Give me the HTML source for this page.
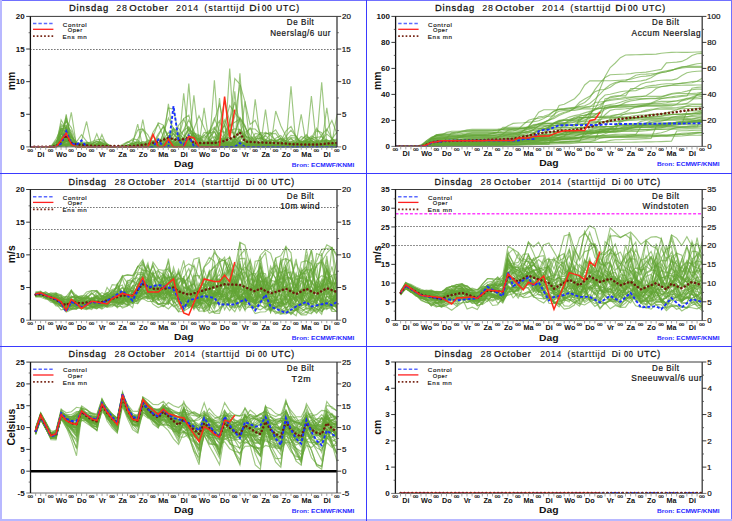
<!DOCTYPE html>
<html><head><meta charset="utf-8"><style>html,body{margin:0;padding:0;background:#fff;width:732px;height:521px;overflow:hidden}</style></head><body>
<svg width="732" height="521" viewBox="0 0 732 521" font-family='"Liberation Sans", sans-serif' style="display:block">
<rect x="0" y="0" width="732" height="521" fill="#fff"/>
<defs>
<clipPath id="c0"><rect x="30.4" y="15.399999999999999" width="306.6" height="132.0"/></clipPath>
<clipPath id="c1"><rect x="395.6" y="15.399999999999999" width="306.6" height="131.5"/></clipPath>
<clipPath id="c2"><rect x="30.4" y="188.5" width="306.6" height="132.2"/></clipPath>
<clipPath id="c3"><rect x="395.5" y="188.5" width="306.70000000000005" height="132.5"/></clipPath>
<clipPath id="c4"><rect x="30.5" y="361.1" width="306.5" height="132.39999999999998"/></clipPath>
<clipPath id="c5"><rect x="395.4" y="361.0" width="306.80000000000007" height="132.89999999999998"/></clipPath>
</defs>
<g clip-path="url(#c0)">
<line x1="30.4" y1="49.50" x2="337.0" y2="49.50" stroke="#222" stroke-width="1" stroke-dasharray="1,2"/>
<g fill="none" stroke="#62a535" stroke-opacity="0.62" stroke-width="1.15">
<polyline points="30.4,146.9 35.5,146.9 40.6,146.9 45.7,146.9 50.8,146.9 56.0,146.9 61.1,139.7 66.2,141.6 71.3,140.2 76.4,146.9 81.5,146.9 86.6,146.6 91.7,146.3 96.8,146.6 101.9,146.9 107.1,146.9 112.2,146.9 117.3,146.9 122.4,146.9 127.5,146.9 132.6,146.9 137.7,146.5 142.8,144.0 147.9,141.5 153.0,143.0 158.2,145.0 163.3,145.2 168.4,146.1 173.5,146.7 178.6,146.5 183.7,146.6 188.8,146.6 193.9,146.8 199.0,145.5 204.1,144.1 209.3,140.2 214.4,136.3 219.5,141.6 224.6,146.6 229.7,143.5 234.8,139.6 239.9,141.3 245.0,145.5 250.1,146.9 255.2,146.8 260.4,146.7 265.5,146.8 270.6,146.9 275.7,146.9 280.8,146.9 285.9,145.1 291.0,143.2 296.1,142.6 301.2,141.2 306.3,141.7 311.4,144.2 316.6,145.8 321.7,146.3 326.8,146.1 331.9,146.2 337.0,146.3"/>
<polyline points="30.4,146.9 35.5,146.9 40.6,146.9 45.7,146.9 50.8,146.9 56.0,145.6 61.1,141.2 66.2,143.3 71.3,144.5 76.4,146.9 81.5,146.6 86.6,146.2 91.7,145.8 96.8,146.3 101.9,146.9 107.1,146.9 112.2,146.9 117.3,146.9 122.4,146.9 127.5,146.9 132.6,146.9 137.7,146.9 142.8,146.0 147.9,144.1 153.0,144.0 158.2,145.9 163.3,145.8 168.4,144.7 173.5,145.2 178.6,145.7 183.7,146.3 188.8,145.3 193.9,143.6 199.0,145.2 204.1,146.8 209.3,145.9 214.4,142.8 219.5,141.7 224.6,144.8 229.7,146.9 234.8,146.8 239.9,146.8 245.0,146.8 250.1,146.9 255.2,146.8 260.4,144.2 265.5,141.8 270.6,144.4 275.7,146.7 280.8,146.5 285.9,146.3 291.0,144.0 296.1,142.2 301.2,139.5 306.3,135.9 311.4,140.6 316.6,146.4 321.7,146.9 326.8,146.9 331.9,145.5 337.0,144.1"/>
<polyline points="30.4,146.9 35.5,146.9 40.6,146.9 45.7,146.9 50.8,146.9 56.0,145.4 61.1,146.9 66.2,139.6 71.3,139.5 76.4,146.9 81.5,146.5 86.6,146.7 91.7,146.9 96.8,145.4 101.9,143.7 107.1,145.1 112.2,146.8 117.3,146.9 122.4,146.8 127.5,146.7 132.6,146.7 137.7,146.8 142.8,146.8 147.9,146.8 153.0,146.7 158.2,146.6 163.3,146.7 168.4,140.1 173.5,131.3 178.6,136.0 183.7,141.3 188.8,139.8 193.9,143.3 199.0,146.7 204.1,146.8 209.3,146.9 214.4,139.7 219.5,132.4 224.6,139.7 229.7,146.9 234.8,139.4 239.9,131.7 245.0,139.1 250.1,141.9 255.2,133.4 260.4,134.4 265.5,143.1 270.6,146.7 275.7,144.6 280.8,142.7 285.9,140.7 291.0,138.9 296.1,143.0 301.2,146.9 306.3,146.9 311.4,145.4 316.6,143.8 321.7,145.4 326.8,146.9 331.9,146.9 337.0,146.9"/>
<polyline points="30.4,146.9 35.5,146.9 40.6,146.9 45.7,146.9 50.8,146.9 56.0,146.9 61.1,134.4 66.2,116.7 71.3,136.7 76.4,142.0 81.5,134.7 86.6,141.4 91.7,146.3 96.8,145.8 101.9,146.3 107.1,146.9 112.2,146.9 117.3,146.9 122.4,146.9 127.5,145.0 132.6,143.0 137.7,145.0 142.8,146.9 147.9,146.9 153.0,145.0 158.2,142.6 163.3,144.1 168.4,146.5 173.5,146.0 178.6,143.9 183.7,143.6 188.8,145.7 193.9,142.5 199.0,138.1 204.1,142.5 209.3,143.7 214.4,140.4 219.5,143.7 224.6,139.5 229.7,130.7 234.8,128.8 239.9,129.5 245.0,138.9 250.1,146.9 255.2,146.9 260.4,146.9 265.5,146.8 270.6,146.3 275.7,145.7 280.8,146.3 285.9,146.8 291.0,146.8 296.1,146.9 301.2,146.1 306.3,145.1 311.4,145.8 316.6,144.2 321.7,141.2 326.8,130.2 331.9,120.5 337.0,134.0"/>
<polyline points="30.4,146.9 35.5,146.9 40.6,146.9 45.7,146.9 50.8,146.9 56.0,146.9 61.1,139.8 66.2,132.7 71.3,143.3 76.4,146.9 81.5,143.7 86.6,145.3 91.7,146.3 96.8,145.2 101.9,145.5 107.1,146.5 112.2,146.9 117.3,146.9 122.4,146.8 127.5,145.7 132.6,144.6 137.7,145.8 142.8,146.9 147.9,144.7 153.0,132.2 158.2,124.1 163.3,136.5 168.4,146.8 173.5,146.7 178.6,146.8 183.7,137.6 188.8,127.5 193.9,135.8 199.0,140.1 204.1,135.2 209.3,139.6 214.4,141.7 219.5,138.4 224.6,139.3 229.7,140.0 234.8,138.6 239.9,142.8 245.0,146.9 250.1,146.8 255.2,146.4 260.4,145.3 265.5,145.0 270.6,146.2 275.7,146.1 280.8,145.4 285.9,146.1 291.0,146.9 296.1,146.9 301.2,146.9 306.3,146.9 311.4,137.9 316.6,128.1 321.7,136.2 326.8,144.9 331.9,143.3 337.0,143.2"/>
<polyline points="30.4,146.9 35.5,146.9 40.6,146.9 45.7,146.9 50.8,146.9 56.0,145.9 61.1,142.0 66.2,114.3 71.3,143.5 76.4,146.9 81.5,146.7 86.6,146.8 91.7,145.9 96.8,144.9 101.9,145.9 107.1,146.9 112.2,146.9 117.3,146.9 122.4,146.9 127.5,146.9 132.6,146.5 137.7,146.1 142.8,145.8 147.9,145.2 153.0,145.0 158.2,145.2 163.3,145.5 168.4,145.1 173.5,145.2 178.6,146.3 183.7,146.9 188.8,146.9 193.9,146.9 199.0,146.8 204.1,146.7 209.3,146.6 214.4,145.8 219.5,144.7 224.6,142.7 229.7,141.7 234.8,144.5 239.9,146.9 245.0,146.9 250.1,144.5 255.2,142.1 260.4,144.1 265.5,142.5 270.6,139.3 275.7,141.6 280.8,142.6 285.9,142.8 291.0,145.0 296.1,146.3 301.2,144.9 306.3,143.3 311.4,145.1 316.6,146.7 321.7,145.7 326.8,144.7 331.9,145.2 337.0,145.7"/>
<polyline points="30.4,146.9 35.5,146.9 40.6,146.9 45.7,146.9 50.8,146.9 56.0,139.0 61.1,129.2 66.2,146.9 71.3,136.3 76.4,146.9 81.5,140.9 86.6,121.5 91.7,146.2 96.8,144.5 101.9,142.1 107.1,144.5 112.2,146.9 117.3,146.9 122.4,146.9 127.5,146.9 132.6,146.9 137.7,139.2 142.8,129.3 147.9,134.8 153.0,144.7 158.2,145.5 163.3,144.1 168.4,145.5 173.5,141.8 178.6,135.9 183.7,130.5 188.8,126.7 193.9,135.9 199.0,144.1 204.1,143.6 209.3,143.3 214.4,143.4 219.5,143.5 224.6,134.6 229.7,125.6 234.8,122.3 239.9,119.0 245.0,127.3 250.1,135.6 255.2,141.2 260.4,143.3 265.5,134.3 270.6,132.5 275.7,141.5 280.8,146.2 285.9,145.6 291.0,145.4 296.1,143.3 301.2,141.8 306.3,140.0 311.4,138.5 316.6,140.6 321.7,141.0 326.8,140.1 331.9,141.2 337.0,143.7"/>
<polyline points="30.4,146.9 35.5,146.9 40.6,146.9 45.7,146.9 50.8,146.9 56.0,146.9 61.1,134.3 66.2,120.1 71.3,134.6 76.4,146.9 81.5,145.4 86.6,146.2 91.7,146.7 96.8,143.5 101.9,140.7 107.1,143.9 112.2,146.9 117.3,146.9 122.4,146.9 127.5,145.0 132.6,143.2 137.7,124.1 142.8,146.9 147.9,146.9 153.0,146.9 158.2,146.9 163.3,146.9 168.4,140.3 173.5,133.7 178.6,140.3 183.7,138.1 188.8,129.2 193.9,133.5 199.0,137.0 204.1,140.8 209.3,131.8 214.4,118.3 219.5,130.6 224.6,132.6 229.7,124.3 234.8,136.6 239.9,146.0 245.0,136.0 250.1,127.7 255.2,137.7 260.4,146.9 265.5,146.9 270.6,146.0 275.7,143.8 280.8,142.3 285.9,136.3 291.0,130.1 296.1,136.7 301.2,143.8 306.3,140.4 311.4,136.0 316.6,138.8 321.7,144.7 326.8,146.9 331.9,146.9 337.0,146.9"/>
<polyline points="30.4,146.9 35.5,146.9 40.6,146.9 45.7,146.9 50.8,146.9 56.0,146.9 61.1,145.5 66.2,145.2 71.3,146.4 76.4,146.9 81.5,146.5 86.6,146.1 91.7,146.5 96.8,146.8 101.9,146.9 107.1,146.9 112.2,146.9 117.3,146.9 122.4,146.8 127.5,146.7 132.6,146.8 137.7,146.9 142.8,146.8 147.9,146.7 153.0,146.4 158.2,146.2 163.3,146.5 168.4,146.2 173.5,145.5 178.6,146.2 183.7,146.9 188.8,83.6 193.9,146.9 199.0,146.9 204.1,146.4 209.3,145.8 214.4,146.4 219.5,146.9 224.6,146.9 229.7,145.1 234.8,142.4 239.9,142.5 245.0,144.4 250.1,145.6 255.2,145.9 260.4,146.3 265.5,146.6 270.6,146.5 275.7,146.5 280.8,146.3 285.9,146.4 291.0,146.7 296.1,146.3 301.2,145.9 306.3,146.5 311.4,146.9 316.6,146.4 321.7,146.0 326.8,146.3 331.9,145.5 337.0,144.6"/>
<polyline points="30.4,146.9 35.5,146.9 40.6,146.9 45.7,146.9 50.8,146.9 56.0,146.9 61.1,132.8 66.2,141.3 71.3,139.5 76.4,146.9 81.5,145.6 86.6,144.2 91.7,145.2 96.8,146.6 101.9,146.8 107.1,146.9 112.2,146.9 117.3,146.9 122.4,146.9 127.5,146.9 132.6,145.2 137.7,143.2 142.8,144.7 147.9,146.6 153.0,146.9 158.2,146.9 163.3,146.4 168.4,145.9 173.5,146.4 178.6,146.9 183.7,141.8 188.8,133.1 193.9,134.5 199.0,143.3 204.1,146.9 209.3,146.7 214.4,80.3 219.5,146.7 224.6,146.9 229.7,146.9 234.8,146.1 239.9,145.3 245.0,146.1 250.1,146.9 255.2,146.5 260.4,146.2 265.5,144.7 270.6,143.2 275.7,145.0 280.8,145.7 285.9,144.6 291.0,145.7 296.1,144.5 301.2,142.2 306.3,140.4 311.4,138.5 316.6,137.4 321.7,136.6 326.8,141.6 331.9,146.4 337.0,146.7"/>
<polyline points="30.4,146.9 35.5,146.9 40.6,146.9 45.7,146.9 50.8,146.9 56.0,145.0 61.1,137.1 66.2,135.9 71.3,141.8 76.4,146.9 81.5,146.9 86.6,146.4 91.7,146.0 96.8,146.2 101.9,146.4 107.1,146.6 112.2,146.9 117.3,146.9 122.4,146.9 127.5,146.7 132.6,146.6 137.7,144.6 142.8,142.2 147.9,144.0 153.0,146.5 158.2,146.9 163.3,146.9 168.4,146.9 173.5,146.9 178.6,146.9 183.7,144.0 188.8,140.2 193.9,142.2 199.0,144.0 204.1,142.8 209.3,137.3 214.4,131.8 219.5,139.3 224.6,146.8 229.7,132.1 234.8,116.5 239.9,84.9 245.0,146.1 250.1,145.5 255.2,144.1 260.4,145.5 265.5,146.9 270.6,146.9 275.7,146.9 280.8,146.9 285.9,146.9 291.0,146.9 296.1,146.3 301.2,145.3 306.3,145.6 311.4,146.5 316.6,146.9 321.7,146.9 326.8,146.9 331.9,146.9 337.0,146.9"/>
<polyline points="30.4,146.9 35.5,146.9 40.6,146.9 45.7,146.9 50.8,146.9 56.0,145.9 61.1,144.4 66.2,140.4 71.3,141.8 76.4,145.3 81.5,146.5 86.6,146.5 91.7,146.1 96.8,146.3 101.9,146.5 107.1,146.7 112.2,146.9 117.3,146.9 122.4,146.9 127.5,146.9 132.6,146.6 137.7,146.4 142.8,146.2 147.9,145.3 153.0,145.1 158.2,135.9 163.3,126.1 168.4,136.5 173.5,145.3 178.6,143.7 183.7,145.3 188.8,146.9 193.9,146.9 199.0,146.9 204.1,146.9 209.3,146.9 214.4,146.6 219.5,145.3 224.6,143.1 229.7,142.9 234.8,145.3 239.9,146.9 245.0,146.7 250.1,146.5 255.2,99.3 260.4,140.8 265.5,143.6 270.6,146.3 275.7,146.6 280.8,144.8 285.9,142.6 291.0,144.3 296.1,146.1 301.2,144.7 306.3,143.2 311.4,144.6 316.6,146.1 321.7,146.5 326.8,146.3 331.9,143.6 337.0,142.1"/>
<polyline points="30.4,146.9 35.5,146.9 40.6,146.9 45.7,146.9 50.8,146.9 56.0,146.6 61.1,145.6 66.2,144.6 71.3,145.8 76.4,146.6 81.5,146.7 86.6,146.8 91.7,146.9 96.8,146.9 101.9,146.8 107.1,146.7 112.2,146.8 117.3,146.9 122.4,146.9 127.5,146.9 132.6,146.9 137.7,146.9 142.8,146.9 147.9,146.4 153.0,145.7 158.2,145.3 163.3,145.5 168.4,146.3 173.5,146.9 178.6,146.9 183.7,146.9 188.8,146.2 193.9,145.4 199.0,146.2 204.1,146.9 209.3,145.5 214.4,144.1 219.5,145.5 224.6,146.7 229.7,146.4 234.8,146.7 239.9,146.8 245.0,146.7 250.1,146.8 255.2,146.9 260.4,146.9 265.5,146.9 270.6,146.5 275.7,146.2 280.8,146.5 285.9,146.8 291.0,146.3 296.1,145.7 301.2,146.1 306.3,145.7 311.4,96.0 316.6,145.9 321.7,146.2 326.8,145.4 331.9,146.2 337.0,146.9"/>
<polyline points="30.4,146.9 35.5,146.9 40.6,146.9 45.7,146.9 50.8,146.9 56.0,146.9 61.1,146.0 66.2,141.0 71.3,144.0 76.4,146.9 81.5,146.2 86.6,145.6 91.7,146.3 96.8,146.9 101.9,146.9 107.1,146.8 112.2,146.9 117.3,146.9 122.4,146.9 127.5,146.8 132.6,146.8 137.7,146.7 142.8,146.7 147.9,145.9 153.0,145.2 158.2,146.1 163.3,145.0 168.4,143.2 173.5,143.9 178.6,141.5 183.7,138.8 188.8,141.4 193.9,144.2 199.0,145.8 204.1,107.8 209.3,143.9 214.4,142.5 219.5,145.0 224.6,146.9 229.7,146.1 234.8,145.3 239.9,146.1 245.0,146.9 250.1,145.6 255.2,144.2 260.4,145.1 265.5,146.0 270.6,146.5 275.7,146.9 280.8,146.8 285.9,145.9 291.0,144.8 296.1,145.1 301.2,146.3 306.3,146.9 311.4,146.8 316.6,146.9 321.7,144.7 326.8,142.6 331.9,144.5 337.0,146.4"/>
<polyline points="30.4,146.9 35.5,146.9 40.6,146.9 45.7,146.9 50.8,146.9 56.0,141.9 61.1,134.5 66.2,137.2 71.3,144.8 76.4,146.9 81.5,142.0 86.6,142.3 91.7,142.8 96.8,141.9 101.9,143.0 107.1,145.7 112.2,146.9 117.3,146.9 122.4,146.9 127.5,145.4 132.6,144.0 137.7,144.7 142.8,145.4 147.9,143.4 153.0,141.5 158.2,144.2 163.3,143.5 168.4,137.1 173.5,130.5 178.6,128.3 183.7,135.9 188.8,138.0 193.9,132.9 199.0,135.1 204.1,138.2 209.3,132.6 214.4,127.2 219.5,135.3 224.6,124.3 229.7,105.5 234.8,112.7 239.9,119.9 245.0,133.3 250.1,145.9 255.2,145.2 260.4,145.8 265.5,144.9 270.6,143.2 275.7,145.1 280.8,145.0 285.9,142.2 291.0,142.1 296.1,143.1 301.2,114.3 306.3,144.8 311.4,144.5 316.6,143.6 321.7,134.9 326.8,129.1 331.9,138.2 337.0,145.2"/>
<polyline points="30.4,146.9 35.5,146.9 40.6,146.9 45.7,146.9 50.8,146.9 56.0,146.9 61.1,133.4 66.2,137.8 71.3,141.0 76.4,146.9 81.5,146.9 86.6,146.7 91.7,144.2 96.8,141.2 101.9,142.8 107.1,146.0 112.2,146.9 117.3,146.9 122.4,146.8 127.5,146.1 132.6,145.5 137.7,146.2 142.8,146.9 147.9,146.8 153.0,146.9 158.2,145.5 163.3,144.2 168.4,145.5 173.5,146.9 178.6,138.5 183.7,118.5 188.8,115.2 193.9,135.2 199.0,146.9 204.1,146.6 209.3,146.3 214.4,141.9 219.5,137.5 224.6,142.2 229.7,146.9 234.8,146.9 239.9,146.7 245.0,144.3 250.1,142.2 255.2,144.6 260.4,146.1 265.5,143.9 270.6,143.2 275.7,141.2 280.8,138.4 285.9,142.6 291.0,146.7 296.1,146.5 301.2,146.7 306.3,146.9 311.4,146.2 316.6,145.5 321.7,146.2 326.8,146.6 331.9,146.4 337.0,146.6"/>
<polyline points="30.4,146.9 35.5,146.9 40.6,146.9 45.7,146.9 50.8,146.9 56.0,146.9 61.1,128.5 66.2,128.8 71.3,141.2 76.4,146.9 81.5,142.5 86.6,144.7 91.7,146.9 96.8,146.8 101.9,146.3 107.1,146.1 112.2,146.6 117.3,146.9 122.4,146.9 127.5,146.9 132.6,146.9 137.7,144.8 142.8,141.5 147.9,142.2 153.0,143.5 158.2,134.0 163.3,127.1 168.4,136.5 173.5,144.1 178.6,142.0 183.7,129.7 188.8,120.1 193.9,130.8 199.0,143.8 204.1,146.8 209.3,146.9 214.4,142.0 219.5,136.6 224.6,141.0 229.7,146.4 234.8,138.6 239.9,130.3 245.0,137.4 250.1,144.5 255.2,143.7 260.4,142.9 265.5,144.9 270.6,146.8 275.7,146.0 280.8,141.8 285.9,131.0 291.0,126.4 296.1,136.6 301.2,144.4 306.3,142.2 311.4,140.1 316.6,143.7 321.7,146.4 326.8,145.9 331.9,138.9 337.0,131.9"/>
<polyline points="30.4,146.9 35.5,146.9 40.6,146.9 45.7,146.9 50.8,146.9 56.0,142.1 61.1,139.1 66.2,137.2 71.3,141.1 76.4,146.9 81.5,146.0 86.6,145.2 91.7,145.5 96.8,144.4 101.9,143.0 107.1,145.1 112.2,146.9 117.3,146.9 122.4,146.9 127.5,146.9 132.6,141.6 137.7,129.9 142.8,128.9 147.9,140.2 153.0,146.0 158.2,146.4 163.3,146.2 168.4,139.2 173.5,133.4 178.6,140.5 183.7,146.8 188.8,146.6 193.9,146.6 199.0,146.5 204.1,142.4 209.3,132.9 214.4,131.7 219.5,141.0 224.6,146.1 229.7,146.5 234.8,138.0 239.9,129.2 245.0,135.1 250.1,141.1 255.2,143.8 260.4,145.9 265.5,145.0 270.6,144.6 275.7,144.4 280.8,145.3 285.9,146.5 291.0,146.9 296.1,146.9 301.2,143.9 306.3,140.9 311.4,143.9 316.6,146.7 321.7,140.3 326.8,134.0 331.9,138.4 337.0,143.6"/>
<polyline points="30.4,146.9 35.5,146.9 40.6,146.9 45.7,146.9 50.8,146.9 56.0,146.0 61.1,145.8 66.2,144.6 71.3,143.9 76.4,146.9 81.5,146.8 86.6,146.8 91.7,146.8 96.8,146.8 101.9,146.7 107.1,146.8 112.2,146.9 117.3,146.9 122.4,146.9 127.5,146.9 132.6,146.9 137.7,146.7 142.8,146.1 147.9,146.1 153.0,145.5 158.2,144.4 163.3,144.0 168.4,143.9 173.5,145.5 178.6,144.7 183.7,142.1 188.8,143.5 193.9,144.3 199.0,144.1 204.1,145.0 209.3,145.5 214.4,146.2 219.5,146.8 224.6,146.6 229.7,146.7 234.8,146.1 239.9,145.4 245.0,145.4 250.1,144.9 255.2,145.2 260.4,146.4 265.5,146.8 270.6,146.9 275.7,146.9 280.8,146.9 285.9,146.7 291.0,146.6 296.1,146.6 301.2,146.5 306.3,146.7 311.4,146.9 316.6,145.7 321.7,144.5 326.8,145.6 331.9,146.7 337.0,146.6"/>
<polyline points="30.4,146.9 35.5,146.9 40.6,146.9 45.7,146.9 50.8,146.9 56.0,146.9 61.1,145.0 66.2,145.0 71.3,143.4 76.4,146.5 81.5,145.8 86.6,146.4 91.7,146.9 96.8,146.9 101.9,146.9 107.1,146.9 112.2,146.9 117.3,146.9 122.4,146.9 127.5,146.9 132.6,146.6 137.7,146.2 142.8,146.5 147.9,146.5 153.0,146.4 158.2,146.7 163.3,146.6 168.4,146.2 173.5,146.6 178.6,145.5 183.7,144.1 188.8,145.5 193.9,146.8 199.0,145.8 204.1,145.2 209.3,146.1 214.4,146.9 219.5,146.9 224.6,146.5 229.7,140.6 234.8,135.4 239.9,141.0 245.0,146.7 250.1,146.9 255.2,146.9 260.4,146.6 265.5,144.3 270.6,142.6 275.7,144.9 280.8,146.9 285.9,146.9 291.0,146.5 296.1,146.0 301.2,145.9 306.3,145.8 311.4,146.2 316.6,146.6 321.7,144.3 326.8,141.9 331.9,144.4 337.0,146.9"/>
<polyline points="30.4,146.9 35.5,146.9 40.6,146.9 45.7,146.9 50.8,146.9 56.0,146.9 61.1,133.5 66.2,120.9 71.3,127.6 76.4,142.7 81.5,144.2 86.6,143.5 91.7,143.6 96.8,143.6 101.9,145.2 107.1,146.9 112.2,146.9 117.3,146.9 122.4,146.9 127.5,146.3 132.6,143.6 137.7,142.0 142.8,144.7 147.9,146.9 153.0,146.9 158.2,146.9 163.3,133.9 168.4,118.1 173.5,128.4 178.6,144.1 183.7,138.3 188.8,129.7 193.9,138.3 199.0,146.9 204.1,144.0 209.3,141.2 214.4,144.1 219.5,146.9 224.6,146.8 229.7,124.5 234.8,78.6 239.9,84.0 245.0,101.7 250.1,124.4 255.2,120.3 260.4,133.5 265.5,146.6 270.6,146.1 275.7,145.7 280.8,146.3 285.9,146.9 291.0,145.2 296.1,143.1 301.2,143.8 306.3,145.3 311.4,146.3 316.6,146.9 321.7,146.9 326.8,146.4 331.9,146.0 337.0,146.4"/>
<polyline points="30.4,146.9 35.5,146.9 40.6,146.9 45.7,146.9 50.8,146.9 56.0,146.9 61.1,138.0 66.2,141.5 71.3,144.1 76.4,146.9 81.5,146.4 86.6,146.7 91.7,145.4 96.8,143.9 101.9,145.4 107.1,146.9 112.2,146.9 117.3,146.9 122.4,146.9 127.5,146.9 132.6,146.9 137.7,146.9 142.8,146.8 147.9,146.6 153.0,146.4 158.2,144.7 163.3,143.3 168.4,144.6 173.5,141.7 178.6,137.9 183.7,140.3 188.8,142.4 193.9,142.3 199.0,142.2 204.1,144.6 209.3,146.7 214.4,146.6 219.5,146.7 224.6,146.9 229.7,146.9 234.8,146.9 239.9,146.9 245.0,146.9 250.1,145.8 255.2,144.5 260.4,139.8 265.5,135.4 270.6,141.2 275.7,146.9 280.8,146.3 285.9,144.4 291.0,143.7 296.1,145.6 301.2,146.5 306.3,145.4 311.4,144.4 316.6,142.3 321.7,139.9 326.8,142.2 331.9,142.2 337.0,139.6"/>
<polyline points="30.4,146.9 35.5,146.9 40.6,146.9 45.7,146.9 50.8,146.9 56.0,144.6 61.1,138.3 66.2,137.5 71.3,112.3 76.4,145.2 81.5,146.4 86.6,146.9 91.7,146.9 96.8,146.9 101.9,146.9 107.1,146.9 112.2,146.9 117.3,146.9 122.4,146.8 127.5,146.3 132.6,146.1 137.7,146.5 142.8,146.6 147.9,146.5 153.0,146.7 158.2,146.8 163.3,139.4 168.4,132.2 173.5,139.6 178.6,146.9 183.7,145.8 188.8,144.7 193.9,145.8 199.0,146.9 204.1,146.9 209.3,146.8 214.4,146.9 219.5,124.9 224.6,101.2 229.7,121.6 234.8,140.1 239.9,136.6 245.0,140.8 250.1,143.1 255.2,139.5 260.4,137.8 265.5,140.9 270.6,145.3 275.7,146.8 280.8,146.9 285.9,146.4 291.0,145.7 296.1,146.0 301.2,144.0 306.3,141.5 311.4,142.9 316.6,144.3 321.7,145.0 326.8,145.5 331.9,145.9 337.0,146.5"/>
<polyline points="30.4,146.9 35.5,146.9 40.6,146.9 45.7,146.9 50.8,146.9 56.0,144.0 61.1,144.2 66.2,130.6 71.3,135.3 76.4,143.9 81.5,144.1 86.6,145.5 91.7,146.6 96.8,133.8 101.9,146.9 107.1,146.9 112.2,146.9 117.3,146.9 122.4,146.9 127.5,145.9 132.6,143.2 137.7,142.4 142.8,145.1 147.9,146.9 153.0,146.9 158.2,143.2 163.3,139.5 168.4,143.2 173.5,145.4 178.6,143.8 183.7,145.4 188.8,146.9 193.9,146.9 199.0,146.8 204.1,146.4 209.3,143.8 214.4,141.6 219.5,144.3 224.6,146.9 229.7,146.3 234.8,145.8 239.9,146.3 245.0,146.9 250.1,144.6 255.2,141.6 260.4,142.7 265.5,145.1 270.6,146.3 275.7,146.7 280.8,146.1 285.9,145.3 291.0,146.0 296.1,146.8 301.2,146.7 306.3,146.5 311.4,146.7 316.6,146.9 321.7,146.9 326.8,146.6 331.9,146.3 337.0,146.6"/>
<polyline points="30.4,146.9 35.5,146.9 40.6,146.9 45.7,146.9 50.8,146.9 56.0,145.9 61.1,146.3 66.2,146.9 71.3,145.4 76.4,146.9 81.5,146.0 86.6,145.2 91.7,145.8 96.8,146.4 101.9,146.7 107.1,146.9 112.2,146.9 117.3,146.9 122.4,146.9 127.5,146.9 132.6,146.9 137.7,146.9 142.8,119.5 147.9,146.8 153.0,146.8 158.2,146.9 163.3,143.8 168.4,140.2 173.5,142.6 178.6,146.3 183.7,146.7 188.8,143.9 193.9,141.5 199.0,144.3 204.1,143.8 209.3,140.7 214.4,143.6 219.5,146.5 224.6,145.4 229.7,143.0 234.8,141.5 239.9,142.9 245.0,145.5 250.1,146.8 255.2,145.1 260.4,143.4 265.5,145.2 270.6,146.9 275.7,146.9 280.8,146.9 285.9,146.1 291.0,142.3 296.1,139.5 301.2,142.6 306.3,145.8 311.4,145.7 316.6,145.8 321.7,146.1 326.8,146.3 331.9,145.9 337.0,145.4"/>
<polyline points="30.4,146.9 35.5,146.9 40.6,146.9 45.7,146.9 50.8,146.9 56.0,146.9 61.1,143.1 66.2,130.1 71.3,142.7 76.4,146.9 81.5,146.0 86.6,145.0 91.7,145.5 96.8,145.9 101.9,146.4 107.1,146.9 112.2,146.9 117.3,146.9 122.4,146.9 127.5,146.7 132.6,146.6 137.7,146.8 142.8,146.3 147.9,145.7 153.0,145.3 158.2,145.0 163.3,144.4 168.4,143.9 173.5,145.3 178.6,146.7 183.7,93.4 188.8,139.3 193.9,143.1 199.0,146.7 204.1,146.5 209.3,146.7 214.4,146.9 219.5,144.3 224.6,141.7 229.7,144.3 234.8,146.1 239.9,144.1 245.0,143.9 250.1,145.8 255.2,146.4 260.4,145.5 265.5,145.8 270.6,146.4 275.7,144.8 280.8,143.2 285.9,145.1 291.0,146.9 296.1,146.9 301.2,146.9 306.3,146.5 311.4,146.0 316.6,146.5 321.7,146.9 326.8,146.3 331.9,145.4 337.0,145.7"/>
<polyline points="30.4,146.9 35.5,146.9 40.6,146.9 45.7,146.9 50.8,146.9 56.0,146.9 61.1,143.8 66.2,125.9 71.3,141.4 76.4,145.6 81.5,146.1 86.6,145.9 91.7,146.4 96.8,146.9 101.9,146.9 107.1,146.9 112.2,146.9 117.3,146.9 122.4,145.8 127.5,141.9 132.6,140.3 137.7,144.2 142.8,146.9 147.9,145.9 153.0,144.9 158.2,145.9 163.3,146.8 168.4,146.6 173.5,146.5 178.6,145.9 183.7,143.8 188.8,142.4 193.9,128.7 199.0,115.7 204.1,127.7 209.3,138.9 214.4,142.9 219.5,146.9 224.6,146.9 229.7,68.6 234.8,144.9 239.9,142.9 245.0,143.0 250.1,143.2 255.2,145.1 260.4,144.6 265.5,140.9 270.6,141.8 275.7,145.5 280.8,146.9 285.9,146.9 291.0,146.9 296.1,146.9 301.2,143.4 306.3,139.8 311.4,143.4 316.6,146.9 321.7,146.9 326.8,146.9 331.9,145.0 337.0,143.1"/>
<polyline points="30.4,146.9 35.5,146.9 40.6,146.9 45.7,146.9 50.8,146.9 56.0,146.2 61.1,146.1 66.2,143.3 71.3,145.9 76.4,146.9 81.5,146.2 86.6,145.7 91.7,146.3 96.8,146.7 101.9,146.6 107.1,146.8 112.2,146.9 117.3,146.9 122.4,146.8 127.5,146.2 132.6,145.7 137.7,146.3 142.8,146.9 147.9,146.9 153.0,146.5 158.2,146.2 163.3,146.5 168.4,146.9 173.5,146.2 178.6,145.5 183.7,142.7 188.8,139.3 193.9,141.9 199.0,146.1 204.1,146.9 209.3,146.9 214.4,146.9 219.5,146.9 224.6,146.9 229.7,146.9 234.8,91.4 239.9,146.9 245.0,146.6 250.1,146.4 255.2,146.5 260.4,145.9 265.5,145.5 270.6,145.4 275.7,145.0 280.8,145.7 285.9,146.4 291.0,146.0 296.1,145.6 301.2,146.2 306.3,146.9 311.4,146.9 316.6,146.9 321.7,145.2 326.8,143.6 331.9,144.8 337.0,146.0"/>
<polyline points="30.4,146.9 35.5,146.9 40.6,146.9 45.7,146.9 50.8,146.9 56.0,146.9 61.1,127.6 66.2,141.9 71.3,140.7 76.4,146.9 81.5,146.9 86.6,146.9 91.7,146.9 96.8,146.9 101.9,146.9 107.1,146.9 112.2,146.9 117.3,146.9 122.4,146.7 127.5,146.5 132.6,146.7 137.7,146.9 142.8,146.7 147.9,146.5 153.0,146.3 158.2,146.1 163.3,144.5 168.4,142.1 173.5,138.5 178.6,125.3 183.7,119.0 188.8,130.5 193.9,137.6 199.0,140.7 204.1,145.6 209.3,146.9 214.4,146.9 219.5,134.1 224.6,120.1 229.7,131.8 234.8,133.3 239.9,118.0 245.0,126.4 250.1,142.8 255.2,146.8 260.4,146.8 265.5,109.7 270.6,146.9 275.7,146.7 280.8,145.0 285.9,143.8 291.0,145.4 296.1,144.8 301.2,142.8 306.3,144.8 311.4,146.4 316.6,145.9 321.7,146.4 326.8,146.8 331.9,146.6 337.0,146.8"/>
<polyline points="30.4,146.9 35.5,146.9 40.6,146.9 45.7,146.9 50.8,146.9 56.0,146.9 61.1,138.8 66.2,146.9 71.3,142.1 76.4,145.7 81.5,144.5 86.6,142.7 91.7,144.8 96.8,146.2 101.9,145.5 107.1,146.2 112.2,146.9 117.3,146.9 122.4,146.9 127.5,146.9 132.6,146.9 137.7,146.8 142.8,146.5 147.9,145.7 153.0,142.3 158.2,140.2 163.3,143.9 168.4,146.9 173.5,146.9 178.6,146.9 183.7,146.2 188.8,142.6 193.9,136.3 199.0,135.7 204.1,142.8 209.3,146.9 214.4,146.9 219.5,143.6 224.6,137.6 229.7,138.2 234.8,143.8 239.9,146.2 245.0,146.5 250.1,146.9 255.2,146.8 260.4,145.7 265.5,144.6 270.6,145.7 275.7,146.9 280.8,146.9 285.9,146.9 291.0,146.8 296.1,146.6 301.2,146.1 306.3,145.3 311.4,145.0 316.6,142.8 321.7,82.3 326.8,144.3 331.9,146.9 337.0,146.9"/>
<polyline points="30.4,146.9 35.5,146.9 40.6,146.9 45.7,146.9 50.8,146.9 56.0,146.4 61.1,144.3 66.2,144.9 71.3,145.5 76.4,146.1 81.5,146.6 86.6,146.8 91.7,146.9 96.8,146.9 101.9,146.9 107.1,146.9 112.2,146.9 117.3,146.9 122.4,146.9 127.5,146.9 132.6,146.7 137.7,146.5 142.8,146.7 147.9,146.7 153.0,146.2 158.2,145.7 163.3,145.3 168.4,144.9 173.5,145.1 178.6,146.0 183.7,146.6 188.8,144.8 193.9,143.4 199.0,145.2 204.1,146.9 209.3,146.9 214.4,146.9 219.5,98.0 224.6,146.2 229.7,145.3 234.8,145.8 239.9,146.7 245.0,146.4 250.1,146.0 255.2,146.4 260.4,146.9 265.5,145.7 270.6,144.6 275.7,145.5 280.8,146.1 285.9,146.1 291.0,146.6 296.1,146.7 301.2,146.5 306.3,146.6 311.4,146.5 316.6,146.2 321.7,146.6 326.8,146.6 331.9,146.4 337.0,146.6"/>
<polyline points="30.4,146.9 35.5,146.9 40.6,146.9 45.7,146.9 50.8,146.9 56.0,144.5 61.1,139.8 66.2,127.0 71.3,139.5 76.4,146.9 81.5,145.2 86.6,144.2 91.7,144.5 96.8,145.8 101.9,146.4 107.1,146.6 112.2,146.9 117.3,146.9 122.4,146.9 127.5,146.9 132.6,144.1 137.7,141.3 142.8,144.1 147.9,146.9 153.0,146.9 158.2,146.9 163.3,146.9 168.4,137.6 173.5,128.3 178.6,133.4 183.7,138.6 188.8,138.8 193.9,137.1 199.0,139.2 204.1,142.2 209.3,141.4 214.4,144.1 219.5,146.9 224.6,146.9 229.7,146.9 234.8,146.9 239.9,146.9 245.0,144.1 250.1,138.7 255.2,138.9 260.4,138.1 265.5,132.3 270.6,135.5 275.7,140.6 280.8,141.4 285.9,140.5 291.0,135.4 296.1,136.0 301.2,142.8 306.3,145.4 311.4,144.4 316.6,143.7 321.7,144.9 326.8,107.8 331.9,142.8 337.0,145.1"/>
<polyline points="30.4,146.9 35.5,146.9 40.6,146.9 45.7,146.9 50.8,146.9 56.0,144.6 61.1,139.3 66.2,136.0 71.3,145.2 76.4,146.9 81.5,146.9 86.6,146.9 91.7,146.8 96.8,146.9 101.9,146.9 107.1,146.9 112.2,146.9 117.3,146.9 122.4,146.3 127.5,145.5 132.6,145.9 137.7,146.6 142.8,146.6 147.9,146.7 153.0,146.3 158.2,145.7 163.3,146.3 168.4,146.9 173.5,146.9 178.6,146.6 183.7,146.2 188.8,142.2 193.9,136.1 199.0,138.5 204.1,144.9 209.3,146.7 214.4,146.5 219.5,144.6 224.6,142.6 229.7,144.8 234.8,146.9 239.9,141.4 245.0,132.3 250.1,128.8 255.2,129.0 260.4,134.3 265.5,143.2 270.6,146.9 275.7,146.8 280.8,146.7 285.9,146.8 291.0,145.9 296.1,144.9 301.2,145.3 306.3,145.7 311.4,146.3 316.6,146.9 321.7,143.5 326.8,140.0 331.9,142.6 337.0,145.1"/>
<polyline points="30.4,146.9 35.5,146.9 40.6,146.9 45.7,146.9 50.8,146.9 56.0,142.9 61.1,124.0 66.2,128.0 71.3,141.0 76.4,146.9 81.5,146.3 86.6,146.5 91.7,146.7 96.8,145.4 101.9,144.2 107.1,145.5 112.2,146.9 117.3,146.9 122.4,146.3 127.5,143.0 132.6,138.9 137.7,139.9 142.8,144.7 147.9,146.9 153.0,146.5 158.2,146.1 163.3,133.2 168.4,108.0 173.5,109.2 178.6,134.7 183.7,146.9 188.8,146.9 193.9,145.8 199.0,144.8 204.1,145.8 209.3,146.9 214.4,146.9 219.5,146.9 224.6,146.9 229.7,146.3 234.8,145.7 239.9,146.3 245.0,144.6 250.1,142.1 255.2,137.5 260.4,133.0 265.5,139.7 270.6,143.6 275.7,141.2 280.8,143.6 285.9,145.7 291.0,146.3 296.1,142.4 301.2,136.5 306.3,138.8 311.4,143.2 316.6,144.0 321.7,141.5 326.8,139.9 331.9,143.8 337.0,146.9"/>
<polyline points="30.4,146.9 35.5,146.9 40.6,146.9 45.7,146.9 50.8,146.9 56.0,145.5 61.1,143.9 66.2,141.8 71.3,144.7 76.4,146.9 81.5,146.9 86.6,146.8 91.7,146.9 96.8,146.9 101.9,146.8 107.1,146.7 112.2,146.8 117.3,146.9 122.4,146.9 127.5,146.9 132.6,146.9 137.7,146.9 142.8,144.4 147.9,140.2 153.0,140.7 158.2,144.5 163.3,146.4 168.4,146.8 173.5,145.2 178.6,143.5 183.7,144.8 188.8,146.1 193.9,146.5 199.0,146.1 204.1,145.3 209.3,146.1 214.4,144.3 219.5,141.8 224.6,139.4 229.7,137.0 234.8,141.9 239.9,146.9 245.0,146.5 250.1,146.2 255.2,142.2 260.4,138.1 265.5,139.6 270.6,141.0 275.7,140.1 280.8,139.1 285.9,141.2 291.0,143.1 296.1,144.8 301.2,140.5 306.3,134.3 311.4,140.6 316.6,144.2 321.7,141.4 326.8,142.2 331.9,140.0 337.0,139.0"/>
<polyline points="30.4,146.9 35.5,146.9 40.6,146.9 45.7,146.9 50.8,146.9 56.0,146.9 61.1,143.2 66.2,138.7 71.3,142.0 76.4,146.9 81.5,146.9 86.6,146.9 91.7,146.5 96.8,146.1 101.9,146.5 107.1,146.9 112.2,146.9 117.3,146.9 122.4,146.6 127.5,146.3 132.6,146.6 137.7,146.9 142.8,146.9 147.9,146.9 153.0,146.9 158.2,143.5 163.3,137.5 168.4,138.5 173.5,144.4 178.6,146.9 183.7,146.9 188.8,146.9 193.9,146.9 199.0,146.8 204.1,146.9 209.3,146.2 214.4,144.5 219.5,143.1 224.6,144.0 229.7,146.0 234.8,146.9 239.9,146.9 245.0,146.9 250.1,146.9 255.2,146.9 260.4,146.9 265.5,146.9 270.6,146.9 275.7,146.8 280.8,146.7 285.9,146.7 291.0,146.8 296.1,146.8 301.2,146.7 306.3,145.9 311.4,145.2 316.6,146.0 321.7,146.5 326.8,144.0 331.9,142.0 337.0,144.6"/>
<polyline points="30.4,146.9 35.5,146.9 40.6,146.9 45.7,146.9 50.8,146.9 56.0,146.9 61.1,126.7 66.2,125.4 71.3,131.0 76.4,146.9 81.5,145.5 86.6,143.1 91.7,141.8 96.8,139.7 101.9,139.2 107.1,143.8 112.2,146.9 117.3,146.9 122.4,146.9 127.5,146.9 132.6,145.9 137.7,144.8 142.8,145.9 147.9,146.9 153.0,146.9 158.2,146.9 163.3,141.8 168.4,136.7 173.5,141.1 178.6,145.1 183.7,145.4 188.8,146.4 193.9,146.7 199.0,144.4 204.1,135.1 209.3,130.5 214.4,139.9 219.5,143.6 224.6,140.2 229.7,121.1 234.8,101.9 239.9,122.7 245.0,143.0 250.1,141.0 255.2,140.0 260.4,143.6 265.5,146.7 270.6,144.8 275.7,138.2 280.8,135.4 285.9,142.1 291.0,144.5 296.1,142.1 301.2,144.5 306.3,146.9 311.4,146.9 316.6,145.6 321.7,142.4 326.8,141.9 331.9,145.1 337.0,146.9"/>
<polyline points="30.4,146.9 35.5,146.9 40.6,146.9 45.7,146.9 50.8,146.9 56.0,145.0 61.1,144.6 66.2,143.2 71.3,143.8 76.4,146.9 81.5,145.8 86.6,146.0 91.7,146.2 96.8,146.3 101.9,146.3 107.1,146.5 112.2,146.8 117.3,146.9 122.4,146.9 127.5,146.9 132.6,146.5 137.7,146.2 142.8,145.8 147.9,145.3 153.0,145.3 158.2,145.3 163.3,145.7 168.4,146.2 173.5,143.7 178.6,140.4 183.7,140.6 188.8,137.5 193.9,135.0 199.0,141.8 204.1,146.9 209.3,146.9 214.4,146.9 219.5,146.9 224.6,146.3 229.7,143.8 234.8,141.7 239.9,141.9 245.0,143.0 250.1,144.8 255.2,144.8 260.4,143.4 265.5,140.4 270.6,133.9 275.7,133.4 280.8,140.9 285.9,145.6 291.0,146.3 296.1,146.8 301.2,146.9 306.3,146.9 311.4,146.9 316.6,146.8 321.7,146.9 326.8,144.1 331.9,139.9 337.0,141.1"/>
<polyline points="30.4,146.9 35.5,146.9 40.6,146.9 45.7,146.9 50.8,146.9 56.0,140.7 61.1,141.9 66.2,126.1 71.3,137.4 76.4,143.1 81.5,146.0 86.6,146.7 91.7,146.4 96.8,145.4 101.9,144.0 107.1,144.9 112.2,146.5 117.3,146.9 122.4,146.9 127.5,146.9 132.6,146.9 137.7,146.7 142.8,146.6 147.9,145.9 153.0,141.3 158.2,138.3 163.3,142.3 168.4,136.7 173.5,128.1 178.6,137.1 183.7,146.4 188.8,146.9 193.9,146.9 199.0,146.9 204.1,144.1 209.3,141.3 214.4,144.1 219.5,146.9 224.6,146.9 229.7,146.9 234.8,146.9 239.9,146.9 245.0,146.9 250.1,146.9 255.2,146.0 260.4,142.3 265.5,139.9 270.6,143.1 275.7,142.6 280.8,138.0 285.9,140.5 291.0,145.6 296.1,146.9 301.2,146.9 306.3,146.9 311.4,146.6 316.6,146.3 321.7,146.6 326.8,146.9 331.9,145.2 337.0,143.5"/>
<polyline points="30.4,146.9 35.5,146.9 40.6,146.9 45.7,146.9 50.8,146.9 56.0,145.7 61.1,141.9 66.2,118.2 71.3,144.0 76.4,146.9 81.5,146.8 86.6,146.8 91.7,146.8 96.8,146.8 101.9,146.8 107.1,146.9 112.2,146.9 117.3,146.9 122.4,146.6 127.5,146.3 132.6,146.6 137.7,146.9 142.8,146.9 147.9,146.9 153.0,146.9 158.2,146.9 163.3,143.3 168.4,139.3 173.5,142.2 178.6,145.8 183.7,146.3 188.8,146.7 193.9,146.9 199.0,146.5 204.1,143.9 209.3,142.2 214.4,144.8 219.5,146.9 224.6,146.9 229.7,146.5 234.8,143.0 239.9,137.0 245.0,135.5 250.1,138.6 255.2,142.3 260.4,145.4 265.5,146.9 270.6,146.9 275.7,146.9 280.8,146.9 285.9,146.9 291.0,146.9 296.1,146.9 301.2,146.0 306.3,142.5 311.4,140.7 316.6,144.2 321.7,145.9 326.8,144.8 331.9,145.9 337.0,146.9"/>
<polyline points="30.4,146.9 35.5,146.9 40.6,146.9 45.7,146.9 50.8,146.9 56.0,145.2 61.1,128.6 66.2,127.8 71.3,141.1 76.4,143.9 81.5,145.6 86.6,145.9 91.7,146.4 96.8,146.9 101.9,134.5 107.1,146.9 112.2,146.9 117.3,146.9 122.4,146.1 127.5,145.3 132.6,146.1 137.7,146.9 142.8,146.1 147.9,145.2 153.0,146.1 158.2,146.9 163.3,146.9 168.4,146.9 173.5,141.3 178.6,134.4 183.7,138.6 188.8,145.5 193.9,146.9 199.0,144.9 204.1,142.9 209.3,142.1 214.4,141.4 219.5,144.1 224.6,146.9 229.7,146.8 234.8,133.9 239.9,117.3 245.0,125.4 250.1,141.2 255.2,146.0 260.4,145.4 265.5,144.0 270.6,143.1 275.7,142.3 280.8,141.6 285.9,138.0 291.0,138.0 296.1,143.9 301.2,146.9 306.3,146.9 311.4,144.0 316.6,140.9 321.7,143.6 326.8,146.6 331.9,146.1 337.0,145.4"/>
<polyline points="30.4,146.9 35.5,146.9 40.6,146.9 45.7,146.9 50.8,146.9 56.0,146.4 61.1,145.3 66.2,138.5 71.3,143.4 76.4,145.6 81.5,143.8 86.6,145.5 91.7,146.9 96.8,146.9 101.9,146.9 107.1,146.9 112.2,146.9 117.3,146.9 122.4,146.9 127.5,146.3 132.6,145.6 137.7,146.3 142.8,146.9 147.9,146.9 153.0,146.9 158.2,145.5 163.3,143.2 168.4,103.8 173.5,140.1 178.6,138.0 183.7,142.3 188.8,145.5 193.9,145.9 199.0,146.7 204.1,146.9 209.3,138.0 214.4,128.3 219.5,136.3 224.6,146.0 229.7,146.9 234.8,144.3 239.9,141.7 245.0,144.1 250.1,146.4 255.2,146.7 260.4,146.9 265.5,146.5 270.6,146.1 275.7,146.5 280.8,146.9 285.9,145.9 291.0,145.0 296.1,143.3 301.2,141.6 306.3,144.2 311.4,146.9 316.6,145.4 321.7,143.8 326.8,145.3 331.9,146.8 337.0,146.9"/>
<polyline points="30.4,146.9 35.5,146.9 40.6,146.9 45.7,146.9 50.8,146.9 56.0,146.9 61.1,119.8 66.2,129.0 71.3,133.5 76.4,146.9 81.5,145.7 86.6,146.0 91.7,145.7 96.8,144.0 101.9,143.4 107.1,145.4 112.2,146.8 117.3,146.9 122.4,146.9 127.5,146.9 132.6,146.9 137.7,145.4 142.8,144.0 147.9,144.9 153.0,137.2 158.2,122.8 163.3,125.1 168.4,139.5 173.5,144.8 178.6,142.1 183.7,141.5 188.8,144.3 193.9,95.4 199.0,141.3 204.1,132.3 209.3,133.3 214.4,120.5 219.5,104.3 224.6,126.1 229.7,146.8 234.8,146.7 239.9,146.8 245.0,146.5 250.1,146.1 255.2,145.6 260.4,145.0 265.5,143.5 270.6,139.9 275.7,140.4 280.8,144.9 285.9,143.7 291.0,137.6 296.1,138.0 301.2,141.8 306.3,142.4 311.4,142.3 316.6,142.1 321.7,144.5 326.8,146.9 331.9,146.9 337.0,146.9"/>
<polyline points="30.4,146.9 35.5,146.9 40.6,146.9 45.7,146.9 50.8,146.9 56.0,146.9 61.1,130.1 66.2,131.3 71.3,138.0 76.4,146.9 81.5,143.2 86.6,144.7 91.7,143.9 96.8,141.4 101.9,144.2 107.1,146.9 112.2,146.9 117.3,146.9 122.4,144.6 127.5,141.9 132.6,143.7 137.7,146.4 142.8,146.9 147.9,145.2 153.0,143.5 158.2,143.3 163.3,140.6 168.4,137.3 173.5,138.9 178.6,144.2 183.7,146.8 188.8,146.6 193.9,146.5 199.0,146.3 204.1,146.6 209.3,143.6 214.4,129.0 219.5,120.9 224.6,135.6 229.7,146.9 234.8,146.9 239.9,73.2 245.0,141.6 250.1,142.7 255.2,140.9 260.4,132.7 265.5,133.2 270.6,134.0 275.7,129.9 280.8,138.4 285.9,144.0 291.0,141.0 296.1,143.8 301.2,146.8 306.3,146.9 311.4,140.6 316.6,130.3 321.7,132.7 326.8,142.0 331.9,144.6 337.0,145.1"/>
<polyline points="30.4,146.9 35.5,146.9 40.6,146.9 45.7,146.9 50.8,146.9 56.0,145.4 61.1,136.8 66.2,138.9 71.3,145.2 76.4,146.9 81.5,146.6 86.6,146.1 91.7,146.2 96.8,146.7 101.9,146.3 107.1,145.8 112.2,146.3 117.3,146.9 122.4,146.9 127.5,146.9 132.6,146.9 137.7,145.6 142.8,144.2 147.9,145.6 153.0,146.9 158.2,146.6 163.3,145.7 168.4,145.3 173.5,146.2 178.6,146.9 183.7,146.9 188.8,146.9 193.9,146.9 199.0,145.6 204.1,144.3 209.3,144.6 214.4,143.9 219.5,133.5 224.6,125.0 229.7,136.4 234.8,145.1 239.9,141.9 245.0,101.2 250.1,145.3 255.2,146.5 260.4,146.7 265.5,146.9 270.6,146.9 275.7,146.4 280.8,145.8 285.9,146.4 291.0,146.9 296.1,146.9 301.2,146.9 306.3,146.2 311.4,145.4 316.6,146.1 321.7,146.9 326.8,146.1 331.9,145.3 337.0,146.1"/>
<polyline points="30.4,146.9 35.5,146.9 40.6,146.9 45.7,146.9 50.8,146.9 56.0,146.9 61.1,142.6 66.2,146.2 71.3,143.0 76.4,145.7 81.5,146.6 86.6,146.9 91.7,146.9 96.8,146.9 101.9,146.9 107.1,146.9 112.2,146.9 117.3,146.9 122.4,146.9 127.5,146.9 132.6,146.3 137.7,145.7 142.8,146.3 147.9,146.1 153.0,145.5 158.2,146.1 163.3,146.4 168.4,146.2 173.5,146.5 178.6,146.7 183.7,146.4 188.8,146.5 193.9,146.4 199.0,146.6 204.1,146.5 209.3,146.2 214.4,146.6 219.5,146.8 224.6,146.8 229.7,146.8 234.8,146.5 239.9,143.6 245.0,141.4 250.1,144.3 255.2,146.0 260.4,145.0 265.5,146.0 270.6,146.9 275.7,146.1 280.8,145.3 285.9,146.1 291.0,86.2 296.1,146.9 301.2,143.3 306.3,137.7 311.4,137.9 316.6,142.0 321.7,145.2 326.8,146.4 331.9,146.7 337.0,146.9"/>
<polyline points="30.4,146.9 35.5,146.9 40.6,146.9 45.7,146.9 50.8,146.9 56.0,146.9 61.1,145.4 66.2,136.3 71.3,144.7 76.4,146.9 81.5,145.4 86.6,144.4 91.7,145.8 96.8,146.9 101.9,146.9 107.1,146.9 112.2,146.9 117.3,146.9 122.4,146.9 127.5,146.9 132.6,146.9 137.7,146.9 142.8,146.9 147.9,146.5 153.0,146.1 158.2,146.3 163.3,146.6 168.4,146.8 173.5,146.9 178.6,146.9 183.7,146.9 188.8,139.8 193.9,132.4 199.0,139.3 204.1,146.7 209.3,144.0 214.4,141.0 219.5,144.0 224.6,144.5 229.7,142.0 234.8,144.5 239.9,146.9 245.0,146.3 250.1,145.7 255.2,146.3 260.4,146.8 265.5,146.7 270.6,146.7 275.7,145.9 280.8,144.7 285.9,143.6 291.0,143.5 296.1,145.3 301.2,146.2 306.3,144.8 311.4,143.2 316.6,143.8 321.7,145.6 326.8,146.3 331.9,143.1 337.0,114.3"/>
<polyline points="30.4,146.9 35.5,146.9 40.6,146.9 45.7,146.9 50.8,146.9 56.0,146.9 61.1,143.1 66.2,135.6 71.3,143.9 76.4,141.8 81.5,145.6 86.6,146.8 91.7,146.7 96.8,146.8 101.9,146.7 107.1,146.4 112.2,146.7 117.3,146.9 122.4,146.7 127.5,146.6 132.6,146.7 137.7,146.8 142.8,146.4 147.9,143.8 153.0,141.9 158.2,144.2 163.3,146.1 168.4,146.5 173.5,146.9 178.6,146.9 183.7,145.0 188.8,143.2 193.9,145.0 199.0,146.9 204.1,146.9 209.3,146.8 214.4,146.6 219.5,146.6 224.6,145.9 229.7,145.2 234.8,144.6 239.9,143.7 245.0,144.0 250.1,144.9 255.2,146.1 260.4,146.9 265.5,146.9 270.6,146.9 275.7,111.0 280.8,125.7 285.9,136.1 291.0,146.7 296.1,145.9 301.2,145.2 306.3,146.1 311.4,146.9 316.6,145.9 321.7,144.9 326.8,145.9 331.9,146.9 337.0,146.9"/>
<polyline points="30.4,146.9 35.5,146.9 40.6,146.9 45.7,146.9 50.8,146.9 56.0,144.8 61.1,144.6 66.2,141.1 71.3,141.5 76.4,146.6 81.5,144.2 86.6,145.6 91.7,146.8 96.8,146.6 101.9,146.2 107.1,146.2 112.2,146.7 117.3,146.9 122.4,146.9 127.5,146.8 132.6,146.2 137.7,145.5 142.8,145.2 147.9,144.0 153.0,144.3 158.2,146.1 163.3,146.9 168.4,146.7 173.5,146.5 178.6,146.6 183.7,146.8 188.8,146.8 193.9,145.8 199.0,144.6 204.1,144.9 209.3,145.2 214.4,145.2 219.5,145.3 224.6,146.1 229.7,146.9 234.8,146.9 239.9,146.9 245.0,146.9 250.1,146.9 255.2,146.9 260.4,146.9 265.5,146.9 270.6,146.9 275.7,146.9 280.8,146.3 285.9,144.9 291.0,143.8 296.1,144.1 301.2,145.8 306.3,144.2 311.4,141.1 316.6,143.2 321.7,146.3 326.8,146.9 331.9,146.0 337.0,145.0"/>
<polyline points="30.4,146.9 35.5,146.9 40.6,146.9 45.7,146.9 50.8,146.9 56.0,145.9 61.1,143.9 66.2,140.4 71.3,142.6 76.4,146.9 81.5,146.9 86.6,146.9 91.7,146.9 96.8,146.3 101.9,145.8 107.1,146.3 112.2,146.9 117.3,146.9 122.4,146.9 127.5,146.9 132.6,146.9 137.7,146.7 142.8,146.5 147.9,146.7 153.0,146.0 158.2,145.0 163.3,145.8 168.4,146.8 173.5,146.9 178.6,146.9 183.7,146.8 188.8,146.7 193.9,146.2 199.0,145.5 204.1,145.8 209.3,145.1 214.4,143.9 219.5,141.2 224.6,138.7 229.7,142.9 234.8,141.7 239.9,136.5 245.0,137.0 250.1,137.4 255.2,137.3 260.4,136.8 265.5,141.4 270.6,146.6 275.7,146.9 280.8,146.9 285.9,146.8 291.0,146.8 296.1,146.8 301.2,146.3 306.3,142.8 311.4,140.3 316.6,143.1 321.7,144.8 326.8,144.4 331.9,145.6 337.0,146.7"/>
</g>
<polyline points="30.4,146.9 35.5,146.8 40.6,146.8 45.7,146.7 50.8,146.6 56.0,146.6 61.1,141.7 66.2,135.2 71.3,143.0 76.4,144.3 81.5,144.9 86.6,145.4 91.7,145.9 96.8,146.0 101.9,146.0 107.1,146.0 112.2,146.1 117.3,146.1 122.4,146.2 127.5,146.2 132.6,146.2 137.7,145.6 142.8,144.9 147.9,143.9 153.0,142.8 158.2,141.7 163.3,139.7 168.4,137.8 173.5,139.1 178.6,140.4 183.7,139.1 188.8,137.8 193.9,143.0 199.0,143.0 204.1,143.0 209.3,143.0 214.4,143.0 219.5,142.0 224.6,141.0 229.7,138.7 234.8,136.5 239.9,132.5 245.0,141.7 250.1,142.0 255.2,142.3 260.4,142.5 265.5,142.7 270.6,142.8 275.7,143.0 280.8,143.3 285.9,143.6 291.0,144.0 296.1,144.3 301.2,144.4 306.3,144.5 311.4,144.5 316.6,144.6 321.7,144.1 326.8,143.6 331.9,143.3 337.0,143.0" fill="none" stroke="#6e1e0e" stroke-width="2.5" stroke-linecap="round" stroke-dasharray="0.1,3.8"/>
<polyline points="30.4,146.9 35.5,146.9 40.6,146.9 45.7,146.9 50.8,146.9 56.0,146.9 61.1,143.6 66.2,131.2 71.3,143.0 76.4,144.9 81.5,140.4 86.6,146.9 91.7,146.9 96.8,146.9 101.9,146.9 107.1,146.9 112.2,146.9 117.3,146.9 122.4,146.9 127.5,146.9 132.6,146.9 137.7,146.9 142.8,146.9 147.9,146.9 153.0,146.9 158.2,139.7 163.3,146.9 168.4,146.9 173.5,106.1 178.6,141.0 183.7,144.9 188.8,135.8 193.9,146.2 199.0,146.9 204.1,146.9 209.3,146.9 214.4,146.9 219.5,146.9 224.6,146.9 229.7,146.9 234.8,146.9 239.9,143.0 245.0,146.9 250.1,146.9 255.2,146.9 260.4,146.9 265.5,146.9 270.6,146.9 275.7,146.9 280.8,146.9 285.9,146.9 291.0,146.9 296.1,146.9 301.2,146.9 306.3,146.9 311.4,146.9 316.6,146.9 321.7,146.9 326.8,146.9 331.9,146.9 337.0,146.9" fill="none" stroke="#1a30ff" stroke-width="1.9" stroke-dasharray="3,1.9"/>
<polyline points="30.4,146.9 35.5,146.9 40.6,146.9 45.7,146.9 50.8,146.9 56.0,146.9 61.1,140.4 66.2,133.2 71.3,144.3 76.4,146.9 81.5,146.9 86.6,146.9 91.7,146.9 96.8,146.9 101.9,146.9 107.1,146.9 112.2,146.9 117.3,146.9 122.4,146.9 127.5,146.9 132.6,146.9 137.7,146.9 142.8,146.9 147.9,146.9 153.0,134.5 158.2,146.9 163.3,146.9 168.4,139.1 173.5,146.9 178.6,146.9 183.7,146.9 188.8,136.5 193.9,137.8 199.0,146.9 204.1,146.9 209.3,146.9 214.4,146.9 219.5,146.9 224.6,96.7 229.7,137.1 234.8,109.7" fill="none" stroke="#ff2a1a" stroke-width="1.5"/>
</g>
<g clip-path="url(#c1)">
<g fill="none" stroke="#62a535" stroke-opacity="0.62" stroke-width="1.15">
<polyline points="395.6,146.4 400.7,146.4 405.8,146.4 410.9,146.4 416.0,146.4 421.2,146.4 426.3,145.0 431.4,143.9 436.5,142.6 441.6,142.6 446.7,142.6 451.8,142.5 456.9,142.4 462.0,142.3 467.1,142.3 472.2,142.3 477.4,142.3 482.5,142.3 487.6,142.3 492.7,142.3 497.8,142.3 502.9,142.2 508.0,141.6 513.1,140.6 518.2,139.8 523.4,139.4 528.5,139.1 533.6,138.9 538.7,138.9 543.8,138.8 548.9,138.7 554.0,138.7 559.1,138.6 564.2,138.4 569.3,137.8 574.5,136.5 579.6,134.4 584.7,133.3 589.8,133.2 594.9,132.6 600.0,131.1 605.1,130.0 610.2,129.7 615.3,129.7 620.4,129.7 625.6,129.7 630.7,129.6 635.8,129.6 640.9,129.6 646.0,129.6 651.1,129.3 656.2,128.5 661.3,127.7 666.4,126.5 671.5,125.5 676.7,125.0 681.8,124.7 686.9,124.6 692.0,124.5 697.1,124.3 702.2,124.2"/>
<polyline points="395.6,146.4 400.7,146.4 405.8,146.4 410.9,146.4 416.0,146.4 421.2,146.1 426.3,145.0 431.4,144.3 436.5,143.8 441.6,143.8 446.7,143.7 451.8,143.6 456.9,143.4 462.0,143.3 467.1,143.3 472.2,143.3 477.4,143.3 482.5,143.3 487.6,143.3 492.7,143.3 497.8,143.3 502.9,143.3 508.0,143.1 513.1,142.5 518.2,141.9 523.4,141.7 528.5,141.5 533.6,141.1 538.7,140.8 543.8,140.5 548.9,140.4 554.0,140.1 559.1,139.4 564.2,139.1 569.3,139.1 574.5,138.9 579.6,138.0 584.7,137.0 589.8,136.6 594.9,136.6 600.0,136.6 605.1,136.5 610.2,136.5 615.3,136.5 620.4,136.5 625.6,136.0 630.7,135.0 635.8,134.5 640.9,134.4 646.0,134.3 651.1,134.2 656.2,133.6 661.3,132.7 666.4,131.2 671.5,129.0 676.7,127.8 681.8,127.7 686.9,127.7 692.0,127.7 697.1,127.4 702.2,126.8"/>
<polyline points="395.6,146.4 400.7,146.4 405.8,146.4 410.9,146.4 416.0,146.4 421.2,146.1 426.3,146.1 431.4,144.6 436.5,143.2 441.6,143.2 446.7,143.1 451.8,143.1 456.9,143.1 462.0,142.7 467.1,142.1 472.2,141.8 477.4,141.7 482.5,141.7 487.6,141.7 492.7,141.7 497.8,141.6 502.9,141.6 508.0,141.6 513.1,141.6 518.2,141.5 523.4,141.5 528.5,141.4 533.6,140.1 538.7,137.0 543.8,134.8 548.9,133.7 554.0,132.3 559.1,131.6 564.2,131.5 569.3,131.5 574.5,131.5 579.6,130.1 584.7,127.2 589.8,125.7 594.9,125.7 600.0,124.2 605.1,121.2 610.2,119.7 615.3,118.7 620.4,116.0 625.6,113.5 630.7,112.7 635.8,112.7 640.9,112.2 646.0,111.4 651.1,110.2 656.2,108.6 661.3,107.8 666.4,107.8 671.5,107.8 676.7,107.5 681.8,106.9 686.9,106.5 692.0,106.5 697.1,106.5 702.2,106.5"/>
<polyline points="395.6,146.4 400.7,146.4 405.8,146.4 410.9,146.4 416.0,146.4 421.2,146.4 426.3,143.9 431.4,137.9 436.5,135.9 441.6,134.9 446.7,132.4 451.8,131.3 456.9,131.2 462.0,131.0 467.1,130.9 472.2,130.9 477.4,130.9 482.5,130.9 487.6,130.9 492.7,130.5 497.8,129.7 502.9,129.4 508.0,129.4 513.1,129.4 518.2,129.0 523.4,128.1 528.5,127.6 533.6,127.5 538.7,127.3 543.8,126.7 548.9,126.0 554.0,125.8 559.1,124.9 564.2,123.2 569.3,122.3 574.5,121.6 579.6,120.3 584.7,119.7 589.8,118.2 594.9,115.0 600.0,111.4 605.1,107.9 610.2,106.3 615.3,106.3 620.4,106.3 625.6,106.3 630.7,106.3 635.8,106.2 640.9,105.9 646.0,105.8 651.1,105.8 656.2,105.8 661.3,105.8 666.4,105.6 671.5,105.3 676.7,105.0 681.8,104.5 686.9,103.4 692.0,100.0 697.1,94.8 702.2,92.2"/>
<polyline points="395.6,146.4 400.7,146.4 405.8,146.4 410.9,146.4 416.0,146.4 421.2,146.4 426.3,145.0 431.4,142.2 436.5,141.4 441.6,141.4 446.7,140.8 451.8,140.5 456.9,140.4 462.0,140.0 467.1,139.7 472.2,139.7 477.4,139.7 482.5,139.7 487.6,139.7 492.7,139.4 497.8,138.9 502.9,138.7 508.0,138.7 513.1,138.3 518.2,135.4 523.4,130.8 528.5,128.7 533.6,128.7 538.7,128.7 543.8,128.7 548.9,126.8 554.0,123.0 559.1,120.8 564.2,119.4 569.3,117.1 574.5,115.6 579.6,114.6 584.7,112.9 589.8,111.4 594.9,110.0 600.0,108.4 605.1,107.5 610.2,107.5 615.3,107.5 620.4,107.4 625.6,107.1 630.7,106.7 635.8,106.6 640.9,106.4 646.0,106.1 651.1,106.0 656.2,106.0 661.3,106.0 666.4,106.0 671.5,106.0 676.7,104.2 681.8,100.4 686.9,98.3 692.0,97.9 697.1,97.2 702.2,96.4"/>
<polyline points="395.6,146.4 400.7,146.4 405.8,146.4 410.9,146.4 416.0,146.4 421.2,146.2 426.3,145.2 431.4,138.7 436.5,138.0 441.6,138.0 446.7,138.0 451.8,138.0 456.9,137.8 462.0,137.4 467.1,137.2 472.2,137.2 477.4,137.2 482.5,137.2 487.6,137.2 492.7,137.2 497.8,137.1 502.9,136.9 508.0,136.7 513.1,136.4 518.2,136.0 523.4,135.6 528.5,135.4 533.6,135.0 538.7,134.7 543.8,134.6 548.9,134.6 554.0,134.6 559.1,134.6 564.2,134.6 569.3,134.5 574.5,134.5 579.6,134.2 584.7,133.8 589.8,133.0 594.9,131.9 600.0,131.4 605.1,131.4 610.2,131.4 615.3,131.0 620.4,130.0 625.6,129.5 630.7,128.6 635.8,127.1 640.9,126.0 646.0,125.1 651.1,124.3 656.2,124.0 661.3,123.8 666.4,123.4 671.5,122.7 676.7,122.4 681.8,122.3 686.9,122.1 692.0,121.6 697.1,121.3 702.2,121.1"/>
<polyline points="395.6,146.4 400.7,146.4 405.8,146.4 410.9,146.4 416.0,146.4 421.2,144.8 426.3,141.3 431.4,141.3 436.5,139.2 441.6,139.2 446.7,138.0 451.8,132.9 456.9,132.8 462.0,132.3 467.1,131.3 472.2,130.9 477.4,130.9 482.5,130.9 487.6,130.9 492.7,130.9 497.8,130.9 502.9,129.3 508.0,125.8 513.1,123.4 518.2,123.0 523.4,122.7 528.5,122.1 533.6,121.8 538.7,120.8 543.8,118.6 548.9,115.4 554.0,111.3 559.1,109.1 564.2,108.6 569.3,107.9 574.5,107.2 579.6,106.5 584.7,105.8 589.8,103.4 594.9,99.1 600.0,94.2 605.1,88.7 610.2,84.8 615.3,82.5 620.4,81.4 625.6,80.7 630.7,78.2 635.8,75.3 640.9,74.2 646.0,74.1 651.1,73.8 656.2,73.5 661.3,72.8 666.4,71.8 671.5,70.4 676.7,68.7 681.8,67.4 686.9,66.3 692.0,64.9 697.1,63.8 702.2,63.2"/>
<polyline points="395.6,146.4 400.7,146.4 405.8,146.4 410.9,146.4 416.0,146.4 421.2,146.4 426.3,143.9 431.4,138.6 436.5,136.1 441.6,136.1 446.7,135.8 451.8,135.7 456.9,135.6 462.0,134.9 467.1,133.7 472.2,133.1 477.4,133.1 482.5,133.1 487.6,133.1 492.7,132.7 497.8,132.0 502.9,127.4 508.0,127.4 513.1,127.4 518.2,127.4 523.4,127.4 528.5,127.4 533.6,126.1 538.7,123.5 543.8,122.2 548.9,120.4 554.0,116.9 559.1,114.2 564.2,112.2 569.3,111.0 574.5,108.0 579.6,102.3 584.7,99.1 589.8,96.2 594.9,91.7 600.0,89.7 605.1,89.5 610.2,87.3 615.3,83.5 620.4,81.6 625.6,81.6 630.7,81.6 635.8,81.5 640.9,80.9 646.0,79.9 651.1,77.8 656.2,74.5 661.3,72.5 666.4,71.8 671.5,70.5 676.7,68.4 681.8,66.8 686.9,66.3 692.0,66.3 697.1,66.3 702.2,66.3"/>
<polyline points="395.6,146.4 400.7,146.4 405.8,146.4 410.9,146.4 416.0,146.4 421.2,146.4 426.3,146.1 431.4,145.8 436.5,145.7 441.6,145.7 446.7,145.6 451.8,145.4 456.9,145.3 462.0,145.3 467.1,145.3 472.2,145.3 477.4,145.3 482.5,145.3 487.6,145.3 492.7,145.3 497.8,145.3 502.9,145.3 508.0,145.2 513.1,145.2 518.2,145.1 523.4,145.0 528.5,144.9 533.6,144.8 538.7,144.5 543.8,144.3 548.9,144.3 554.0,131.7 559.1,131.7 564.2,131.7 569.3,131.6 574.5,131.4 579.6,131.3 584.7,131.3 589.8,131.3 594.9,130.9 600.0,130.0 605.1,129.1 610.2,128.6 615.3,128.4 620.4,128.2 625.6,128.0 630.7,128.0 635.8,127.9 640.9,127.8 646.0,127.7 651.1,127.6 656.2,127.5 661.3,127.4 666.4,127.2 671.5,127.1 676.7,127.1 681.8,127.1 686.9,126.9 692.0,126.7 697.1,126.5 702.2,126.0"/>
<polyline points="395.6,146.4 400.7,146.4 405.8,146.4 410.9,146.4 416.0,146.4 421.2,146.4 426.3,143.6 431.4,142.5 436.5,141.0 441.6,141.0 446.7,140.8 451.8,140.2 456.9,139.9 462.0,139.8 467.1,139.8 472.2,139.8 477.4,139.8 482.5,139.8 487.6,139.8 492.7,139.8 497.8,139.5 502.9,138.7 508.0,138.3 513.1,138.2 518.2,138.2 523.4,138.2 528.5,138.1 533.6,137.9 538.7,137.8 543.8,137.8 548.9,136.8 554.0,134.1 559.1,131.6 564.2,130.9 569.3,130.9 574.5,130.8 579.6,117.6 584.7,117.5 589.8,117.5 594.9,117.5 600.0,117.4 605.1,117.1 610.2,116.9 615.3,116.9 620.4,116.8 625.6,116.7 630.7,116.2 635.8,115.5 640.9,115.1 646.0,114.9 651.1,114.4 656.2,114.2 661.3,113.7 666.4,112.8 671.5,111.5 676.7,109.8 681.8,107.9 686.9,105.9 692.0,104.8 697.1,104.7 702.2,104.7"/>
<polyline points="395.6,146.4 400.7,146.4 405.8,146.4 410.9,146.4 416.0,146.4 421.2,146.0 426.3,144.1 431.4,141.9 436.5,140.9 441.6,140.9 446.7,140.9 451.8,140.8 456.9,140.6 462.0,140.4 467.1,140.3 472.2,140.3 477.4,140.3 482.5,140.3 487.6,140.3 492.7,140.2 497.8,140.2 502.9,139.7 508.0,138.8 513.1,138.2 518.2,138.1 523.4,138.1 528.5,138.1 533.6,138.1 538.7,138.1 543.8,138.1 548.9,137.6 554.0,136.2 559.1,135.3 564.2,134.7 569.3,133.9 574.5,132.0 579.6,129.0 584.7,127.5 589.8,127.5 594.9,124.5 600.0,118.4 605.1,106.1 610.2,105.9 615.3,105.7 620.4,105.1 625.6,104.8 630.7,104.8 635.8,104.8 640.9,104.8 646.0,104.8 651.1,104.8 656.2,104.8 661.3,104.7 666.4,104.4 671.5,104.1 676.7,104.0 681.8,104.0 686.9,104.0 692.0,104.0 697.1,104.0 702.2,104.0"/>
<polyline points="395.6,146.4 400.7,146.4 405.8,146.4 410.9,146.4 416.0,146.4 421.2,146.2 426.3,145.7 431.4,144.4 436.5,143.4 441.6,143.1 446.7,143.0 451.8,142.9 456.9,142.7 462.0,142.6 467.1,142.5 472.2,142.5 477.4,142.5 482.5,142.5 487.6,142.5 492.7,142.5 497.8,142.4 502.9,142.3 508.0,142.2 513.1,141.9 518.2,141.5 523.4,139.3 528.5,135.2 533.6,133.1 538.7,132.8 543.8,132.2 548.9,131.8 554.0,131.8 559.1,131.8 564.2,131.8 569.3,131.8 574.5,131.8 579.6,131.8 584.7,131.4 589.8,130.7 594.9,129.9 600.0,129.6 605.1,129.6 610.2,129.5 615.3,129.4 620.4,119.9 625.6,118.7 630.7,118.1 635.8,118.0 640.9,117.9 646.0,117.5 651.1,116.6 656.2,116.1 661.3,116.0 666.4,115.5 671.5,114.8 676.7,114.3 681.8,114.2 686.9,114.1 692.0,114.0 697.1,113.3 702.2,112.3"/>
<polyline points="395.6,146.4 400.7,146.4 405.8,146.4 410.9,146.4 416.0,146.4 421.2,146.3 426.3,146.1 431.4,145.6 436.5,145.4 441.6,145.3 446.7,145.3 451.8,145.3 456.9,145.3 462.0,145.3 467.1,145.3 472.2,145.2 477.4,145.2 482.5,145.2 487.6,145.2 492.7,145.2 497.8,145.2 502.9,145.2 508.0,145.2 513.1,145.1 518.2,144.9 523.4,144.6 528.5,144.3 533.6,144.2 538.7,144.2 543.8,144.2 548.9,144.2 554.0,144.0 559.1,143.7 564.2,143.6 569.3,143.6 574.5,143.3 579.6,142.8 584.7,142.5 589.8,142.4 594.9,142.3 600.0,142.3 605.1,142.3 610.2,142.2 615.3,142.2 620.4,142.2 625.6,142.2 630.7,142.2 635.8,142.1 640.9,142.0 646.0,141.9 651.1,141.9 656.2,141.8 661.3,141.6 666.4,141.4 671.5,141.2 676.7,131.0 681.8,130.8 686.9,130.7 692.0,130.4 697.1,130.2 702.2,130.2"/>
<polyline points="395.6,146.4 400.7,146.4 405.8,146.4 410.9,146.4 416.0,146.4 421.2,146.4 426.3,146.2 431.4,145.0 436.5,144.5 441.6,144.5 446.7,144.3 451.8,144.1 456.9,143.9 462.0,143.9 467.1,143.9 472.2,143.9 477.4,143.9 482.5,143.9 487.6,143.9 492.7,143.9 497.8,143.9 502.9,143.8 508.0,143.8 513.1,143.6 518.2,143.3 523.4,143.1 528.5,142.7 533.6,142.0 538.7,141.4 543.8,140.3 548.9,138.7 554.0,137.6 559.1,137.1 564.2,136.8 569.3,129.0 574.5,128.4 579.6,127.6 584.7,127.2 589.8,127.2 594.9,127.0 600.0,126.7 605.1,126.6 610.2,126.6 615.3,126.3 620.4,125.8 625.6,125.4 630.7,125.2 635.8,125.2 640.9,125.2 646.0,125.1 651.1,124.9 656.2,124.5 661.3,124.1 666.4,124.0 671.5,124.0 676.7,124.0 681.8,124.0 686.9,123.6 692.0,122.7 697.1,122.2 702.2,122.1"/>
<polyline points="395.6,146.4 400.7,146.4 405.8,146.4 410.9,146.4 416.0,146.4 421.2,145.4 426.3,142.9 431.4,141.0 436.5,140.6 441.6,140.6 446.7,139.6 451.8,138.7 456.9,137.9 462.0,136.9 467.1,136.1 472.2,135.9 477.4,135.9 482.5,135.9 487.6,135.9 492.7,135.6 497.8,135.0 502.9,134.5 508.0,134.2 513.1,133.6 518.2,132.5 523.4,131.9 528.5,131.2 533.6,129.3 538.7,126.0 543.8,122.3 548.9,120.1 554.0,118.4 559.1,115.6 564.2,113.2 569.3,111.5 574.5,108.6 579.6,104.7 584.7,102.4 589.8,97.9 594.9,89.6 600.0,82.8 605.1,77.4 610.2,74.7 615.3,74.5 620.4,74.2 625.6,74.0 630.7,73.6 635.8,72.8 640.9,72.5 646.0,72.1 651.1,71.2 656.2,70.2 661.3,69.4 666.4,62.9 671.5,62.5 676.7,62.1 681.8,61.4 686.9,59.0 692.0,55.5 697.1,53.7 702.2,53.4"/>
<polyline points="395.6,146.4 400.7,146.4 405.8,146.4 410.9,146.4 416.0,146.4 421.2,146.4 426.3,143.7 431.4,141.9 436.5,140.7 441.6,140.7 446.7,140.7 451.8,140.7 456.9,140.1 462.0,139.0 467.1,138.2 472.2,138.0 477.4,138.0 482.5,138.0 487.6,138.0 492.7,137.8 497.8,137.6 502.9,137.4 508.0,137.4 513.1,137.4 518.2,137.4 523.4,137.1 528.5,136.6 533.6,136.3 538.7,136.3 543.8,134.7 548.9,129.0 554.0,122.7 559.1,120.4 564.2,120.3 569.3,120.3 574.5,120.2 579.6,119.2 584.7,117.3 589.8,116.4 594.9,116.4 600.0,116.4 605.1,116.4 610.2,115.8 615.3,114.9 620.4,114.5 625.6,114.3 630.7,113.7 635.8,113.0 640.9,111.8 646.0,110.1 651.1,109.3 656.2,109.2 661.3,109.2 666.4,109.1 671.5,109.1 676.7,109.0 681.8,108.7 686.9,108.5 692.0,108.5 697.1,108.4 702.2,108.3"/>
<polyline points="395.6,146.4 400.7,146.4 405.8,146.4 410.9,146.4 416.0,146.4 421.2,146.4 426.3,142.7 431.4,139.1 436.5,138.0 441.6,138.0 446.7,137.1 451.8,136.7 456.9,136.7 462.0,136.6 467.1,136.5 472.2,136.4 477.4,136.3 482.5,136.3 487.6,136.3 492.7,136.3 497.8,136.3 502.9,135.9 508.0,134.8 513.1,133.9 518.2,133.2 523.4,130.6 528.5,126.7 533.6,124.6 538.7,124.0 543.8,123.1 548.9,119.6 554.0,114.3 559.1,111.1 564.2,110.5 569.3,110.5 574.5,110.5 579.6,109.5 584.7,107.4 589.8,106.3 594.9,106.2 600.0,104.5 605.1,101.2 610.2,99.3 615.3,98.8 620.4,98.2 625.6,97.4 630.7,97.0 635.8,97.0 640.9,96.8 646.0,95.8 651.1,92.6 656.2,88.5 661.3,86.5 666.4,86.0 671.5,85.0 676.7,83.7 681.8,83.1 686.9,83.0 692.0,82.8 697.1,81.2 702.2,78.2"/>
<polyline points="395.6,146.4 400.7,146.4 405.8,146.4 410.9,146.4 416.0,146.4 421.2,145.5 426.3,143.9 431.4,142.0 436.5,140.8 441.6,140.8 446.7,140.6 451.8,140.3 456.9,140.0 462.0,139.5 467.1,138.7 472.2,138.4 477.4,138.4 482.5,138.4 487.6,138.4 492.7,138.4 497.8,137.3 502.9,133.9 508.0,130.3 513.1,129.0 518.2,128.8 523.4,128.7 528.5,128.6 533.6,127.1 538.7,124.4 543.8,123.1 548.9,123.1 554.0,123.0 559.1,122.9 564.2,122.9 569.3,122.0 574.5,119.2 579.6,116.2 584.7,115.0 589.8,114.8 594.9,114.7 600.0,113.0 605.1,109.4 610.2,107.1 615.3,105.9 620.4,105.3 625.6,105.1 630.7,104.8 635.8,104.3 640.9,103.8 646.0,103.5 651.1,103.4 656.2,103.4 661.3,103.4 666.4,102.8 671.5,101.6 676.7,101.0 681.8,101.0 686.9,99.7 692.0,97.1 697.1,95.4 702.2,94.7"/>
<polyline points="395.6,146.4 400.7,146.4 405.8,146.4 410.9,146.4 416.0,146.4 421.2,146.2 426.3,146.0 431.4,145.5 436.5,144.9 441.6,144.9 446.7,144.9 451.8,144.9 456.9,144.9 462.0,144.9 467.1,144.8 472.2,144.8 477.4,144.8 482.5,144.8 487.6,144.8 492.7,144.8 497.8,144.8 502.9,144.8 508.0,144.6 513.1,144.5 518.2,144.2 523.4,143.7 528.5,143.1 533.6,142.5 538.7,142.2 543.8,141.8 548.9,140.8 554.0,140.1 559.1,139.6 564.2,139.1 569.3,138.7 574.5,138.4 579.6,138.3 584.7,138.2 589.8,138.2 594.9,138.1 600.0,138.0 605.1,137.7 610.2,137.4 615.3,137.0 620.4,136.6 625.6,136.5 630.7,136.5 635.8,136.5 640.9,136.5 646.0,136.5 651.1,136.5 656.2,136.4 661.3,136.3 666.4,136.3 671.5,136.2 676.7,136.2 681.8,136.0 686.9,135.5 692.0,135.2 697.1,135.2 702.2,135.1"/>
<polyline points="395.6,146.4 400.7,146.4 405.8,146.4 410.9,146.4 416.0,146.4 421.2,146.4 426.3,146.0 431.4,145.7 436.5,145.0 441.6,144.9 446.7,144.7 451.8,144.6 456.9,144.6 462.0,144.6 467.1,144.5 472.2,144.5 477.4,144.5 482.5,144.5 487.6,144.5 492.7,144.5 497.8,144.5 502.9,144.3 508.0,144.3 513.1,144.2 518.2,144.1 523.4,144.0 528.5,143.9 533.6,143.8 538.7,143.7 543.8,143.5 548.9,142.9 554.0,142.6 559.1,142.6 564.2,142.4 569.3,142.0 574.5,141.9 579.6,141.9 584.7,141.9 589.8,141.8 594.9,140.5 600.0,138.2 605.1,137.1 610.2,137.0 615.3,137.0 620.4,137.0 625.6,137.0 630.7,136.4 635.8,135.6 640.9,135.2 646.0,135.2 651.1,135.2 656.2,135.1 661.3,134.9 666.4,134.7 671.5,134.5 676.7,134.3 681.8,134.3 686.9,133.8 692.0,132.8 697.1,132.3 702.2,132.3"/>
<polyline points="395.6,146.4 400.7,146.4 405.8,146.4 410.9,146.4 416.0,146.4 421.2,146.4 426.3,143.7 431.4,138.5 436.5,134.7 441.6,133.9 446.7,133.3 451.8,132.7 456.9,132.0 462.0,131.3 467.1,131.0 472.2,131.0 477.4,131.0 482.5,131.0 487.6,131.0 492.7,130.9 497.8,130.2 502.9,129.2 508.0,128.8 513.1,128.8 518.2,128.8 523.4,128.8 528.5,126.2 533.6,120.5 538.7,116.8 543.8,116.2 548.9,114.5 554.0,111.1 559.1,109.4 564.2,109.4 569.3,108.8 574.5,107.6 579.6,107.1 584.7,107.1 589.8,107.1 594.9,102.6 600.0,89.0 605.1,76.5 610.2,67.5 615.3,63.0 620.4,57.7 625.6,55.0 630.7,54.9 635.8,54.8 640.9,54.6 646.0,54.4 651.1,54.4 656.2,54.1 661.3,53.3 666.4,52.7 671.5,52.4 676.7,52.3 681.8,52.3 686.9,52.3 692.0,52.2 697.1,52.0 702.2,51.9"/>
<polyline points="395.6,146.4 400.7,146.4 405.8,146.4 410.9,146.4 416.0,146.4 421.2,146.4 426.3,144.6 431.4,143.5 436.5,143.0 441.6,143.0 446.7,142.9 451.8,142.9 456.9,142.6 462.0,142.0 467.1,141.7 472.2,141.7 477.4,141.7 482.5,141.7 487.6,141.7 492.7,141.7 497.8,141.7 502.9,141.7 508.0,141.6 513.1,141.6 518.2,141.5 523.4,141.0 528.5,140.3 533.6,139.9 538.7,138.8 543.8,137.0 548.9,135.7 554.0,134.8 559.1,133.9 564.2,133.0 569.3,132.5 574.5,132.5 579.6,132.4 584.7,132.4 589.8,132.4 594.9,132.4 600.0,132.4 605.1,132.4 610.2,132.4 615.3,132.2 620.4,131.7 625.6,130.3 630.7,128.0 635.8,126.8 640.9,126.8 646.0,126.7 651.1,126.2 656.2,125.6 661.3,125.3 666.4,125.3 671.5,125.0 676.7,124.5 681.8,123.5 686.9,122.2 692.0,121.2 697.1,120.3 702.2,118.8"/>
<polyline points="395.6,146.4 400.7,146.4 405.8,146.4 410.9,146.4 416.0,146.4 421.2,145.9 426.3,144.2 431.4,142.3 436.5,135.5 441.6,135.1 446.7,135.0 451.8,135.0 456.9,135.0 462.0,135.0 467.1,135.0 472.2,135.0 477.4,135.0 482.5,135.0 487.6,135.0 492.7,134.9 497.8,134.7 502.9,134.6 508.0,134.6 513.1,134.5 518.2,134.5 523.4,134.4 528.5,132.9 533.6,130.0 538.7,128.6 543.8,128.6 548.9,128.4 554.0,127.9 559.1,127.7 564.2,127.7 569.3,127.7 574.5,127.7 579.6,127.7 584.7,123.3 589.8,114.2 594.9,109.1 600.0,107.8 605.1,105.7 610.2,104.5 615.3,103.8 620.4,102.3 625.6,100.5 630.7,99.3 635.8,98.9 640.9,98.9 646.0,98.9 651.1,98.8 656.2,98.6 661.3,98.4 666.4,97.8 671.5,96.8 676.7,96.0 681.8,95.5 686.9,95.1 692.0,94.8 697.1,94.6 702.2,94.5"/>
<polyline points="395.6,146.4 400.7,146.4 405.8,146.4 410.9,146.4 416.0,146.4 421.2,145.8 426.3,145.3 431.4,142.0 436.5,139.7 441.6,139.1 446.7,138.6 451.8,138.3 456.9,138.3 462.0,135.7 467.1,135.7 472.2,135.7 477.4,135.7 482.5,135.7 487.6,135.7 492.7,135.5 497.8,134.7 502.9,133.8 508.0,133.5 513.1,133.5 518.2,133.5 523.4,132.7 528.5,131.2 533.6,130.5 538.7,130.2 543.8,129.6 548.9,129.3 554.0,129.3 559.1,129.3 564.2,129.3 569.3,129.2 574.5,128.5 579.6,127.5 584.7,127.0 589.8,127.0 594.9,126.9 600.0,126.6 605.1,126.5 610.2,126.5 615.3,126.0 620.4,125.0 625.6,124.1 630.7,123.8 635.8,123.7 640.9,123.6 646.0,123.4 651.1,123.1 656.2,123.0 661.3,122.9 666.4,122.9 671.5,122.8 676.7,122.8 681.8,122.8 686.9,122.8 692.0,122.7 697.1,122.6 702.2,122.5"/>
<polyline points="395.6,146.4 400.7,146.4 405.8,146.4 410.9,146.4 416.0,146.4 421.2,146.2 426.3,146.1 431.4,146.1 436.5,145.8 441.6,145.8 446.7,145.6 451.8,145.3 456.9,145.0 462.0,145.0 467.1,144.9 472.2,144.9 477.4,144.9 482.5,144.9 487.6,144.9 492.7,144.9 497.8,144.9 502.9,144.9 508.0,139.4 513.1,139.4 518.2,139.4 523.4,139.4 528.5,138.8 533.6,137.5 538.7,136.6 543.8,136.5 548.9,136.4 554.0,135.8 559.1,134.8 564.2,134.3 569.3,133.7 574.5,132.4 579.6,131.8 584.7,131.7 589.8,131.4 594.9,130.6 600.0,129.5 605.1,128.7 610.2,128.5 615.3,128.4 620.4,128.1 625.6,127.4 630.7,127.0 635.8,127.0 640.9,127.0 646.0,127.0 651.1,126.9 656.2,126.0 661.3,124.5 666.4,123.6 671.5,123.4 676.7,123.2 681.8,123.0 686.9,122.8 692.0,122.7 697.1,122.5 702.2,122.2"/>
<polyline points="395.6,146.4 400.7,146.4 405.8,146.4 410.9,146.4 416.0,146.4 421.2,146.4 426.3,145.6 431.4,142.3 436.5,141.5 441.6,141.5 446.7,141.3 451.8,140.9 456.9,140.6 462.0,140.4 467.1,140.3 472.2,140.3 477.4,140.3 482.5,140.3 487.6,140.3 492.7,140.3 497.8,140.2 502.9,140.2 508.0,140.1 513.1,139.8 518.2,139.5 523.4,139.1 528.5,138.6 533.6,138.0 538.7,137.7 543.8,137.7 548.9,127.0 554.0,125.5 559.1,124.7 564.2,124.7 569.3,124.6 574.5,124.6 579.6,124.6 584.7,124.1 589.8,123.0 594.9,122.5 600.0,122.3 605.1,121.8 610.2,121.2 615.3,121.0 620.4,120.8 625.6,120.6 630.7,120.4 635.8,120.3 640.9,119.8 646.0,119.1 651.1,118.7 656.2,118.7 661.3,118.7 666.4,118.7 671.5,118.7 676.7,118.5 681.8,118.4 686.9,118.4 692.0,118.3 697.1,118.0 702.2,117.7"/>
<polyline points="395.6,146.4 400.7,146.4 405.8,146.4 410.9,146.4 416.0,146.4 421.2,146.4 426.3,145.8 431.4,141.6 436.5,140.5 441.6,140.3 446.7,140.1 451.8,139.9 456.9,139.8 462.0,139.8 467.1,139.8 472.2,139.8 477.4,139.8 482.5,139.8 487.6,139.6 492.7,138.6 497.8,137.3 502.9,136.7 508.0,136.7 513.1,136.5 518.2,136.1 523.4,135.9 528.5,135.9 533.6,135.8 538.7,135.8 543.8,135.6 548.9,134.9 554.0,134.0 559.1,130.4 564.2,124.2 569.3,120.4 574.5,118.8 579.6,118.0 584.7,118.0 589.8,118.0 594.9,102.4 600.0,102.0 605.1,101.2 610.2,100.4 615.3,99.7 620.4,99.3 625.6,98.8 630.7,97.6 635.8,96.6 640.9,96.4 646.0,96.3 651.1,96.3 656.2,96.3 661.3,96.3 666.4,95.6 671.5,94.2 676.7,93.5 681.8,93.5 686.9,93.5 692.0,93.5 697.1,93.1 702.2,92.4"/>
<polyline points="395.6,146.4 400.7,146.4 405.8,146.4 410.9,146.4 416.0,146.4 421.2,146.3 426.3,146.1 431.4,145.4 436.5,145.2 441.6,145.2 446.7,145.1 451.8,144.8 456.9,144.7 462.0,144.7 467.1,144.6 472.2,144.6 477.4,144.6 482.5,144.6 487.6,144.6 492.7,144.5 497.8,144.2 502.9,144.1 508.0,144.1 513.1,144.1 518.2,144.0 523.4,143.9 528.5,143.8 533.6,143.8 538.7,143.7 543.8,143.4 548.9,142.6 554.0,141.1 559.1,140.1 564.2,139.9 569.3,139.9 574.5,139.9 579.6,139.9 584.7,139.9 589.8,139.9 594.9,139.9 600.0,128.9 605.1,128.9 610.2,128.8 615.3,128.7 620.4,128.6 625.6,128.4 630.7,128.2 635.8,127.8 640.9,127.5 646.0,127.2 651.1,127.1 656.2,127.0 661.3,126.7 666.4,126.5 671.5,126.5 676.7,126.5 681.8,126.5 686.9,126.2 692.0,125.6 697.1,125.1 702.2,125.0"/>
<polyline points="395.6,146.4 400.7,146.4 405.8,146.4 410.9,146.4 416.0,146.4 421.2,146.4 426.3,142.5 431.4,141.6 436.5,140.3 441.6,140.3 446.7,140.3 451.8,140.3 456.9,140.3 462.0,140.3 467.1,140.3 472.2,140.3 477.4,140.3 482.5,140.3 487.6,140.3 492.7,140.2 497.8,140.1 502.9,140.1 508.0,140.1 513.1,140.0 518.2,139.9 523.4,139.7 528.5,139.2 533.6,138.3 538.7,136.6 543.8,132.3 548.9,126.8 554.0,123.5 559.1,121.6 564.2,120.4 569.3,120.1 574.5,120.1 579.6,120.1 584.7,117.6 589.8,112.2 594.9,109.2 600.0,106.5 605.1,100.8 610.2,96.7 615.3,95.9 620.4,95.9 625.6,95.9 630.7,88.5 635.8,88.5 640.9,88.4 646.0,88.0 651.1,87.4 656.2,87.1 661.3,86.7 666.4,85.9 671.5,85.5 676.7,85.4 681.8,85.2 686.9,85.1 692.0,85.1 697.1,85.0 702.2,85.0"/>
<polyline points="395.6,146.4 400.7,146.4 405.8,146.4 410.9,146.4 416.0,146.4 421.2,146.4 426.3,144.8 431.4,144.8 436.5,143.8 441.6,143.6 446.7,143.1 451.8,142.3 456.9,141.8 462.0,141.7 467.1,141.4 472.2,141.3 477.4,141.3 482.5,141.3 487.6,141.3 492.7,141.3 497.8,141.3 502.9,141.3 508.0,141.2 513.1,141.0 518.2,140.0 523.4,138.7 528.5,138.1 533.6,138.1 538.7,138.1 543.8,138.1 548.9,138.0 554.0,137.1 559.1,135.0 564.2,132.8 569.3,131.9 574.5,131.9 579.6,131.9 584.7,131.3 589.8,129.4 594.9,127.7 600.0,127.1 605.1,126.9 610.2,126.9 615.3,126.9 620.4,126.8 625.6,126.6 630.7,126.1 635.8,125.9 640.9,125.9 646.0,125.9 651.1,125.9 656.2,125.9 661.3,125.8 666.4,125.7 671.5,125.3 676.7,125.0 681.8,124.1 686.9,111.3 692.0,110.8 697.1,110.8 702.2,110.8"/>
<polyline points="395.6,146.4 400.7,146.4 405.8,146.4 410.9,146.4 416.0,146.4 421.2,146.3 426.3,145.8 431.4,145.4 436.5,145.1 441.6,145.0 446.7,144.9 451.8,144.9 456.9,144.9 462.0,144.9 467.1,144.9 472.2,144.9 477.4,144.9 482.5,144.9 487.6,144.9 492.7,144.9 497.8,144.9 502.9,144.8 508.0,144.7 513.1,144.7 518.2,144.6 523.4,144.3 528.5,144.0 533.6,143.6 538.7,143.2 543.8,143.0 548.9,143.0 554.0,142.6 559.1,141.9 564.2,141.5 569.3,141.5 574.5,141.5 579.6,141.5 584.7,131.8 589.8,131.6 594.9,131.3 600.0,131.1 605.1,131.1 610.2,131.0 615.3,130.8 620.4,130.7 625.6,130.7 630.7,130.5 635.8,130.0 640.9,129.7 646.0,129.6 651.1,129.4 656.2,129.3 661.3,129.3 666.4,129.2 671.5,129.2 676.7,129.1 681.8,129.0 686.9,128.9 692.0,128.8 697.1,128.7 702.2,128.7"/>
<polyline points="395.6,146.4 400.7,146.4 405.8,146.4 410.9,146.4 416.0,146.4 421.2,145.9 426.3,144.5 431.4,140.5 436.5,139.1 441.6,139.1 446.7,138.7 451.8,138.2 456.9,137.7 462.0,137.5 467.1,137.4 472.2,137.4 477.4,137.4 482.5,137.4 487.6,137.4 492.7,137.4 497.8,136.8 502.9,135.7 508.0,135.1 513.1,135.1 518.2,135.1 523.4,135.1 528.5,135.1 533.6,133.3 538.7,129.5 543.8,126.9 548.9,125.2 554.0,123.6 559.1,121.6 564.2,120.1 569.3,119.2 574.5,118.1 579.6,117.5 584.7,117.5 589.8,117.5 594.9,117.5 600.0,117.5 605.1,117.5 610.2,116.9 615.3,115.3 620.4,113.7 625.6,111.9 630.7,109.0 635.8,106.8 640.9,105.5 646.0,104.4 651.1,103.1 656.2,100.8 661.3,98.7 666.4,97.9 671.5,97.6 676.7,97.1 681.8,96.4 686.9,96.0 692.0,88.2 697.1,87.4 702.2,87.0"/>
<polyline points="395.6,146.4 400.7,146.4 405.8,146.4 410.9,146.4 416.0,146.4 421.2,146.0 426.3,144.4 431.4,142.3 436.5,141.9 441.6,141.9 446.7,141.9 451.8,141.9 456.9,141.9 462.0,141.9 467.1,141.9 472.2,141.9 477.4,141.9 482.5,141.9 487.6,141.8 492.7,141.5 497.8,141.3 502.9,141.2 508.0,141.2 513.1,141.1 518.2,141.0 523.4,140.8 528.5,140.7 533.6,140.6 538.7,140.6 543.8,140.6 548.9,140.4 554.0,139.5 559.1,137.3 564.2,135.7 569.3,135.3 574.5,135.2 579.6,135.2 584.7,134.7 589.8,133.8 594.9,133.4 600.0,133.4 605.1,132.3 610.2,129.4 615.3,125.8 620.4,122.2 625.6,119.7 630.7,119.0 635.8,119.0 640.9,119.0 646.0,118.9 651.1,118.9 656.2,118.7 661.3,118.3 666.4,118.0 671.5,117.7 676.7,117.6 681.8,117.6 686.9,116.9 692.0,115.5 697.1,114.7 702.2,114.3"/>
<polyline points="395.6,146.4 400.7,146.4 405.8,146.4 410.9,146.4 416.0,146.4 421.2,145.6 426.3,141.0 431.4,137.3 436.5,136.1 441.6,136.1 446.7,136.0 451.8,135.9 456.9,135.8 462.0,135.6 467.1,135.0 472.2,134.7 477.4,134.7 482.5,134.7 487.6,134.6 492.7,133.9 497.8,132.3 502.9,130.9 508.0,130.4 513.1,130.4 518.2,130.3 523.4,130.2 528.5,127.4 533.6,119.7 538.7,112.2 543.8,109.7 548.9,109.7 554.0,109.7 559.1,109.5 564.2,109.1 569.3,108.9 574.5,108.9 579.6,108.9 584.7,108.9 589.8,108.9 594.9,108.8 600.0,108.5 605.1,108.4 610.2,107.9 615.3,107.0 620.4,105.1 625.6,102.4 630.7,100.9 635.8,100.3 640.9,99.1 646.0,98.5 651.1,98.2 656.2,98.1 661.3,97.2 666.4,95.1 671.5,93.5 676.7,92.8 681.8,92.2 686.9,91.1 692.0,89.7 697.1,89.1 702.2,89.1"/>
<polyline points="395.6,146.4 400.7,146.4 405.8,146.4 410.9,146.4 416.0,146.4 421.2,146.1 426.3,145.5 431.4,144.5 436.5,144.1 441.6,144.1 446.7,144.1 451.8,144.0 456.9,144.0 462.0,144.0 467.1,144.0 472.2,144.0 477.4,143.9 482.5,143.9 487.6,143.9 492.7,143.9 497.8,143.9 502.9,143.9 508.0,143.4 513.1,142.1 518.2,140.9 523.4,140.4 528.5,140.3 533.6,140.3 538.7,139.9 543.8,139.3 548.9,138.8 554.0,138.7 559.1,138.6 564.2,138.4 569.3,138.1 574.5,138.0 579.6,137.5 584.7,136.4 589.8,134.9 594.9,133.0 600.0,132.0 605.1,132.0 610.2,131.9 615.3,131.8 620.4,130.8 625.6,129.1 630.7,127.6 635.8,126.4 640.9,125.1 646.0,123.5 651.1,122.4 656.2,121.6 661.3,121.2 666.4,119.9 671.5,117.4 676.7,116.2 681.8,115.6 686.9,114.5 692.0,113.6 697.1,112.2 702.2,110.6"/>
<polyline points="395.6,146.4 400.7,146.4 405.8,146.4 410.9,146.4 416.0,146.4 421.2,146.4 426.3,145.7 431.4,144.0 436.5,143.1 441.6,143.1 446.7,143.1 451.8,143.1 456.9,143.0 462.0,142.8 467.1,142.7 472.2,142.7 477.4,142.7 482.5,142.7 487.6,142.7 492.7,142.5 497.8,142.5 502.9,142.5 508.0,142.5 513.1,142.5 518.2,142.5 523.4,141.8 528.5,139.9 533.6,138.3 538.7,137.8 543.8,137.8 548.9,137.8 554.0,137.8 559.1,137.8 564.2,137.7 569.3,137.7 574.5,137.6 579.6,137.1 584.7,136.4 589.8,135.8 594.9,135.6 600.0,135.6 605.1,135.6 610.2,135.6 615.3,135.6 620.4,135.6 625.6,135.6 630.7,135.6 635.8,135.6 640.9,135.6 646.0,135.6 651.1,135.5 656.2,135.5 661.3,135.5 666.4,135.5 671.5,135.3 676.7,134.9 681.8,134.7 686.9,134.7 692.0,134.1 697.1,133.1 702.2,132.7"/>
<polyline points="395.6,146.4 400.7,146.4 405.8,146.4 410.9,146.4 416.0,146.4 421.2,146.4 426.3,142.4 431.4,138.1 436.5,134.9 441.6,134.9 446.7,134.7 451.8,133.9 456.9,132.9 462.0,131.4 467.1,129.9 472.2,129.3 477.4,129.3 482.5,129.3 487.6,129.3 492.7,129.3 497.8,129.1 502.9,128.7 508.0,128.5 513.1,128.5 518.2,128.5 523.4,128.5 528.5,127.4 533.6,125.4 538.7,124.3 543.8,123.9 548.9,123.6 554.0,123.5 559.1,123.4 564.2,122.9 569.3,120.6 574.5,117.3 579.6,115.9 584.7,115.3 589.8,113.9 594.9,108.8 600.0,99.8 605.1,95.0 610.2,94.2 615.3,93.0 620.4,91.7 625.6,91.0 630.7,91.0 635.8,90.6 640.9,88.8 646.0,86.5 651.1,85.6 656.2,85.1 661.3,84.2 666.4,83.7 671.5,83.7 676.7,83.7 681.8,83.4 686.9,82.5 692.0,81.5 697.1,81.2 702.2,81.2"/>
<polyline points="395.6,146.4 400.7,146.4 405.8,146.4 410.9,146.4 416.0,146.4 421.2,146.0 426.3,145.6 431.4,144.8 436.5,144.2 441.6,144.2 446.7,144.0 451.8,143.8 456.9,143.7 462.0,143.6 467.1,143.4 472.2,143.4 477.4,143.3 482.5,143.3 487.6,143.3 492.7,143.3 497.8,143.3 502.9,143.1 508.0,142.9 513.1,142.6 518.2,142.3 523.4,141.9 528.5,141.7 533.6,141.6 538.7,140.9 543.8,139.6 548.9,138.4 554.0,136.5 559.1,134.1 564.2,133.1 569.3,133.1 574.5,133.1 579.6,133.1 584.7,133.1 589.8,133.0 594.9,132.4 600.0,131.4 605.1,130.4 610.2,129.6 615.3,129.1 620.4,128.7 625.6,128.0 630.7,126.7 635.8,124.1 640.9,121.4 646.0,120.3 651.1,120.0 656.2,119.9 661.3,119.9 666.4,119.9 671.5,119.9 676.7,119.9 681.8,119.8 686.9,119.8 692.0,119.3 697.1,117.9 702.2,116.7"/>
<polyline points="395.6,146.4 400.7,146.4 405.8,146.4 410.9,146.4 416.0,146.4 421.2,145.2 426.3,144.2 431.4,140.0 436.5,138.1 441.6,137.4 446.7,137.2 451.8,137.2 456.9,137.1 462.0,136.8 467.1,136.2 472.2,135.8 477.4,135.7 482.5,135.7 487.6,135.7 492.7,135.7 497.8,135.7 502.9,135.7 508.0,135.6 513.1,135.4 518.2,134.3 523.4,132.6 528.5,131.7 533.6,129.6 538.7,125.9 543.8,123.9 548.9,123.8 554.0,123.8 559.1,123.8 564.2,123.8 569.3,123.3 574.5,122.1 579.6,121.6 584.7,121.6 589.8,121.6 594.9,121.6 600.0,121.6 605.1,121.6 610.2,121.6 615.3,121.6 620.4,121.4 625.6,120.5 630.7,119.1 635.8,118.4 640.9,117.5 646.0,115.7 651.1,114.5 656.2,114.2 661.3,114.2 666.4,114.2 671.5,114.2 676.7,114.1 681.8,114.0 686.9,114.0 692.0,114.0 697.1,113.6 702.2,112.9"/>
<polyline points="395.6,146.4 400.7,146.4 405.8,146.4 410.9,146.4 416.0,146.4 421.2,146.2 426.3,145.2 431.4,139.4 436.5,138.9 441.6,138.9 446.7,138.9 451.8,138.8 456.9,138.8 462.0,138.8 467.1,138.8 472.2,138.8 477.4,138.8 482.5,138.8 487.6,138.7 492.7,138.6 497.8,138.6 502.9,138.6 508.0,138.6 513.1,138.6 518.2,138.6 523.4,138.5 528.5,137.8 533.6,136.3 538.7,135.4 543.8,135.2 548.9,135.0 554.0,135.0 559.1,135.0 564.2,134.9 569.3,134.3 574.5,133.4 579.6,133.0 584.7,133.0 589.8,133.0 594.9,132.9 600.0,132.1 605.1,130.1 610.2,127.8 615.3,126.2 620.4,125.3 625.6,125.0 630.7,125.0 635.8,125.0 640.9,125.0 646.0,125.0 651.1,125.0 656.2,125.0 661.3,125.0 666.4,124.8 671.5,123.9 676.7,122.7 681.8,122.2 686.9,122.0 692.0,121.5 697.1,121.3 702.2,121.3"/>
<polyline points="395.6,146.4 400.7,146.4 405.8,146.4 410.9,146.4 416.0,146.4 421.2,146.1 426.3,142.4 431.4,138.6 436.5,137.5 441.6,136.9 446.7,136.6 451.8,136.4 456.9,136.3 462.0,136.3 467.1,133.9 472.2,133.9 477.4,133.9 482.5,133.9 487.6,133.7 492.7,133.4 497.8,133.2 502.9,133.2 508.0,133.0 513.1,132.7 518.2,132.6 523.4,132.6 528.5,132.6 533.6,132.6 538.7,131.4 543.8,128.9 548.9,127.3 554.0,127.0 559.1,127.0 564.2,126.6 569.3,125.8 574.5,124.8 579.6,123.7 584.7,123.2 589.8,123.2 594.9,123.2 600.0,120.6 605.1,114.7 610.2,110.4 615.3,109.3 620.4,109.1 625.6,108.8 630.7,108.2 635.8,107.5 640.9,106.6 646.0,105.5 651.1,103.7 656.2,102.0 661.3,101.4 666.4,101.4 671.5,101.4 676.7,100.8 681.8,99.6 686.9,98.9 692.0,98.9 697.1,98.7 702.2,98.4"/>
<polyline points="395.6,146.4 400.7,146.4 405.8,146.4 410.9,146.4 416.0,146.4 421.2,146.3 426.3,146.0 431.4,144.3 436.5,143.6 441.6,143.3 446.7,142.7 451.8,142.4 456.9,142.4 462.0,142.4 467.1,142.4 472.2,142.4 477.4,142.4 482.5,142.4 487.6,142.4 492.7,142.3 497.8,142.1 502.9,141.9 508.0,141.9 513.1,141.9 518.2,141.9 523.4,141.6 528.5,140.9 533.6,132.3 538.7,131.0 543.8,129.2 548.9,128.3 554.0,128.0 559.1,127.8 564.2,127.7 569.3,127.7 574.5,126.0 579.6,122.3 584.7,120.2 589.8,120.0 594.9,120.0 600.0,119.5 605.1,118.4 610.2,117.9 615.3,117.8 620.4,117.7 625.6,117.7 630.7,117.6 635.8,117.5 640.9,117.4 646.0,117.4 651.1,117.2 656.2,116.8 661.3,116.1 666.4,115.0 671.5,114.5 676.7,114.5 681.8,114.2 686.9,113.6 692.0,113.2 697.1,113.2 702.2,113.2"/>
<polyline points="395.6,146.4 400.7,146.4 405.8,146.4 410.9,146.4 416.0,146.4 421.2,146.4 426.3,141.0 431.4,137.4 436.5,134.8 441.6,134.8 446.7,134.5 451.8,134.3 456.9,134.1 462.0,133.5 467.1,132.8 472.2,132.5 477.4,132.5 482.5,132.5 487.6,132.5 492.7,132.5 497.8,132.5 502.9,132.2 508.0,131.6 513.1,131.2 518.2,129.3 523.4,124.5 528.5,120.2 533.6,118.7 538.7,118.3 543.8,117.3 548.9,116.2 554.0,115.7 559.1,105.5 564.2,104.3 569.3,101.4 574.5,98.7 579.6,93.5 584.7,85.0 589.8,80.8 594.9,80.8 600.0,80.8 605.1,80.7 610.2,80.7 615.3,80.5 620.4,80.2 625.6,79.8 630.7,79.2 635.8,77.8 640.9,76.5 646.0,76.1 651.1,75.4 656.2,73.6 661.3,71.8 666.4,70.8 671.5,69.9 676.7,69.0 681.8,68.0 686.9,67.5 692.0,67.5 697.1,67.5 702.2,67.5"/>
<polyline points="395.6,146.4 400.7,146.4 405.8,146.4 410.9,146.4 416.0,146.4 421.2,146.4 426.3,143.1 431.4,139.9 436.5,138.2 441.6,138.2 446.7,137.4 451.8,137.0 456.9,136.4 462.0,135.3 467.1,134.8 472.2,134.8 477.4,134.8 482.5,134.8 487.6,134.3 492.7,133.3 497.8,132.7 502.9,132.6 508.0,132.6 513.1,132.3 518.2,131.6 523.4,130.8 528.5,129.6 533.6,127.7 538.7,126.1 543.8,125.5 548.9,125.5 554.0,125.5 559.1,125.4 564.2,125.2 569.3,125.2 574.5,124.5 579.6,121.0 584.7,115.8 589.8,113.5 594.9,113.5 600.0,113.5 605.1,98.8 610.2,97.8 615.3,96.9 620.4,95.7 625.6,92.9 630.7,90.2 635.8,87.6 640.9,84.2 646.0,82.5 651.1,81.9 656.2,80.8 661.3,80.2 666.4,80.1 671.5,80.1 676.7,78.9 681.8,75.6 686.9,72.7 692.0,71.8 697.1,71.3 702.2,71.0"/>
<polyline points="395.6,146.4 400.7,146.4 405.8,146.4 410.9,146.4 416.0,146.4 421.2,146.1 426.3,144.1 431.4,142.5 436.5,142.2 441.6,142.2 446.7,142.1 451.8,141.9 456.9,141.8 462.0,141.8 467.1,141.6 472.2,141.4 477.4,141.3 482.5,141.3 487.6,141.3 492.7,141.3 497.8,141.3 502.9,141.0 508.0,140.5 513.1,140.2 518.2,140.2 523.4,140.2 528.5,139.9 533.6,139.6 538.7,139.5 543.8,139.5 548.9,139.5 554.0,139.5 559.1,139.5 564.2,139.2 569.3,138.7 574.5,138.2 579.6,137.6 584.7,135.0 589.8,130.6 594.9,128.5 600.0,128.2 605.1,127.2 610.2,118.1 615.3,117.7 620.4,117.6 625.6,117.6 630.7,117.6 635.8,117.6 640.9,117.5 646.0,117.3 651.1,117.2 656.2,117.2 661.3,117.2 666.4,117.2 671.5,117.0 676.7,116.7 681.8,116.6 686.9,116.6 692.0,116.4 697.1,116.1 702.2,115.9"/>
<polyline points="395.6,146.4 400.7,146.4 405.8,146.4 410.9,146.4 416.0,146.4 421.2,146.4 426.3,145.5 431.4,145.4 436.5,144.6 441.6,144.4 446.7,144.3 451.8,144.3 456.9,144.3 462.0,144.3 467.1,144.3 472.2,144.3 477.4,144.3 482.5,144.3 487.6,144.3 492.7,144.3 497.8,144.2 502.9,143.9 508.0,143.8 513.1,143.7 518.2,143.4 523.4,143.2 528.5,143.1 533.6,143.0 538.7,142.9 543.8,142.9 548.9,142.8 554.0,142.7 559.1,142.6 564.2,142.5 569.3,142.4 574.5,142.3 579.6,142.2 584.7,142.2 589.8,142.2 594.9,142.2 600.0,142.1 605.1,141.5 610.2,140.4 615.3,139.8 620.4,139.7 625.6,139.3 630.7,139.1 635.8,139.1 640.9,138.9 646.0,138.6 651.1,138.5 656.2,126.4 661.3,126.4 666.4,125.6 671.5,123.8 676.7,122.0 681.8,121.1 686.9,120.7 692.0,120.6 697.1,120.6 702.2,120.6"/>
<polyline points="395.6,146.4 400.7,146.4 405.8,146.4 410.9,146.4 416.0,146.4 421.2,146.4 426.3,146.1 431.4,144.0 436.5,143.6 441.6,143.6 446.7,143.3 451.8,142.8 456.9,142.6 462.0,142.6 467.1,142.6 472.2,142.6 477.4,142.6 482.5,142.6 487.6,142.6 492.7,142.6 497.8,142.6 502.9,142.6 508.0,142.6 513.1,142.5 518.2,142.3 523.4,142.2 528.5,142.2 533.6,142.1 538.7,142.1 543.8,142.1 548.9,142.1 554.0,140.7 559.1,137.8 564.2,136.3 569.3,136.3 574.5,135.7 579.6,134.5 584.7,133.9 589.8,133.4 594.9,132.5 600.0,132.0 605.1,132.0 610.2,131.8 615.3,131.6 620.4,131.5 625.6,131.5 630.7,131.4 635.8,131.4 640.9,131.2 646.0,130.8 651.1,130.1 656.2,129.4 661.3,129.1 666.4,129.0 671.5,128.6 676.7,127.8 681.8,127.2 686.9,126.9 692.0,126.8 697.1,126.1 702.2,119.6"/>
<polyline points="395.6,146.4 400.7,146.4 405.8,146.4 410.9,146.4 416.0,146.4 421.2,146.4 426.3,145.7 431.4,143.4 436.5,142.8 441.6,141.8 446.7,141.5 451.8,141.5 456.9,141.5 462.0,141.4 467.1,141.4 472.2,141.3 477.4,141.3 482.5,141.3 487.6,141.2 492.7,141.2 497.8,141.1 502.9,141.1 508.0,141.0 513.1,140.4 518.2,139.4 523.4,138.9 528.5,138.7 533.6,138.6 538.7,138.6 543.8,138.6 548.9,138.2 554.0,137.5 559.1,137.1 564.2,137.1 569.3,137.1 574.5,137.1 579.6,137.1 584.7,137.0 589.8,136.8 594.9,136.5 600.0,136.0 605.1,135.4 610.2,134.8 615.3,134.4 620.4,134.3 625.6,134.3 630.7,134.3 635.8,134.3 640.9,127.1 646.0,122.9 651.1,120.7 656.2,120.7 661.3,120.5 666.4,120.1 671.5,120.0 676.7,120.0 681.8,119.8 686.9,119.4 692.0,119.2 697.1,119.2 702.2,119.2"/>
<polyline points="395.6,146.4 400.7,146.4 405.8,146.4 410.9,146.4 416.0,146.4 421.2,146.0 426.3,145.5 431.4,144.4 436.5,143.3 441.6,143.2 446.7,142.7 451.8,142.4 456.9,142.4 462.0,142.4 467.1,142.2 472.2,142.1 477.4,142.0 482.5,142.0 487.6,142.0 492.7,142.0 497.8,141.9 502.9,141.6 508.0,141.2 513.1,140.7 518.2,140.2 523.4,140.0 528.5,140.0 533.6,140.0 538.7,139.9 543.8,139.8 548.9,139.8 554.0,139.8 559.1,139.6 564.2,139.1 569.3,138.7 574.5,138.4 579.6,138.0 584.7,137.7 589.8,137.5 594.9,137.5 600.0,137.5 605.1,137.5 610.2,137.5 615.3,137.5 620.4,137.5 625.6,137.5 630.7,137.5 635.8,137.5 640.9,137.5 646.0,137.4 651.1,137.0 656.2,136.4 661.3,135.9 666.4,135.7 671.5,135.1 676.7,134.0 681.8,133.2 686.9,133.1 692.0,133.1 697.1,132.9 702.2,132.5"/>
<polyline points="395.6,146.4 400.7,146.4 405.8,146.4 410.9,146.4 416.0,146.4 421.2,146.2 426.3,145.6 431.4,144.3 436.5,143.5 441.6,143.5 446.7,143.5 451.8,143.5 456.9,143.5 462.0,143.3 467.1,143.1 472.2,143.0 477.4,143.0 482.5,143.0 487.6,143.0 492.7,143.0 497.8,143.0 502.9,143.0 508.0,142.9 513.1,142.8 518.2,142.7 523.4,142.3 528.5,142.1 533.6,142.1 538.7,142.1 543.8,142.1 548.9,142.1 554.0,142.0 559.1,141.9 564.2,141.6 569.3,141.4 574.5,141.0 579.6,140.4 584.7,139.3 589.8,137.6 594.9,136.8 600.0,135.8 605.1,133.7 610.2,131.8 615.3,129.9 620.4,128.0 625.6,125.9 630.7,124.8 635.8,124.8 640.9,124.8 646.0,124.8 651.1,124.7 656.2,124.7 661.3,124.7 666.4,124.6 671.5,123.7 676.7,122.4 681.8,121.7 686.9,121.3 692.0,120.8 697.1,120.5 702.2,120.5"/>
</g>
<polyline points="395.6,146.4 400.7,146.4 405.8,146.4 410.9,146.4 416.0,146.4 421.2,146.4 426.3,144.8 431.4,142.5 436.5,141.5 441.6,141.2 446.7,140.9 451.8,140.9 456.9,140.8 462.0,140.7 467.1,140.6 472.2,140.4 477.4,140.3 482.5,140.1 487.6,139.9 492.7,139.7 497.8,139.5 502.9,139.3 508.0,139.1 513.1,138.8 518.2,137.7 523.4,136.6 528.5,135.6 533.6,134.5 538.7,133.6 543.8,132.9 548.9,132.1 554.0,131.4 559.1,130.7 564.2,130.5 569.3,130.2 574.5,129.9 579.6,129.3 584.7,128.1 589.8,127.0 594.9,125.8 600.0,123.1 605.1,121.8 610.2,120.8 615.3,119.8 620.4,119.0 625.6,118.4 630.7,117.8 635.8,117.2 640.9,116.6 646.0,115.9 651.1,115.3 656.2,114.6 661.3,113.9 666.4,113.2 671.5,112.6 676.7,111.9 681.8,111.2 686.9,110.5 692.0,109.8 697.1,109.1 702.2,108.4" fill="none" stroke="#6e1e0e" stroke-width="2.5" stroke-linecap="round" stroke-dasharray="0.1,3.8"/>
<polyline points="395.6,146.4 400.7,146.4 405.8,146.4 410.9,146.4 416.0,146.4 421.2,146.4 426.3,145.8 431.4,142.6 436.5,141.8 441.6,141.5 446.7,140.6 451.8,140.6 456.9,140.6 462.0,140.6 467.1,140.6 472.2,140.6 477.4,140.6 482.5,140.6 487.6,140.6 492.7,140.6 497.8,140.6 502.9,140.6 508.0,140.6 513.1,140.6 518.2,140.6 523.4,139.1 528.5,139.1 533.6,139.1 538.7,131.1 543.8,129.9 548.9,129.5 554.0,127.3 559.1,125.2 564.2,125.2 569.3,125.1 574.5,125.1 579.6,125.1 584.7,125.0 589.8,125.0 594.9,125.0 600.0,125.0 605.1,124.2 610.2,124.1 615.3,124.1 620.4,124.0 625.6,124.0 630.7,123.9 635.8,123.9 640.9,123.8 646.0,123.8 651.1,123.7 656.2,123.7 661.3,123.6 666.4,123.6 671.5,123.5 676.7,123.5 681.8,123.5 686.9,123.4 692.0,123.4 697.1,123.3 702.2,123.3" fill="none" stroke="#1a30ff" stroke-width="1.9" stroke-dasharray="3,1.9"/>
<polyline points="395.6,146.4 400.7,146.4 405.8,146.4 410.9,146.4 416.0,146.4 421.2,146.4 426.3,145.1 431.4,142.4 436.5,141.8 441.6,140.8 446.7,140.8 451.8,140.8 456.9,140.8 462.0,140.7 467.1,140.7 472.2,140.7 477.4,140.7 482.5,140.7 487.6,140.6 492.7,140.6 497.8,140.6 502.9,140.6 508.0,140.6 513.1,140.6 518.2,138.1 523.4,138.0 528.5,138.0 533.6,136.4 538.7,136.3 543.8,136.1 548.9,136.0 554.0,133.9 559.1,132.1 564.2,130.8 569.3,130.7 574.5,130.7 579.6,130.6 584.7,130.5 589.8,120.7 594.9,119.5 600.0,112.1" fill="none" stroke="#ff2a1a" stroke-width="1.5"/>
</g>
<g clip-path="url(#c2)">
<g fill="none" stroke="#62a535" stroke-opacity="0.62" stroke-width="1.15">
<polyline points="35.5,294.3 40.6,293.5 45.7,295.5 50.8,300.3 56.0,300.3 61.1,306.4 66.2,301.5 71.3,296.5 76.4,297.4 81.5,299.5 86.6,303.7 91.7,306.4 96.8,306.1 101.9,302.2 107.1,306.7 112.2,305.2 117.3,306.5 122.4,306.3 127.5,305.6 132.6,303.3 137.7,299.8 142.8,298.5 147.9,301.5 153.0,301.3 158.2,304.6 163.3,302.4 168.4,290.8 173.5,298.6 178.6,297.5 183.7,276.2 188.8,300.3 193.9,306.5 199.0,305.1 204.1,286.0 209.3,272.4 214.4,303.4 219.5,298.0 224.6,302.1 229.7,306.4 234.8,311.7 239.9,301.3 245.0,309.9 250.1,305.2 255.2,306.4 260.4,290.2 265.5,294.1 270.6,310.3 275.7,307.9 280.8,299.9 285.9,309.3 291.0,310.4 296.1,310.4 301.2,314.2 306.3,312.1 311.4,313.7 316.6,305.3 321.7,304.3 326.8,289.1 331.9,296.5 337.0,294.9"/>
<polyline points="35.5,292.2 40.6,291.0 45.7,294.6 50.8,296.7 56.0,296.1 61.1,301.4 66.2,300.0 71.3,301.8 76.4,298.3 81.5,298.3 86.6,298.9 91.7,298.5 96.8,298.6 101.9,298.2 107.1,296.4 112.2,291.2 117.3,287.2 122.4,285.0 127.5,298.8 132.6,299.3 137.7,293.0 142.8,288.7 147.9,298.3 153.0,291.5 158.2,275.2 163.3,293.9 168.4,289.9 173.5,276.0 178.6,295.6 183.7,302.4 188.8,301.3 193.9,291.9 199.0,297.6 204.1,289.5 209.3,306.5 214.4,295.2 219.5,294.3 224.6,301.2 229.7,298.2 234.8,295.7 239.9,276.8 245.0,292.3 250.1,293.5 255.2,303.9 260.4,300.9 265.5,296.7 270.6,305.2 275.7,303.0 280.8,302.1 285.9,298.4 291.0,291.3 296.1,277.9 301.2,300.1 306.3,286.9 311.4,274.0 316.6,266.3 321.7,259.3 326.8,296.1 331.9,299.9 337.0,293.3"/>
<polyline points="35.5,295.6 40.6,295.8 45.7,296.6 50.8,298.5 56.0,299.0 61.1,297.6 66.2,296.4 71.3,297.6 76.4,296.0 81.5,297.6 86.6,291.9 91.7,290.7 96.8,291.4 101.9,298.5 107.1,301.3 112.2,297.6 117.3,298.5 122.4,298.6 127.5,294.7 132.6,302.8 137.7,303.6 142.8,297.2 147.9,298.7 153.0,297.1 158.2,300.5 163.3,297.4 168.4,304.2 173.5,286.5 178.6,292.1 183.7,300.4 188.8,297.1 193.9,275.8 199.0,275.7 204.1,288.3 209.3,274.0 214.4,265.8 219.5,293.9 224.6,298.7 229.7,300.2 234.8,281.6 239.9,265.1 245.0,283.1 250.1,274.2 255.2,273.4 260.4,284.0 265.5,297.1 270.6,299.9 275.7,295.7 280.8,276.4 285.9,283.0 291.0,306.4 296.1,309.5 301.2,296.6 306.3,292.4 311.4,304.7 316.6,297.8 321.7,285.9 326.8,284.2 331.9,291.9 337.0,276.4"/>
<polyline points="35.5,295.3 40.6,295.7 45.7,296.7 50.8,299.9 56.0,305.9 61.1,306.1 66.2,307.9 71.3,302.5 76.4,301.3 81.5,307.0 86.6,306.2 91.7,303.7 96.8,302.3 101.9,301.9 107.1,304.1 112.2,300.9 117.3,291.6 122.4,278.2 127.5,293.3 132.6,279.2 137.7,277.8 142.8,282.6 147.9,264.9 153.0,288.3 158.2,294.9 163.3,281.2 168.4,270.6 173.5,274.8 178.6,289.9 183.7,297.6 188.8,291.6 193.9,304.3 199.0,300.4 204.1,267.1 209.3,262.1 214.4,252.8 219.5,258.2 224.6,284.0 229.7,269.4 234.8,297.6 239.9,274.2 245.0,262.0 250.1,296.2 255.2,277.7 260.4,272.8 265.5,273.8 270.6,298.6 275.7,287.9 280.8,261.1 285.9,286.6 291.0,283.1 296.1,289.7 301.2,301.2 306.3,280.7 311.4,280.9 316.6,291.5 321.7,279.4 326.8,294.9 331.9,247.6 337.0,293.0"/>
<polyline points="35.5,294.8 40.6,294.1 45.7,296.2 50.8,299.2 56.0,303.7 61.1,309.8 66.2,308.8 71.3,306.8 76.4,308.1 81.5,305.5 86.6,302.1 91.7,301.1 96.8,301.0 101.9,298.4 107.1,299.8 112.2,295.5 117.3,291.3 122.4,299.0 127.5,287.5 132.6,291.3 137.7,280.3 142.8,276.1 147.9,287.9 153.0,281.2 158.2,276.1 163.3,283.3 168.4,301.7 173.5,281.1 178.6,287.2 183.7,295.4 188.8,297.8 193.9,304.2 199.0,300.2 204.1,292.2 209.3,300.2 214.4,292.4 219.5,292.5 224.6,291.6 229.7,296.6 234.8,289.9 239.9,276.1 245.0,290.9 250.1,290.2 255.2,279.5 260.4,300.2 265.5,287.3 270.6,296.3 275.7,295.8 280.8,273.9 285.9,281.4 291.0,295.3 296.1,284.0 301.2,272.7 306.3,274.0 311.4,249.9 316.6,296.9 321.7,303.9 326.8,296.0 331.9,300.5 337.0,294.4"/>
<polyline points="35.5,294.0 40.6,294.4 45.7,294.7 50.8,296.9 56.0,302.1 61.1,301.7 66.2,306.8 71.3,302.4 76.4,297.3 81.5,296.6 86.6,298.0 91.7,301.9 96.8,305.1 101.9,305.5 107.1,304.8 112.2,299.0 117.3,304.6 122.4,302.3 127.5,299.2 132.6,295.3 137.7,286.8 142.8,273.2 147.9,286.4 153.0,273.6 158.2,282.5 163.3,292.8 168.4,299.4 173.5,297.7 178.6,299.9 183.7,297.6 188.8,305.4 193.9,306.3 199.0,307.7 204.1,300.7 209.3,305.4 214.4,294.3 219.5,296.9 224.6,290.0 229.7,278.4 234.8,269.4 239.9,242.3 245.0,281.2 250.1,301.9 255.2,303.4 260.4,281.2 265.5,294.5 270.6,271.7 275.7,278.1 280.8,271.0 285.9,299.6 291.0,282.4 296.1,272.9 301.2,296.0 306.3,266.9 311.4,249.9 316.6,275.4 321.7,294.8 326.8,289.6 331.9,285.3 337.0,259.7"/>
<polyline points="35.5,293.9 40.6,294.8 45.7,295.6 50.8,295.5 56.0,299.5 61.1,306.2 66.2,305.4 71.3,302.1 76.4,307.4 81.5,308.2 86.6,309.7 91.7,307.7 96.8,306.9 101.9,302.3 107.1,305.7 112.2,299.8 117.3,302.6 122.4,301.8 127.5,304.9 132.6,300.9 137.7,298.3 142.8,291.8 147.9,293.8 153.0,292.8 158.2,292.1 163.3,296.4 168.4,301.7 173.5,298.1 178.6,302.1 183.7,306.8 188.8,301.4 193.9,304.5 199.0,302.5 204.1,311.8 209.3,309.6 214.4,291.2 219.5,294.0 224.6,293.9 229.7,305.5 234.8,306.7 239.9,302.5 245.0,304.1 250.1,305.5 255.2,313.5 260.4,312.0 265.5,311.8 270.6,307.4 275.7,306.2 280.8,309.1 285.9,312.0 291.0,312.9 296.1,308.8 301.2,312.7 306.3,307.7 311.4,308.6 316.6,309.7 321.7,298.3 326.8,302.7 331.9,300.3 337.0,290.3"/>
<polyline points="35.5,296.4 40.6,294.1 45.7,296.7 50.8,298.9 56.0,304.8 61.1,305.6 66.2,308.2 71.3,305.3 76.4,306.2 81.5,308.5 86.6,308.9 91.7,306.4 96.8,307.8 101.9,306.8 107.1,297.1 112.2,301.4 117.3,300.9 122.4,295.4 127.5,302.7 132.6,294.0 137.7,292.1 142.8,295.3 147.9,291.7 153.0,298.3 158.2,291.7 163.3,295.5 168.4,290.9 173.5,303.2 178.6,300.7 183.7,297.7 188.8,299.6 193.9,301.3 199.0,295.3 204.1,288.6 209.3,292.4 214.4,294.6 219.5,282.0 224.6,284.2 229.7,305.3 234.8,307.7 239.9,306.0 245.0,298.5 250.1,301.6 255.2,299.2 260.4,295.3 265.5,301.8 270.6,309.9 275.7,306.5 280.8,313.4 285.9,313.9 291.0,312.0 296.1,315.7 301.2,299.8 306.3,276.9 311.4,299.1 316.6,304.5 321.7,311.6 326.8,303.3 331.9,307.9 337.0,311.5"/>
<polyline points="35.5,294.8 40.6,293.2 45.7,296.7 50.8,299.7 56.0,301.8 61.1,306.3 66.2,306.8 71.3,309.0 76.4,308.4 81.5,305.6 86.6,303.7 91.7,301.0 96.8,295.3 101.9,300.0 107.1,301.8 112.2,298.3 117.3,302.9 122.4,300.8 127.5,295.8 132.6,300.5 137.7,297.0 142.8,294.7 147.9,291.3 153.0,294.0 158.2,293.2 163.3,292.6 168.4,281.6 173.5,290.8 178.6,299.1 183.7,300.8 188.8,293.4 193.9,298.1 199.0,302.7 204.1,307.8 209.3,302.7 214.4,292.8 219.5,308.0 224.6,302.8 229.7,300.9 234.8,301.1 239.9,295.4 245.0,297.3 250.1,301.8 255.2,300.3 260.4,287.6 265.5,295.2 270.6,294.3 275.7,297.7 280.8,294.3 285.9,298.5 291.0,307.0 296.1,301.4 301.2,296.1 306.3,305.6 311.4,307.3 316.6,308.7 321.7,314.4 326.8,295.6 331.9,285.2 337.0,282.4"/>
<polyline points="35.5,296.1 40.6,295.5 45.7,296.8 50.8,298.0 56.0,300.5 61.1,303.6 66.2,307.9 71.3,300.3 76.4,302.6 81.5,302.5 86.6,305.8 91.7,303.8 96.8,305.1 101.9,305.1 107.1,307.1 112.2,303.6 117.3,305.6 122.4,300.4 127.5,291.3 132.6,290.4 137.7,289.2 142.8,286.1 147.9,287.6 153.0,298.4 158.2,303.7 163.3,306.6 168.4,300.6 173.5,306.7 178.6,303.8 183.7,298.4 188.8,299.0 193.9,294.7 199.0,291.3 204.1,301.9 209.3,300.3 214.4,282.4 219.5,278.0 224.6,303.0 229.7,298.8 234.8,300.8 239.9,296.4 245.0,297.6 250.1,303.3 255.2,309.8 260.4,304.9 265.5,309.3 270.6,310.1 275.7,312.0 280.8,314.4 285.9,311.9 291.0,307.1 296.1,306.7 301.2,304.1 306.3,293.9 311.4,292.2 316.6,284.6 321.7,289.1 326.8,290.9 331.9,299.1 337.0,310.1"/>
<polyline points="35.5,295.1 40.6,294.7 45.7,298.1 50.8,298.3 56.0,302.6 61.1,299.5 66.2,307.2 71.3,304.5 76.4,304.5 81.5,305.6 86.6,304.4 91.7,305.8 96.8,305.2 101.9,304.1 107.1,300.3 112.2,294.2 117.3,296.7 122.4,292.0 127.5,297.3 132.6,301.8 137.7,295.9 142.8,291.3 147.9,288.6 153.0,287.2 158.2,284.9 163.3,277.6 168.4,278.4 173.5,284.6 178.6,277.6 183.7,283.3 188.8,277.1 193.9,265.0 199.0,278.2 204.1,267.3 209.3,257.3 214.4,261.3 219.5,290.1 224.6,283.3 229.7,290.6 234.8,264.0 239.9,271.3 245.0,279.2 250.1,259.5 255.2,278.3 260.4,286.3 265.5,307.0 270.6,300.3 275.7,304.0 280.8,302.4 285.9,304.4 291.0,295.2 296.1,291.3 301.2,298.4 306.3,302.3 311.4,295.6 316.6,295.7 321.7,284.2 326.8,291.4 331.9,300.2 337.0,306.5"/>
<polyline points="35.5,295.6 40.6,295.3 45.7,297.6 50.8,298.8 56.0,301.7 61.1,305.0 66.2,305.8 71.3,306.6 76.4,303.5 81.5,298.7 86.6,300.8 91.7,303.2 96.8,305.3 101.9,304.3 107.1,305.3 112.2,301.0 117.3,298.5 122.4,292.8 127.5,291.4 132.6,291.1 137.7,279.7 142.8,276.9 147.9,266.3 153.0,276.4 158.2,288.0 163.3,284.0 168.4,280.6 173.5,279.0 178.6,273.1 183.7,282.9 188.8,276.5 193.9,293.3 199.0,303.5 204.1,303.3 209.3,310.4 214.4,312.7 219.5,308.7 224.6,304.1 229.7,303.6 234.8,280.6 239.9,297.4 245.0,301.0 250.1,265.6 255.2,296.8 260.4,275.9 265.5,285.5 270.6,305.5 275.7,278.5 280.8,289.8 285.9,286.6 291.0,290.6 296.1,290.2 301.2,282.7 306.3,249.1 311.4,273.0 316.6,290.2 321.7,281.4 326.8,276.5 331.9,305.8 337.0,295.3"/>
<polyline points="35.5,293.6 40.6,292.3 45.7,293.7 50.8,296.6 56.0,297.5 61.1,305.8 66.2,306.5 71.3,303.3 76.4,302.0 81.5,299.7 86.6,301.4 91.7,298.8 96.8,301.2 101.9,302.0 107.1,301.6 112.2,296.2 117.3,283.7 122.4,296.2 127.5,300.8 132.6,297.7 137.7,288.5 142.8,280.1 147.9,291.4 153.0,287.0 158.2,291.5 163.3,290.5 168.4,287.4 173.5,285.2 178.6,284.6 183.7,293.2 188.8,280.4 193.9,288.5 199.0,301.8 204.1,288.4 209.3,280.4 214.4,278.8 219.5,280.8 224.6,279.0 229.7,261.8 234.8,284.3 239.9,272.1 245.0,294.2 250.1,289.5 255.2,304.4 260.4,299.4 265.5,298.3 270.6,302.5 275.7,295.8 280.8,306.3 285.9,299.0 291.0,299.4 296.1,296.0 301.2,298.3 306.3,287.7 311.4,269.0 316.6,291.3 321.7,286.7 326.8,269.7 331.9,283.4 337.0,283.0"/>
<polyline points="35.5,294.3 40.6,293.4 45.7,294.3 50.8,295.9 56.0,294.9 61.1,301.9 66.2,303.3 71.3,301.9 76.4,299.4 81.5,301.7 86.6,303.3 91.7,300.3 96.8,299.3 101.9,299.2 107.1,296.2 112.2,284.7 117.3,285.2 122.4,276.5 127.5,274.9 132.6,275.6 137.7,271.6 142.8,261.2 147.9,275.2 153.0,288.8 158.2,292.4 163.3,277.2 168.4,267.1 173.5,280.4 178.6,290.9 183.7,304.9 188.8,292.4 193.9,291.2 199.0,301.7 204.1,288.0 209.3,281.1 214.4,281.4 219.5,294.4 224.6,294.1 229.7,300.0 234.8,281.3 239.9,289.5 245.0,272.1 250.1,284.5 255.2,297.0 260.4,284.5 265.5,303.8 270.6,301.3 275.7,298.7 280.8,301.5 285.9,295.7 291.0,289.4 296.1,301.0 301.2,300.9 306.3,300.0 311.4,303.3 316.6,306.5 321.7,302.0 326.8,306.9 331.9,304.8 337.0,305.7"/>
<polyline points="35.5,294.2 40.6,292.0 45.7,295.4 50.8,297.6 56.0,293.3 61.1,294.7 66.2,298.8 71.3,301.4 76.4,300.7 81.5,306.1 86.6,305.6 91.7,300.7 96.8,296.4 101.9,299.8 107.1,296.2 112.2,291.9 117.3,299.0 122.4,296.7 127.5,296.7 132.6,285.6 137.7,293.0 142.8,281.5 147.9,282.6 153.0,271.2 158.2,299.3 163.3,275.6 168.4,281.1 173.5,277.6 178.6,295.9 183.7,298.4 188.8,295.0 193.9,280.0 199.0,303.2 204.1,291.2 209.3,283.4 214.4,275.8 219.5,258.5 224.6,260.9 229.7,273.6 234.8,291.2 239.9,301.5 245.0,289.1 250.1,273.9 255.2,292.1 260.4,271.2 265.5,298.2 270.6,280.1 275.7,281.8 280.8,278.0 285.9,258.7 291.0,261.3 296.1,279.3 301.2,278.4 306.3,278.0 311.4,292.4 316.6,287.9 321.7,284.3 326.8,255.9 331.9,292.2 337.0,287.4"/>
<polyline points="35.5,295.8 40.6,293.4 45.7,295.5 50.8,297.9 56.0,295.4 61.1,295.3 66.2,301.9 71.3,301.7 76.4,300.0 81.5,301.3 86.6,297.9 91.7,292.7 96.8,298.7 101.9,299.0 107.1,298.7 112.2,296.9 117.3,297.2 122.4,300.6 127.5,297.1 132.6,294.8 137.7,299.0 142.8,288.1 147.9,281.7 153.0,279.7 158.2,278.7 163.3,274.5 168.4,280.2 173.5,271.1 178.6,289.1 183.7,300.6 188.8,286.9 193.9,292.4 199.0,305.0 204.1,292.3 209.3,284.7 214.4,298.4 219.5,286.5 224.6,281.4 229.7,280.4 234.8,293.5 239.9,261.0 245.0,295.6 250.1,301.4 255.2,302.0 260.4,296.1 265.5,299.7 270.6,286.2 275.7,303.1 280.8,279.5 285.9,303.1 291.0,299.8 296.1,290.5 301.2,271.8 306.3,296.9 311.4,310.3 316.6,310.0 321.7,307.4 326.8,299.3 331.9,308.2 337.0,297.0"/>
<polyline points="35.5,295.4 40.6,295.5 45.7,297.1 50.8,297.5 56.0,297.1 61.1,305.8 66.2,306.6 71.3,305.5 76.4,303.6 81.5,304.7 86.6,304.2 91.7,304.7 96.8,303.5 101.9,302.0 107.1,294.1 112.2,299.7 117.3,300.0 122.4,295.4 127.5,281.6 132.6,277.6 137.7,266.4 142.8,264.8 147.9,271.3 153.0,290.4 158.2,285.6 163.3,284.4 168.4,288.9 173.5,292.5 178.6,296.5 183.7,286.9 188.8,290.5 193.9,274.4 199.0,294.9 204.1,293.1 209.3,281.2 214.4,286.2 219.5,296.4 224.6,296.7 229.7,300.7 234.8,300.8 239.9,310.7 245.0,300.8 250.1,296.9 255.2,303.1 260.4,301.1 265.5,303.7 270.6,308.3 275.7,299.7 280.8,309.5 285.9,295.7 291.0,311.1 296.1,309.1 301.2,310.3 306.3,308.8 311.4,307.7 316.6,313.3 321.7,305.8 326.8,302.3 331.9,300.3 337.0,300.1"/>
<polyline points="35.5,294.8 40.6,296.2 45.7,295.5 50.8,295.0 56.0,301.5 61.1,301.5 66.2,305.4 71.3,303.0 76.4,297.8 81.5,297.0 86.6,299.3 91.7,293.1 96.8,297.4 101.9,305.7 107.1,298.0 112.2,297.2 117.3,292.7 122.4,298.9 127.5,301.8 132.6,302.2 137.7,295.1 142.8,286.3 147.9,295.1 153.0,272.2 158.2,293.3 163.3,298.1 168.4,284.6 173.5,275.6 178.6,285.8 183.7,297.7 188.8,301.5 193.9,282.4 199.0,303.1 204.1,302.4 209.3,297.5 214.4,293.0 219.5,279.9 224.6,286.7 229.7,283.0 234.8,281.0 239.9,286.7 245.0,285.1 250.1,297.2 255.2,304.8 260.4,290.6 265.5,296.6 270.6,291.4 275.7,294.2 280.8,284.1 285.9,278.8 291.0,305.1 296.1,307.4 301.2,295.8 306.3,254.5 311.4,286.1 316.6,263.8 321.7,262.5 326.8,279.9 331.9,275.3 337.0,274.2"/>
<polyline points="35.5,296.3 40.6,294.7 45.7,295.6 50.8,297.7 56.0,298.7 61.1,298.8 66.2,303.7 71.3,301.2 76.4,300.2 81.5,305.2 86.6,296.7 91.7,300.8 96.8,297.9 101.9,299.0 107.1,294.9 112.2,297.3 117.3,289.3 122.4,295.6 127.5,280.4 132.6,280.8 137.7,266.4 142.8,270.1 147.9,271.0 153.0,274.6 158.2,270.2 163.3,283.0 168.4,273.9 173.5,293.4 178.6,272.1 183.7,290.2 188.8,277.3 193.9,259.2 199.0,257.8 204.1,287.0 209.3,271.7 214.4,267.2 219.5,261.6 224.6,259.9 229.7,267.7 234.8,278.6 239.9,273.3 245.0,267.0 250.1,271.7 255.2,277.0 260.4,281.4 265.5,281.3 270.6,284.2 275.7,257.9 280.8,255.8 285.9,246.7 291.0,276.0 296.1,285.8 301.2,276.8 306.3,277.0 311.4,277.2 316.6,265.2 321.7,299.4 326.8,279.4 331.9,300.1 337.0,298.9"/>
<polyline points="35.5,295.1 40.6,296.0 45.7,297.7 50.8,302.1 56.0,303.1 61.1,306.3 66.2,312.0 71.3,309.8 76.4,307.7 81.5,302.1 86.6,303.0 91.7,306.8 96.8,306.4 101.9,309.0 107.1,305.5 112.2,304.5 117.3,301.6 122.4,295.6 127.5,301.1 132.6,290.8 137.7,293.1 142.8,289.7 147.9,295.3 153.0,300.2 158.2,303.7 163.3,303.6 168.4,293.0 173.5,299.6 178.6,309.2 183.7,305.5 188.8,304.6 193.9,306.7 199.0,301.7 204.1,299.2 209.3,308.0 214.4,293.2 219.5,302.8 224.6,300.7 229.7,283.8 234.8,298.9 239.9,307.3 245.0,300.1 250.1,288.6 255.2,286.7 260.4,289.3 265.5,300.7 270.6,282.0 275.7,264.0 280.8,272.9 285.9,269.8 291.0,302.5 296.1,286.9 301.2,262.2 306.3,260.7 311.4,263.7 316.6,277.3 321.7,284.7 326.8,305.8 331.9,301.9 337.0,292.8"/>
<polyline points="35.5,293.7 40.6,292.0 45.7,294.1 50.8,295.5 56.0,299.7 61.1,303.4 66.2,305.3 71.3,300.0 76.4,297.5 81.5,298.5 86.6,297.4 91.7,294.1 96.8,290.6 101.9,297.1 107.1,296.3 112.2,298.3 117.3,293.5 122.4,287.7 127.5,293.3 132.6,298.2 137.7,284.0 142.8,279.8 147.9,286.6 153.0,289.3 158.2,292.2 163.3,271.1 168.4,291.5 173.5,301.4 178.6,306.9 183.7,296.6 188.8,306.2 193.9,294.1 199.0,299.3 204.1,290.2 209.3,289.6 214.4,270.6 219.5,290.1 224.6,292.1 229.7,300.0 234.8,305.9 239.9,285.9 245.0,302.6 250.1,294.9 255.2,284.8 260.4,285.3 265.5,296.1 270.6,278.8 275.7,293.8 280.8,273.2 285.9,265.7 291.0,296.0 296.1,285.8 301.2,297.5 306.3,278.2 311.4,303.5 316.6,280.0 321.7,275.6 326.8,277.8 331.9,285.4 337.0,271.0"/>
<polyline points="35.5,292.1 40.6,292.3 45.7,294.0 50.8,297.8 56.0,300.6 61.1,303.8 66.2,304.7 71.3,291.8 76.4,296.9 81.5,299.8 86.6,294.5 91.7,290.7 96.8,290.6 101.9,295.6 107.1,299.2 112.2,301.3 117.3,298.7 122.4,296.8 127.5,288.6 132.6,280.5 137.7,288.5 142.8,285.3 147.9,286.4 153.0,298.7 158.2,292.9 163.3,283.4 168.4,258.6 173.5,289.5 178.6,278.9 183.7,260.3 188.8,286.9 193.9,284.4 199.0,259.0 204.1,289.9 209.3,290.7 214.4,284.2 219.5,269.1 224.6,285.8 229.7,293.9 234.8,280.4 239.9,296.6 245.0,301.9 250.1,298.8 255.2,302.4 260.4,297.1 265.5,298.5 270.6,305.1 275.7,311.3 280.8,313.0 285.9,310.0 291.0,301.2 296.1,308.9 301.2,307.1 306.3,300.7 311.4,312.8 316.6,310.0 321.7,309.8 326.8,308.8 331.9,307.5 337.0,312.2"/>
<polyline points="35.5,295.8 40.6,294.3 45.7,294.2 50.8,298.2 56.0,300.5 61.1,304.7 66.2,308.0 71.3,305.6 76.4,306.2 81.5,303.6 86.6,301.7 91.7,299.0 96.8,304.4 101.9,305.9 107.1,302.3 112.2,299.8 117.3,300.9 122.4,300.6 127.5,288.6 132.6,296.0 137.7,290.9 142.8,281.4 147.9,287.7 153.0,274.7 158.2,282.1 163.3,282.0 168.4,292.7 173.5,284.3 178.6,294.6 183.7,291.8 188.8,299.9 193.9,302.2 199.0,299.3 204.1,290.2 209.3,301.5 214.4,295.6 219.5,293.7 224.6,276.8 229.7,307.0 234.8,308.2 239.9,295.0 245.0,293.5 250.1,295.8 255.2,300.3 260.4,295.3 265.5,291.0 270.6,287.8 275.7,300.3 280.8,299.3 285.9,273.2 291.0,272.0 296.1,299.7 301.2,268.4 306.3,277.0 311.4,268.6 316.6,288.1 321.7,286.1 326.8,277.5 331.9,276.5 337.0,291.1"/>
<polyline points="35.5,293.9 40.6,293.3 45.7,297.8 50.8,298.2 56.0,299.2 61.1,303.8 66.2,309.4 71.3,304.6 76.4,303.2 81.5,301.1 86.6,303.8 91.7,300.1 96.8,305.1 101.9,303.0 107.1,301.3 112.2,290.5 117.3,292.0 122.4,287.4 127.5,295.8 132.6,303.3 137.7,294.2 142.8,288.6 147.9,296.5 153.0,296.1 158.2,304.6 163.3,303.5 168.4,304.1 173.5,295.7 178.6,301.3 183.7,301.3 188.8,302.4 193.9,309.0 199.0,304.9 204.1,290.9 209.3,293.0 214.4,305.3 219.5,298.9 224.6,299.8 229.7,290.3 234.8,291.7 239.9,298.3 245.0,302.3 250.1,302.1 255.2,307.3 260.4,300.8 265.5,296.9 270.6,302.2 275.7,299.9 280.8,298.4 285.9,307.9 291.0,305.4 296.1,297.7 301.2,290.4 306.3,309.1 311.4,308.9 316.6,295.3 321.7,253.0 326.8,285.3 331.9,292.2 337.0,290.0"/>
<polyline points="35.5,294.2 40.6,292.9 45.7,295.4 50.8,298.0 56.0,300.1 61.1,296.4 66.2,306.6 71.3,295.8 76.4,298.9 81.5,301.6 86.6,305.3 91.7,300.1 96.8,292.1 101.9,296.2 107.1,293.2 112.2,289.5 117.3,288.2 122.4,293.4 127.5,283.2 132.6,280.7 137.7,283.9 142.8,268.2 147.9,286.6 153.0,285.2 158.2,294.8 163.3,300.3 168.4,291.0 173.5,267.2 178.6,283.5 183.7,277.8 188.8,268.6 193.9,281.2 199.0,299.6 204.1,287.6 209.3,289.4 214.4,275.2 219.5,287.6 224.6,261.1 229.7,257.1 234.8,273.7 239.9,275.9 245.0,271.4 250.1,283.3 255.2,287.9 260.4,268.3 265.5,282.6 270.6,287.5 275.7,280.3 280.8,300.4 285.9,266.6 291.0,278.0 296.1,258.9 301.2,290.6 306.3,300.2 311.4,295.2 316.6,288.5 321.7,261.4 326.8,253.2 331.9,247.6 337.0,274.8"/>
<polyline points="35.5,293.0 40.6,293.9 45.7,291.9 50.8,295.8 56.0,297.8 61.1,300.5 66.2,296.5 71.3,290.1 76.4,295.8 81.5,297.7 86.6,303.1 91.7,297.1 96.8,304.7 101.9,297.0 107.1,292.5 112.2,294.6 117.3,284.5 122.4,275.9 127.5,274.9 132.6,275.6 137.7,267.0 142.8,259.6 147.9,276.5 153.0,266.0 158.2,277.3 163.3,282.2 168.4,289.1 173.5,283.5 178.6,269.4 183.7,287.9 188.8,287.9 193.9,298.5 199.0,286.1 204.1,276.2 209.3,286.5 214.4,285.0 219.5,292.5 224.6,275.2 229.7,263.8 234.8,283.9 239.9,286.6 245.0,286.4 250.1,300.6 255.2,296.8 260.4,304.3 265.5,286.8 270.6,266.4 275.7,279.2 280.8,290.5 285.9,291.9 291.0,293.2 296.1,302.0 301.2,293.0 306.3,294.0 311.4,291.9 316.6,281.5 321.7,288.3 326.8,273.1 331.9,281.9 337.0,298.8"/>
<polyline points="35.5,295.1 40.6,295.4 45.7,297.3 50.8,298.7 56.0,300.0 61.1,305.8 66.2,309.7 71.3,299.7 76.4,305.3 81.5,304.4 86.6,305.9 91.7,300.3 96.8,301.0 101.9,297.3 107.1,296.8 112.2,302.4 117.3,302.1 122.4,308.0 127.5,306.0 132.6,300.7 137.7,298.5 142.8,295.7 147.9,297.3 153.0,299.8 158.2,294.0 163.3,297.2 168.4,297.7 173.5,288.7 178.6,299.6 183.7,288.8 188.8,301.8 193.9,289.2 199.0,294.0 204.1,296.0 209.3,295.3 214.4,284.4 219.5,287.9 224.6,279.4 229.7,286.8 234.8,288.1 239.9,296.2 245.0,300.0 250.1,297.0 255.2,307.4 260.4,300.7 265.5,300.4 270.6,302.2 275.7,300.8 280.8,290.5 285.9,269.1 291.0,290.7 296.1,293.0 301.2,283.9 306.3,277.5 311.4,297.1 316.6,282.3 321.7,303.0 326.8,265.1 331.9,297.7 337.0,298.3"/>
<polyline points="35.5,296.6 40.6,296.3 45.7,296.7 50.8,298.4 56.0,297.3 61.1,300.9 66.2,304.9 71.3,305.3 76.4,304.3 81.5,305.2 86.6,307.8 91.7,308.1 96.8,305.6 101.9,303.9 107.1,302.5 112.2,297.3 117.3,303.2 122.4,304.6 127.5,299.1 132.6,296.6 137.7,296.6 142.8,286.5 147.9,290.1 153.0,298.3 158.2,294.5 163.3,299.1 168.4,291.4 173.5,293.3 178.6,300.5 183.7,293.2 188.8,287.7 193.9,304.3 199.0,311.2 204.1,310.9 209.3,304.8 214.4,313.3 219.5,313.4 224.6,298.7 229.7,298.2 234.8,295.1 239.9,298.9 245.0,302.5 250.1,296.4 255.2,300.8 260.4,288.7 265.5,299.0 270.6,300.6 275.7,300.4 280.8,307.2 285.9,303.4 291.0,298.3 296.1,306.7 301.2,303.4 306.3,303.4 311.4,299.0 316.6,286.8 321.7,300.3 326.8,304.0 331.9,304.4 337.0,276.7"/>
<polyline points="35.5,294.3 40.6,295.0 45.7,296.6 50.8,297.8 56.0,302.4 61.1,301.2 66.2,305.2 71.3,305.9 76.4,302.7 81.5,303.3 86.6,306.6 91.7,298.3 96.8,296.9 101.9,305.1 107.1,297.0 112.2,297.7 117.3,293.4 122.4,295.4 127.5,302.4 132.6,299.1 137.7,285.3 142.8,294.2 147.9,292.9 153.0,295.4 158.2,290.0 163.3,296.1 168.4,289.5 173.5,297.9 178.6,294.9 183.7,298.0 188.8,304.6 193.9,297.5 199.0,287.5 204.1,287.6 209.3,270.8 214.4,288.0 219.5,286.3 224.6,279.1 229.7,267.5 234.8,288.4 239.9,289.1 245.0,290.2 250.1,295.9 255.2,302.7 260.4,282.2 265.5,278.6 270.6,275.7 275.7,258.0 280.8,287.3 285.9,286.6 291.0,292.7 296.1,296.6 301.2,269.9 306.3,296.8 311.4,284.5 316.6,301.5 321.7,289.6 326.8,270.2 331.9,276.2 337.0,308.0"/>
<polyline points="35.5,295.0 40.6,293.7 45.7,292.1 50.8,294.7 56.0,297.1 61.1,299.3 66.2,299.4 71.3,300.1 76.4,300.8 81.5,299.7 86.6,302.9 91.7,298.3 96.8,298.0 101.9,296.4 107.1,292.9 112.2,299.8 117.3,298.8 122.4,296.8 127.5,299.7 132.6,299.5 137.7,293.3 142.8,286.6 147.9,278.8 153.0,298.8 158.2,286.9 163.3,294.1 168.4,276.1 173.5,281.1 178.6,278.9 183.7,278.5 188.8,289.8 193.9,291.0 199.0,288.2 204.1,269.9 209.3,285.1 214.4,287.1 219.5,293.9 224.6,287.9 229.7,288.8 234.8,275.6 239.9,294.0 245.0,298.5 250.1,281.9 255.2,269.1 260.4,255.2 265.5,249.9 270.6,253.4 275.7,269.8 280.8,279.3 285.9,277.6 291.0,277.4 296.1,263.0 301.2,275.0 306.3,269.6 311.4,270.0 316.6,261.2 321.7,249.2 326.8,248.5 331.9,247.6 337.0,254.7"/>
<polyline points="35.5,294.0 40.6,294.4 45.7,296.5 50.8,300.1 56.0,301.0 61.1,302.8 66.2,305.6 71.3,308.0 76.4,305.9 81.5,309.2 86.6,304.8 91.7,307.5 96.8,308.9 101.9,305.3 107.1,306.0 112.2,303.6 117.3,307.0 122.4,293.0 127.5,302.3 132.6,303.0 137.7,300.5 142.8,290.6 147.9,295.7 153.0,293.2 158.2,290.7 163.3,275.2 168.4,261.9 173.5,288.2 178.6,291.5 183.7,297.1 188.8,307.7 193.9,304.9 199.0,298.2 204.1,298.9 209.3,293.7 214.4,276.0 219.5,262.7 224.6,257.2 229.7,281.0 234.8,279.6 239.9,258.6 245.0,258.4 250.1,294.2 255.2,288.8 260.4,283.4 265.5,292.5 270.6,284.0 275.7,290.2 280.8,296.5 285.9,284.8 291.0,301.4 296.1,295.8 301.2,299.6 306.3,279.1 311.4,298.8 316.6,295.4 321.7,300.5 326.8,279.5 331.9,284.7 337.0,299.1"/>
<polyline points="35.5,295.3 40.6,294.0 45.7,296.0 50.8,298.6 56.0,301.7 61.1,305.6 66.2,302.8 71.3,297.5 76.4,297.1 81.5,295.5 86.6,296.1 91.7,298.8 96.8,302.1 101.9,300.6 107.1,287.5 112.2,295.0 117.3,294.3 122.4,292.6 127.5,285.7 132.6,288.1 137.7,272.9 142.8,272.5 147.9,281.7 153.0,262.2 158.2,269.5 163.3,270.4 168.4,269.1 173.5,277.9 178.6,289.3 183.7,279.7 188.8,290.9 193.9,295.0 199.0,296.7 204.1,288.4 209.3,308.6 214.4,293.3 219.5,291.5 224.6,261.1 229.7,275.1 234.8,301.8 239.9,263.6 245.0,285.7 250.1,299.4 255.2,288.8 260.4,298.3 265.5,277.0 270.6,305.5 275.7,299.9 280.8,291.1 285.9,279.1 291.0,278.3 296.1,298.5 301.2,304.7 306.3,305.2 311.4,298.3 316.6,285.2 321.7,304.8 326.8,286.5 331.9,266.5 337.0,287.0"/>
<polyline points="35.5,294.1 40.6,294.0 45.7,295.5 50.8,297.1 56.0,296.4 61.1,304.2 66.2,302.9 71.3,301.3 76.4,301.7 81.5,305.1 86.6,297.6 91.7,299.2 96.8,296.4 101.9,292.6 107.1,295.4 112.2,296.7 117.3,293.3 122.4,296.6 127.5,300.4 132.6,292.1 137.7,289.5 142.8,289.3 147.9,279.1 153.0,285.5 158.2,290.0 163.3,282.3 168.4,277.2 173.5,277.5 178.6,285.2 183.7,267.6 188.8,263.9 193.9,266.9 199.0,292.2 204.1,278.4 209.3,296.1 214.4,297.4 219.5,288.3 224.6,271.7 229.7,257.0 234.8,272.9 239.9,255.5 245.0,249.6 250.1,283.7 255.2,287.1 260.4,273.9 265.5,294.2 270.6,287.2 275.7,296.7 280.8,298.8 285.9,287.3 291.0,277.2 296.1,299.3 301.2,298.6 306.3,289.5 311.4,281.5 316.6,290.2 321.7,302.4 326.8,284.0 331.9,282.6 337.0,284.1"/>
<polyline points="35.5,293.8 40.6,293.2 45.7,295.4 50.8,299.0 56.0,300.7 61.1,300.7 66.2,302.6 71.3,298.4 76.4,302.4 81.5,302.9 86.6,304.7 91.7,302.1 96.8,303.7 101.9,304.9 107.1,300.5 112.2,296.4 117.3,293.5 122.4,301.2 127.5,294.7 132.6,285.9 137.7,284.1 142.8,280.6 147.9,283.5 153.0,293.1 158.2,293.2 163.3,303.6 168.4,302.6 173.5,305.7 178.6,311.7 183.7,303.8 188.8,305.6 193.9,304.2 199.0,301.4 204.1,304.0 209.3,299.0 214.4,304.2 219.5,292.4 224.6,296.6 229.7,300.7 234.8,291.9 239.9,268.4 245.0,270.3 250.1,260.7 255.2,289.3 260.4,260.9 265.5,297.2 270.6,287.0 275.7,283.9 280.8,260.5 285.9,258.6 291.0,279.6 296.1,287.3 301.2,271.9 306.3,266.9 311.4,287.3 316.6,253.5 321.7,255.7 326.8,244.9 331.9,247.6 337.0,256.7"/>
<polyline points="35.5,293.5 40.6,293.8 45.7,294.2 50.8,294.8 56.0,295.5 61.1,301.9 66.2,305.0 71.3,308.8 76.4,309.3 81.5,304.7 86.6,300.4 91.7,300.1 96.8,296.3 101.9,295.9 107.1,298.0 112.2,293.0 117.3,286.4 122.4,293.4 127.5,287.5 132.6,292.9 137.7,287.8 142.8,283.3 147.9,288.6 153.0,301.1 158.2,282.1 163.3,294.7 168.4,291.4 173.5,295.1 178.6,297.1 183.7,303.0 188.8,303.7 193.9,300.3 199.0,293.9 204.1,287.0 209.3,282.3 214.4,293.9 219.5,281.1 224.6,277.6 229.7,270.0 234.8,292.9 239.9,285.5 245.0,306.0 250.1,293.2 255.2,296.0 260.4,276.2 265.5,286.6 270.6,279.6 275.7,269.8 280.8,299.7 285.9,305.8 291.0,296.4 296.1,298.1 301.2,305.5 306.3,304.1 311.4,306.3 316.6,297.8 321.7,303.5 326.8,306.0 331.9,305.1 337.0,306.9"/>
<polyline points="35.5,294.5 40.6,293.0 45.7,294.6 50.8,297.2 56.0,300.5 61.1,303.1 66.2,303.6 71.3,302.3 76.4,305.2 81.5,301.7 86.6,301.7 91.7,305.1 96.8,304.5 101.9,305.9 107.1,299.1 112.2,302.5 117.3,301.6 122.4,302.2 127.5,305.5 132.6,296.4 137.7,303.5 142.8,293.2 147.9,299.2 153.0,295.1 158.2,296.3 163.3,289.1 168.4,284.2 173.5,281.1 178.6,288.9 183.7,297.0 188.8,297.4 193.9,309.2 199.0,283.3 204.1,293.3 209.3,296.5 214.4,293.1 219.5,293.2 224.6,296.5 229.7,303.2 234.8,302.1 239.9,283.8 245.0,296.3 250.1,304.4 255.2,307.9 260.4,309.8 265.5,306.3 270.6,305.2 275.7,304.8 280.8,311.3 285.9,309.6 291.0,313.9 296.1,309.5 301.2,302.4 306.3,300.9 311.4,290.8 316.6,303.3 321.7,282.6 326.8,303.3 331.9,302.9 337.0,307.5"/>
<polyline points="35.5,296.8 40.6,294.5 45.7,297.4 50.8,297.9 56.0,299.5 61.1,298.1 66.2,303.8 71.3,306.6 76.4,305.4 81.5,306.6 86.6,307.7 91.7,309.6 96.8,303.5 101.9,305.2 107.1,300.3 112.2,296.9 117.3,296.3 122.4,293.7 127.5,285.5 132.6,281.8 137.7,274.1 142.8,274.5 147.9,278.5 153.0,286.8 158.2,299.6 163.3,285.9 168.4,295.8 173.5,294.4 178.6,302.0 183.7,296.4 188.8,286.0 193.9,283.8 199.0,293.7 204.1,288.8 209.3,304.9 214.4,302.4 219.5,304.2 224.6,303.6 229.7,297.5 234.8,305.4 239.9,289.3 245.0,288.4 250.1,291.2 255.2,299.7 260.4,293.8 265.5,297.5 270.6,307.7 275.7,313.7 280.8,310.7 285.9,306.9 291.0,314.7 296.1,309.7 301.2,308.5 306.3,306.1 311.4,296.2 316.6,303.7 321.7,308.4 326.8,303.8 331.9,306.6 337.0,298.1"/>
<polyline points="35.5,294.3 40.6,294.0 45.7,294.7 50.8,293.0 56.0,293.0 61.1,296.1 66.2,304.8 71.3,303.0 76.4,307.6 81.5,307.3 86.6,304.7 91.7,301.5 96.8,300.9 101.9,299.8 107.1,294.4 112.2,295.5 117.3,301.0 122.4,298.3 127.5,298.7 132.6,295.1 137.7,294.8 142.8,296.8 147.9,296.6 153.0,284.1 158.2,271.0 163.3,274.6 168.4,292.2 173.5,290.3 178.6,293.1 183.7,302.9 188.8,296.7 193.9,303.8 199.0,310.1 204.1,297.1 209.3,292.3 214.4,249.6 219.5,262.9 224.6,277.5 229.7,283.2 234.8,291.4 239.9,242.3 245.0,245.2 250.1,266.1 255.2,292.1 260.4,256.1 265.5,285.4 270.6,301.2 275.7,282.3 280.8,279.1 285.9,275.3 291.0,279.2 296.1,286.9 301.2,280.2 306.3,290.3 311.4,260.0 316.6,291.8 321.7,260.9 326.8,269.1 331.9,296.4 337.0,274.0"/>
<polyline points="35.5,296.9 40.6,297.3 45.7,299.2 50.8,298.7 56.0,303.6 61.1,305.2 66.2,311.1 71.3,308.4 76.4,308.9 81.5,306.8 86.6,308.6 91.7,306.6 96.8,308.6 101.9,303.9 107.1,301.2 112.2,298.2 117.3,301.5 122.4,303.8 127.5,304.4 132.6,296.7 137.7,291.2 142.8,282.8 147.9,278.5 153.0,264.2 158.2,281.1 163.3,288.7 168.4,295.6 173.5,283.5 178.6,300.3 183.7,279.6 188.8,294.9 193.9,295.4 199.0,288.8 204.1,283.4 209.3,291.3 214.4,290.7 219.5,300.7 224.6,287.9 229.7,302.7 234.8,300.1 239.9,298.1 245.0,290.9 250.1,289.9 255.2,294.5 260.4,273.1 265.5,298.2 270.6,312.4 275.7,296.7 280.8,257.5 285.9,303.2 291.0,301.1 296.1,298.0 301.2,295.5 306.3,288.1 311.4,286.7 316.6,293.9 321.7,292.5 326.8,268.3 331.9,286.6 337.0,293.5"/>
<polyline points="35.5,296.0 40.6,293.7 45.7,294.7 50.8,293.0 56.0,294.8 61.1,298.9 66.2,303.9 71.3,303.2 76.4,302.9 81.5,305.5 86.6,301.7 91.7,297.9 96.8,301.0 101.9,297.4 107.1,299.5 112.2,297.8 117.3,299.9 122.4,301.3 127.5,297.4 132.6,299.4 137.7,290.1 142.8,281.5 147.9,293.4 153.0,293.6 158.2,289.6 163.3,284.6 168.4,292.1 173.5,296.0 178.6,303.6 183.7,309.0 188.8,305.0 193.9,301.4 199.0,301.2 204.1,298.7 209.3,289.3 214.4,295.9 219.5,292.2 224.6,272.3 229.7,294.3 234.8,284.6 239.9,274.8 245.0,292.7 250.1,300.2 255.2,304.6 260.4,280.9 265.5,287.5 270.6,294.3 275.7,293.8 280.8,286.0 285.9,265.0 291.0,258.8 296.1,286.0 301.2,294.9 306.3,286.1 311.4,294.0 316.6,301.3 321.7,308.1 326.8,308.2 331.9,300.0 337.0,301.3"/>
<polyline points="35.5,293.4 40.6,293.6 45.7,294.5 50.8,294.7 56.0,292.9 61.1,300.2 66.2,301.6 71.3,290.1 76.4,300.5 81.5,298.0 86.6,299.2 91.7,306.5 96.8,307.2 101.9,304.5 107.1,302.0 112.2,300.6 117.3,302.4 122.4,302.5 127.5,303.0 132.6,307.6 137.7,287.6 142.8,276.2 147.9,281.3 153.0,301.2 158.2,298.1 163.3,306.5 168.4,302.7 173.5,283.4 178.6,302.3 183.7,307.6 188.8,300.7 193.9,295.2 199.0,303.3 204.1,300.1 209.3,300.8 214.4,309.0 219.5,298.1 224.6,294.3 229.7,284.2 234.8,275.4 239.9,292.7 245.0,288.3 250.1,288.0 255.2,275.2 260.4,266.8 265.5,278.6 270.6,289.8 275.7,284.8 280.8,281.7 285.9,293.5 291.0,298.3 296.1,308.9 301.2,305.0 306.3,278.7 311.4,290.5 316.6,297.9 321.7,294.9 326.8,309.4 331.9,304.1 337.0,289.2"/>
<polyline points="35.5,293.8 40.6,294.2 45.7,294.3 50.8,297.8 56.0,300.6 61.1,298.2 66.2,304.7 71.3,301.9 76.4,306.9 81.5,308.8 86.6,306.0 91.7,303.5 96.8,304.6 101.9,306.9 107.1,305.1 112.2,301.6 117.3,304.2 122.4,301.9 127.5,300.4 132.6,302.3 137.7,300.8 142.8,290.6 147.9,289.9 153.0,287.5 158.2,294.6 163.3,292.0 168.4,282.3 173.5,277.2 178.6,300.8 183.7,304.7 188.8,305.3 193.9,298.3 199.0,303.3 204.1,296.1 209.3,289.3 214.4,302.7 219.5,304.0 224.6,287.5 229.7,287.7 234.8,289.8 239.9,297.7 245.0,293.6 250.1,288.8 255.2,288.2 260.4,265.4 265.5,287.7 270.6,270.0 275.7,265.7 280.8,292.3 285.9,268.2 291.0,290.2 296.1,275.2 301.2,278.1 306.3,268.8 311.4,282.2 316.6,287.1 321.7,306.5 326.8,296.3 331.9,296.4 337.0,299.9"/>
<polyline points="35.5,295.1 40.6,294.7 45.7,298.2 50.8,300.6 56.0,303.2 61.1,302.9 66.2,296.9 71.3,300.4 76.4,301.5 81.5,306.1 86.6,305.3 91.7,306.3 96.8,306.2 101.9,302.5 107.1,304.2 112.2,295.8 117.3,298.2 122.4,297.1 127.5,291.6 132.6,298.7 137.7,289.4 142.8,293.2 147.9,293.8 153.0,295.1 158.2,299.1 163.3,292.2 168.4,294.7 173.5,285.0 178.6,292.1 183.7,305.4 188.8,303.5 193.9,305.3 199.0,304.7 204.1,289.9 209.3,301.9 214.4,280.2 219.5,274.5 224.6,286.0 229.7,290.6 234.8,293.6 239.9,299.6 245.0,286.9 250.1,295.4 255.2,261.3 260.4,260.3 265.5,252.7 270.6,286.3 275.7,283.4 280.8,268.3 285.9,246.7 291.0,252.8 296.1,292.0 301.2,289.6 306.3,289.8 311.4,301.4 316.6,303.1 321.7,288.1 326.8,282.1 331.9,310.5 337.0,289.6"/>
<polyline points="35.5,294.5 40.6,291.6 45.7,296.6 50.8,297.5 56.0,293.8 61.1,301.0 66.2,306.1 71.3,303.5 76.4,301.5 81.5,300.2 86.6,295.6 91.7,300.6 96.8,303.0 101.9,301.9 107.1,300.6 112.2,302.3 117.3,298.2 122.4,300.0 127.5,301.5 132.6,300.3 137.7,290.8 142.8,285.1 147.9,285.7 153.0,289.3 158.2,291.4 163.3,299.8 168.4,296.4 173.5,294.7 178.6,293.0 183.7,311.1 188.8,308.0 193.9,304.0 199.0,307.5 204.1,308.6 209.3,295.6 214.4,291.4 219.5,297.8 224.6,287.2 229.7,288.6 234.8,297.6 239.9,299.5 245.0,310.5 250.1,278.7 255.2,281.8 260.4,282.3 265.5,299.0 270.6,295.8 275.7,304.1 280.8,306.7 285.9,301.7 291.0,287.2 296.1,305.7 301.2,303.0 306.3,305.2 311.4,293.1 316.6,304.2 321.7,304.6 326.8,302.2 331.9,311.5 337.0,311.4"/>
<polyline points="35.5,292.3 40.6,293.3 45.7,295.2 50.8,294.1 56.0,294.3 61.1,297.3 66.2,300.0 71.3,290.8 76.4,300.0 81.5,304.8 86.6,301.2 91.7,299.0 96.8,294.9 101.9,302.6 107.1,299.5 112.2,296.1 117.3,293.1 122.4,275.9 127.5,283.1 132.6,292.8 137.7,290.1 142.8,261.8 147.9,279.0 153.0,294.5 158.2,296.5 163.3,288.0 168.4,294.0 173.5,287.1 178.6,295.5 183.7,294.1 188.8,301.7 193.9,301.5 199.0,289.1 204.1,301.2 209.3,305.7 214.4,296.1 219.5,291.4 224.6,309.7 229.7,300.1 234.8,287.1 239.9,298.5 245.0,306.8 250.1,307.4 255.2,306.6 260.4,305.8 265.5,307.7 270.6,309.1 275.7,307.3 280.8,304.9 285.9,295.4 291.0,306.1 296.1,310.0 301.2,314.8 306.3,314.8 311.4,307.8 316.6,312.2 321.7,307.6 326.8,301.8 331.9,291.8 337.0,309.1"/>
<polyline points="35.5,293.9 40.6,295.7 45.7,297.5 50.8,300.7 56.0,302.2 61.1,304.8 66.2,306.7 71.3,305.7 76.4,302.5 81.5,305.8 86.6,302.6 91.7,300.7 96.8,303.1 101.9,302.6 107.1,300.2 112.2,295.2 117.3,298.2 122.4,302.7 127.5,289.8 132.6,288.4 137.7,298.9 142.8,292.9 147.9,289.8 153.0,288.8 158.2,291.8 163.3,285.8 168.4,282.4 173.5,279.5 178.6,272.8 183.7,280.7 188.8,288.9 193.9,293.8 199.0,301.3 204.1,300.3 209.3,295.6 214.4,281.6 219.5,279.5 224.6,295.2 229.7,299.3 234.8,292.4 239.9,290.5 245.0,305.3 250.1,287.8 255.2,290.0 260.4,297.8 265.5,307.8 270.6,302.2 275.7,302.5 280.8,303.0 285.9,290.9 291.0,296.0 296.1,300.9 301.2,289.5 306.3,300.6 311.4,303.6 316.6,304.3 321.7,306.0 326.8,303.9 331.9,297.9 337.0,308.0"/>
<polyline points="35.5,294.1 40.6,293.7 45.7,296.7 50.8,296.1 56.0,298.5 61.1,299.9 66.2,299.4 71.3,297.2 76.4,295.0 81.5,301.6 86.6,302.5 91.7,302.0 96.8,302.9 101.9,303.7 107.1,307.2 112.2,306.6 117.3,302.5 122.4,304.1 127.5,298.7 132.6,291.6 137.7,296.6 142.8,298.9 147.9,297.3 153.0,289.0 158.2,294.4 163.3,293.2 168.4,283.4 173.5,292.8 178.6,289.1 183.7,303.7 188.8,307.3 193.9,304.6 199.0,298.7 204.1,310.9 209.3,302.7 214.4,298.1 219.5,289.8 224.6,301.4 229.7,291.4 234.8,302.0 239.9,302.0 245.0,298.3 250.1,296.0 255.2,278.8 260.4,291.3 265.5,279.9 270.6,303.9 275.7,306.3 280.8,305.7 285.9,293.8 291.0,298.1 296.1,285.2 301.2,294.7 306.3,295.9 311.4,301.9 316.6,299.3 321.7,293.5 326.8,259.8 331.9,291.7 337.0,284.9"/>
<polyline points="35.5,294.9 40.6,292.9 45.7,293.7 50.8,297.4 56.0,299.5 61.1,304.6 66.2,308.7 71.3,309.4 76.4,303.3 81.5,304.9 86.6,308.5 91.7,304.9 96.8,305.6 101.9,304.0 107.1,305.5 112.2,300.5 117.3,307.8 122.4,302.9 127.5,291.8 132.6,299.8 137.7,301.2 142.8,297.7 147.9,296.1 153.0,304.2 158.2,307.6 163.3,305.5 168.4,308.9 173.5,303.7 178.6,311.7 183.7,311.5 188.8,300.0 193.9,307.5 199.0,302.9 204.1,305.1 209.3,313.3 214.4,311.1 219.5,310.9 224.6,303.8 229.7,310.7 234.8,302.1 239.9,307.9 245.0,295.1 250.1,299.4 255.2,296.0 260.4,263.0 265.5,294.2 270.6,300.6 275.7,308.0 280.8,303.3 285.9,304.7 291.0,302.8 296.1,310.7 301.2,305.6 306.3,289.1 311.4,306.4 316.6,308.5 321.7,311.8 326.8,305.8 331.9,305.4 337.0,307.5"/>
<polyline points="35.5,294.4 40.6,294.0 45.7,297.8 50.8,298.4 56.0,303.8 61.1,302.0 66.2,306.6 71.3,301.3 76.4,304.0 81.5,307.5 86.6,303.4 91.7,303.4 96.8,304.9 101.9,308.2 107.1,298.6 112.2,300.2 117.3,295.5 122.4,291.3 127.5,298.7 132.6,292.5 137.7,290.8 142.8,283.0 147.9,293.9 153.0,290.8 158.2,298.7 163.3,286.7 168.4,292.9 173.5,303.0 178.6,287.1 183.7,300.1 188.8,301.9 193.9,300.7 199.0,298.3 204.1,295.9 209.3,293.7 214.4,280.8 219.5,299.0 224.6,295.4 229.7,291.1 234.8,290.7 239.9,300.6 245.0,290.0 250.1,300.6 255.2,296.9 260.4,294.6 265.5,297.6 270.6,309.6 275.7,308.4 280.8,303.0 285.9,308.6 291.0,302.4 296.1,304.7 301.2,308.6 306.3,312.0 311.4,308.5 316.6,306.3 321.7,307.8 326.8,299.4 331.9,302.6 337.0,294.6"/>
<polyline points="35.5,294.1 40.6,293.3 45.7,297.3 50.8,298.0 56.0,301.8 61.1,304.1 66.2,306.7 71.3,301.7 76.4,302.1 81.5,305.5 86.6,303.1 91.7,298.6 96.8,302.4 101.9,301.7 107.1,297.0 112.2,299.6 117.3,284.2 122.4,293.0 127.5,297.7 132.6,302.9 137.7,284.9 142.8,274.7 147.9,263.0 153.0,288.8 158.2,289.6 163.3,290.2 168.4,275.1 173.5,293.4 178.6,289.6 183.7,300.0 188.8,304.3 193.9,307.7 199.0,297.6 204.1,301.1 209.3,297.7 214.4,306.9 219.5,282.0 224.6,286.1 229.7,280.4 234.8,283.4 239.9,287.8 245.0,291.5 250.1,285.9 255.2,293.4 260.4,302.6 265.5,293.5 270.6,312.3 275.7,297.9 280.8,304.0 285.9,287.0 291.0,289.1 296.1,303.3 301.2,305.0 306.3,278.7 311.4,296.2 316.6,301.2 321.7,293.9 326.8,294.3 331.9,290.1 337.0,293.7"/>
</g>
<line x1="30.4" y1="249.50" x2="337.0" y2="249.50" stroke="#222" stroke-width="1" stroke-dasharray="1,2"/>
<line x1="30.4" y1="229.50" x2="337.0" y2="229.50" stroke="#222" stroke-width="1" stroke-dasharray="1,2"/>
<line x1="30.4" y1="207.50" x2="337.0" y2="207.50" stroke="#222" stroke-width="1" stroke-dasharray="1,2"/>
<polyline points="35.5,294.7 40.6,294.1 45.7,295.7 50.8,297.3 56.0,299.9 61.1,302.6 66.2,305.2 71.3,301.9 76.4,302.6 81.5,303.2 86.6,302.6 91.7,301.9 96.8,301.9 101.9,301.9 107.1,300.3 112.2,298.6 117.3,297.0 122.4,295.4 127.5,295.4 132.6,295.4 137.7,289.8 142.8,284.3 147.9,286.5 153.0,288.8 158.2,288.8 163.3,288.8 168.4,288.2 173.5,287.5 178.6,291.4 183.7,293.1 188.8,294.7 193.9,293.2 199.0,291.7 204.1,290.1 209.3,288.7 214.4,287.2 219.5,285.7 224.6,284.3 229.7,284.5 234.8,284.7 239.9,284.9 245.0,287.1 250.1,289.3 255.2,291.4 260.4,288.2 265.5,290.8 270.6,293.4 275.7,291.9 280.8,290.4 285.9,288.8 291.0,291.4 296.1,294.1 301.2,291.4 306.3,288.8 311.4,291.4 316.6,294.1 321.7,291.1 326.8,288.2 331.9,290.1 337.0,292.1" fill="none" stroke="#6e1e0e" stroke-width="2.5" stroke-linecap="round" stroke-dasharray="0.1,3.8"/>
<polyline points="35.5,294.1 40.6,293.4 45.7,295.4 50.8,297.3 56.0,299.3 61.1,303.2 66.2,311.7 71.3,301.9 76.4,304.5 81.5,307.1 86.6,304.5 91.7,301.9 96.8,302.6 101.9,303.2 107.1,300.6 112.2,298.0 117.3,294.4 122.4,290.8 127.5,295.7 132.6,300.6 137.7,290.8 142.8,281.0 147.9,287.5 153.0,286.2 158.2,284.9 163.3,286.2 168.4,287.5 173.5,289.5 178.6,299.0 183.7,308.4 188.8,300.3 193.9,298.9 199.0,297.4 204.1,296.0 209.3,297.0 214.4,298.0 219.5,304.5 224.6,304.5 229.7,304.5 234.8,304.5 239.9,301.9 245.0,299.3 250.1,304.8 255.2,310.4 260.4,302.6 265.5,294.7 270.6,306.5 275.7,308.7 280.8,310.8 285.9,313.0 291.0,309.7 296.1,306.5 301.2,304.2 306.3,301.9 311.4,306.5 316.6,305.4 321.7,304.3 326.8,303.2 331.9,305.2 337.0,301.9" fill="none" stroke="#1a30ff" stroke-width="1.9" stroke-dasharray="3,1.9"/>
<polyline points="35.5,294.1 40.6,292.8 45.7,295.4 50.8,297.3 56.0,298.6 61.1,301.9 66.2,310.4 71.3,299.3 76.4,303.2 81.5,308.4 86.6,304.8 91.7,301.2 96.8,301.9 101.9,302.9 107.1,303.9 112.2,298.6 117.3,296.0 122.4,293.4 127.5,294.7 132.6,296.0 137.7,286.9 142.8,277.7 147.9,292.1 153.0,292.1 158.2,292.1 163.3,287.7 168.4,283.4 173.5,279.0 178.6,300.6 183.7,313.0 188.8,315.0 193.9,302.6 199.0,290.8 204.1,279.0 209.3,280.3 214.4,281.6 219.5,281.6 224.6,275.1 229.7,281.6 234.8,262.0" fill="none" stroke="#ff2a1a" stroke-width="1.5"/>
</g>
<g clip-path="url(#c3)">
<g fill="none" stroke="#62a535" stroke-opacity="0.62" stroke-width="1.15">
<polyline points="400.6,292.2 405.7,287.7 410.8,289.7 415.9,293.0 421.1,294.0 426.2,294.2 431.3,292.7 436.4,297.4 441.5,301.4 446.6,299.0 451.7,299.3 456.8,300.6 462.0,297.3 467.1,297.1 472.2,298.4 477.3,300.9 482.4,298.7 487.5,301.6 492.6,294.5 497.7,296.3 502.8,291.7 508.0,282.1 513.1,282.3 518.2,279.8 523.3,278.3 528.4,273.1 533.5,287.8 538.6,285.6 543.7,298.6 548.9,299.0 554.0,295.2 559.1,293.5 564.2,291.4 569.3,294.9 574.4,295.7 579.5,284.8 584.6,281.3 589.7,284.2 594.9,295.1 600.0,290.1 605.1,292.0 610.2,288.2 615.3,296.6 620.4,292.7 625.5,292.4 630.6,291.4 635.7,286.5 640.9,298.2 646.0,292.4 651.1,284.8 656.2,283.5 661.3,283.2 666.4,290.0 671.5,278.6 676.6,274.3 681.8,279.8 686.9,282.3 692.0,275.0 697.1,281.3 702.2,289.6"/>
<polyline points="400.6,292.7 405.7,284.7 410.8,285.0 415.9,289.3 421.1,292.8 426.2,292.8 431.3,293.9 436.4,295.5 441.5,297.5 446.6,294.3 451.7,294.9 456.8,286.7 462.0,285.7 467.1,289.3 472.2,291.1 477.3,296.0 482.4,292.7 487.5,294.0 492.6,295.6 497.7,299.8 502.8,297.3 508.0,276.4 513.1,287.4 518.2,288.0 523.3,287.3 528.4,282.5 533.5,282.7 538.6,289.7 543.7,291.2 548.9,297.6 554.0,301.4 559.1,304.1 564.2,299.2 569.3,296.6 574.4,301.4 579.5,300.8 584.6,277.6 589.7,268.5 594.9,285.2 600.0,266.1 605.1,281.5 610.2,297.3 615.3,300.6 620.4,301.4 625.5,286.2 630.6,282.8 635.7,300.9 640.9,291.4 646.0,299.0 651.1,294.2 656.2,281.2 661.3,277.8 666.4,287.6 671.5,279.4 676.6,288.5 681.8,286.6 686.9,275.1 692.0,264.2 697.1,253.0 702.2,259.0"/>
<polyline points="400.6,293.4 405.7,286.1 410.8,288.6 415.9,292.3 421.1,294.3 426.2,296.1 431.3,297.9 436.4,298.7 441.5,300.9 446.6,298.4 451.7,298.3 456.8,296.2 462.0,290.5 467.1,299.3 472.2,298.8 477.3,306.1 482.4,303.2 487.5,294.9 492.6,297.6 497.7,295.0 502.8,296.8 508.0,295.1 513.1,293.7 518.2,287.5 523.3,277.2 528.4,284.1 533.5,291.8 538.6,281.3 543.7,292.5 548.9,297.0 554.0,299.8 559.1,297.7 564.2,305.9 569.3,306.2 574.4,302.1 579.5,303.6 584.6,305.0 589.7,301.8 594.9,299.8 600.0,300.8 605.1,303.3 610.2,300.9 615.3,301.9 620.4,306.3 625.5,298.5 630.6,297.5 635.7,293.6 640.9,302.7 646.0,298.9 651.1,294.4 656.2,288.8 661.3,291.6 666.4,291.8 671.5,282.1 676.6,276.2 681.8,266.7 686.9,261.8 692.0,271.6 697.1,275.2 702.2,291.9"/>
<polyline points="400.6,295.2 405.7,287.6 410.8,291.9 415.9,295.3 421.1,298.6 426.2,297.7 431.3,298.9 436.4,300.0 441.5,302.2 446.6,300.9 451.7,296.6 456.8,293.2 462.0,287.9 467.1,294.4 472.2,296.6 477.3,302.8 482.4,299.6 487.5,293.8 492.6,287.6 497.7,290.7 502.8,290.5 508.0,275.1 513.1,266.2 518.2,253.5 523.3,270.7 528.4,272.9 533.5,277.6 538.6,272.3 543.7,269.6 548.9,265.7 554.0,290.6 559.1,288.6 564.2,281.9 569.3,279.3 574.4,282.8 579.5,292.1 584.6,262.4 589.7,261.7 594.9,280.7 600.0,287.9 605.1,275.5 610.2,284.4 615.3,285.1 620.4,285.4 625.5,283.6 630.6,281.3 635.7,293.8 640.9,302.3 646.0,308.2 651.1,295.8 656.2,286.2 661.3,284.9 666.4,284.5 671.5,287.2 676.6,266.1 681.8,278.1 686.9,282.0 692.0,278.4 697.1,270.4 702.2,279.9"/>
<polyline points="400.6,293.0 405.7,285.1 410.8,288.1 415.9,291.6 421.1,293.2 426.2,294.1 431.3,291.3 436.4,293.0 441.5,296.0 446.6,295.1 451.7,299.0 456.8,299.7 462.0,297.8 467.1,299.9 472.2,303.0 477.3,299.2 482.4,293.3 487.5,287.8 492.6,291.3 497.7,285.7 502.8,282.9 508.0,259.6 513.1,270.4 518.2,276.6 523.3,258.8 528.4,242.1 533.5,253.1 538.6,265.6 543.7,282.2 548.9,259.2 554.0,279.2 559.1,266.4 564.2,261.6 569.3,248.8 574.4,281.7 579.5,296.4 584.6,284.7 589.7,273.8 594.9,270.0 600.0,290.6 605.1,292.7 610.2,289.4 615.3,290.8 620.4,283.2 625.5,262.8 630.6,256.3 635.7,279.5 640.9,283.6 646.0,272.5 651.1,269.8 656.2,256.5 661.3,282.6 666.4,283.4 671.5,268.8 676.6,260.5 681.8,272.1 686.9,269.4 692.0,241.3 697.1,255.9 702.2,275.9"/>
<polyline points="400.6,293.4 405.7,286.8 410.8,289.8 415.9,292.0 421.1,294.0 426.2,297.4 431.3,296.9 436.4,300.6 441.5,303.2 446.6,300.3 451.7,300.2 456.8,301.8 462.0,298.6 467.1,302.3 472.2,300.3 477.3,299.5 482.4,297.9 487.5,293.0 492.6,288.1 497.7,287.4 502.8,285.3 508.0,264.7 513.1,275.1 518.2,279.2 523.3,282.4 528.4,279.0 533.5,285.3 538.6,292.5 543.7,284.6 548.9,292.7 554.0,293.4 559.1,285.1 564.2,285.3 569.3,289.2 574.4,285.2 579.5,264.4 584.6,269.2 589.7,273.1 594.9,266.4 600.0,277.7 605.1,290.4 610.2,286.1 615.3,285.0 620.4,281.1 625.5,286.1 630.6,295.5 635.7,294.7 640.9,302.0 646.0,298.1 651.1,293.8 656.2,291.9 661.3,299.8 666.4,303.3 671.5,300.2 676.6,300.2 681.8,301.3 686.9,296.9 692.0,303.6 697.1,305.1 702.2,305.6"/>
<polyline points="400.6,292.5 405.7,284.2 410.8,287.9 415.9,289.0 421.1,291.4 426.2,291.7 431.3,291.7 436.4,291.3 441.5,291.9 446.6,289.0 451.7,286.2 456.8,287.0 462.0,286.2 467.1,286.2 472.2,290.0 477.3,294.3 482.4,289.6 487.5,285.5 492.6,284.9 497.7,288.9 502.8,284.1 508.0,268.0 513.1,277.7 518.2,280.8 523.3,268.2 528.4,273.2 533.5,270.3 538.6,282.9 543.7,281.6 548.9,259.7 554.0,259.8 559.1,263.3 564.2,267.7 569.3,288.5 574.4,288.5 579.5,286.3 584.6,286.1 589.7,278.1 594.9,271.3 600.0,279.2 605.1,272.6 610.2,276.2 615.3,290.9 620.4,296.3 625.5,299.5 630.6,302.9 635.7,295.1 640.9,290.6 646.0,287.5 651.1,302.1 656.2,288.6 661.3,289.6 666.4,297.9 671.5,291.5 676.6,296.8 681.8,303.6 686.9,303.2 692.0,292.3 697.1,303.2 702.2,294.2"/>
<polyline points="400.6,293.3 405.7,285.3 410.8,288.1 415.9,291.3 421.1,293.2 426.2,296.2 431.3,297.0 436.4,296.8 441.5,301.0 446.6,297.5 451.7,294.4 456.8,290.7 462.0,291.8 467.1,292.8 472.2,297.3 477.3,298.5 482.4,296.5 487.5,290.0 492.6,294.4 497.7,295.9 502.8,294.7 508.0,278.0 513.1,285.9 518.2,281.8 523.3,276.3 528.4,261.3 533.5,273.6 538.6,286.8 543.7,290.3 548.9,296.1 554.0,302.6 559.1,303.5 564.2,309.1 569.3,308.1 574.4,305.0 579.5,294.1 584.6,286.2 589.7,277.3 594.9,280.2 600.0,282.8 605.1,241.7 610.2,246.6 615.3,256.0 620.4,284.1 625.5,290.6 630.6,282.6 635.7,286.0 640.9,259.1 646.0,275.8 651.1,294.6 656.2,290.3 661.3,299.4 666.4,298.2 671.5,285.8 676.6,287.0 681.8,297.5 686.9,298.7 692.0,290.1 697.1,298.2 702.2,298.4"/>
<polyline points="400.6,291.8 405.7,284.7 410.8,287.9 415.9,289.7 421.1,293.2 426.2,294.2 431.3,299.3 436.4,296.2 441.5,297.2 446.6,300.9 451.7,296.6 456.8,293.8 462.0,291.4 467.1,294.9 472.2,295.7 477.3,301.0 482.4,300.5 487.5,298.3 492.6,297.2 497.7,298.8 502.8,292.3 508.0,281.1 513.1,286.1 518.2,282.9 523.3,274.7 528.4,272.0 533.5,270.9 538.6,277.6 543.7,289.0 548.9,284.9 554.0,285.0 559.1,292.5 564.2,297.4 569.3,299.5 574.4,302.4 579.5,306.1 584.6,298.0 589.7,299.9 594.9,291.6 600.0,303.2 605.1,303.9 610.2,298.9 615.3,290.1 620.4,293.6 625.5,297.5 630.6,298.3 635.7,297.0 640.9,295.2 646.0,300.2 651.1,305.0 656.2,301.6 661.3,302.6 666.4,293.8 671.5,290.6 676.6,291.5 681.8,299.8 686.9,290.4 692.0,287.4 697.1,298.8 702.2,306.0"/>
<polyline points="400.6,292.0 405.7,284.2 410.8,285.9 415.9,288.2 421.1,292.0 426.2,294.8 431.3,298.3 436.4,297.3 441.5,299.5 446.6,295.7 451.7,292.8 456.8,292.4 462.0,291.4 467.1,296.1 472.2,296.9 477.3,299.5 482.4,300.9 487.5,294.8 492.6,291.6 497.7,294.2 502.8,297.2 508.0,287.0 513.1,291.4 518.2,290.5 523.3,283.9 528.4,284.6 533.5,275.0 538.6,271.5 543.7,277.8 548.9,280.3 554.0,281.7 559.1,287.1 564.2,280.4 569.3,268.7 574.4,275.1 579.5,276.7 584.6,288.6 589.7,288.3 594.9,281.2 600.0,275.4 605.1,281.6 610.2,260.2 615.3,252.2 620.4,271.5 625.5,281.6 630.6,270.4 635.7,279.0 640.9,283.2 646.0,294.6 651.1,296.9 656.2,291.1 661.3,284.9 666.4,288.8 671.5,283.2 676.6,291.4 681.8,301.0 686.9,298.3 692.0,293.7 697.1,301.5 702.2,299.1"/>
<polyline points="400.6,292.5 405.7,284.7 410.8,286.8 415.9,290.1 421.1,293.0 426.2,293.1 431.3,291.8 436.4,292.9 441.5,294.9 446.6,290.5 451.7,288.3 456.8,286.6 462.0,287.2 467.1,293.8 472.2,294.1 477.3,300.3 482.4,296.4 487.5,285.2 492.6,282.3 497.7,286.3 502.8,283.7 508.0,259.6 513.1,269.8 518.2,272.9 523.3,269.7 528.4,266.7 533.5,258.5 538.6,257.0 543.7,244.9 548.9,243.0 554.0,251.9 559.1,260.8 564.2,257.9 569.3,232.2 574.4,249.1 579.5,258.6 584.6,231.2 589.7,241.4 594.9,246.6 600.0,264.0 605.1,266.1 610.2,261.2 615.3,283.5 620.4,274.7 625.5,275.5 630.6,258.8 635.7,259.1 640.9,271.5 646.0,266.0 651.1,270.1 656.2,270.8 661.3,284.5 666.4,274.7 671.5,281.1 676.6,284.0 681.8,295.0 686.9,288.6 692.0,294.8 697.1,294.8 702.2,301.4"/>
<polyline points="400.6,293.7 405.7,288.2 410.8,292.1 415.9,293.0 421.1,294.8 426.2,296.0 431.3,297.4 436.4,295.5 441.5,297.6 446.6,296.5 451.7,289.8 456.8,291.9 462.0,291.8 467.1,292.2 472.2,293.1 477.3,292.8 482.4,288.3 487.5,289.2 492.6,286.6 497.7,288.3 502.8,293.2 508.0,285.1 513.1,291.1 518.2,298.1 523.3,287.3 528.4,284.7 533.5,280.9 538.6,287.7 543.7,285.5 548.9,281.2 554.0,285.9 559.1,284.8 564.2,279.5 569.3,276.5 574.4,265.9 579.5,278.5 584.6,248.4 589.7,232.3 594.9,248.0 600.0,280.8 605.1,279.8 610.2,271.6 615.3,287.8 620.4,291.1 625.5,290.1 630.6,263.7 635.7,283.8 640.9,303.6 646.0,299.4 651.1,295.4 656.2,282.6 661.3,294.2 666.4,297.4 671.5,294.9 676.6,292.9 681.8,301.9 686.9,296.6 692.0,298.7 697.1,294.7 702.2,299.4"/>
<polyline points="400.6,292.2 405.7,285.3 410.8,288.4 415.9,291.3 421.1,293.2 426.2,292.5 431.3,295.8 436.4,294.6 441.5,298.4 446.6,295.1 451.7,293.6 456.8,292.9 462.0,291.6 467.1,299.6 472.2,300.5 477.3,298.8 482.4,300.4 487.5,298.4 492.6,305.5 497.7,304.8 502.8,297.0 508.0,286.0 513.1,292.1 518.2,296.0 523.3,296.5 528.4,292.7 533.5,291.8 538.6,288.9 543.7,288.6 548.9,295.9 554.0,302.3 559.1,304.8 564.2,301.8 569.3,293.3 574.4,284.0 579.5,293.5 584.6,283.7 589.7,289.5 594.9,285.4 600.0,280.0 605.1,270.3 610.2,273.9 615.3,284.9 620.4,270.2 625.5,270.1 630.6,275.5 635.7,289.7 640.9,281.1 646.0,273.4 651.1,270.8 656.2,243.6 661.3,267.6 666.4,280.7 671.5,266.5 676.6,253.4 681.8,271.5 686.9,266.4 692.0,251.2 697.1,251.8 702.2,256.7"/>
<polyline points="400.6,294.2 405.7,287.7 410.8,290.5 415.9,294.7 421.1,297.3 426.2,299.8 431.3,300.4 436.4,303.8 441.5,300.6 446.6,293.8 451.7,292.4 456.8,291.8 462.0,296.6 467.1,299.0 472.2,296.5 477.3,297.9 482.4,294.9 487.5,288.8 492.6,290.0 497.7,294.2 502.8,300.0 508.0,288.0 513.1,297.9 518.2,292.9 523.3,297.6 528.4,297.1 533.5,295.1 538.6,289.0 543.7,284.8 548.9,279.3 554.0,293.8 559.1,299.9 564.2,292.8 569.3,296.6 574.4,292.3 579.5,293.5 584.6,288.3 589.7,299.4 594.9,300.8 600.0,308.9 605.1,302.6 610.2,300.8 615.3,294.1 620.4,289.0 625.5,298.6 630.6,284.0 635.7,280.1 640.9,269.9 646.0,284.5 651.1,286.3 656.2,289.6 661.3,301.7 666.4,297.2 671.5,293.3 676.6,286.6 681.8,288.1 686.9,276.9 692.0,290.6 697.1,286.6 702.2,281.7"/>
<polyline points="400.6,292.9 405.7,286.3 410.8,290.4 415.9,292.7 421.1,295.1 426.2,298.9 431.3,298.6 436.4,300.5 441.5,297.7 446.6,291.1 451.7,288.5 456.8,284.5 462.0,287.2 467.1,295.9 472.2,296.9 477.3,303.5 482.4,297.1 487.5,287.0 492.6,285.8 497.7,283.7 502.8,285.2 508.0,263.0 513.1,264.1 518.2,265.6 523.3,258.6 528.4,261.7 533.5,270.7 538.6,269.1 543.7,267.9 548.9,266.8 554.0,274.6 559.1,275.3 564.2,289.3 569.3,285.9 574.4,296.7 579.5,291.7 584.6,292.4 589.7,271.0 594.9,283.9 600.0,279.7 605.1,283.7 610.2,271.3 615.3,285.0 620.4,298.8 625.5,292.8 630.6,296.6 635.7,279.7 640.9,285.7 646.0,285.6 651.1,281.9 656.2,281.5 661.3,270.2 666.4,273.3 671.5,268.2 676.6,273.2 681.8,259.8 686.9,246.2 692.0,265.9 697.1,267.7 702.2,270.3"/>
<polyline points="400.6,292.4 405.7,285.5 410.8,287.7 415.9,292.2 421.1,297.6 426.2,300.6 431.3,299.5 436.4,302.8 441.5,302.5 446.6,295.3 451.7,293.4 456.8,291.4 462.0,291.0 467.1,298.0 472.2,297.5 477.3,296.9 482.4,292.0 487.5,288.7 492.6,287.3 497.7,291.2 502.8,294.3 508.0,272.9 513.1,269.3 518.2,279.2 523.3,268.2 528.4,266.8 533.5,271.9 538.6,285.5 543.7,273.2 548.9,266.2 554.0,257.7 559.1,276.3 564.2,254.2 569.3,272.3 574.4,287.9 579.5,281.3 584.6,280.3 589.7,267.6 594.9,263.2 600.0,282.5 605.1,268.9 610.2,279.0 615.3,298.1 620.4,292.4 625.5,269.6 630.6,259.3 635.7,279.4 640.9,260.4 646.0,258.1 651.1,251.4 656.2,265.5 661.3,268.0 666.4,283.4 671.5,282.7 676.6,276.8 681.8,284.8 686.9,279.2 692.0,259.9 697.1,279.9 702.2,284.9"/>
<polyline points="400.6,292.4 405.7,285.0 410.8,289.1 415.9,291.7 421.1,295.8 426.2,298.4 431.3,295.2 436.4,295.6 441.5,298.0 446.6,294.7 451.7,292.3 456.8,290.3 462.0,287.7 467.1,293.2 472.2,298.4 477.3,300.4 482.4,304.6 487.5,300.9 492.6,296.1 497.7,298.4 502.8,297.9 508.0,291.9 513.1,291.4 518.2,290.6 523.3,289.1 528.4,282.4 533.5,282.1 538.6,288.2 543.7,282.3 548.9,287.2 554.0,287.0 559.1,284.4 564.2,261.9 569.3,278.6 574.4,268.1 579.5,271.7 584.6,275.5 589.7,289.9 594.9,293.8 600.0,286.9 605.1,296.3 610.2,300.6 615.3,294.8 620.4,287.9 625.5,276.1 630.6,289.1 635.7,297.2 640.9,303.4 646.0,289.7 651.1,282.9 656.2,265.8 661.3,260.5 666.4,260.9 671.5,252.1 676.6,265.3 681.8,268.2 686.9,246.9 692.0,259.4 697.1,255.1 702.2,264.8"/>
<polyline points="400.6,293.2 405.7,285.4 410.8,286.6 415.9,288.2 421.1,290.8 426.2,292.9 431.3,294.8 436.4,299.9 441.5,301.4 446.6,297.9 451.7,296.9 456.8,295.2 462.0,289.4 467.1,296.7 472.2,295.5 477.3,297.6 482.4,295.3 487.5,287.6 492.6,285.0 497.7,289.5 502.8,287.9 508.0,266.6 513.1,272.2 518.2,278.8 523.3,280.3 528.4,274.6 533.5,262.5 538.6,275.0 543.7,285.0 548.9,288.8 554.0,288.1 559.1,292.2 564.2,299.4 569.3,278.4 574.4,281.3 579.5,288.7 584.6,291.9 589.7,276.0 594.9,281.2 600.0,253.7 605.1,254.7 610.2,248.7 615.3,255.4 620.4,252.0 625.5,263.3 630.6,257.8 635.7,276.8 640.9,289.4 646.0,268.7 651.1,257.2 656.2,273.0 661.3,282.6 666.4,287.5 671.5,284.4 676.6,278.1 681.8,284.9 686.9,286.6 692.0,266.2 697.1,260.8 702.2,262.5"/>
<polyline points="400.6,292.1 405.7,286.2 410.8,289.7 415.9,291.2 421.1,294.8 426.2,292.1 431.3,294.7 436.4,298.6 441.5,300.1 446.6,293.4 451.7,294.0 456.8,291.2 462.0,292.6 467.1,296.3 472.2,293.4 477.3,296.0 482.4,294.7 487.5,286.8 492.6,287.6 497.7,281.5 502.8,282.0 508.0,251.6 513.1,263.6 518.2,262.4 523.3,254.4 528.4,253.8 533.5,278.5 538.6,274.3 543.7,291.3 548.9,295.9 554.0,302.5 559.1,301.6 564.2,281.8 569.3,267.0 574.4,286.6 579.5,277.6 584.6,259.4 589.7,271.9 594.9,274.8 600.0,276.7 605.1,278.9 610.2,279.7 615.3,289.2 620.4,286.3 625.5,281.1 630.6,277.8 635.7,285.0 640.9,288.9 646.0,289.5 651.1,287.2 656.2,296.6 661.3,300.3 666.4,304.9 671.5,299.7 676.6,296.9 681.8,301.1 686.9,296.8 692.0,299.9 697.1,299.0 702.2,304.7"/>
<polyline points="400.6,294.3 405.7,287.3 410.8,289.4 415.9,290.6 421.1,293.4 426.2,294.8 431.3,294.1 436.4,297.2 441.5,298.3 446.6,291.6 451.7,290.3 456.8,292.4 462.0,291.2 467.1,296.1 472.2,297.0 477.3,295.5 482.4,295.3 487.5,296.7 492.6,293.8 497.7,297.1 502.8,298.0 508.0,288.0 513.1,289.5 518.2,289.6 523.3,284.9 528.4,288.8 533.5,296.2 538.6,300.2 543.7,303.0 548.9,297.5 554.0,296.5 559.1,298.7 564.2,297.5 569.3,299.4 574.4,303.1 579.5,299.3 584.6,286.6 589.7,288.0 594.9,293.7 600.0,299.2 605.1,284.0 610.2,277.7 615.3,286.2 620.4,285.0 625.5,294.6 630.6,290.8 635.7,290.4 640.9,300.4 646.0,301.4 651.1,301.1 656.2,299.0 661.3,285.7 666.4,291.1 671.5,284.0 676.6,283.5 681.8,290.8 686.9,289.4 692.0,285.1 697.1,286.0 702.2,288.5"/>
<polyline points="400.6,294.1 405.7,288.1 410.8,291.9 415.9,296.1 421.1,296.8 426.2,297.4 431.3,296.1 436.4,298.8 441.5,303.8 446.6,301.5 451.7,294.8 456.8,296.7 462.0,296.5 467.1,296.7 472.2,294.9 477.3,297.3 482.4,292.1 487.5,284.5 492.6,289.7 497.7,293.6 502.8,293.8 508.0,271.3 513.1,272.6 518.2,268.6 523.3,264.8 528.4,258.5 533.5,260.8 538.6,256.5 543.7,255.6 548.9,273.2 554.0,260.0 559.1,256.3 564.2,253.4 569.3,270.8 574.4,292.3 579.5,279.0 584.6,275.8 589.7,279.1 594.9,284.8 600.0,288.6 605.1,257.3 610.2,252.8 615.3,255.0 620.4,264.3 625.5,257.0 630.6,249.7 635.7,242.2 640.9,271.9 646.0,241.0 651.1,264.5 656.2,258.6 661.3,238.6 666.4,253.8 671.5,234.9 676.6,238.1 681.8,245.5 686.9,236.7 692.0,246.3 697.1,243.5 702.2,255.1"/>
<polyline points="400.6,294.2 405.7,287.8 410.8,291.7 415.9,295.5 421.1,299.7 426.2,302.5 431.3,303.3 436.4,305.8 441.5,306.9 446.6,302.6 451.7,302.4 456.8,306.2 462.0,297.5 467.1,297.6 472.2,300.5 477.3,305.3 482.4,304.0 487.5,295.9 492.6,294.9 497.7,295.6 502.8,293.3 508.0,281.6 513.1,283.3 518.2,276.3 523.3,273.6 528.4,265.7 533.5,265.1 538.6,259.6 543.7,264.0 548.9,282.0 554.0,290.0 559.1,270.6 564.2,275.3 569.3,249.5 574.4,268.6 579.5,286.2 584.6,277.9 589.7,278.0 594.9,284.6 600.0,286.4 605.1,288.6 610.2,273.5 615.3,272.5 620.4,285.3 625.5,290.9 630.6,272.1 635.7,268.0 640.9,267.7 646.0,262.7 651.1,256.6 656.2,265.2 661.3,282.5 666.4,283.8 671.5,256.8 676.6,287.6 681.8,295.8 686.9,286.3 692.0,292.8 697.1,284.1 702.2,295.9"/>
<polyline points="400.6,294.9 405.7,288.5 410.8,292.1 415.9,292.8 421.1,295.9 426.2,300.4 431.3,305.8 436.4,303.1 441.5,306.0 446.6,307.0 451.7,310.3 456.8,306.4 462.0,302.9 467.1,296.7 472.2,299.2 477.3,299.4 482.4,297.8 487.5,294.9 492.6,289.6 497.7,292.2 502.8,297.5 508.0,283.4 513.1,281.1 518.2,286.3 523.3,270.9 528.4,267.5 533.5,282.5 538.6,292.0 543.7,292.8 548.9,293.5 554.0,298.2 559.1,293.7 564.2,290.3 569.3,285.2 574.4,288.9 579.5,299.9 584.6,285.0 589.7,281.2 594.9,279.6 600.0,275.5 605.1,262.6 610.2,263.2 615.3,271.8 620.4,281.8 625.5,283.6 630.6,282.0 635.7,291.9 640.9,292.9 646.0,292.3 651.1,285.2 656.2,285.5 661.3,297.5 666.4,289.8 671.5,282.5 676.6,290.1 681.8,296.9 686.9,290.7 692.0,288.4 697.1,276.9 702.2,282.7"/>
<polyline points="400.6,290.9 405.7,282.3 410.8,285.4 415.9,288.3 421.1,290.6 426.2,290.9 431.3,294.5 436.4,300.8 441.5,295.6 446.6,289.5 451.7,290.9 456.8,288.3 462.0,288.5 467.1,290.3 472.2,295.5 477.3,299.2 482.4,288.8 487.5,286.7 492.6,284.7 497.7,285.4 502.8,282.5 508.0,265.9 513.1,266.1 518.2,267.5 523.3,276.3 528.4,277.6 533.5,270.2 538.6,271.3 543.7,258.7 548.9,278.1 554.0,279.7 559.1,277.4 564.2,286.4 569.3,274.0 574.4,283.8 579.5,282.2 584.6,260.1 589.7,265.3 594.9,269.7 600.0,271.7 605.1,279.6 610.2,282.1 615.3,281.6 620.4,276.3 625.5,284.3 630.6,282.7 635.7,271.5 640.9,291.3 646.0,292.9 651.1,287.1 656.2,276.1 661.3,290.0 666.4,287.5 671.5,257.8 676.6,253.2 681.8,255.2 686.9,271.8 692.0,288.0 697.1,282.0 702.2,280.7"/>
<polyline points="400.6,293.1 405.7,285.5 410.8,289.8 415.9,295.2 421.1,298.0 426.2,299.3 431.3,300.2 436.4,299.7 441.5,297.4 446.6,294.0 451.7,291.3 456.8,296.3 462.0,293.6 467.1,291.2 472.2,293.3 477.3,298.2 482.4,299.3 487.5,292.2 492.6,297.4 497.7,295.3 502.8,301.2 508.0,292.2 513.1,285.6 518.2,291.4 523.3,293.9 528.4,292.4 533.5,288.5 538.6,291.4 543.7,290.5 548.9,303.2 554.0,303.6 559.1,300.3 564.2,299.6 569.3,302.0 574.4,291.2 579.5,279.6 584.6,270.1 589.7,258.0 594.9,276.0 600.0,289.6 605.1,299.7 610.2,299.9 615.3,299.6 620.4,280.8 625.5,294.1 630.6,290.2 635.7,289.2 640.9,296.6 646.0,295.0 651.1,290.6 656.2,299.6 661.3,300.6 666.4,297.2 671.5,283.8 676.6,278.5 681.8,286.8 686.9,285.9 692.0,302.7 697.1,300.8 702.2,302.0"/>
<polyline points="400.6,294.2 405.7,289.3 410.8,291.0 415.9,294.1 421.1,298.0 426.2,296.7 431.3,296.8 436.4,299.6 441.5,300.4 446.6,301.2 451.7,291.4 456.8,297.6 462.0,297.7 467.1,294.3 472.2,294.2 477.3,299.1 482.4,295.9 487.5,292.5 492.6,286.9 497.7,278.7 502.8,278.5 508.0,254.2 513.1,249.2 518.2,258.6 523.3,261.1 528.4,261.7 533.5,262.7 538.6,267.6 543.7,269.9 548.9,277.2 554.0,288.7 559.1,276.0 564.2,276.6 569.3,272.1 574.4,255.4 579.5,237.7 584.6,233.2 589.7,239.3 594.9,257.3 600.0,263.7 605.1,265.0 610.2,252.0 615.3,270.2 620.4,265.1 625.5,254.3 630.6,251.5 635.7,275.5 640.9,295.1 646.0,279.7 651.1,288.6 656.2,286.8 661.3,263.8 666.4,272.1 671.5,273.9 676.6,270.4 681.8,278.5 686.9,281.6 692.0,288.5 697.1,296.8 702.2,292.4"/>
<polyline points="400.6,292.5 405.7,284.5 410.8,288.6 415.9,291.8 421.1,293.5 426.2,293.9 431.3,293.3 436.4,295.3 441.5,299.0 446.6,291.5 451.7,290.0 456.8,292.2 462.0,295.4 467.1,291.5 472.2,293.1 477.3,293.0 482.4,290.5 487.5,285.1 492.6,285.2 497.7,290.8 502.8,289.7 508.0,275.6 513.1,278.9 518.2,285.3 523.3,271.7 528.4,268.4 533.5,277.1 538.6,281.1 543.7,289.0 548.9,287.6 554.0,293.4 559.1,291.1 564.2,264.0 569.3,283.1 574.4,287.2 579.5,297.4 584.6,292.2 589.7,286.9 594.9,288.9 600.0,294.3 605.1,288.2 610.2,289.1 615.3,276.9 620.4,284.1 625.5,269.8 630.6,233.1 635.7,268.3 640.9,269.8 646.0,268.9 651.1,288.8 656.2,277.2 661.3,271.3 666.4,245.3 671.5,267.5 676.6,291.1 681.8,280.6 686.9,266.5 692.0,275.1 697.1,258.1 702.2,241.5"/>
<polyline points="400.6,293.1 405.7,285.1 410.8,289.2 415.9,292.6 421.1,294.3 426.2,293.9 431.3,299.9 436.4,300.0 441.5,299.2 446.6,294.0 451.7,293.2 456.8,291.9 462.0,290.1 467.1,290.9 472.2,289.9 477.3,293.3 482.4,289.4 487.5,292.3 492.6,295.4 497.7,298.0 502.8,291.4 508.0,273.8 513.1,281.0 518.2,274.7 523.3,278.5 528.4,272.5 533.5,270.7 538.6,278.5 543.7,278.2 548.9,276.6 554.0,275.3 559.1,261.7 564.2,263.6 569.3,255.8 574.4,269.3 579.5,254.2 584.6,233.3 589.7,225.8 594.9,228.7 600.0,246.5 605.1,272.8 610.2,252.6 615.3,244.0 620.4,261.7 625.5,268.1 630.6,271.2 635.7,279.9 640.9,282.1 646.0,291.9 651.1,288.8 656.2,275.1 661.3,258.0 666.4,249.4 671.5,246.4 676.6,273.9 681.8,281.1 686.9,265.5 692.0,242.7 697.1,273.5 702.2,267.7"/>
<polyline points="400.6,293.3 405.7,284.9 410.8,286.4 415.9,289.9 421.1,296.0 426.2,295.9 431.3,294.0 436.4,298.1 441.5,300.9 446.6,296.8 451.7,294.6 456.8,286.7 462.0,283.7 467.1,290.1 472.2,294.4 477.3,295.1 482.4,290.9 487.5,292.7 492.6,290.0 497.7,288.6 502.8,283.8 508.0,264.0 513.1,266.6 518.2,278.9 523.3,282.6 528.4,274.8 533.5,283.6 538.6,275.8 543.7,261.8 548.9,258.2 554.0,269.0 559.1,254.8 564.2,270.6 569.3,272.8 574.4,247.7 579.5,260.4 584.6,251.6 589.7,250.1 594.9,245.8 600.0,263.9 605.1,252.9 610.2,249.4 615.3,262.8 620.4,271.8 625.5,256.2 630.6,272.1 635.7,282.5 640.9,283.9 646.0,276.5 651.1,274.3 656.2,291.8 661.3,294.2 666.4,291.7 671.5,274.7 676.6,281.4 681.8,266.3 686.9,276.5 692.0,280.4 697.1,277.3 702.2,276.9"/>
<polyline points="400.6,292.5 405.7,285.1 410.8,287.2 415.9,288.4 421.1,290.6 426.2,291.6 431.3,291.4 436.4,292.1 441.5,293.0 446.6,294.0 451.7,291.8 456.8,292.4 462.0,290.7 467.1,293.0 472.2,292.9 477.3,292.9 482.4,287.2 487.5,286.2 492.6,291.2 497.7,288.7 502.8,289.3 508.0,278.7 513.1,272.9 518.2,286.4 523.3,276.6 528.4,270.5 533.5,258.6 538.6,267.3 543.7,280.0 548.9,283.9 554.0,294.3 559.1,294.6 564.2,285.6 569.3,284.2 574.4,296.1 579.5,295.9 584.6,280.5 589.7,281.5 594.9,283.6 600.0,265.3 605.1,283.9 610.2,276.7 615.3,276.9 620.4,291.3 625.5,289.3 630.6,282.7 635.7,288.8 640.9,295.4 646.0,289.8 651.1,288.1 656.2,292.9 661.3,300.9 666.4,302.7 671.5,296.5 676.6,297.6 681.8,291.5 686.9,295.3 692.0,277.0 697.1,269.9 702.2,261.6"/>
<polyline points="400.6,292.9 405.7,282.9 410.8,285.8 415.9,288.2 421.1,291.0 426.2,291.1 431.3,289.9 436.4,292.5 441.5,293.6 446.6,287.8 451.7,286.2 456.8,284.7 462.0,283.5 467.1,286.4 472.2,291.4 477.3,295.2 482.4,295.9 487.5,285.4 492.6,284.6 497.7,280.9 502.8,275.0 508.0,246.2 513.1,249.2 518.2,252.5 523.3,259.7 528.4,242.1 533.5,247.0 538.6,242.2 543.7,251.6 548.9,270.0 554.0,277.4 559.1,255.4 564.2,236.0 569.3,234.5 574.4,261.5 579.5,266.6 584.6,272.6 589.7,273.2 594.9,268.3 600.0,258.3 605.1,265.9 610.2,272.5 615.3,259.3 620.4,264.1 625.5,277.5 630.6,283.1 635.7,288.2 640.9,277.8 646.0,290.1 651.1,291.3 656.2,300.9 661.3,298.5 666.4,303.6 671.5,303.2 676.6,294.7 681.8,301.4 686.9,293.3 692.0,294.3 697.1,297.1 702.2,302.9"/>
<polyline points="400.6,291.4 405.7,284.8 410.8,287.7 415.9,289.9 421.1,292.5 426.2,294.4 431.3,295.2 436.4,295.5 441.5,297.3 446.6,295.9 451.7,290.0 456.8,290.2 462.0,289.2 467.1,296.7 472.2,299.7 477.3,298.2 482.4,290.3 487.5,289.7 492.6,282.7 497.7,276.8 502.8,282.1 508.0,261.7 513.1,273.2 518.2,274.2 523.3,267.2 528.4,255.8 533.5,263.3 538.6,272.7 543.7,279.8 548.9,277.4 554.0,291.0 559.1,278.8 564.2,278.7 569.3,279.0 574.4,270.9 579.5,285.7 584.6,287.7 589.7,297.8 594.9,300.7 600.0,289.1 605.1,293.4 610.2,295.1 615.3,278.2 620.4,283.2 625.5,286.3 630.6,289.4 635.7,292.2 640.9,299.1 646.0,304.6 651.1,288.7 656.2,279.4 661.3,288.8 666.4,294.8 671.5,297.6 676.6,284.4 681.8,300.7 686.9,292.6 692.0,290.4 697.1,291.5 702.2,293.7"/>
<polyline points="400.6,292.4 405.7,284.0 410.8,287.6 415.9,291.5 421.1,298.1 426.2,295.8 431.3,297.9 436.4,298.2 441.5,299.2 446.6,295.5 451.7,292.6 456.8,293.5 462.0,294.1 467.1,295.2 472.2,300.5 477.3,301.4 482.4,293.8 487.5,290.3 492.6,283.7 497.7,286.2 502.8,283.2 508.0,258.4 513.1,267.2 518.2,267.8 523.3,262.9 528.4,268.8 533.5,264.8 538.6,271.5 543.7,281.3 548.9,277.2 554.0,294.3 559.1,289.6 564.2,299.3 569.3,287.5 574.4,281.1 579.5,283.0 584.6,285.6 589.7,300.4 594.9,306.4 600.0,302.8 605.1,290.5 610.2,291.2 615.3,298.0 620.4,300.0 625.5,285.7 630.6,288.7 635.7,288.7 640.9,292.3 646.0,292.2 651.1,275.8 656.2,263.6 661.3,284.5 666.4,276.7 671.5,259.5 676.6,271.4 681.8,278.7 686.9,270.8 692.0,272.7 697.1,270.4 702.2,271.5"/>
<polyline points="400.6,292.5 405.7,285.6 410.8,289.1 415.9,292.1 421.1,293.2 426.2,292.9 431.3,298.1 436.4,298.3 441.5,299.4 446.6,295.4 451.7,291.7 456.8,291.1 462.0,287.3 467.1,289.2 472.2,290.2 477.3,290.0 482.4,286.8 487.5,286.1 492.6,290.2 497.7,292.8 502.8,295.8 508.0,286.8 513.1,289.7 518.2,283.7 523.3,275.7 528.4,273.3 533.5,271.3 538.6,277.3 543.7,280.2 548.9,276.8 554.0,281.3 559.1,277.0 564.2,281.9 569.3,283.1 574.4,290.7 579.5,285.7 584.6,279.2 589.7,271.5 594.9,261.3 600.0,255.0 605.1,250.3 610.2,227.8 615.3,232.7 620.4,237.5 625.5,234.8 630.6,232.0 635.7,237.7 640.9,244.4 646.0,240.2 651.1,237.1 656.2,236.6 661.3,238.6 666.4,272.1 671.5,282.2 676.6,300.0 681.8,300.0 686.9,294.1 692.0,289.6 697.1,282.1 702.2,279.9"/>
<polyline points="400.6,293.8 405.7,288.1 410.8,288.0 415.9,293.0 421.1,296.1 426.2,298.6 431.3,302.2 436.4,302.8 441.5,307.3 446.6,304.7 451.7,303.7 456.8,303.5 462.0,297.5 467.1,299.5 472.2,301.0 477.3,304.1 482.4,296.0 487.5,293.3 492.6,294.9 497.7,296.8 502.8,295.1 508.0,272.1 513.1,291.2 518.2,295.0 523.3,294.0 528.4,291.2 533.5,296.4 538.6,293.8 543.7,297.5 548.9,297.9 554.0,296.8 559.1,292.7 564.2,291.3 569.3,262.4 574.4,270.1 579.5,289.1 584.6,282.9 589.7,276.7 594.9,276.8 600.0,280.7 605.1,283.0 610.2,264.8 615.3,278.0 620.4,280.6 625.5,281.3 630.6,248.7 635.7,255.1 640.9,274.2 646.0,255.7 651.1,268.6 656.2,265.3 661.3,277.6 666.4,257.9 671.5,255.5 676.6,281.8 681.8,283.9 686.9,267.3 692.0,276.7 697.1,263.5 702.2,277.1"/>
<polyline points="400.6,291.5 405.7,284.8 410.8,287.3 415.9,290.4 421.1,292.4 426.2,294.7 431.3,294.5 436.4,303.8 441.5,302.6 446.6,299.5 451.7,298.2 456.8,297.2 462.0,294.6 467.1,291.9 472.2,295.6 477.3,296.9 482.4,293.1 487.5,291.6 492.6,294.9 497.7,303.3 502.8,299.9 508.0,282.1 513.1,281.1 518.2,284.0 523.3,282.8 528.4,277.3 533.5,276.5 538.6,283.9 543.7,287.7 548.9,284.5 554.0,288.6 559.1,290.5 564.2,294.2 569.3,280.7 574.4,290.0 579.5,291.9 584.6,288.3 589.7,300.0 594.9,303.6 600.0,301.1 605.1,303.5 610.2,300.4 615.3,304.3 620.4,306.9 625.5,303.0 630.6,297.9 635.7,305.7 640.9,307.3 646.0,307.5 651.1,309.2 656.2,304.4 661.3,304.7 666.4,310.6 671.5,306.1 676.6,306.2 681.8,306.7 686.9,307.6 692.0,299.7 697.1,306.3 702.2,310.6"/>
<polyline points="400.6,293.4 405.7,287.0 410.8,289.3 415.9,292.8 421.1,296.4 426.2,294.2 431.3,296.7 436.4,298.1 441.5,298.9 446.6,296.8 451.7,298.9 456.8,304.4 462.0,302.6 467.1,302.5 472.2,300.8 477.3,301.6 482.4,296.4 487.5,289.6 492.6,287.0 497.7,292.1 502.8,297.1 508.0,287.1 513.1,293.0 518.2,288.8 523.3,288.6 528.4,287.3 533.5,297.3 538.6,298.3 543.7,298.8 548.9,296.8 554.0,302.8 559.1,301.7 564.2,300.1 569.3,300.1 574.4,299.6 579.5,295.3 584.6,302.4 589.7,299.2 594.9,278.7 600.0,288.1 605.1,290.9 610.2,291.7 615.3,285.4 620.4,294.8 625.5,289.8 630.6,286.1 635.7,281.4 640.9,290.1 646.0,288.7 651.1,294.1 656.2,252.7 661.3,277.4 666.4,278.4 671.5,267.7 676.6,275.3 681.8,277.0 686.9,279.8 692.0,284.6 697.1,260.5 702.2,281.0"/>
<polyline points="400.6,293.5 405.7,285.8 410.8,290.2 415.9,292.7 421.1,298.4 426.2,300.2 431.3,305.8 436.4,300.1 441.5,302.0 446.6,294.8 451.7,296.2 456.8,293.5 462.0,294.9 467.1,291.3 472.2,296.2 477.3,298.3 482.4,290.4 487.5,288.0 492.6,288.7 497.7,291.4 502.8,289.1 508.0,275.6 513.1,272.6 518.2,271.0 523.3,282.9 528.4,273.4 533.5,272.7 538.6,277.9 543.7,274.7 548.9,281.3 554.0,283.6 559.1,280.6 564.2,284.1 569.3,266.0 574.4,281.5 579.5,281.4 584.6,269.7 589.7,246.6 594.9,244.0 600.0,273.1 605.1,275.3 610.2,283.1 615.3,290.3 620.4,281.0 625.5,281.0 630.6,280.8 635.7,295.9 640.9,294.8 646.0,287.5 651.1,293.4 656.2,285.8 661.3,294.5 666.4,293.4 671.5,291.5 676.6,287.2 681.8,283.9 686.9,277.1 692.0,284.9 697.1,289.9 702.2,285.4"/>
<polyline points="400.6,293.0 405.7,284.6 410.8,288.2 415.9,289.8 421.1,291.7 426.2,293.1 431.3,294.5 436.4,293.5 441.5,296.7 446.6,292.0 451.7,292.0 456.8,291.5 462.0,290.2 467.1,290.6 472.2,293.8 477.3,295.7 482.4,288.0 487.5,285.8 492.6,295.0 497.7,289.4 502.8,291.5 508.0,275.5 513.1,282.4 518.2,288.5 523.3,282.7 528.4,280.1 533.5,288.9 538.6,285.5 543.7,290.5 548.9,289.2 554.0,291.3 559.1,294.0 564.2,288.2 569.3,295.6 574.4,297.8 579.5,280.4 584.6,293.4 589.7,276.8 594.9,282.8 600.0,288.8 605.1,295.7 610.2,300.6 615.3,302.0 620.4,295.0 625.5,279.2 630.6,266.4 635.7,278.6 640.9,282.7 646.0,265.3 651.1,257.2 656.2,269.1 661.3,248.1 666.4,259.8 671.5,238.9 676.6,256.2 681.8,274.5 686.9,260.2 692.0,264.9 697.1,237.7 702.2,264.7"/>
<polyline points="400.6,291.2 405.7,283.9 410.8,286.4 415.9,288.9 421.1,291.6 426.2,290.1 431.3,290.8 436.4,291.7 441.5,291.9 446.6,289.7 451.7,286.2 456.8,286.6 462.0,284.5 467.1,286.8 472.2,289.6 477.3,289.8 482.4,286.2 487.5,282.3 492.6,281.3 497.7,277.5 502.8,285.6 508.0,256.6 513.1,268.8 518.2,270.4 523.3,266.1 528.4,254.5 533.5,264.7 538.6,269.7 543.7,273.2 548.9,280.9 554.0,277.2 559.1,266.2 564.2,273.6 569.3,269.2 574.4,279.2 579.5,278.3 584.6,268.5 589.7,243.8 594.9,244.1 600.0,256.0 605.1,268.2 610.2,236.1 615.3,235.7 620.4,237.5 625.5,234.8 630.6,238.9 635.7,262.0 640.9,280.1 646.0,293.9 651.1,297.8 656.2,301.9 661.3,301.3 666.4,304.7 671.5,305.0 676.6,309.3 681.8,307.2 686.9,307.2 692.0,307.8 697.1,308.8 702.2,306.3"/>
<polyline points="400.6,291.4 405.7,283.0 410.8,284.4 415.9,287.0 421.1,289.2 426.2,291.1 431.3,292.2 436.4,291.7 441.5,291.9 446.6,287.8 451.7,286.2 456.8,284.5 462.0,284.1 467.1,288.5 472.2,291.9 477.3,299.5 482.4,295.1 487.5,292.8 492.6,294.8 497.7,296.6 502.8,300.7 508.0,293.9 513.1,288.2 518.2,285.7 523.3,280.9 528.4,268.7 533.5,265.5 538.6,268.2 543.7,281.2 548.9,291.3 554.0,294.7 559.1,294.6 564.2,286.7 569.3,293.9 574.4,292.0 579.5,295.8 584.6,296.1 589.7,279.9 594.9,288.7 600.0,288.3 605.1,286.6 610.2,262.5 615.3,284.1 620.4,281.3 625.5,288.4 630.6,285.2 635.7,271.7 640.9,275.0 646.0,260.9 651.1,266.7 656.2,274.9 661.3,277.9 666.4,276.3 671.5,275.4 676.6,274.6 681.8,285.9 686.9,284.0 692.0,287.1 697.1,289.4 702.2,274.8"/>
<polyline points="400.6,291.4 405.7,283.0 410.8,287.0 415.9,290.5 421.1,292.2 426.2,294.7 431.3,294.3 436.4,293.4 441.5,293.8 446.6,292.4 451.7,291.7 456.8,289.1 462.0,287.5 467.1,293.5 472.2,292.5 477.3,292.8 482.4,290.8 487.5,287.4 492.6,290.1 497.7,281.1 502.8,285.4 508.0,267.9 513.1,267.6 518.2,270.8 523.3,273.7 528.4,284.2 533.5,283.6 538.6,290.8 543.7,294.2 548.9,293.5 554.0,302.8 559.1,302.6 564.2,296.6 569.3,291.5 574.4,293.1 579.5,296.1 584.6,298.9 589.7,294.6 594.9,299.1 600.0,307.8 605.1,302.9 610.2,308.8 615.3,305.5 620.4,307.3 625.5,307.1 630.6,300.2 635.7,297.0 640.9,301.3 646.0,300.9 651.1,300.6 656.2,290.3 661.3,301.8 666.4,308.8 671.5,304.6 676.6,305.5 681.8,305.7 686.9,308.5 692.0,302.3 697.1,302.2 702.2,307.3"/>
<polyline points="400.6,293.9 405.7,287.6 410.8,290.1 415.9,294.6 421.1,300.4 426.2,302.4 431.3,304.4 436.4,302.1 441.5,303.5 446.6,300.2 451.7,298.5 456.8,297.6 462.0,296.8 467.1,302.4 472.2,300.6 477.3,298.7 482.4,295.0 487.5,299.6 492.6,301.1 497.7,298.4 502.8,303.1 508.0,292.3 513.1,290.6 518.2,290.8 523.3,277.2 528.4,281.1 533.5,284.4 538.6,291.8 543.7,273.2 548.9,266.3 554.0,291.2 559.1,287.7 564.2,288.0 569.3,269.0 574.4,284.9 579.5,285.1 584.6,289.0 589.7,300.2 594.9,297.6 600.0,300.4 605.1,294.7 610.2,299.6 615.3,300.4 620.4,303.3 625.5,300.6 630.6,295.2 635.7,283.3 640.9,286.3 646.0,290.6 651.1,294.4 656.2,272.9 661.3,282.2 666.4,268.7 671.5,234.9 676.6,252.3 681.8,283.4 686.9,287.3 692.0,282.0 697.1,280.0 702.2,293.6"/>
<polyline points="400.6,292.4 405.7,285.2 410.8,286.6 415.9,290.9 421.1,290.5 426.2,291.8 431.3,291.9 436.4,293.9 441.5,291.9 446.6,288.6 451.7,290.3 456.8,286.5 462.0,285.5 467.1,285.5 472.2,290.1 477.3,292.0 482.4,284.2 487.5,278.5 492.6,279.1 497.7,287.6 502.8,277.6 508.0,259.7 513.1,267.8 518.2,270.3 523.3,268.0 528.4,273.6 533.5,270.0 538.6,268.8 543.7,275.5 548.9,268.9 554.0,280.8 559.1,277.4 564.2,283.5 569.3,276.7 574.4,250.7 579.5,277.5 584.6,276.7 589.7,282.2 594.9,274.9 600.0,278.8 605.1,274.1 610.2,285.1 615.3,298.5 620.4,295.1 625.5,294.5 630.6,297.1 635.7,295.3 640.9,296.9 646.0,284.8 651.1,286.9 656.2,260.7 661.3,279.3 666.4,289.0 671.5,276.5 676.6,276.4 681.8,259.5 686.9,274.7 692.0,260.3 697.1,289.7 702.2,299.8"/>
<polyline points="400.6,292.2 405.7,285.9 410.8,291.3 415.9,294.3 421.1,298.4 426.2,299.4 431.3,304.2 436.4,307.1 441.5,304.6 446.6,305.7 451.7,299.5 456.8,297.6 462.0,295.9 467.1,299.1 472.2,301.1 477.3,299.8 482.4,303.1 487.5,295.3 492.6,297.8 497.7,295.2 502.8,296.5 508.0,273.6 513.1,282.3 518.2,289.4 523.3,286.9 528.4,278.6 533.5,275.1 538.6,290.7 543.7,296.1 548.9,298.0 554.0,288.4 559.1,288.5 564.2,282.2 569.3,269.2 574.4,275.6 579.5,295.9 584.6,285.4 589.7,282.9 594.9,271.4 600.0,270.8 605.1,248.7 610.2,234.8 615.3,260.0 620.4,271.5 625.5,244.9 630.6,261.5 635.7,249.7 640.9,260.6 646.0,240.2 651.1,245.7 656.2,248.3 661.3,258.4 666.4,269.1 671.5,261.6 676.6,263.5 681.8,275.4 686.9,262.6 692.0,263.8 697.1,260.8 702.2,245.5"/>
<polyline points="400.6,291.7 405.7,286.2 410.8,289.2 415.9,290.4 421.1,291.2 426.2,291.6 431.3,290.8 436.4,293.2 441.5,296.4 446.6,293.4 451.7,289.7 456.8,287.6 462.0,288.8 467.1,288.5 472.2,293.8 477.3,297.7 482.4,293.0 487.5,287.0 492.6,287.3 497.7,284.6 502.8,284.9 508.0,264.4 513.1,267.8 518.2,266.4 523.3,276.9 528.4,273.4 533.5,283.1 538.6,292.2 543.7,289.2 548.9,296.8 554.0,298.2 559.1,296.9 564.2,295.5 569.3,297.0 574.4,297.4 579.5,298.8 584.6,295.6 589.7,286.2 594.9,290.9 600.0,289.9 605.1,292.6 610.2,292.1 615.3,293.0 620.4,297.1 625.5,298.7 630.6,292.9 635.7,294.1 640.9,298.2 646.0,301.6 651.1,304.7 656.2,292.8 661.3,299.1 666.4,303.8 671.5,289.5 676.6,294.6 681.8,296.2 686.9,297.8 692.0,298.0 697.1,295.7 702.2,288.6"/>
<polyline points="400.6,291.8 405.7,284.5 410.8,287.2 415.9,291.0 421.1,294.3 426.2,296.1 431.3,298.7 436.4,302.0 441.5,305.5 446.6,303.5 451.7,302.4 456.8,298.3 462.0,300.1 467.1,296.4 472.2,299.2 477.3,298.9 482.4,292.9 487.5,285.3 492.6,289.4 497.7,282.7 502.8,286.4 508.0,280.0 513.1,287.1 518.2,288.2 523.3,282.6 528.4,281.3 533.5,274.5 538.6,276.9 543.7,281.2 548.9,290.1 554.0,291.6 559.1,295.7 564.2,284.8 569.3,282.1 574.4,286.4 579.5,302.5 584.6,295.6 589.7,286.5 594.9,284.6 600.0,275.7 605.1,288.4 610.2,296.8 615.3,300.2 620.4,295.9 625.5,300.4 630.6,295.5 635.7,292.7 640.9,283.8 646.0,297.9 651.1,306.0 656.2,302.2 661.3,301.4 666.4,307.9 671.5,297.3 676.6,297.2 681.8,294.3 686.9,285.3 692.0,280.0 697.1,295.7 702.2,300.8"/>
<polyline points="400.6,291.7 405.7,283.4 410.8,286.1 415.9,288.9 421.1,292.5 426.2,294.0 431.3,292.7 436.4,295.5 441.5,296.9 446.6,295.0 451.7,295.0 456.8,296.2 462.0,289.3 467.1,289.9 472.2,288.1 477.3,289.8 482.4,284.2 487.5,278.5 492.6,278.7 497.7,279.4 502.8,280.5 508.0,254.2 513.1,261.9 518.2,276.2 523.3,278.5 528.4,281.5 533.5,288.8 538.6,294.8 543.7,294.8 548.9,294.6 554.0,302.3 559.1,306.9 564.2,297.7 569.3,297.0 574.4,286.9 579.5,282.3 584.6,270.9 589.7,260.5 594.9,287.7 600.0,278.7 605.1,289.9 610.2,288.9 615.3,295.6 620.4,305.3 625.5,298.2 630.6,297.0 635.7,299.7 640.9,301.9 646.0,305.1 651.1,298.1 656.2,305.0 661.3,307.9 666.4,307.1 671.5,306.5 676.6,305.6 681.8,311.0 686.9,307.8 692.0,305.3 697.1,302.6 702.2,309.1"/>
<polyline points="400.6,293.2 405.7,288.2 410.8,292.2 415.9,293.9 421.1,296.5 426.2,300.1 431.3,301.4 436.4,306.1 441.5,306.5 446.6,299.9 451.7,298.4 456.8,294.5 462.0,293.9 467.1,296.8 472.2,303.3 477.3,303.2 482.4,299.1 487.5,297.7 492.6,300.0 497.7,296.5 502.8,300.5 508.0,286.7 513.1,287.7 518.2,287.8 523.3,286.6 528.4,280.7 533.5,290.9 538.6,284.7 543.7,289.1 548.9,299.4 554.0,300.5 559.1,291.5 564.2,287.3 569.3,291.9 574.4,299.0 579.5,304.1 584.6,297.7 589.7,290.1 594.9,285.7 600.0,299.8 605.1,289.3 610.2,279.1 615.3,279.5 620.4,283.1 625.5,291.2 630.6,298.4 635.7,295.5 640.9,299.2 646.0,293.1 651.1,279.4 656.2,269.6 661.3,279.6 666.4,286.9 671.5,284.8 676.6,277.5 681.8,276.7 686.9,282.1 692.0,291.3 697.1,295.7 702.2,292.1"/>
<polyline points="400.6,293.1 405.7,285.5 410.8,288.3 415.9,291.2 421.1,293.4 426.2,294.6 431.3,299.6 436.4,298.0 441.5,299.9 446.6,296.6 451.7,299.2 456.8,299.0 462.0,298.0 467.1,309.0 472.2,307.2 477.3,309.6 482.4,301.0 487.5,295.0 492.6,294.1 497.7,294.5 502.8,302.1 508.0,290.6 513.1,286.7 518.2,288.3 523.3,283.5 528.4,284.0 533.5,284.5 538.6,285.7 543.7,283.4 548.9,285.6 554.0,293.7 559.1,291.4 564.2,298.3 569.3,296.5 574.4,293.4 579.5,294.9 584.6,301.0 589.7,296.9 594.9,300.0 600.0,288.3 605.1,282.4 610.2,273.4 615.3,281.2 620.4,292.3 625.5,290.9 630.6,278.4 635.7,293.6 640.9,294.2 646.0,299.5 651.1,298.2 656.2,295.4 661.3,295.3 666.4,292.1 671.5,294.6 676.6,295.0 681.8,302.5 686.9,302.4 692.0,291.5 697.1,282.5 702.2,285.9"/>
</g>
<line x1="395.5" y1="245.50" x2="702.2" y2="245.50" stroke="#222" stroke-width="1" stroke-dasharray="1,2"/>
<line x1="395.5" y1="226.50" x2="702.2" y2="226.50" stroke="#222" stroke-width="1" stroke-dasharray="1,2"/>
<line x1="395.5" y1="213.83" x2="702.2" y2="213.83" stroke="#ff40ff" stroke-width="1.5" stroke-dasharray="3,1.8"/>
<polyline points="400.6,292.8 405.7,285.7 410.8,288.7 415.9,291.7 421.1,294.7 426.2,295.8 431.3,296.9 436.4,298.0 441.5,299.2 446.6,296.2 451.7,295.0 456.8,293.9 462.0,292.8 467.1,294.5 472.2,296.3 477.3,298.0 482.4,294.3 487.5,290.6 492.6,290.9 497.7,291.3 502.8,291.7 508.0,275.6 513.1,278.6 518.2,281.6 523.3,278.6 528.4,275.6 533.5,277.5 538.6,279.3 543.7,281.2 548.9,283.1 554.0,288.7 559.1,285.7 564.2,282.7 569.3,279.7 574.4,282.5 579.5,285.3 584.6,280.8 589.7,276.3 594.9,279.1 600.0,281.9 605.1,280.3 610.2,278.6 615.3,281.9 620.4,285.3 625.5,283.4 630.6,281.6 635.7,285.5 640.9,289.4 646.0,287.3 651.1,285.2 656.2,283.1 661.3,286.3 666.4,289.4 671.5,283.8 676.6,286.1 681.8,288.3 686.9,285.1 692.0,281.9 697.1,283.6 702.2,285.3" fill="none" stroke="#6e1e0e" stroke-width="2.5" stroke-linecap="round" stroke-dasharray="0.1,3.8"/>
<polyline points="400.6,292.4 405.7,285.7 410.8,288.9 415.9,292.2 421.1,295.4 426.2,296.3 431.3,297.1 436.4,297.9 441.5,298.8 446.6,299.3 451.7,299.8 456.8,300.3 462.0,299.7 467.1,299.2 472.2,298.8 477.3,298.4 482.4,292.6 487.5,286.8 492.6,289.9 497.7,293.1 502.8,296.2 508.0,271.8 513.1,286.1 518.2,283.2 523.3,280.3 528.4,277.5 533.5,286.1 538.6,282.3 543.7,291.3 548.9,300.3 554.0,296.9 559.1,296.0 564.2,295.0 569.3,292.8 574.4,294.9 579.5,296.9 584.6,296.9 589.7,296.9 594.9,299.7 600.0,302.5 605.1,299.2 610.2,295.8 615.3,298.8 620.4,301.8 625.5,297.3 630.6,292.8 635.7,300.1 640.9,307.4 646.0,307.0 651.1,306.7 656.2,306.3 661.3,309.3 666.4,303.7 671.5,298.0 676.6,302.7 681.8,307.4 686.9,303.3 692.0,299.2 697.1,300.5 702.2,301.8" fill="none" stroke="#1a30ff" stroke-width="1.9" stroke-dasharray="3,1.9"/>
<polyline points="400.6,292.4 405.7,284.9 410.8,288.4 415.9,291.9 421.1,295.4 426.2,296.0 431.3,296.5 436.4,297.1 441.5,297.7 446.6,300.9 451.7,304.0 456.8,298.0 462.0,297.7 467.1,297.3 472.2,296.9 477.3,298.4 482.4,294.1 487.5,289.8 492.6,290.4 497.7,291.1 502.8,291.7 508.0,273.7 513.1,279.1 518.2,284.4 523.3,289.8 528.4,282.3 533.5,284.6 538.6,280.3 543.7,276.0 548.9,294.3 554.0,309.3 559.1,297.0 564.2,284.8 569.3,272.6 574.4,274.1 579.5,275.6 584.6,280.1 589.7,261.7 594.9,266.2 600.0,251.6" fill="none" stroke="#ff2a1a" stroke-width="1.5"/>
</g>
<g clip-path="url(#c4)">
<g fill="none" stroke="#62a535" stroke-opacity="0.62" stroke-width="1.15">
<polyline points="35.6,428.7 40.7,415.4 45.8,425.5 50.9,436.4 56.0,436.8 61.2,413.9 66.3,419.6 71.4,420.8 76.5,417.2 81.6,414.6 86.7,416.9 91.8,418.0 96.9,422.4 102.0,399.8 107.1,410.6 112.2,415.8 117.3,419.0 122.5,395.1 127.6,409.7 132.7,417.7 137.8,415.7 142.9,402.3 148.0,406.5 153.1,413.0 158.2,414.9 163.3,407.1 168.4,417.4 173.5,418.4 178.6,426.9 183.8,417.1 188.9,421.3 194.0,420.8 199.1,417.3 204.2,412.9 209.3,425.7 214.4,426.2 219.5,428.2 224.6,429.0 229.7,423.5 234.8,425.4 239.9,424.6 245.0,422.0 250.2,425.0 255.3,422.8 260.4,418.8 265.5,418.0 270.6,423.7 275.7,424.9 280.8,422.3 285.9,417.5 291.0,433.8 296.1,440.0 301.2,447.3 306.4,420.6 311.5,427.6 316.6,433.6 321.7,437.7 326.8,421.9 331.9,425.4 337.0,434.0"/>
<polyline points="35.6,434.3 40.7,419.3 45.8,428.3 50.9,438.0 56.0,435.7 61.2,418.3 66.3,423.6 71.4,429.3 76.5,433.4 81.6,414.0 86.7,421.2 91.8,426.7 96.9,430.0 102.0,409.1 107.1,417.8 112.2,423.8 117.3,426.9 122.5,398.5 127.6,414.1 132.7,421.2 137.8,423.9 142.9,404.8 148.0,413.7 153.1,418.1 158.2,421.8 163.3,416.4 168.4,418.3 173.5,419.8 178.6,422.5 183.8,424.2 188.9,434.5 194.0,435.3 199.1,448.6 204.2,432.5 209.3,433.7 214.4,435.1 219.5,434.5 224.6,427.4 229.7,441.5 234.8,453.6 239.9,463.5 245.0,433.0 250.2,439.7 255.3,440.0 260.4,439.7 265.5,441.0 270.6,443.3 275.7,447.7 280.8,448.3 285.9,439.0 291.0,444.5 296.1,448.2 301.2,451.5 306.4,439.3 311.5,450.6 316.6,465.0 321.7,466.0 326.8,439.5 331.9,430.9 337.0,435.7"/>
<polyline points="35.6,433.5 40.7,419.7 45.8,428.6 50.9,437.5 56.0,436.3 61.2,418.4 66.3,422.2 71.4,424.6 76.5,417.4 81.6,417.2 86.7,419.4 91.8,422.9 96.9,423.0 102.0,406.8 107.1,417.1 112.2,426.4 117.3,432.1 122.5,398.6 127.6,412.6 132.7,418.7 137.8,419.9 142.9,408.5 148.0,410.7 153.1,414.9 158.2,416.4 163.3,410.8 168.4,416.2 173.5,424.2 178.6,428.1 183.8,416.4 188.9,419.5 194.0,421.1 199.1,424.7 204.2,417.7 209.3,418.8 214.4,426.7 219.5,427.0 224.6,421.3 229.7,426.4 234.8,427.1 239.9,425.1 245.0,419.8 250.2,427.4 255.3,426.6 260.4,430.9 265.5,430.4 270.6,423.6 275.7,424.6 280.8,428.1 285.9,412.8 291.0,439.3 296.1,448.2 301.2,454.8 306.4,420.7 311.5,426.6 316.6,425.2 321.7,424.3 326.8,419.5 331.9,422.5 337.0,424.6"/>
<polyline points="35.6,430.5 40.7,416.6 45.8,426.9 50.9,437.2 56.0,436.2 61.2,416.7 66.3,425.3 71.4,436.6 76.5,448.1 81.6,415.2 86.7,417.4 91.8,420.1 96.9,423.3 102.0,407.1 107.1,414.6 112.2,420.6 117.3,425.2 122.5,396.4 127.6,410.0 132.7,417.4 137.8,418.9 142.9,405.7 148.0,412.8 153.1,415.8 158.2,419.1 163.3,413.2 168.4,419.1 173.5,420.0 178.6,419.5 183.8,421.1 188.9,425.2 194.0,424.9 199.1,429.1 204.2,423.4 209.3,434.1 214.4,435.8 219.5,437.0 224.6,425.1 229.7,427.3 234.8,428.3 239.9,432.9 245.0,433.0 250.2,428.4 255.3,425.7 260.4,424.0 265.5,417.2 270.6,422.0 275.7,426.6 280.8,428.8 285.9,424.0 291.0,429.0 296.1,432.0 301.2,427.5 306.4,431.6 311.5,442.0 316.6,450.5 321.7,460.5 326.8,431.7 331.9,429.8 337.0,433.6"/>
<polyline points="35.6,433.9 40.7,419.8 45.8,427.9 50.9,438.0 56.0,435.9 61.2,416.9 66.3,424.9 71.4,433.5 76.5,441.5 81.6,416.3 86.7,418.1 91.8,421.8 96.9,424.4 102.0,404.4 107.1,413.2 112.2,421.2 117.3,424.7 122.5,395.8 127.6,408.9 132.7,419.6 137.8,420.7 142.9,404.4 148.0,414.0 153.1,418.8 158.2,424.2 163.3,424.5 168.4,425.2 173.5,428.9 178.6,433.4 183.8,431.7 188.9,428.5 194.0,431.2 199.1,433.6 204.2,424.4 209.3,421.0 214.4,428.6 219.5,437.9 224.6,416.7 229.7,425.0 234.8,425.8 239.9,430.3 245.0,424.8 250.2,426.2 255.3,434.6 260.4,442.0 265.5,426.3 270.6,440.0 275.7,436.5 280.8,438.6 285.9,433.9 291.0,434.0 296.1,427.2 301.2,420.3 306.4,420.4 311.5,426.1 316.6,430.0 321.7,428.6 326.8,422.9 331.9,413.4 337.0,424.1"/>
<polyline points="35.6,432.7 40.7,416.1 45.8,426.7 50.9,436.5 56.0,437.0 61.2,418.1 66.3,421.6 71.4,420.5 76.5,414.7 81.6,411.6 86.7,416.9 91.8,420.4 96.9,419.9 102.0,405.5 107.1,414.3 112.2,418.2 117.3,421.2 122.5,398.3 127.6,408.2 132.7,418.4 137.8,421.9 142.9,400.3 148.0,407.2 153.1,417.6 158.2,421.7 163.3,409.3 168.4,420.0 173.5,425.4 178.6,430.1 183.8,425.2 188.9,428.0 194.0,431.2 199.1,432.6 204.2,428.5 209.3,424.9 214.4,442.4 219.5,453.6 224.6,414.3 229.7,418.1 234.8,426.6 239.9,428.4 245.0,415.6 250.2,426.2 255.3,430.9 260.4,428.5 265.5,416.1 270.6,421.3 275.7,425.1 280.8,419.2 285.9,402.8 291.0,410.7 296.1,416.8 301.2,416.9 306.4,406.6 311.5,420.6 316.6,428.4 321.7,432.0 326.8,411.1 331.9,414.9 337.0,419.1"/>
<polyline points="35.6,430.4 40.7,416.4 45.8,425.9 50.9,434.0 56.0,432.6 61.2,415.0 66.3,420.7 71.4,423.4 76.5,426.1 81.6,415.2 86.7,415.7 91.8,418.7 96.9,422.2 102.0,404.3 107.1,417.2 112.2,422.9 117.3,426.5 122.5,405.8 127.6,416.7 132.7,425.2 137.8,427.2 142.9,408.0 148.0,414.8 153.1,420.4 158.2,425.7 163.3,417.4 168.4,423.9 173.5,431.7 178.6,431.1 183.8,424.4 188.9,429.0 194.0,435.6 199.1,441.2 204.2,425.1 209.3,438.0 214.4,441.4 219.5,449.9 224.6,437.8 229.7,442.7 234.8,447.5 239.9,454.3 245.0,441.5 250.2,444.7 255.3,447.9 260.4,447.5 265.5,432.5 270.6,436.4 275.7,428.1 280.8,426.8 285.9,428.4 291.0,434.6 296.1,448.8 301.2,459.4 306.4,414.6 311.5,435.4 316.6,434.2 321.7,433.5 326.8,423.7 331.9,420.1 337.0,418.7"/>
<polyline points="35.6,432.0 40.7,418.0 45.8,426.7 50.9,436.6 56.0,436.4 61.2,415.2 66.3,420.6 71.4,426.8 76.5,427.7 81.6,414.4 86.7,414.7 91.8,416.0 96.9,418.3 102.0,403.6 107.1,413.6 112.2,419.5 117.3,422.9 122.5,396.8 127.6,408.4 132.7,415.0 137.8,416.2 142.9,400.1 148.0,410.3 153.1,421.5 158.2,423.4 163.3,410.2 168.4,416.4 173.5,419.7 178.6,422.2 183.8,422.8 188.9,422.3 194.0,426.4 199.1,434.3 204.2,420.1 209.3,419.1 214.4,428.1 219.5,430.6 224.6,417.8 229.7,425.7 234.8,423.2 239.9,422.0 245.0,415.9 250.2,420.0 255.3,429.8 260.4,433.2 265.5,405.8 270.6,416.7 275.7,422.2 280.8,430.7 285.9,410.0 291.0,422.0 296.1,421.3 301.2,419.5 306.4,412.5 311.5,415.9 316.6,414.6 321.7,410.4 326.8,411.1 331.9,417.7 337.0,418.4"/>
<polyline points="35.6,433.3 40.7,418.3 45.8,429.1 50.9,437.9 56.0,435.8 61.2,418.0 66.3,422.9 71.4,426.0 76.5,427.5 81.6,417.6 86.7,419.7 91.8,424.3 96.9,427.4 102.0,407.2 107.1,415.2 112.2,418.6 117.3,422.2 122.5,401.0 127.6,413.4 132.7,421.3 137.8,419.6 142.9,405.5 148.0,413.1 153.1,420.8 158.2,427.8 163.3,408.8 168.4,414.8 173.5,415.8 178.6,420.6 183.8,413.8 188.9,422.2 194.0,431.9 199.1,441.6 204.2,416.0 209.3,421.9 214.4,420.8 219.5,419.6 224.6,415.7 229.7,415.7 234.8,415.4 239.9,415.6 245.0,414.7 250.2,421.5 255.3,426.8 260.4,424.6 265.5,415.0 270.6,427.2 275.7,430.3 280.8,433.0 285.9,416.7 291.0,417.1 296.1,422.5 301.2,422.4 306.4,417.2 311.5,424.8 316.6,426.7 321.7,426.7 326.8,424.5 331.9,419.3 337.0,424.0"/>
<polyline points="35.6,433.1 40.7,416.9 45.8,427.3 50.9,435.9 56.0,432.5 61.2,414.7 66.3,424.1 71.4,434.9 76.5,448.3 81.6,408.7 86.7,417.3 91.8,420.7 96.9,424.1 102.0,407.8 107.1,415.7 112.2,418.1 117.3,420.9 122.5,397.7 127.6,409.7 132.7,418.8 137.8,418.7 142.9,406.0 148.0,407.4 153.1,411.7 158.2,416.9 163.3,409.6 168.4,419.6 173.5,428.2 178.6,435.0 183.8,420.5 188.9,422.7 194.0,432.3 199.1,434.4 204.2,423.9 209.3,434.9 214.4,441.0 219.5,448.6 224.6,430.2 229.7,430.9 234.8,431.6 239.9,438.5 245.0,431.9 250.2,433.5 255.3,435.1 260.4,438.1 265.5,429.9 270.6,436.0 275.7,436.2 280.8,436.8 285.9,431.4 291.0,436.1 296.1,442.7 301.2,439.7 306.4,424.1 311.5,434.1 316.6,428.7 321.7,427.7 326.8,428.9 331.9,441.9 337.0,453.7"/>
<polyline points="35.6,430.5 40.7,417.8 45.8,426.9 50.9,436.0 56.0,435.5 61.2,416.4 66.3,421.0 71.4,424.5 76.5,423.5 81.6,419.8 86.7,423.2 91.8,426.7 96.9,430.3 102.0,408.7 107.1,412.7 112.2,420.3 117.3,426.0 122.5,402.1 127.6,414.5 132.7,422.5 137.8,424.7 142.9,407.6 148.0,413.9 153.1,416.8 158.2,421.2 163.3,424.6 168.4,421.4 173.5,422.8 178.6,426.3 183.8,419.9 188.9,436.2 194.0,451.1 199.1,457.6 204.2,435.2 209.3,444.1 214.4,444.7 219.5,444.0 224.6,441.7 229.7,448.7 234.8,451.4 239.9,452.9 245.0,446.3 250.2,446.0 255.3,464.9 260.4,469.4 265.5,426.4 270.6,436.4 275.7,432.7 280.8,437.3 285.9,427.0 291.0,431.2 296.1,439.8 301.2,440.7 306.4,431.8 311.5,438.3 316.6,435.3 321.7,435.4 326.8,435.4 331.9,423.7 337.0,425.8"/>
<polyline points="35.6,429.8 40.7,415.7 45.8,426.6 50.9,437.8 56.0,436.6 61.2,416.0 66.3,420.7 71.4,423.7 76.5,422.3 81.6,414.5 86.7,416.5 91.8,420.1 96.9,422.0 102.0,409.5 107.1,414.4 112.2,420.0 117.3,424.4 122.5,400.4 127.6,407.0 132.7,416.7 137.8,419.7 142.9,401.1 148.0,410.9 153.1,417.3 158.2,420.1 163.3,413.8 168.4,414.6 173.5,417.6 178.6,423.8 183.8,416.1 188.9,426.8 194.0,432.6 199.1,438.2 204.2,435.2 209.3,446.1 214.4,454.9 219.5,464.7 224.6,434.9 229.7,437.4 234.8,438.1 239.9,436.0 245.0,438.1 250.2,445.5 255.3,446.8 260.4,449.5 265.5,445.5 270.6,446.9 275.7,448.0 280.8,448.3 285.9,442.5 291.0,452.0 296.1,456.6 301.2,457.2 306.4,445.4 311.5,447.5 316.6,442.9 321.7,448.3 326.8,442.6 331.9,447.5 337.0,442.0"/>
<polyline points="35.6,434.9 40.7,419.7 45.8,428.6 50.9,439.6 56.0,439.8 61.2,416.1 66.3,422.8 71.4,425.2 76.5,422.5 81.6,417.1 86.7,420.0 91.8,422.4 96.9,422.7 102.0,405.9 107.1,414.2 112.2,425.6 117.3,431.0 122.5,395.4 127.6,412.5 132.7,420.4 137.8,423.3 142.9,411.5 148.0,415.9 153.1,419.3 158.2,418.7 163.3,420.8 168.4,420.9 173.5,422.1 178.6,422.5 183.8,422.6 188.9,426.3 194.0,424.9 199.1,428.7 204.2,428.9 209.3,429.2 214.4,431.7 219.5,429.4 224.6,421.9 229.7,423.0 234.8,422.4 239.9,423.4 245.0,429.2 250.2,428.0 255.3,432.4 260.4,433.4 265.5,425.6 270.6,433.5 275.7,435.6 280.8,439.0 285.9,419.8 291.0,432.1 296.1,436.3 301.2,440.3 306.4,424.7 311.5,435.2 316.6,444.4 321.7,439.8 326.8,429.2 331.9,427.5 337.0,425.7"/>
<polyline points="35.6,432.1 40.7,418.4 45.8,427.6 50.9,436.6 56.0,435.6 61.2,414.9 66.3,419.3 71.4,427.7 76.5,435.9 81.6,411.9 86.7,414.6 91.8,417.2 96.9,418.2 102.0,403.4 107.1,414.1 112.2,423.0 117.3,429.1 122.5,397.7 127.6,410.7 132.7,418.5 137.8,419.1 142.9,406.5 148.0,409.5 153.1,411.8 158.2,416.4 163.3,415.5 168.4,419.6 173.5,432.2 178.6,441.9 183.8,418.0 188.9,424.0 194.0,427.8 199.1,434.4 204.2,418.9 209.3,433.2 214.4,439.2 219.5,455.2 224.6,425.0 229.7,426.0 234.8,426.4 239.9,422.8 245.0,425.5 250.2,433.9 255.3,447.7 260.4,456.0 265.5,416.4 270.6,428.1 275.7,426.2 280.8,430.5 285.9,424.2 291.0,434.2 296.1,439.8 301.2,436.4 306.4,422.7 311.5,424.9 316.6,430.7 321.7,435.2 326.8,421.2 331.9,429.6 337.0,435.4"/>
<polyline points="35.6,429.0 40.7,413.9 45.8,424.6 50.9,432.6 56.0,432.4 61.2,415.1 66.3,417.7 71.4,420.7 76.5,419.5 81.6,411.7 86.7,417.6 91.8,420.9 96.9,421.0 102.0,406.3 107.1,413.2 112.2,419.6 117.3,422.1 122.5,398.4 127.6,411.9 132.7,418.5 137.8,418.8 142.9,405.5 148.0,408.2 153.1,413.8 158.2,415.7 163.3,414.8 168.4,409.5 173.5,414.7 178.6,417.4 183.8,418.5 188.9,424.3 194.0,425.7 199.1,428.2 204.2,423.0 209.3,429.0 214.4,434.3 219.5,439.1 224.6,436.3 229.7,435.5 234.8,453.0 239.9,464.9 245.0,428.0 250.2,440.6 255.3,443.1 260.4,441.2 265.5,424.4 270.6,429.3 275.7,433.5 280.8,432.1 285.9,425.0 291.0,440.7 296.1,445.1 301.2,442.0 306.4,421.7 311.5,435.6 316.6,439.4 321.7,440.1 326.8,429.7 331.9,433.5 337.0,437.2"/>
<polyline points="35.6,429.6 40.7,417.1 45.8,427.5 50.9,437.1 56.0,434.1 61.2,416.1 66.3,423.2 71.4,430.5 76.5,436.8 81.6,415.4 86.7,417.2 91.8,419.5 96.9,420.7 102.0,403.0 107.1,415.9 112.2,421.2 117.3,425.1 122.5,399.2 127.6,409.3 132.7,416.0 137.8,418.2 142.9,402.4 148.0,406.7 153.1,412.8 158.2,412.8 163.3,408.5 168.4,408.1 173.5,414.5 178.6,416.5 183.8,401.4 188.9,414.6 194.0,415.6 199.1,416.0 204.2,416.0 209.3,408.4 214.4,414.7 219.5,418.4 224.6,402.6 229.7,410.8 234.8,414.9 239.9,416.4 245.0,408.5 250.2,419.1 255.3,418.4 260.4,418.8 265.5,414.6 270.6,416.4 275.7,419.5 280.8,418.9 285.9,412.0 291.0,420.3 296.1,422.1 301.2,425.3 306.4,422.5 311.5,430.1 316.6,426.9 321.7,418.1 326.8,421.9 331.9,428.5 337.0,434.9"/>
<polyline points="35.6,431.2 40.7,416.7 45.8,425.2 50.9,436.0 56.0,435.7 61.2,415.2 66.3,421.8 71.4,424.7 76.5,423.1 81.6,411.7 86.7,416.3 91.8,419.7 96.9,420.7 102.0,402.5 107.1,415.0 112.2,420.8 117.3,424.5 122.5,400.3 127.6,411.5 132.7,419.4 137.8,418.8 142.9,397.7 148.0,405.2 153.1,409.6 158.2,410.1 163.3,408.1 168.4,409.2 173.5,414.3 178.6,420.1 183.8,415.7 188.9,436.5 194.0,441.3 199.1,455.1 204.2,433.9 209.3,430.1 214.4,436.5 219.5,440.6 224.6,420.2 229.7,431.2 234.8,438.5 239.9,443.5 245.0,439.7 250.2,431.4 255.3,430.6 260.4,428.5 265.5,422.2 270.6,445.1 275.7,454.6 280.8,464.7 285.9,427.1 291.0,424.8 296.1,427.2 301.2,430.4 306.4,425.0 311.5,427.5 316.6,428.7 321.7,429.9 326.8,426.5 331.9,430.7 337.0,425.2"/>
<polyline points="35.6,431.6 40.7,418.0 45.8,427.9 50.9,438.2 56.0,438.8 61.2,415.1 66.3,420.0 71.4,426.5 76.5,427.9 81.6,414.9 86.7,417.0 91.8,419.5 96.9,422.1 102.0,407.8 107.1,414.8 112.2,421.9 117.3,426.5 122.5,396.4 127.6,408.4 132.7,418.0 137.8,419.0 142.9,400.3 148.0,410.4 153.1,410.8 158.2,411.7 163.3,409.0 168.4,411.6 173.5,417.8 178.6,419.8 183.8,415.2 188.9,436.9 194.0,447.5 199.1,460.9 204.2,433.0 209.3,438.1 214.4,448.3 219.5,458.1 224.6,429.4 229.7,429.7 234.8,429.1 239.9,435.9 245.0,434.4 250.2,435.0 255.3,437.0 260.4,440.5 265.5,419.7 270.6,428.1 275.7,434.2 280.8,434.7 285.9,419.7 291.0,431.2 296.1,441.6 301.2,444.5 306.4,423.5 311.5,420.0 316.6,427.9 321.7,431.9 326.8,415.2 331.9,421.0 337.0,421.6"/>
<polyline points="35.6,432.8 40.7,416.9 45.8,425.3 50.9,433.7 56.0,432.9 61.2,413.7 66.3,420.8 71.4,427.8 76.5,432.1 81.6,417.2 86.7,419.4 91.8,422.6 96.9,425.5 102.0,407.2 107.1,415.7 112.2,420.6 117.3,423.2 122.5,402.1 127.6,413.6 132.7,424.7 137.8,425.5 142.9,408.8 148.0,411.6 153.1,412.1 158.2,412.5 163.3,410.8 168.4,416.4 173.5,430.8 178.6,439.3 183.8,408.7 188.9,420.9 194.0,421.0 199.1,419.7 204.2,415.6 209.3,412.6 214.4,417.2 219.5,418.4 224.6,410.1 229.7,418.6 234.8,424.8 239.9,424.5 245.0,420.9 250.2,424.4 255.3,432.9 260.4,433.7 265.5,419.7 270.6,434.1 275.7,435.0 280.8,437.3 285.9,425.7 291.0,420.5 296.1,431.0 301.2,432.0 306.4,415.2 311.5,428.4 316.6,431.3 321.7,428.5 326.8,425.4 331.9,431.3 337.0,428.9"/>
<polyline points="35.6,428.1 40.7,413.0 45.8,422.3 50.9,430.8 56.0,431.0 61.2,413.5 66.3,417.1 71.4,416.8 76.5,416.5 81.6,409.4 86.7,414.6 91.8,417.7 96.9,418.7 102.0,401.9 107.1,411.9 112.2,420.8 117.3,425.3 122.5,397.8 127.6,412.1 132.7,420.6 137.8,424.1 142.9,407.2 148.0,409.4 153.1,417.4 158.2,421.5 163.3,407.8 168.4,419.3 173.5,424.8 178.6,433.9 183.8,422.7 188.9,423.8 194.0,426.6 199.1,430.2 204.2,418.6 209.3,429.7 214.4,429.7 219.5,429.4 224.6,418.4 229.7,419.9 234.8,423.0 239.9,422.7 245.0,417.3 250.2,410.1 255.3,414.3 260.4,424.2 265.5,415.9 270.6,427.3 275.7,430.0 280.8,428.9 285.9,418.2 291.0,428.5 296.1,437.5 301.2,429.6 306.4,428.0 311.5,428.7 316.6,429.4 321.7,433.0 326.8,432.3 331.9,430.9 337.0,435.5"/>
<polyline points="35.6,429.5 40.7,415.5 45.8,426.7 50.9,437.7 56.0,438.3 61.2,414.7 66.3,420.5 71.4,425.2 76.5,427.0 81.6,412.6 86.7,419.5 91.8,421.6 96.9,423.6 102.0,405.9 107.1,411.4 112.2,420.7 117.3,425.8 122.5,397.0 127.6,412.3 132.7,424.2 137.8,426.5 142.9,407.2 148.0,417.2 153.1,418.2 158.2,420.6 163.3,419.4 168.4,419.6 173.5,427.6 178.6,433.0 183.8,422.6 188.9,428.7 194.0,432.5 199.1,439.1 204.2,424.7 209.3,443.1 214.4,444.4 219.5,445.8 224.6,434.4 229.7,434.2 234.8,430.9 239.9,429.2 245.0,431.2 250.2,423.1 255.3,428.4 260.4,430.1 265.5,417.6 270.6,430.2 275.7,436.1 280.8,432.0 285.9,425.8 291.0,431.8 296.1,432.0 301.2,424.7 306.4,428.1 311.5,423.3 316.6,423.1 321.7,425.9 326.8,412.6 331.9,424.9 337.0,429.0"/>
<polyline points="35.6,432.1 40.7,417.2 45.8,426.5 50.9,436.1 56.0,435.1 61.2,416.0 66.3,423.9 71.4,427.4 76.5,431.3 81.6,416.3 86.7,418.0 91.8,420.3 96.9,420.5 102.0,406.6 107.1,413.2 112.2,418.0 117.3,422.5 122.5,396.8 127.6,410.5 132.7,416.3 137.8,418.4 142.9,406.6 148.0,410.1 153.1,412.2 158.2,412.1 163.3,411.5 168.4,410.5 173.5,412.1 178.6,414.3 183.8,416.9 188.9,428.2 194.0,433.8 199.1,440.1 204.2,427.8 209.3,417.0 214.4,424.7 219.5,426.3 224.6,417.1 229.7,426.6 234.8,431.3 239.9,424.8 245.0,428.9 250.2,424.4 255.3,429.1 260.4,428.3 265.5,416.5 270.6,433.8 275.7,445.3 280.8,448.9 285.9,413.7 291.0,427.6 296.1,434.5 301.2,437.5 306.4,421.8 311.5,425.1 316.6,426.0 321.7,418.0 326.8,424.1 331.9,420.8 337.0,416.8"/>
<polyline points="35.6,433.6 40.7,417.8 45.8,427.3 50.9,436.8 56.0,436.6 61.2,419.0 66.3,424.7 71.4,428.8 76.5,429.4 81.6,418.2 86.7,418.3 91.8,419.7 96.9,419.9 102.0,407.0 107.1,415.0 112.2,418.4 117.3,424.1 122.5,401.4 127.6,411.0 132.7,420.5 137.8,422.8 142.9,403.3 148.0,410.6 153.1,414.0 158.2,414.3 163.3,414.9 168.4,417.6 173.5,425.2 178.6,432.8 183.8,410.1 188.9,420.3 194.0,426.7 199.1,434.2 204.2,419.2 209.3,420.1 214.4,424.4 219.5,428.0 224.6,421.5 229.7,433.3 234.8,451.7 239.9,460.0 245.0,424.4 250.2,429.7 255.3,436.1 260.4,435.0 265.5,405.5 270.6,429.4 275.7,441.3 280.8,451.3 285.9,411.3 291.0,424.8 296.1,422.3 301.2,424.1 306.4,415.7 311.5,416.5 316.6,420.1 321.7,414.5 326.8,419.9 331.9,417.0 337.0,416.0"/>
<polyline points="35.6,430.5 40.7,416.9 45.8,426.4 50.9,435.9 56.0,434.3 61.2,415.7 66.3,417.3 71.4,420.0 76.5,418.2 81.6,410.1 86.7,418.3 91.8,419.1 96.9,420.3 102.0,408.4 107.1,414.0 112.2,417.5 117.3,420.3 122.5,397.5 127.6,405.7 132.7,415.6 137.8,418.5 142.9,399.5 148.0,406.3 153.1,413.2 158.2,416.7 163.3,412.2 168.4,416.3 173.5,418.8 178.6,419.6 183.8,425.3 188.9,423.0 194.0,427.3 199.1,428.8 204.2,416.4 209.3,436.2 214.4,444.4 219.5,455.1 224.6,428.4 229.7,426.0 234.8,431.2 239.9,433.2 245.0,422.4 250.2,425.7 255.3,437.7 260.4,444.5 265.5,409.0 270.6,423.9 275.7,419.5 280.8,418.4 285.9,419.1 291.0,416.7 296.1,417.6 301.2,424.9 306.4,418.1 311.5,417.3 316.6,430.9 321.7,436.8 326.8,416.6 331.9,429.7 337.0,437.0"/>
<polyline points="35.6,432.9 40.7,418.8 45.8,428.6 50.9,438.1 56.0,437.2 61.2,415.3 66.3,421.7 71.4,426.3 76.5,428.2 81.6,416.5 86.7,420.1 91.8,422.3 96.9,424.6 102.0,410.0 107.1,415.6 112.2,420.2 117.3,423.0 122.5,400.3 127.6,411.5 132.7,421.2 137.8,421.4 142.9,403.4 148.0,414.3 153.1,418.4 158.2,419.4 163.3,416.7 168.4,414.3 173.5,421.1 178.6,425.5 183.8,420.5 188.9,430.7 194.0,423.1 199.1,426.5 204.2,430.1 209.3,425.2 214.4,428.0 219.5,432.1 224.6,419.4 229.7,435.8 234.8,433.8 239.9,434.2 245.0,434.9 250.2,435.4 255.3,443.2 260.4,443.4 265.5,426.1 270.6,429.8 275.7,422.3 280.8,420.6 285.9,420.2 291.0,418.4 296.1,425.1 301.2,424.5 306.4,417.3 311.5,427.9 316.6,427.3 321.7,426.1 326.8,430.1 331.9,428.9 337.0,430.1"/>
<polyline points="35.6,427.9 40.7,413.6 45.8,422.8 50.9,433.2 56.0,429.9 61.2,409.5 66.3,412.8 71.4,411.8 76.5,407.3 81.6,408.2 86.7,410.0 91.8,412.9 96.9,414.0 102.0,399.6 107.1,408.0 112.2,414.0 117.3,418.4 122.5,391.8 127.6,406.9 132.7,416.8 137.8,420.3 142.9,396.9 148.0,400.1 153.1,404.4 158.2,404.7 163.3,401.3 168.4,407.3 173.5,411.1 178.6,414.6 183.8,408.9 188.9,411.2 194.0,413.4 199.1,416.1 204.2,411.2 209.3,417.3 214.4,424.6 219.5,429.9 224.6,410.8 229.7,420.9 234.8,432.3 239.9,436.2 245.0,425.4 250.2,419.4 255.3,415.8 260.4,417.6 265.5,420.7 270.6,417.0 275.7,421.4 280.8,420.3 285.9,425.9 291.0,419.4 296.1,422.2 301.2,438.3 306.4,423.0 311.5,425.0 316.6,427.2 321.7,426.7 326.8,418.9 331.9,422.4 337.0,424.6"/>
<polyline points="35.6,431.9 40.7,415.2 45.8,422.8 50.9,433.5 56.0,432.4 61.2,412.9 66.3,418.9 71.4,424.2 76.5,430.0 81.6,409.0 86.7,416.5 91.8,419.2 96.9,419.1 102.0,402.2 107.1,412.4 112.2,421.0 117.3,428.5 122.5,397.4 127.6,407.0 132.7,416.8 137.8,420.0 142.9,399.1 148.0,407.4 153.1,412.3 158.2,415.2 163.3,407.1 168.4,411.4 173.5,423.6 178.6,429.2 183.8,405.3 188.9,425.5 194.0,441.0 199.1,445.7 204.2,414.5 209.3,417.4 214.4,422.6 219.5,423.0 224.6,417.2 229.7,421.3 234.8,423.2 239.9,419.3 245.0,419.9 250.2,422.2 255.3,417.3 260.4,413.7 265.5,411.5 270.6,414.6 275.7,416.6 280.8,414.1 285.9,410.8 291.0,420.2 296.1,423.1 301.2,423.9 306.4,415.3 311.5,417.7 316.6,423.9 321.7,428.3 326.8,405.4 331.9,406.7 337.0,411.2"/>
<polyline points="35.6,429.7 40.7,415.3 45.8,424.8 50.9,434.8 56.0,432.6 61.2,415.6 66.3,421.6 71.4,424.0 76.5,427.7 81.6,414.0 86.7,418.0 91.8,419.7 96.9,423.2 102.0,407.0 107.1,413.3 112.2,418.1 117.3,424.4 122.5,400.6 127.6,410.7 132.7,419.9 137.8,422.9 142.9,403.9 148.0,415.3 153.1,417.8 158.2,417.5 163.3,419.7 168.4,420.9 173.5,428.8 178.6,430.6 183.8,427.0 188.9,436.5 194.0,452.0 199.1,464.8 204.2,419.5 209.3,429.3 214.4,433.7 219.5,437.3 224.6,431.3 229.7,433.4 234.8,436.1 239.9,435.2 245.0,434.9 250.2,445.4 255.3,448.0 260.4,448.4 265.5,439.2 270.6,443.3 275.7,445.3 280.8,444.9 285.9,436.0 291.0,439.8 296.1,440.2 301.2,436.3 306.4,442.9 311.5,457.8 316.6,463.9 321.7,466.8 326.8,434.4 331.9,430.7 337.0,432.9"/>
<polyline points="35.6,431.1 40.7,417.0 45.8,427.8 50.9,438.1 56.0,437.0 61.2,417.2 66.3,427.4 71.4,440.1 76.5,455.7 81.6,415.1 86.7,419.3 91.8,424.2 96.9,427.2 102.0,404.2 107.1,415.2 112.2,420.4 117.3,424.0 122.5,403.0 127.6,416.6 132.7,424.4 137.8,425.4 142.9,414.4 148.0,418.2 153.1,420.1 158.2,422.5 163.3,420.0 168.4,425.5 173.5,426.1 178.6,426.8 183.8,431.1 188.9,436.0 194.0,436.7 199.1,437.2 204.2,432.6 209.3,439.3 214.4,444.2 219.5,447.2 224.6,429.7 229.7,430.5 234.8,437.4 239.9,436.1 245.0,431.6 250.2,435.2 255.3,435.5 260.4,430.8 265.5,426.3 270.6,429.3 275.7,436.5 280.8,436.9 285.9,425.4 291.0,430.3 296.1,434.0 301.2,432.5 306.4,428.2 311.5,430.6 316.6,435.0 321.7,436.7 326.8,429.9 331.9,446.0 337.0,454.2"/>
<polyline points="35.6,431.1 40.7,417.1 45.8,426.1 50.9,437.0 56.0,437.5 61.2,415.3 66.3,419.3 71.4,418.1 76.5,415.3 81.6,411.7 86.7,412.7 91.8,413.5 96.9,415.6 102.0,403.7 107.1,407.4 112.2,414.0 117.3,417.9 122.5,394.1 127.6,407.2 132.7,413.2 137.8,416.4 142.9,399.3 148.0,404.0 153.1,408.2 158.2,409.5 163.3,406.5 168.4,408.4 173.5,410.5 178.6,412.8 183.8,412.1 188.9,413.3 194.0,412.7 199.1,414.5 204.2,416.0 209.3,414.6 214.4,421.4 219.5,429.1 224.6,412.4 229.7,415.3 234.8,421.9 239.9,428.5 245.0,415.2 250.2,425.4 255.3,432.7 260.4,428.0 265.5,413.1 270.6,429.0 275.7,440.0 280.8,449.5 285.9,417.6 291.0,423.9 296.1,429.4 301.2,429.1 306.4,417.9 311.5,429.6 316.6,424.9 321.7,426.6 326.8,416.4 331.9,422.3 337.0,427.3"/>
<polyline points="35.6,430.7 40.7,415.1 45.8,424.4 50.9,433.6 56.0,432.6 61.2,413.9 66.3,416.1 71.4,419.3 76.5,418.8 81.6,405.8 86.7,409.5 91.8,415.5 96.9,417.0 102.0,399.5 107.1,408.5 112.2,415.8 117.3,418.4 122.5,393.3 127.6,407.1 132.7,415.4 137.8,417.0 142.9,398.8 148.0,407.4 153.1,410.8 158.2,408.9 163.3,410.8 168.4,411.9 173.5,417.3 178.6,420.0 183.8,419.4 188.9,417.6 194.0,428.1 199.1,434.6 204.2,418.8 209.3,422.1 214.4,418.9 219.5,416.5 224.6,415.0 229.7,416.4 234.8,420.4 239.9,422.5 245.0,421.1 250.2,424.6 255.3,424.6 260.4,420.4 265.5,422.1 270.6,419.7 275.7,423.4 280.8,420.2 285.9,425.0 291.0,427.6 296.1,427.8 301.2,431.6 306.4,431.2 311.5,424.3 316.6,424.9 321.7,425.4 326.8,413.1 331.9,430.5 337.0,432.8"/>
<polyline points="35.6,427.9 40.7,412.8 45.8,422.3 50.9,432.5 56.0,432.3 61.2,409.3 66.3,417.1 71.4,423.6 76.5,430.5 81.6,408.0 86.7,409.8 91.8,413.4 96.9,415.1 102.0,398.6 107.1,408.9 112.2,414.4 117.3,418.4 122.5,393.6 127.6,404.7 132.7,411.2 137.8,411.4 142.9,399.3 148.0,403.5 153.1,408.5 158.2,411.2 163.3,404.6 168.4,410.7 173.5,415.9 178.6,417.5 183.8,415.7 188.9,423.4 194.0,428.1 199.1,434.3 204.2,421.8 209.3,419.7 214.4,422.5 219.5,425.7 224.6,421.8 229.7,425.2 234.8,429.3 239.9,432.5 245.0,432.6 250.2,431.4 255.3,432.5 260.4,434.5 265.5,431.4 270.6,429.8 275.7,435.4 280.8,442.9 285.9,423.4 291.0,434.0 296.1,437.1 301.2,436.8 306.4,422.2 311.5,428.6 316.6,433.3 321.7,431.2 326.8,422.1 331.9,426.3 337.0,428.2"/>
<polyline points="35.6,432.3 40.7,416.5 45.8,426.0 50.9,435.1 56.0,434.3 61.2,415.1 66.3,418.2 71.4,417.5 76.5,413.4 81.6,410.8 86.7,415.5 91.8,417.6 96.9,418.2 102.0,403.1 107.1,413.3 112.2,417.7 117.3,423.7 122.5,394.5 127.6,405.2 132.7,416.6 137.8,417.8 142.9,398.4 148.0,405.5 153.1,411.0 158.2,414.2 163.3,406.8 168.4,409.2 173.5,420.5 178.6,422.1 183.8,409.0 188.9,416.8 194.0,421.5 199.1,427.4 204.2,420.9 209.3,419.9 214.4,423.5 219.5,421.1 224.6,415.1 229.7,424.4 234.8,427.1 239.9,435.8 245.0,416.5 250.2,417.9 255.3,418.9 260.4,421.4 265.5,425.4 270.6,441.3 275.7,443.7 280.8,444.0 285.9,432.2 291.0,432.5 296.1,438.4 301.2,440.9 306.4,429.8 311.5,426.2 316.6,436.2 321.7,441.2 326.8,416.9 331.9,422.4 337.0,425.0"/>
<polyline points="35.6,433.1 40.7,417.5 45.8,424.4 50.9,435.1 56.0,434.1 61.2,413.8 66.3,417.8 71.4,418.6 76.5,415.7 81.6,410.1 86.7,414.0 91.8,417.4 96.9,419.6 102.0,404.4 107.1,413.6 112.2,418.9 117.3,424.4 122.5,398.1 127.6,407.0 132.7,415.5 137.8,414.6 142.9,401.6 148.0,407.0 153.1,408.5 158.2,410.0 163.3,412.6 168.4,415.7 173.5,419.9 178.6,421.1 183.8,422.4 188.9,432.1 194.0,440.0 199.1,449.7 204.2,422.9 209.3,425.0 214.4,429.9 219.5,431.6 224.6,431.8 229.7,430.2 234.8,430.5 239.9,430.4 245.0,413.5 250.2,435.1 255.3,448.4 260.4,454.5 265.5,425.8 270.6,429.3 275.7,431.3 280.8,432.4 285.9,432.2 291.0,434.7 296.1,434.1 301.2,430.6 306.4,428.9 311.5,437.7 316.6,434.4 321.7,429.6 326.8,430.5 331.9,439.5 337.0,442.3"/>
<polyline points="35.6,431.0 40.7,417.7 45.8,427.2 50.9,436.5 56.0,435.3 61.2,416.1 66.3,421.1 71.4,421.7 76.5,414.5 81.6,417.0 86.7,420.9 91.8,425.2 96.9,427.4 102.0,406.2 107.1,415.1 112.2,418.9 117.3,424.2 122.5,397.6 127.6,413.0 132.7,423.8 137.8,426.0 142.9,406.4 148.0,413.8 153.1,417.0 158.2,416.8 163.3,415.4 168.4,410.1 173.5,414.5 178.6,417.2 183.8,409.5 188.9,427.6 194.0,441.1 199.1,449.5 204.2,412.1 209.3,424.4 214.4,424.7 219.5,427.0 224.6,428.6 229.7,432.5 234.8,433.3 239.9,434.6 245.0,434.6 250.2,436.7 255.3,453.8 260.4,465.1 265.5,422.9 270.6,438.7 275.7,440.6 280.8,441.3 285.9,429.9 291.0,426.3 296.1,430.1 301.2,431.2 306.4,422.7 311.5,427.9 316.6,432.6 321.7,432.4 326.8,422.8 331.9,424.2 337.0,422.4"/>
<polyline points="35.6,428.4 40.7,414.4 45.8,424.5 50.9,434.2 56.0,433.2 61.2,410.8 66.3,419.5 71.4,427.9 76.5,433.3 81.6,413.2 86.7,417.4 91.8,421.8 96.9,425.6 102.0,405.9 107.1,412.3 112.2,416.9 117.3,418.4 122.5,396.3 127.6,410.7 132.7,417.9 137.8,419.2 142.9,407.9 148.0,416.0 153.1,418.2 158.2,426.5 163.3,421.6 168.4,422.3 173.5,426.5 178.6,426.5 183.8,427.3 188.9,423.8 194.0,427.7 199.1,429.0 204.2,431.9 209.3,430.8 214.4,434.6 219.5,435.8 224.6,431.9 229.7,435.6 234.8,436.7 239.9,432.1 245.0,431.0 250.2,426.4 255.3,428.1 260.4,434.7 265.5,426.0 270.6,435.0 275.7,438.6 280.8,426.1 285.9,420.7 291.0,428.9 296.1,428.4 301.2,434.1 306.4,440.2 311.5,436.5 316.6,432.8 321.7,439.2 326.8,438.1 331.9,441.6 337.0,438.5"/>
<polyline points="35.6,428.1 40.7,413.8 45.8,422.3 50.9,433.5 56.0,431.8 61.2,411.9 66.3,415.5 71.4,419.9 76.5,417.4 81.6,407.1 86.7,413.6 91.8,417.1 96.9,418.8 102.0,401.3 107.1,413.6 112.2,418.1 117.3,423.1 122.5,399.5 127.6,413.0 132.7,420.4 137.8,423.0 142.9,409.3 148.0,409.5 153.1,415.2 158.2,417.3 163.3,411.4 168.4,413.3 173.5,416.1 178.6,421.3 183.8,419.6 188.9,415.0 194.0,421.4 199.1,431.4 204.2,418.7 209.3,434.0 214.4,435.0 219.5,439.2 224.6,421.1 229.7,424.9 234.8,433.4 239.9,435.4 245.0,436.6 250.2,428.7 255.3,419.4 260.4,420.2 265.5,421.9 270.6,427.2 275.7,427.5 280.8,430.0 285.9,423.9 291.0,425.7 296.1,427.7 301.2,425.7 306.4,425.4 311.5,428.8 316.6,432.5 321.7,435.5 326.8,424.6 331.9,434.1 337.0,438.6"/>
<polyline points="35.6,430.8 40.7,414.7 45.8,425.3 50.9,434.5 56.0,433.2 61.2,416.0 66.3,418.5 71.4,419.8 76.5,420.0 81.6,410.6 86.7,420.0 91.8,425.0 96.9,430.8 102.0,406.1 107.1,417.3 112.2,423.4 117.3,426.5 122.5,403.0 127.6,415.9 132.7,423.7 137.8,430.0 142.9,412.3 148.0,416.3 153.1,420.1 158.2,424.8 163.3,416.5 168.4,427.3 173.5,430.2 178.6,436.7 183.8,437.2 188.9,434.2 194.0,435.8 199.1,441.4 204.2,423.8 209.3,428.7 214.4,430.1 219.5,431.5 224.6,433.6 229.7,427.2 234.8,430.1 239.9,427.9 245.0,430.5 250.2,434.5 255.3,436.7 260.4,433.6 265.5,434.6 270.6,449.5 275.7,462.1 280.8,467.3 285.9,426.7 291.0,432.3 296.1,436.1 301.2,439.9 306.4,417.0 311.5,429.5 316.6,427.9 321.7,430.4 326.8,423.8 331.9,433.7 337.0,445.1"/>
<polyline points="35.6,433.4 40.7,417.8 45.8,426.0 50.9,435.3 56.0,432.1 61.2,413.0 66.3,415.4 71.4,417.0 76.5,412.5 81.6,410.4 86.7,412.8 91.8,414.0 96.9,417.1 102.0,405.1 107.1,410.5 112.2,416.1 117.3,419.1 122.5,396.2 127.6,410.9 132.7,421.4 137.8,423.1 142.9,397.4 148.0,403.6 153.1,409.8 158.2,410.3 163.3,407.9 168.4,402.6 173.5,405.7 178.6,407.5 183.8,403.5 188.9,408.9 194.0,414.2 199.1,417.8 204.2,402.8 209.3,417.6 214.4,420.6 219.5,423.3 224.6,415.1 229.7,422.8 234.8,429.2 239.9,434.4 245.0,417.7 250.2,414.6 255.3,418.9 260.4,421.6 265.5,407.0 270.6,408.7 275.7,413.6 280.8,415.6 285.9,399.9 291.0,417.4 296.1,427.0 301.2,431.4 306.4,410.0 311.5,418.9 316.6,422.7 321.7,421.6 326.8,415.9 331.9,413.8 337.0,417.9"/>
<polyline points="35.6,432.7 40.7,415.4 45.8,426.6 50.9,437.3 56.0,435.6 61.2,415.1 66.3,419.1 71.4,419.3 76.5,416.1 81.6,411.8 86.7,414.1 91.8,415.9 96.9,417.1 102.0,401.3 107.1,408.6 112.2,415.4 117.3,422.6 122.5,394.4 127.6,410.3 132.7,418.5 137.8,420.6 142.9,406.9 148.0,406.8 153.1,415.8 158.2,419.7 163.3,410.0 168.4,419.3 173.5,418.6 178.6,421.1 183.8,423.8 188.9,423.6 194.0,431.2 199.1,439.2 204.2,426.6 209.3,431.8 214.4,431.1 219.5,434.5 224.6,423.8 229.7,433.1 234.8,431.9 239.9,430.0 245.0,436.7 250.2,437.4 255.3,445.4 260.4,451.7 265.5,426.2 270.6,445.5 275.7,446.6 280.8,446.7 285.9,432.4 291.0,448.6 296.1,461.1 301.2,465.2 306.4,435.0 311.5,439.2 316.6,443.0 321.7,452.3 326.8,430.8 331.9,441.9 337.0,453.4"/>
<polyline points="35.6,430.8 40.7,416.4 45.8,424.0 50.9,433.6 56.0,433.0 61.2,413.6 66.3,416.1 71.4,416.4 76.5,415.5 81.6,411.6 86.7,416.3 91.8,421.2 96.9,423.9 102.0,409.0 107.1,419.0 112.2,424.8 117.3,428.3 122.5,403.0 127.6,413.7 132.7,420.8 137.8,422.2 142.9,407.4 148.0,415.0 153.1,424.0 158.2,427.9 163.3,418.6 168.4,422.9 173.5,424.2 178.6,429.1 183.8,432.3 188.9,438.3 194.0,442.3 199.1,451.1 204.2,435.7 209.3,435.7 214.4,443.8 219.5,450.2 224.6,435.6 229.7,440.4 234.8,440.0 239.9,438.9 245.0,443.2 250.2,440.6 255.3,450.8 260.4,456.3 265.5,432.7 270.6,449.0 275.7,458.6 280.8,458.5 285.9,439.0 291.0,449.4 296.1,459.7 301.2,459.1 306.4,432.5 311.5,442.3 316.6,447.9 321.7,450.3 326.8,436.3 331.9,437.0 337.0,432.4"/>
<polyline points="35.6,429.6 40.7,414.5 45.8,424.5 50.9,435.6 56.0,433.8 61.2,412.1 66.3,418.6 71.4,423.4 76.5,423.4 81.6,409.2 86.7,415.6 91.8,416.3 96.9,417.2 102.0,404.7 107.1,410.6 112.2,414.1 117.3,418.7 122.5,396.4 127.6,408.7 132.7,418.1 137.8,419.9 142.9,406.2 148.0,412.1 153.1,412.9 158.2,413.3 163.3,409.0 168.4,410.9 173.5,413.1 178.6,412.6 183.8,414.8 188.9,414.2 194.0,411.6 199.1,415.0 204.2,419.7 209.3,428.8 214.4,436.1 219.5,443.8 224.6,417.6 229.7,412.9 234.8,419.9 239.9,422.0 245.0,407.9 250.2,416.2 255.3,417.1 260.4,413.8 265.5,417.3 270.6,420.3 275.7,420.3 280.8,422.3 285.9,410.2 291.0,421.7 296.1,434.9 301.2,439.8 306.4,420.4 311.5,422.7 316.6,419.1 321.7,417.9 326.8,418.2 331.9,424.6 337.0,424.4"/>
<polyline points="35.6,432.8 40.7,419.0 45.8,428.6 50.9,437.4 56.0,438.4 61.2,415.5 66.3,420.7 71.4,424.8 76.5,421.8 81.6,411.6 86.7,417.6 91.8,421.0 96.9,422.6 102.0,407.9 107.1,413.3 112.2,419.4 117.3,423.8 122.5,399.5 127.6,408.8 132.7,418.6 137.8,420.8 142.9,410.1 148.0,410.8 153.1,413.4 158.2,415.9 163.3,415.9 168.4,418.3 173.5,423.4 178.6,424.8 183.8,427.0 188.9,427.9 194.0,434.6 199.1,434.8 204.2,430.1 209.3,434.2 214.4,435.3 219.5,432.1 224.6,429.6 229.7,444.0 234.8,445.7 239.9,448.1 245.0,439.3 250.2,433.3 255.3,439.7 260.4,440.2 265.5,427.1 270.6,439.4 275.7,434.6 280.8,442.0 285.9,442.5 291.0,442.8 296.1,437.0 301.2,437.5 306.4,440.6 311.5,450.0 316.6,465.8 321.7,469.2 326.8,436.2 331.9,445.4 337.0,445.7"/>
<polyline points="35.6,430.6 40.7,414.0 45.8,423.4 50.9,432.4 56.0,431.0 61.2,412.3 66.3,414.4 71.4,414.7 76.5,411.5 81.6,411.4 86.7,416.3 91.8,420.8 96.9,421.9 102.0,403.8 107.1,412.1 112.2,416.8 117.3,419.5 122.5,398.8 127.6,413.0 132.7,421.9 137.8,421.8 142.9,407.2 148.0,409.6 153.1,411.7 158.2,412.7 163.3,415.5 168.4,418.2 173.5,421.0 178.6,423.4 183.8,421.0 188.9,428.3 194.0,428.1 199.1,430.2 204.2,426.4 209.3,428.3 214.4,437.6 219.5,442.9 224.6,432.7 229.7,431.1 234.8,433.3 239.9,436.0 245.0,427.0 250.2,429.9 255.3,440.3 260.4,444.6 265.5,420.3 270.6,436.6 275.7,440.2 280.8,438.4 285.9,431.0 291.0,439.2 296.1,454.4 301.2,461.7 306.4,430.1 311.5,431.4 316.6,432.9 321.7,433.2 326.8,416.8 331.9,427.4 337.0,423.2"/>
<polyline points="35.6,432.9 40.7,418.3 45.8,428.4 50.9,438.2 56.0,436.9 61.2,419.1 66.3,427.6 71.4,434.5 76.5,439.2 81.6,418.0 86.7,421.6 91.8,423.3 96.9,425.8 102.0,412.2 107.1,415.4 112.2,420.0 117.3,425.5 122.5,402.3 127.6,413.4 132.7,423.5 137.8,425.0 142.9,404.7 148.0,410.3 153.1,418.7 158.2,417.7 163.3,410.8 168.4,421.6 173.5,420.2 178.6,421.8 183.8,424.3 188.9,425.9 194.0,428.0 199.1,433.6 204.2,413.9 209.3,417.7 214.4,423.6 219.5,429.7 224.6,417.7 229.7,430.3 234.8,440.1 239.9,448.8 245.0,423.1 250.2,424.4 255.3,425.0 260.4,422.0 265.5,424.1 270.6,424.9 275.7,429.7 280.8,434.0 285.9,420.1 291.0,436.7 296.1,438.1 301.2,435.8 306.4,429.8 311.5,441.4 316.6,444.1 321.7,443.8 326.8,438.1 331.9,437.7 337.0,433.5"/>
<polyline points="35.6,431.6 40.7,417.4 45.8,426.8 50.9,437.6 56.0,437.3 61.2,414.8 66.3,415.4 71.4,417.4 76.5,414.8 81.6,410.0 86.7,418.7 91.8,422.9 96.9,424.7 102.0,406.2 107.1,415.8 112.2,422.7 117.3,430.9 122.5,402.4 127.6,409.6 132.7,420.0 137.8,422.6 142.9,403.2 148.0,410.4 153.1,415.0 158.2,416.6 163.3,417.1 168.4,420.4 173.5,422.8 178.6,423.4 183.8,428.5 188.9,430.8 194.0,439.3 199.1,445.0 204.2,428.4 209.3,437.3 214.4,437.8 219.5,439.1 224.6,439.6 229.7,436.9 234.8,439.7 239.9,435.6 245.0,436.6 250.2,444.9 255.3,448.8 260.4,455.3 265.5,436.4 270.6,437.3 275.7,435.4 280.8,430.2 285.9,428.5 291.0,440.2 296.1,450.7 301.2,463.3 306.4,429.1 311.5,439.0 316.6,444.2 321.7,440.0 326.8,431.5 331.9,431.3 337.0,431.4"/>
<polyline points="35.6,429.3 40.7,413.8 45.8,423.5 50.9,435.1 56.0,435.0 61.2,414.6 66.3,420.5 71.4,425.1 76.5,425.7 81.6,416.7 86.7,418.4 91.8,420.6 96.9,422.7 102.0,406.7 107.1,418.3 112.2,425.0 117.3,431.1 122.5,402.3 127.6,414.8 132.7,426.8 137.8,432.3 142.9,408.4 148.0,417.3 153.1,417.4 158.2,420.2 163.3,425.4 168.4,424.6 173.5,428.8 178.6,436.3 183.8,431.4 188.9,435.9 194.0,434.1 199.1,436.2 204.2,430.8 209.3,423.7 214.4,430.4 219.5,436.8 224.6,422.2 229.7,429.1 234.8,428.4 239.9,423.0 245.0,425.6 250.2,431.9 255.3,440.0 260.4,443.5 265.5,412.3 270.6,422.4 275.7,427.8 280.8,428.5 285.9,401.3 291.0,413.4 296.1,420.5 301.2,424.7 306.4,403.8 311.5,412.6 316.6,419.8 321.7,423.6 326.8,401.5 331.9,408.4 337.0,410.5"/>
<polyline points="35.6,430.2 40.7,417.1 45.8,426.2 50.9,435.9 56.0,436.0 61.2,414.8 66.3,419.0 71.4,422.7 76.5,419.7 81.6,416.0 86.7,417.4 91.8,420.5 96.9,422.2 102.0,407.5 107.1,409.9 112.2,415.8 117.3,421.7 122.5,393.9 127.6,410.7 132.7,419.1 137.8,420.3 142.9,408.3 148.0,411.1 153.1,415.3 158.2,416.4 163.3,417.0 168.4,414.6 173.5,416.2 178.6,417.6 183.8,412.2 188.9,419.2 194.0,425.3 199.1,425.3 204.2,423.7 209.3,431.0 214.4,440.4 219.5,451.2 224.6,429.6 229.7,435.7 234.8,430.6 239.9,429.3 245.0,427.6 250.2,425.5 255.3,425.0 260.4,429.4 265.5,420.8 270.6,436.4 275.7,447.9 280.8,454.8 285.9,419.1 291.0,426.8 296.1,432.2 301.2,434.5 306.4,413.8 311.5,428.4 316.6,422.4 321.7,418.2 326.8,425.1 331.9,426.2 337.0,438.7"/>
<polyline points="35.6,431.1 40.7,417.0 45.8,427.3 50.9,436.2 56.0,435.6 61.2,419.2 66.3,423.4 71.4,429.4 76.5,435.7 81.6,409.8 86.7,416.2 91.8,417.5 96.9,418.7 102.0,406.1 107.1,415.3 112.2,421.9 117.3,426.5 122.5,399.8 127.6,410.7 132.7,418.3 137.8,423.3 142.9,402.2 148.0,404.7 153.1,410.3 158.2,414.0 163.3,404.2 168.4,412.6 173.5,422.2 178.6,432.3 183.8,407.1 188.9,425.7 194.0,431.0 199.1,434.2 204.2,418.4 209.3,418.8 214.4,427.4 219.5,432.0 224.6,413.7 229.7,425.0 234.8,423.8 239.9,420.3 245.0,419.7 250.2,414.5 255.3,416.2 260.4,414.9 265.5,410.0 270.6,430.0 275.7,436.2 280.8,445.1 285.9,420.7 291.0,426.2 296.1,433.1 301.2,431.7 306.4,415.3 311.5,413.5 316.6,426.0 321.7,430.5 326.8,408.8 331.9,415.1 337.0,418.7"/>
<polyline points="35.6,431.0 40.7,416.5 45.8,426.7 50.9,436.0 56.0,434.8 61.2,417.4 66.3,424.3 71.4,427.9 76.5,426.2 81.6,420.6 86.7,420.3 91.8,426.3 96.9,426.7 102.0,405.8 107.1,421.1 112.2,428.2 117.3,433.2 122.5,406.2 127.6,419.0 132.7,429.6 137.8,433.1 142.9,412.1 148.0,416.8 153.1,420.7 158.2,424.7 163.3,425.8 168.4,430.6 173.5,438.9 178.6,444.5 183.8,432.4 188.9,433.3 194.0,431.3 199.1,434.3 204.2,429.6 209.3,423.9 214.4,427.3 219.5,427.8 224.6,417.0 229.7,423.1 234.8,434.7 239.9,435.4 245.0,425.0 250.2,434.8 255.3,434.0 260.4,430.1 265.5,433.3 270.6,431.8 275.7,436.3 280.8,437.0 285.9,430.4 291.0,446.1 296.1,451.9 301.2,460.2 306.4,441.1 311.5,442.8 316.6,442.3 321.7,443.4 326.8,427.4 331.9,443.9 337.0,461.3"/>
</g>
<line x1="30.5" y1="471.18" x2="337.0" y2="471.18" stroke="#000" stroke-width="2.6"/>
<polyline points="35.6,431.0 40.7,416.2 45.8,425.8 50.9,435.4 56.0,434.5 61.2,414.5 66.3,419.7 71.4,423.2 76.5,424.1 81.6,411.8 86.7,416.2 91.8,419.7 96.9,421.4 102.0,404.9 107.1,412.7 112.2,418.8 117.3,423.2 122.5,397.0 127.6,410.1 132.7,418.8 137.8,421.0 142.9,403.1 148.0,409.2 153.1,414.5 158.2,417.5 163.3,411.8 168.4,416.2 173.5,421.0 178.6,424.9 183.8,418.8 188.9,425.4 194.0,429.7 199.1,434.1 204.2,423.2 209.3,427.6 214.4,432.8 219.5,436.7 224.6,423.2 229.7,427.6 234.8,431.9 239.9,434.1 245.0,425.4 250.2,428.4 255.3,431.9 260.4,434.1 265.5,421.9 270.6,429.7 275.7,434.1 280.8,436.7 285.9,421.9 291.0,429.7 296.1,434.1 301.2,436.7 306.4,423.2 311.5,429.7 316.6,432.8 321.7,434.1 326.8,423.2 331.9,428.4 337.0,431.9" fill="none" stroke="#6e1e0e" stroke-width="2.5" stroke-linecap="round" stroke-dasharray="0.1,3.8"/>
<polyline points="35.6,431.9 40.7,416.6 45.8,426.2 50.9,436.3 56.0,435.0 61.2,413.2 66.3,418.8 71.4,421.0 76.5,421.0 81.6,411.8 86.7,415.3 91.8,418.0 96.9,419.7 102.0,403.1 107.1,411.0 112.2,416.6 117.3,423.2 122.5,393.5 127.6,407.9 132.7,416.6 137.8,418.8 142.9,403.1 148.0,409.2 153.1,413.6 158.2,416.6 163.3,410.1 168.4,414.5 173.5,418.0 178.6,419.3 183.8,421.0 188.9,423.2 194.0,426.7 199.1,430.6 204.2,418.0 209.3,425.4 214.4,431.9 219.5,437.1 224.6,416.6 229.7,425.4 234.8,431.9 239.9,438.0 245.0,421.9 250.2,424.1 255.3,426.7 260.4,425.4 265.5,417.1 270.6,427.6 275.7,438.5 280.8,445.0 285.9,418.0 291.0,429.7 296.1,438.5 301.2,443.7 306.4,420.1 311.5,431.9 316.6,440.6 321.7,445.4 326.8,430.6 331.9,434.1 337.0,437.1" fill="none" stroke="#1a30ff" stroke-width="1.9" stroke-dasharray="3,1.9"/>
<polyline points="35.6,430.2 40.7,415.3 45.8,425.4 50.9,435.8 56.0,433.7 61.2,414.5 66.3,420.6 71.4,423.2 76.5,424.5 81.6,411.0 86.7,415.3 91.8,418.8 96.9,420.6 102.0,404.0 107.1,412.3 112.2,418.8 117.3,424.5 122.5,394.8 127.6,410.1 132.7,419.3 137.8,420.6 142.9,399.6 148.0,405.7 153.1,410.1 158.2,414.5 163.3,409.2 168.4,413.6 173.5,415.3 178.6,417.1 183.8,418.0 188.9,426.7 194.0,434.1 199.1,441.5 204.2,426.7 209.3,429.7 214.4,434.1 219.5,437.1 224.6,420.1 229.7,421.9 234.8,415.3" fill="none" stroke="#ff2a1a" stroke-width="1.5"/>
</g>
<g clip-path="url(#c5)">
<polyline points="400.5,492.9 405.6,492.9 410.7,492.9 415.9,492.9 421.0,492.9 426.1,492.9 431.2,492.9 436.3,492.9 441.4,492.9 446.5,492.9 451.6,492.9 456.8,492.9 461.9,492.9 467.0,492.9 472.1,492.9 477.2,492.9 482.3,492.9 487.4,492.9 492.6,492.9 497.7,492.9 502.8,492.9 507.9,492.9 513.0,492.9 518.1,492.9 523.2,492.9 528.3,492.9 533.5,492.9 538.6,492.9 543.7,492.9 548.8,492.9 553.9,492.9 559.0,492.9 564.1,492.9 569.3,492.9 574.4,492.9 579.5,492.9 584.6,492.9 589.7,492.9 594.8,492.9 599.9,492.9 605.0,492.9 610.2,492.9 615.3,492.9 620.4,492.9 625.5,492.9 630.6,492.9 635.7,492.9 640.8,492.9 646.0,492.9 651.1,492.9 656.2,492.9 661.3,492.9 666.4,492.9 671.5,492.9 676.6,492.9 681.7,492.9 686.9,492.9 692.0,492.9 697.1,492.9 702.2,492.9" fill="none" stroke="#1a30ff" stroke-width="1.9" stroke-dasharray="3,1.9"/>
<polyline points="400.5,492.9 405.6,492.9 410.7,492.9 415.9,492.9 421.0,492.9 426.1,492.9 431.2,492.9 436.3,492.9 441.4,492.9 446.5,492.9 451.6,492.9 456.8,492.9 461.9,492.9 467.0,492.9 472.1,492.9 477.2,492.9 482.3,492.9 487.4,492.9 492.6,492.9 497.7,492.9 502.8,492.9 507.9,492.9 513.0,492.9 518.1,492.9 523.2,492.9 528.3,492.9 533.5,492.9 538.6,492.9 543.7,492.9 548.8,492.9 553.9,492.9 559.0,492.9 564.1,492.9 569.3,492.9 574.4,492.9 579.5,492.9 584.6,492.9 589.7,492.9 594.8,492.9 599.9,492.9" fill="none" stroke="#ff2a1a" stroke-width="1.5"/>
<polyline points="400.5,492.9 405.6,492.9 410.7,492.9 415.9,492.9 421.0,492.9 426.1,492.9 431.2,492.9 436.3,492.9 441.4,492.9 446.5,492.9 451.6,492.9 456.8,492.9 461.9,492.9 467.0,492.9 472.1,492.9 477.2,492.9 482.3,492.9 487.4,492.9 492.6,492.9 497.7,492.9 502.8,492.9 507.9,492.9 513.0,492.9 518.1,492.9 523.2,492.9 528.3,492.9 533.5,492.9 538.6,492.9 543.7,492.9 548.8,492.9 553.9,492.9 559.0,492.9 564.1,492.9 569.3,492.9 574.4,492.9 579.5,492.9 584.6,492.9 589.7,492.9 594.8,492.9 599.9,492.9 605.0,492.9 610.2,492.9 615.3,492.9 620.4,492.9 625.5,492.9 630.6,492.9 635.7,492.9 640.8,492.9 646.0,492.9 651.1,492.9 656.2,492.9 661.3,492.9 666.4,492.9 671.5,492.9 676.6,492.9 681.7,492.9 686.9,492.9 692.0,492.9 697.1,492.9 702.2,492.9" fill="none" stroke="#6e1e0e" stroke-width="2.5" stroke-linecap="round" stroke-dasharray="0.1,3.8"/>
</g>
<text transform="translate(69.05,10.90) scale(0.987,1)" font-size="9.5" font-weight="normal" fill="#111" letter-spacing="0.8" stroke="#111" stroke-width="0.25">Dinsdag</text>
<text transform="translate(116.36,10.90) scale(0.934,1)" font-size="9.5" font-weight="normal" fill="#111" letter-spacing="0.8" stroke="#111" stroke-width="0.1">28</text>
<text transform="translate(129.27,10.90) scale(1.003,1)" font-size="9.5" font-weight="normal" fill="#111" letter-spacing="0.8" stroke="#111" stroke-width="0.25">October</text>
<text transform="translate(175.95,10.90) scale(0.944,1)" font-size="9.5" font-weight="normal" fill="#111" letter-spacing="0.8" stroke="#111" stroke-width="0.1">2014</text>
<text transform="translate(204.34,10.90) scale(0.978,1)" font-size="9.5" font-weight="normal" fill="#111" letter-spacing="0.8" stroke="#111" stroke-width="0.1">(starttijd</text>
<text transform="translate(249.28,10.90) scale(1.078,1)" font-size="9.5" font-weight="normal" fill="#111" letter-spacing="0.8" stroke="#111" stroke-width="0.25">Di</text>
<text transform="translate(261.66,10.90) scale(0.888,1)" font-size="9.5" font-weight="normal" fill="#111" letter-spacing="0.8" stroke="#111" stroke-width="0.25">00</text>
<text transform="translate(276.05,10.90) scale(0.917,1)" font-size="9.5" font-weight="normal" fill="#111" letter-spacing="0.8" stroke="#111" stroke-width="0.25">UTC)</text>
<line x1="26.2" y1="16.4" x2="341.2" y2="16.4" stroke="#3a3a3a" stroke-width="1"/>
<line x1="26.2" y1="146.9" x2="341.2" y2="146.9" stroke="#707070" stroke-width="1"/>
<line x1="30.4" y1="16.4" x2="30.4" y2="146.9" stroke="#111" stroke-width="1.3"/>
<line x1="337.0" y1="16.4" x2="337.0" y2="146.9" stroke="#3a3a3a" stroke-width="1.3"/>
<text transform="translate(20.28,149.70) scale(1.000,1)" font-size="8.0" font-weight="bold" fill="#111" >0</text>
<text transform="translate(342.08,149.70) scale(1.000,1)" font-size="8.0" font-weight="normal" fill="#111" stroke="#111" stroke-width="0.2">0</text>
<line x1="28.599999999999998" y1="130.59" x2="30.4" y2="130.59" stroke="#444" stroke-width="0.8"/>
<line x1="337.0" y1="130.59" x2="338.8" y2="130.59" stroke="#444" stroke-width="0.8"/>
<line x1="26.2" y1="114.28" x2="30.4" y2="114.28" stroke="#222" stroke-width="0.9"/>
<line x1="337.0" y1="114.28" x2="341.2" y2="114.28" stroke="#222" stroke-width="0.9"/>
<text transform="translate(20.16,117.08) scale(1.000,1)" font-size="8.0" font-weight="bold" fill="#111" >5</text>
<text transform="translate(342.08,117.08) scale(1.000,1)" font-size="8.0" font-weight="normal" fill="#111" stroke="#111" stroke-width="0.2">5</text>
<line x1="28.599999999999998" y1="97.96" x2="30.4" y2="97.96" stroke="#444" stroke-width="0.8"/>
<line x1="337.0" y1="97.96" x2="338.8" y2="97.96" stroke="#444" stroke-width="0.8"/>
<line x1="26.2" y1="81.65" x2="30.4" y2="81.65" stroke="#222" stroke-width="0.9"/>
<line x1="337.0" y1="81.65" x2="341.2" y2="81.65" stroke="#222" stroke-width="0.9"/>
<text transform="translate(15.84,84.45) scale(1.000,1)" font-size="8.0" font-weight="bold" fill="#111" >10</text>
<text transform="translate(341.80,84.45) scale(1.000,1)" font-size="8.0" font-weight="normal" fill="#111" stroke="#111" stroke-width="0.2">10</text>
<line x1="28.599999999999998" y1="65.34" x2="30.4" y2="65.34" stroke="#444" stroke-width="0.8"/>
<line x1="337.0" y1="65.34" x2="338.8" y2="65.34" stroke="#444" stroke-width="0.8"/>
<line x1="26.2" y1="49.03" x2="30.4" y2="49.03" stroke="#222" stroke-width="0.9"/>
<line x1="337.0" y1="49.03" x2="341.2" y2="49.03" stroke="#222" stroke-width="0.9"/>
<text transform="translate(15.72,51.83) scale(1.000,1)" font-size="8.0" font-weight="bold" fill="#111" >15</text>
<text transform="translate(341.80,51.83) scale(1.000,1)" font-size="8.0" font-weight="normal" fill="#111" stroke="#111" stroke-width="0.2">15</text>
<line x1="28.599999999999998" y1="32.71" x2="30.4" y2="32.71" stroke="#444" stroke-width="0.8"/>
<line x1="337.0" y1="32.71" x2="338.8" y2="32.71" stroke="#444" stroke-width="0.8"/>
<text transform="translate(15.84,19.20) scale(1.000,1)" font-size="8.0" font-weight="bold" fill="#111" >20</text>
<text transform="translate(342.00,19.20) scale(1.000,1)" font-size="8.0" font-weight="normal" fill="#111" stroke="#111" stroke-width="0.2">20</text>
<line x1="35.51" y1="146.9" x2="35.51" y2="149.9" stroke="#999" stroke-width="0.9"/>
<line x1="40.62" y1="146.9" x2="40.62" y2="149.9" stroke="#999" stroke-width="0.9"/>
<line x1="45.73" y1="146.9" x2="45.73" y2="149.9" stroke="#999" stroke-width="0.9"/>
<line x1="55.95" y1="146.9" x2="55.95" y2="149.9" stroke="#999" stroke-width="0.9"/>
<line x1="61.06" y1="146.9" x2="61.06" y2="149.9" stroke="#999" stroke-width="0.9"/>
<line x1="66.17" y1="146.9" x2="66.17" y2="149.9" stroke="#999" stroke-width="0.9"/>
<line x1="76.39" y1="146.9" x2="76.39" y2="149.9" stroke="#999" stroke-width="0.9"/>
<line x1="81.50" y1="146.9" x2="81.50" y2="149.9" stroke="#999" stroke-width="0.9"/>
<line x1="86.61" y1="146.9" x2="86.61" y2="149.9" stroke="#999" stroke-width="0.9"/>
<line x1="96.83" y1="146.9" x2="96.83" y2="149.9" stroke="#999" stroke-width="0.9"/>
<line x1="101.94" y1="146.9" x2="101.94" y2="149.9" stroke="#999" stroke-width="0.9"/>
<line x1="107.05" y1="146.9" x2="107.05" y2="149.9" stroke="#999" stroke-width="0.9"/>
<line x1="117.27" y1="146.9" x2="117.27" y2="149.9" stroke="#999" stroke-width="0.9"/>
<line x1="122.38" y1="146.9" x2="122.38" y2="149.9" stroke="#999" stroke-width="0.9"/>
<line x1="127.49" y1="146.9" x2="127.49" y2="149.9" stroke="#999" stroke-width="0.9"/>
<line x1="137.71" y1="146.9" x2="137.71" y2="149.9" stroke="#999" stroke-width="0.9"/>
<line x1="142.82" y1="146.9" x2="142.82" y2="149.9" stroke="#999" stroke-width="0.9"/>
<line x1="147.93" y1="146.9" x2="147.93" y2="149.9" stroke="#999" stroke-width="0.9"/>
<line x1="158.15" y1="146.9" x2="158.15" y2="149.9" stroke="#999" stroke-width="0.9"/>
<line x1="163.26" y1="146.9" x2="163.26" y2="149.9" stroke="#999" stroke-width="0.9"/>
<line x1="168.37" y1="146.9" x2="168.37" y2="149.9" stroke="#999" stroke-width="0.9"/>
<line x1="178.59" y1="146.9" x2="178.59" y2="149.9" stroke="#999" stroke-width="0.9"/>
<line x1="183.70" y1="146.9" x2="183.70" y2="149.9" stroke="#999" stroke-width="0.9"/>
<line x1="188.81" y1="146.9" x2="188.81" y2="149.9" stroke="#999" stroke-width="0.9"/>
<line x1="199.03" y1="146.9" x2="199.03" y2="149.9" stroke="#999" stroke-width="0.9"/>
<line x1="204.14" y1="146.9" x2="204.14" y2="149.9" stroke="#999" stroke-width="0.9"/>
<line x1="209.25" y1="146.9" x2="209.25" y2="149.9" stroke="#999" stroke-width="0.9"/>
<line x1="219.47" y1="146.9" x2="219.47" y2="149.9" stroke="#999" stroke-width="0.9"/>
<line x1="224.58" y1="146.9" x2="224.58" y2="149.9" stroke="#999" stroke-width="0.9"/>
<line x1="229.69" y1="146.9" x2="229.69" y2="149.9" stroke="#999" stroke-width="0.9"/>
<line x1="239.91" y1="146.9" x2="239.91" y2="149.9" stroke="#999" stroke-width="0.9"/>
<line x1="245.02" y1="146.9" x2="245.02" y2="149.9" stroke="#999" stroke-width="0.9"/>
<line x1="250.13" y1="146.9" x2="250.13" y2="149.9" stroke="#999" stroke-width="0.9"/>
<line x1="260.35" y1="146.9" x2="260.35" y2="149.9" stroke="#999" stroke-width="0.9"/>
<line x1="265.46" y1="146.9" x2="265.46" y2="149.9" stroke="#999" stroke-width="0.9"/>
<line x1="270.57" y1="146.9" x2="270.57" y2="149.9" stroke="#999" stroke-width="0.9"/>
<line x1="280.79" y1="146.9" x2="280.79" y2="149.9" stroke="#999" stroke-width="0.9"/>
<line x1="285.90" y1="146.9" x2="285.90" y2="149.9" stroke="#999" stroke-width="0.9"/>
<line x1="291.01" y1="146.9" x2="291.01" y2="149.9" stroke="#999" stroke-width="0.9"/>
<line x1="301.23" y1="146.9" x2="301.23" y2="149.9" stroke="#999" stroke-width="0.9"/>
<line x1="306.34" y1="146.9" x2="306.34" y2="149.9" stroke="#999" stroke-width="0.9"/>
<line x1="311.45" y1="146.9" x2="311.45" y2="149.9" stroke="#999" stroke-width="0.9"/>
<line x1="321.67" y1="146.9" x2="321.67" y2="149.9" stroke="#999" stroke-width="0.9"/>
<line x1="326.78" y1="146.9" x2="326.78" y2="149.9" stroke="#999" stroke-width="0.9"/>
<line x1="331.89" y1="146.9" x2="331.89" y2="149.9" stroke="#999" stroke-width="0.9"/>
<g transform="translate(29.90,151.90) scale(1.25,0.75)"><text font-size="4.6" font-weight="bold" text-anchor="middle" fill="#111" letter-spacing="-0.5">00</text></g>
<g transform="translate(50.34,151.90) scale(1.25,0.75)"><text font-size="4.6" font-weight="bold" text-anchor="middle" fill="#111" letter-spacing="-0.5">00</text></g>
<g transform="translate(70.78,151.90) scale(1.25,0.75)"><text font-size="4.6" font-weight="bold" text-anchor="middle" fill="#111" letter-spacing="-0.5">00</text></g>
<g transform="translate(91.22,151.90) scale(1.25,0.75)"><text font-size="4.6" font-weight="bold" text-anchor="middle" fill="#111" letter-spacing="-0.5">00</text></g>
<g transform="translate(111.66,151.90) scale(1.25,0.75)"><text font-size="4.6" font-weight="bold" text-anchor="middle" fill="#111" letter-spacing="-0.5">00</text></g>
<g transform="translate(132.10,151.90) scale(1.25,0.75)"><text font-size="4.6" font-weight="bold" text-anchor="middle" fill="#111" letter-spacing="-0.5">00</text></g>
<g transform="translate(152.54,151.90) scale(1.25,0.75)"><text font-size="4.6" font-weight="bold" text-anchor="middle" fill="#111" letter-spacing="-0.5">00</text></g>
<g transform="translate(172.98,151.90) scale(1.25,0.75)"><text font-size="4.6" font-weight="bold" text-anchor="middle" fill="#111" letter-spacing="-0.5">00</text></g>
<g transform="translate(193.42,151.90) scale(1.25,0.75)"><text font-size="4.6" font-weight="bold" text-anchor="middle" fill="#111" letter-spacing="-0.5">00</text></g>
<g transform="translate(213.86,151.90) scale(1.25,0.75)"><text font-size="4.6" font-weight="bold" text-anchor="middle" fill="#111" letter-spacing="-0.5">00</text></g>
<g transform="translate(234.30,151.90) scale(1.25,0.75)"><text font-size="4.6" font-weight="bold" text-anchor="middle" fill="#111" letter-spacing="-0.5">00</text></g>
<g transform="translate(254.74,151.90) scale(1.25,0.75)"><text font-size="4.6" font-weight="bold" text-anchor="middle" fill="#111" letter-spacing="-0.5">00</text></g>
<g transform="translate(275.18,151.90) scale(1.25,0.75)"><text font-size="4.6" font-weight="bold" text-anchor="middle" fill="#111" letter-spacing="-0.5">00</text></g>
<g transform="translate(295.62,151.90) scale(1.25,0.75)"><text font-size="4.6" font-weight="bold" text-anchor="middle" fill="#111" letter-spacing="-0.5">00</text></g>
<g transform="translate(316.06,151.90) scale(1.25,0.75)"><text font-size="4.6" font-weight="bold" text-anchor="middle" fill="#111" letter-spacing="-0.5">00</text></g>
<g transform="translate(336.50,151.90) scale(1.25,0.75)"><text font-size="4.6" font-weight="bold" text-anchor="middle" fill="#111" letter-spacing="-0.5">00</text></g>
<text transform="translate(37.35,156.70) scale(0.950,1)" font-size="7.6" font-weight="bold" fill="#111" >Di</text>
<text transform="translate(55.96,156.70) scale(0.950,1)" font-size="7.6" font-weight="bold" fill="#111" >Wo</text>
<text transform="translate(76.91,156.70) scale(0.950,1)" font-size="7.6" font-weight="bold" fill="#111" >Do</text>
<text transform="translate(98.65,156.70) scale(0.950,1)" font-size="7.6" font-weight="bold" fill="#111" >Vr</text>
<text transform="translate(118.35,156.70) scale(0.950,1)" font-size="7.6" font-weight="bold" fill="#111" >Za</text>
<text transform="translate(138.75,156.70) scale(0.950,1)" font-size="7.6" font-weight="bold" fill="#111" >Zo</text>
<text transform="translate(158.29,156.70) scale(0.950,1)" font-size="7.6" font-weight="bold" fill="#111" >Ma</text>
<text transform="translate(180.43,156.70) scale(0.950,1)" font-size="7.6" font-weight="bold" fill="#111" >Di</text>
<text transform="translate(199.04,156.70) scale(0.950,1)" font-size="7.6" font-weight="bold" fill="#111" >Wo</text>
<text transform="translate(219.99,156.70) scale(0.950,1)" font-size="7.6" font-weight="bold" fill="#111" >Do</text>
<text transform="translate(241.73,156.70) scale(0.950,1)" font-size="7.6" font-weight="bold" fill="#111" >Vr</text>
<text transform="translate(261.43,156.70) scale(0.950,1)" font-size="7.6" font-weight="bold" fill="#111" >Za</text>
<text transform="translate(281.83,156.70) scale(0.950,1)" font-size="7.6" font-weight="bold" fill="#111" >Zo</text>
<text transform="translate(301.37,156.70) scale(0.950,1)" font-size="7.6" font-weight="bold" fill="#111" >Ma</text>
<text transform="translate(323.51,156.70) scale(0.950,1)" font-size="7.6" font-weight="bold" fill="#111" >Di</text>
<text transform="translate(173.93,166.90) scale(1.149,1)" font-size="9.0" font-weight="bold" fill="#111" >Dag</text>
<text transform="translate(291.87,166.70) scale(1.092,1)" font-size="6.0" font-weight="bold" fill="#1e1eff" >Bron: ECMWF/KNMI</text>
<text transform="translate(15.00,90.23) rotate(-90)" font-size="10.4" font-weight="bold" fill="#111">mm</text>
<text transform="translate(286.86,25.40) scale(0.972,1)" font-size="8.2" font-weight="normal" fill="#111" letter-spacing="0.6" stroke="#111" stroke-width="0.2">De Bilt</text>
<text transform="translate(270.16,35.80) scale(0.982,1)" font-size="8.2" font-weight="normal" fill="#111" letter-spacing="0.6" stroke="#111" stroke-width="0.2">Neerslag/6 uur</text>
<line x1="33.0" y1="23.599999999999998" x2="53.4" y2="23.599999999999998" stroke="#5a6aff" stroke-width="1.5" stroke-dasharray="3.4,2"/>
<line x1="33.0" y1="29.299999999999997" x2="53.4" y2="29.299999999999997" stroke="#ff2020" stroke-width="1.3"/>
<line x1="33.0" y1="36.2" x2="53.4" y2="36.2" stroke="#7a2a1a" stroke-width="1.7" stroke-dasharray="1.7,2"/>
<text transform="translate(62.79,26.50) scale(1.048,1)" font-size="6.0" font-weight="normal" fill="#111" letter-spacing="0.6" stroke="#111" stroke-width="0.15">Control</text>
<text transform="translate(67.74,32.00) scale(0.962,1)" font-size="6.0" font-weight="normal" fill="#111" letter-spacing="0.6" stroke="#111" stroke-width="0.15">Oper</text>
<text transform="translate(62.60,38.90) scale(1.037,1)" font-size="6.0" font-weight="normal" fill="#111" letter-spacing="0.6" stroke="#111" stroke-width="0.15">Ens mn</text>
<text transform="translate(435.05,10.90) scale(0.987,1)" font-size="9.5" font-weight="normal" fill="#111" letter-spacing="0.8" stroke="#111" stroke-width="0.25">Dinsdag</text>
<text transform="translate(482.36,10.90) scale(0.934,1)" font-size="9.5" font-weight="normal" fill="#111" letter-spacing="0.8" stroke="#111" stroke-width="0.1">28</text>
<text transform="translate(495.27,10.90) scale(1.003,1)" font-size="9.5" font-weight="normal" fill="#111" letter-spacing="0.8" stroke="#111" stroke-width="0.25">October</text>
<text transform="translate(541.95,10.90) scale(0.944,1)" font-size="9.5" font-weight="normal" fill="#111" letter-spacing="0.8" stroke="#111" stroke-width="0.1">2014</text>
<text transform="translate(570.34,10.90) scale(0.978,1)" font-size="9.5" font-weight="normal" fill="#111" letter-spacing="0.8" stroke="#111" stroke-width="0.1">(starttijd</text>
<text transform="translate(615.28,10.90) scale(1.078,1)" font-size="9.5" font-weight="normal" fill="#111" letter-spacing="0.8" stroke="#111" stroke-width="0.25">Di</text>
<text transform="translate(627.66,10.90) scale(0.888,1)" font-size="9.5" font-weight="normal" fill="#111" letter-spacing="0.8" stroke="#111" stroke-width="0.25">00</text>
<text transform="translate(642.05,10.90) scale(0.917,1)" font-size="9.5" font-weight="normal" fill="#111" letter-spacing="0.8" stroke="#111" stroke-width="0.25">UTC)</text>
<line x1="391.40000000000003" y1="16.4" x2="706.4000000000001" y2="16.4" stroke="#3a3a3a" stroke-width="1"/>
<line x1="391.40000000000003" y1="146.4" x2="706.4000000000001" y2="146.4" stroke="#707070" stroke-width="1"/>
<line x1="395.6" y1="16.4" x2="395.6" y2="146.4" stroke="#111" stroke-width="1.3"/>
<line x1="702.2" y1="16.4" x2="702.2" y2="146.4" stroke="#3a3a3a" stroke-width="1.3"/>
<text transform="translate(385.48,149.20) scale(1.000,1)" font-size="8.0" font-weight="bold" fill="#111" >0</text>
<text transform="translate(707.28,149.20) scale(1.000,1)" font-size="8.0" font-weight="normal" fill="#111" stroke="#111" stroke-width="0.2">0</text>
<line x1="393.8" y1="133.40" x2="395.6" y2="133.40" stroke="#444" stroke-width="0.8"/>
<line x1="702.2" y1="133.40" x2="704.0" y2="133.40" stroke="#444" stroke-width="0.8"/>
<line x1="391.40000000000003" y1="120.40" x2="395.6" y2="120.40" stroke="#222" stroke-width="0.9"/>
<line x1="702.2" y1="120.40" x2="706.4000000000001" y2="120.40" stroke="#222" stroke-width="0.9"/>
<text transform="translate(381.04,123.20) scale(1.000,1)" font-size="8.0" font-weight="bold" fill="#111" >20</text>
<text transform="translate(707.20,123.20) scale(1.000,1)" font-size="8.0" font-weight="normal" fill="#111" stroke="#111" stroke-width="0.2">20</text>
<line x1="393.8" y1="107.40" x2="395.6" y2="107.40" stroke="#444" stroke-width="0.8"/>
<line x1="702.2" y1="107.40" x2="704.0" y2="107.40" stroke="#444" stroke-width="0.8"/>
<line x1="391.40000000000003" y1="94.40" x2="395.6" y2="94.40" stroke="#222" stroke-width="0.9"/>
<line x1="702.2" y1="94.40" x2="706.4000000000001" y2="94.40" stroke="#222" stroke-width="0.9"/>
<text transform="translate(381.04,97.20) scale(1.000,1)" font-size="8.0" font-weight="bold" fill="#111" >40</text>
<text transform="translate(707.40,97.20) scale(1.000,1)" font-size="8.0" font-weight="normal" fill="#111" stroke="#111" stroke-width="0.2">40</text>
<line x1="393.8" y1="81.40" x2="395.6" y2="81.40" stroke="#444" stroke-width="0.8"/>
<line x1="702.2" y1="81.40" x2="704.0" y2="81.40" stroke="#444" stroke-width="0.8"/>
<line x1="391.40000000000003" y1="68.40" x2="395.6" y2="68.40" stroke="#222" stroke-width="0.9"/>
<line x1="702.2" y1="68.40" x2="706.4000000000001" y2="68.40" stroke="#222" stroke-width="0.9"/>
<text transform="translate(381.04,71.20) scale(1.000,1)" font-size="8.0" font-weight="bold" fill="#111" >60</text>
<text transform="translate(707.20,71.20) scale(1.000,1)" font-size="8.0" font-weight="normal" fill="#111" stroke="#111" stroke-width="0.2">60</text>
<line x1="393.8" y1="55.40" x2="395.6" y2="55.40" stroke="#444" stroke-width="0.8"/>
<line x1="702.2" y1="55.40" x2="704.0" y2="55.40" stroke="#444" stroke-width="0.8"/>
<line x1="391.40000000000003" y1="42.40" x2="395.6" y2="42.40" stroke="#222" stroke-width="0.9"/>
<line x1="702.2" y1="42.40" x2="706.4000000000001" y2="42.40" stroke="#222" stroke-width="0.9"/>
<text transform="translate(381.04,45.20) scale(1.000,1)" font-size="8.0" font-weight="bold" fill="#111" >80</text>
<text transform="translate(707.24,45.20) scale(1.000,1)" font-size="8.0" font-weight="normal" fill="#111" stroke="#111" stroke-width="0.2">80</text>
<line x1="393.8" y1="29.40" x2="395.6" y2="29.40" stroke="#444" stroke-width="0.8"/>
<line x1="702.2" y1="29.40" x2="704.0" y2="29.40" stroke="#444" stroke-width="0.8"/>
<text transform="translate(376.60,19.20) scale(1.000,1)" font-size="8.0" font-weight="bold" fill="#111" >100</text>
<text transform="translate(707.00,19.20) scale(1.000,1)" font-size="8.0" font-weight="normal" fill="#111" stroke="#111" stroke-width="0.2">100</text>
<line x1="400.71" y1="146.4" x2="400.71" y2="149.4" stroke="#999" stroke-width="0.9"/>
<line x1="405.82" y1="146.4" x2="405.82" y2="149.4" stroke="#999" stroke-width="0.9"/>
<line x1="410.93" y1="146.4" x2="410.93" y2="149.4" stroke="#999" stroke-width="0.9"/>
<line x1="421.15" y1="146.4" x2="421.15" y2="149.4" stroke="#999" stroke-width="0.9"/>
<line x1="426.26" y1="146.4" x2="426.26" y2="149.4" stroke="#999" stroke-width="0.9"/>
<line x1="431.37" y1="146.4" x2="431.37" y2="149.4" stroke="#999" stroke-width="0.9"/>
<line x1="441.59" y1="146.4" x2="441.59" y2="149.4" stroke="#999" stroke-width="0.9"/>
<line x1="446.70" y1="146.4" x2="446.70" y2="149.4" stroke="#999" stroke-width="0.9"/>
<line x1="451.81" y1="146.4" x2="451.81" y2="149.4" stroke="#999" stroke-width="0.9"/>
<line x1="462.03" y1="146.4" x2="462.03" y2="149.4" stroke="#999" stroke-width="0.9"/>
<line x1="467.14" y1="146.4" x2="467.14" y2="149.4" stroke="#999" stroke-width="0.9"/>
<line x1="472.25" y1="146.4" x2="472.25" y2="149.4" stroke="#999" stroke-width="0.9"/>
<line x1="482.47" y1="146.4" x2="482.47" y2="149.4" stroke="#999" stroke-width="0.9"/>
<line x1="487.58" y1="146.4" x2="487.58" y2="149.4" stroke="#999" stroke-width="0.9"/>
<line x1="492.69" y1="146.4" x2="492.69" y2="149.4" stroke="#999" stroke-width="0.9"/>
<line x1="502.91" y1="146.4" x2="502.91" y2="149.4" stroke="#999" stroke-width="0.9"/>
<line x1="508.02" y1="146.4" x2="508.02" y2="149.4" stroke="#999" stroke-width="0.9"/>
<line x1="513.13" y1="146.4" x2="513.13" y2="149.4" stroke="#999" stroke-width="0.9"/>
<line x1="523.35" y1="146.4" x2="523.35" y2="149.4" stroke="#999" stroke-width="0.9"/>
<line x1="528.46" y1="146.4" x2="528.46" y2="149.4" stroke="#999" stroke-width="0.9"/>
<line x1="533.57" y1="146.4" x2="533.57" y2="149.4" stroke="#999" stroke-width="0.9"/>
<line x1="543.79" y1="146.4" x2="543.79" y2="149.4" stroke="#999" stroke-width="0.9"/>
<line x1="548.90" y1="146.4" x2="548.90" y2="149.4" stroke="#999" stroke-width="0.9"/>
<line x1="554.01" y1="146.4" x2="554.01" y2="149.4" stroke="#999" stroke-width="0.9"/>
<line x1="564.23" y1="146.4" x2="564.23" y2="149.4" stroke="#999" stroke-width="0.9"/>
<line x1="569.34" y1="146.4" x2="569.34" y2="149.4" stroke="#999" stroke-width="0.9"/>
<line x1="574.45" y1="146.4" x2="574.45" y2="149.4" stroke="#999" stroke-width="0.9"/>
<line x1="584.67" y1="146.4" x2="584.67" y2="149.4" stroke="#999" stroke-width="0.9"/>
<line x1="589.78" y1="146.4" x2="589.78" y2="149.4" stroke="#999" stroke-width="0.9"/>
<line x1="594.89" y1="146.4" x2="594.89" y2="149.4" stroke="#999" stroke-width="0.9"/>
<line x1="605.11" y1="146.4" x2="605.11" y2="149.4" stroke="#999" stroke-width="0.9"/>
<line x1="610.22" y1="146.4" x2="610.22" y2="149.4" stroke="#999" stroke-width="0.9"/>
<line x1="615.33" y1="146.4" x2="615.33" y2="149.4" stroke="#999" stroke-width="0.9"/>
<line x1="625.55" y1="146.4" x2="625.55" y2="149.4" stroke="#999" stroke-width="0.9"/>
<line x1="630.66" y1="146.4" x2="630.66" y2="149.4" stroke="#999" stroke-width="0.9"/>
<line x1="635.77" y1="146.4" x2="635.77" y2="149.4" stroke="#999" stroke-width="0.9"/>
<line x1="645.99" y1="146.4" x2="645.99" y2="149.4" stroke="#999" stroke-width="0.9"/>
<line x1="651.10" y1="146.4" x2="651.10" y2="149.4" stroke="#999" stroke-width="0.9"/>
<line x1="656.21" y1="146.4" x2="656.21" y2="149.4" stroke="#999" stroke-width="0.9"/>
<line x1="666.43" y1="146.4" x2="666.43" y2="149.4" stroke="#999" stroke-width="0.9"/>
<line x1="671.54" y1="146.4" x2="671.54" y2="149.4" stroke="#999" stroke-width="0.9"/>
<line x1="676.65" y1="146.4" x2="676.65" y2="149.4" stroke="#999" stroke-width="0.9"/>
<line x1="686.87" y1="146.4" x2="686.87" y2="149.4" stroke="#999" stroke-width="0.9"/>
<line x1="691.98" y1="146.4" x2="691.98" y2="149.4" stroke="#999" stroke-width="0.9"/>
<line x1="697.09" y1="146.4" x2="697.09" y2="149.4" stroke="#999" stroke-width="0.9"/>
<g transform="translate(395.10,151.40) scale(1.25,0.75)"><text font-size="4.6" font-weight="bold" text-anchor="middle" fill="#111" letter-spacing="-0.5">00</text></g>
<g transform="translate(415.54,151.40) scale(1.25,0.75)"><text font-size="4.6" font-weight="bold" text-anchor="middle" fill="#111" letter-spacing="-0.5">00</text></g>
<g transform="translate(435.98,151.40) scale(1.25,0.75)"><text font-size="4.6" font-weight="bold" text-anchor="middle" fill="#111" letter-spacing="-0.5">00</text></g>
<g transform="translate(456.42,151.40) scale(1.25,0.75)"><text font-size="4.6" font-weight="bold" text-anchor="middle" fill="#111" letter-spacing="-0.5">00</text></g>
<g transform="translate(476.86,151.40) scale(1.25,0.75)"><text font-size="4.6" font-weight="bold" text-anchor="middle" fill="#111" letter-spacing="-0.5">00</text></g>
<g transform="translate(497.30,151.40) scale(1.25,0.75)"><text font-size="4.6" font-weight="bold" text-anchor="middle" fill="#111" letter-spacing="-0.5">00</text></g>
<g transform="translate(517.74,151.40) scale(1.25,0.75)"><text font-size="4.6" font-weight="bold" text-anchor="middle" fill="#111" letter-spacing="-0.5">00</text></g>
<g transform="translate(538.18,151.40) scale(1.25,0.75)"><text font-size="4.6" font-weight="bold" text-anchor="middle" fill="#111" letter-spacing="-0.5">00</text></g>
<g transform="translate(558.62,151.40) scale(1.25,0.75)"><text font-size="4.6" font-weight="bold" text-anchor="middle" fill="#111" letter-spacing="-0.5">00</text></g>
<g transform="translate(579.06,151.40) scale(1.25,0.75)"><text font-size="4.6" font-weight="bold" text-anchor="middle" fill="#111" letter-spacing="-0.5">00</text></g>
<g transform="translate(599.50,151.40) scale(1.25,0.75)"><text font-size="4.6" font-weight="bold" text-anchor="middle" fill="#111" letter-spacing="-0.5">00</text></g>
<g transform="translate(619.94,151.40) scale(1.25,0.75)"><text font-size="4.6" font-weight="bold" text-anchor="middle" fill="#111" letter-spacing="-0.5">00</text></g>
<g transform="translate(640.38,151.40) scale(1.25,0.75)"><text font-size="4.6" font-weight="bold" text-anchor="middle" fill="#111" letter-spacing="-0.5">00</text></g>
<g transform="translate(660.82,151.40) scale(1.25,0.75)"><text font-size="4.6" font-weight="bold" text-anchor="middle" fill="#111" letter-spacing="-0.5">00</text></g>
<g transform="translate(681.26,151.40) scale(1.25,0.75)"><text font-size="4.6" font-weight="bold" text-anchor="middle" fill="#111" letter-spacing="-0.5">00</text></g>
<g transform="translate(701.70,151.40) scale(1.25,0.75)"><text font-size="4.6" font-weight="bold" text-anchor="middle" fill="#111" letter-spacing="-0.5">00</text></g>
<text transform="translate(402.55,156.20) scale(0.950,1)" font-size="7.6" font-weight="bold" fill="#111" >Di</text>
<text transform="translate(421.16,156.20) scale(0.950,1)" font-size="7.6" font-weight="bold" fill="#111" >Wo</text>
<text transform="translate(442.11,156.20) scale(0.950,1)" font-size="7.6" font-weight="bold" fill="#111" >Do</text>
<text transform="translate(463.85,156.20) scale(0.950,1)" font-size="7.6" font-weight="bold" fill="#111" >Vr</text>
<text transform="translate(483.55,156.20) scale(0.950,1)" font-size="7.6" font-weight="bold" fill="#111" >Za</text>
<text transform="translate(503.95,156.20) scale(0.950,1)" font-size="7.6" font-weight="bold" fill="#111" >Zo</text>
<text transform="translate(523.49,156.20) scale(0.950,1)" font-size="7.6" font-weight="bold" fill="#111" >Ma</text>
<text transform="translate(545.63,156.20) scale(0.950,1)" font-size="7.6" font-weight="bold" fill="#111" >Di</text>
<text transform="translate(564.24,156.20) scale(0.950,1)" font-size="7.6" font-weight="bold" fill="#111" >Wo</text>
<text transform="translate(585.19,156.20) scale(0.950,1)" font-size="7.6" font-weight="bold" fill="#111" >Do</text>
<text transform="translate(606.93,156.20) scale(0.950,1)" font-size="7.6" font-weight="bold" fill="#111" >Vr</text>
<text transform="translate(626.63,156.20) scale(0.950,1)" font-size="7.6" font-weight="bold" fill="#111" >Za</text>
<text transform="translate(647.03,156.20) scale(0.950,1)" font-size="7.6" font-weight="bold" fill="#111" >Zo</text>
<text transform="translate(666.57,156.20) scale(0.950,1)" font-size="7.6" font-weight="bold" fill="#111" >Ma</text>
<text transform="translate(688.71,156.20) scale(0.950,1)" font-size="7.6" font-weight="bold" fill="#111" >Di</text>
<text transform="translate(539.13,166.40) scale(1.149,1)" font-size="9.0" font-weight="bold" fill="#111" >Dag</text>
<text transform="translate(657.07,166.20) scale(1.092,1)" font-size="6.0" font-weight="bold" fill="#1e1eff" >Bron: ECMWF/KNMI</text>
<text transform="translate(381.00,89.98) rotate(-90)" font-size="10.4" font-weight="bold" fill="#111">mm</text>
<text transform="translate(652.06,25.40) scale(0.972,1)" font-size="8.2" font-weight="normal" fill="#111" letter-spacing="0.6" stroke="#111" stroke-width="0.2">De Bilt</text>
<text transform="translate(631.56,35.80) scale(1.017,1)" font-size="8.2" font-weight="normal" fill="#111" letter-spacing="0.6" stroke="#111" stroke-width="0.2">Accum Neerslag</text>
<line x1="398.20000000000005" y1="23.599999999999998" x2="418.6" y2="23.599999999999998" stroke="#5a6aff" stroke-width="1.5" stroke-dasharray="3.4,2"/>
<line x1="398.20000000000005" y1="29.299999999999997" x2="418.6" y2="29.299999999999997" stroke="#ff2020" stroke-width="1.3"/>
<line x1="398.20000000000005" y1="36.2" x2="418.6" y2="36.2" stroke="#7a2a1a" stroke-width="1.7" stroke-dasharray="1.7,2"/>
<text transform="translate(427.99,26.50) scale(1.048,1)" font-size="6.0" font-weight="normal" fill="#111" letter-spacing="0.6" stroke="#111" stroke-width="0.15">Control</text>
<text transform="translate(432.94,32.00) scale(0.962,1)" font-size="6.0" font-weight="normal" fill="#111" letter-spacing="0.6" stroke="#111" stroke-width="0.15">Oper</text>
<text transform="translate(427.80,38.90) scale(1.037,1)" font-size="6.0" font-weight="normal" fill="#111" letter-spacing="0.6" stroke="#111" stroke-width="0.15">Ens mn</text>
<text transform="translate(68.38,184.70) scale(0.971,1)" font-size="9.3" font-weight="normal" fill="#111" letter-spacing="0.8" stroke="#111" stroke-width="0.25">Dinsdag</text>
<text transform="translate(114.45,184.70) scale(0.962,1)" font-size="9.3" font-weight="normal" fill="#111" letter-spacing="0.8" stroke="#111" stroke-width="0.1">28</text>
<text transform="translate(128.09,184.70) scale(0.970,1)" font-size="9.3" font-weight="normal" fill="#111" letter-spacing="0.8" stroke="#111" stroke-width="0.25">October</text>
<text transform="translate(174.18,184.70) scale(0.908,1)" font-size="9.3" font-weight="normal" fill="#111" letter-spacing="0.8" stroke="#111" stroke-width="0.1">2014</text>
<text transform="translate(201.47,184.70) scale(0.944,1)" font-size="9.3" font-weight="normal" fill="#111" letter-spacing="0.8" stroke="#111" stroke-width="0.1">(starttijd</text>
<text transform="translate(245.72,184.70) scale(0.915,1)" font-size="9.3" font-weight="normal" fill="#111" letter-spacing="0.8" stroke="#111" stroke-width="0.25">Di</text>
<text transform="translate(258.10,184.70) scale(0.800,1)" font-size="9.3" font-weight="normal" fill="#111" letter-spacing="0.8" stroke="#111" stroke-width="0.25">00</text>
<text transform="translate(271.25,184.70) scale(0.935,1)" font-size="9.3" font-weight="normal" fill="#111" letter-spacing="0.8" stroke="#111" stroke-width="0.25">UTC)</text>
<line x1="26.2" y1="189.5" x2="341.2" y2="189.5" stroke="#3a3a3a" stroke-width="1"/>
<line x1="26.2" y1="320.2" x2="341.2" y2="320.2" stroke="#707070" stroke-width="1"/>
<line x1="30.4" y1="189.5" x2="30.4" y2="320.2" stroke="#111" stroke-width="1.3"/>
<line x1="337.0" y1="189.5" x2="337.0" y2="320.2" stroke="#3a3a3a" stroke-width="1.3"/>
<text transform="translate(20.28,323.00) scale(1.000,1)" font-size="8.0" font-weight="bold" fill="#111" >0</text>
<text transform="translate(342.08,323.00) scale(1.000,1)" font-size="8.0" font-weight="normal" fill="#111" stroke="#111" stroke-width="0.2">0</text>
<line x1="28.599999999999998" y1="303.86" x2="30.4" y2="303.86" stroke="#444" stroke-width="0.8"/>
<line x1="337.0" y1="303.86" x2="338.8" y2="303.86" stroke="#444" stroke-width="0.8"/>
<line x1="26.2" y1="287.52" x2="30.4" y2="287.52" stroke="#222" stroke-width="0.9"/>
<line x1="337.0" y1="287.52" x2="341.2" y2="287.52" stroke="#222" stroke-width="0.9"/>
<text transform="translate(20.16,290.32) scale(1.000,1)" font-size="8.0" font-weight="bold" fill="#111" >5</text>
<text transform="translate(342.08,290.32) scale(1.000,1)" font-size="8.0" font-weight="normal" fill="#111" stroke="#111" stroke-width="0.2">5</text>
<line x1="28.599999999999998" y1="271.19" x2="30.4" y2="271.19" stroke="#444" stroke-width="0.8"/>
<line x1="337.0" y1="271.19" x2="338.8" y2="271.19" stroke="#444" stroke-width="0.8"/>
<line x1="26.2" y1="254.85" x2="30.4" y2="254.85" stroke="#222" stroke-width="0.9"/>
<line x1="337.0" y1="254.85" x2="341.2" y2="254.85" stroke="#222" stroke-width="0.9"/>
<text transform="translate(15.84,257.65) scale(1.000,1)" font-size="8.0" font-weight="bold" fill="#111" >10</text>
<text transform="translate(341.80,257.65) scale(1.000,1)" font-size="8.0" font-weight="normal" fill="#111" stroke="#111" stroke-width="0.2">10</text>
<line x1="28.599999999999998" y1="238.51" x2="30.4" y2="238.51" stroke="#444" stroke-width="0.8"/>
<line x1="337.0" y1="238.51" x2="338.8" y2="238.51" stroke="#444" stroke-width="0.8"/>
<line x1="26.2" y1="222.18" x2="30.4" y2="222.18" stroke="#222" stroke-width="0.9"/>
<line x1="337.0" y1="222.18" x2="341.2" y2="222.18" stroke="#222" stroke-width="0.9"/>
<text transform="translate(15.72,224.98) scale(1.000,1)" font-size="8.0" font-weight="bold" fill="#111" >15</text>
<text transform="translate(341.80,224.98) scale(1.000,1)" font-size="8.0" font-weight="normal" fill="#111" stroke="#111" stroke-width="0.2">15</text>
<line x1="28.599999999999998" y1="205.84" x2="30.4" y2="205.84" stroke="#444" stroke-width="0.8"/>
<line x1="337.0" y1="205.84" x2="338.8" y2="205.84" stroke="#444" stroke-width="0.8"/>
<text transform="translate(15.84,192.30) scale(1.000,1)" font-size="8.0" font-weight="bold" fill="#111" >20</text>
<text transform="translate(342.00,192.30) scale(1.000,1)" font-size="8.0" font-weight="normal" fill="#111" stroke="#111" stroke-width="0.2">20</text>
<line x1="35.51" y1="320.2" x2="35.51" y2="323.2" stroke="#999" stroke-width="0.9"/>
<line x1="40.62" y1="320.2" x2="40.62" y2="323.2" stroke="#999" stroke-width="0.9"/>
<line x1="45.73" y1="320.2" x2="45.73" y2="323.2" stroke="#999" stroke-width="0.9"/>
<line x1="55.95" y1="320.2" x2="55.95" y2="323.2" stroke="#999" stroke-width="0.9"/>
<line x1="61.06" y1="320.2" x2="61.06" y2="323.2" stroke="#999" stroke-width="0.9"/>
<line x1="66.17" y1="320.2" x2="66.17" y2="323.2" stroke="#999" stroke-width="0.9"/>
<line x1="76.39" y1="320.2" x2="76.39" y2="323.2" stroke="#999" stroke-width="0.9"/>
<line x1="81.50" y1="320.2" x2="81.50" y2="323.2" stroke="#999" stroke-width="0.9"/>
<line x1="86.61" y1="320.2" x2="86.61" y2="323.2" stroke="#999" stroke-width="0.9"/>
<line x1="96.83" y1="320.2" x2="96.83" y2="323.2" stroke="#999" stroke-width="0.9"/>
<line x1="101.94" y1="320.2" x2="101.94" y2="323.2" stroke="#999" stroke-width="0.9"/>
<line x1="107.05" y1="320.2" x2="107.05" y2="323.2" stroke="#999" stroke-width="0.9"/>
<line x1="117.27" y1="320.2" x2="117.27" y2="323.2" stroke="#999" stroke-width="0.9"/>
<line x1="122.38" y1="320.2" x2="122.38" y2="323.2" stroke="#999" stroke-width="0.9"/>
<line x1="127.49" y1="320.2" x2="127.49" y2="323.2" stroke="#999" stroke-width="0.9"/>
<line x1="137.71" y1="320.2" x2="137.71" y2="323.2" stroke="#999" stroke-width="0.9"/>
<line x1="142.82" y1="320.2" x2="142.82" y2="323.2" stroke="#999" stroke-width="0.9"/>
<line x1="147.93" y1="320.2" x2="147.93" y2="323.2" stroke="#999" stroke-width="0.9"/>
<line x1="158.15" y1="320.2" x2="158.15" y2="323.2" stroke="#999" stroke-width="0.9"/>
<line x1="163.26" y1="320.2" x2="163.26" y2="323.2" stroke="#999" stroke-width="0.9"/>
<line x1="168.37" y1="320.2" x2="168.37" y2="323.2" stroke="#999" stroke-width="0.9"/>
<line x1="178.59" y1="320.2" x2="178.59" y2="323.2" stroke="#999" stroke-width="0.9"/>
<line x1="183.70" y1="320.2" x2="183.70" y2="323.2" stroke="#999" stroke-width="0.9"/>
<line x1="188.81" y1="320.2" x2="188.81" y2="323.2" stroke="#999" stroke-width="0.9"/>
<line x1="199.03" y1="320.2" x2="199.03" y2="323.2" stroke="#999" stroke-width="0.9"/>
<line x1="204.14" y1="320.2" x2="204.14" y2="323.2" stroke="#999" stroke-width="0.9"/>
<line x1="209.25" y1="320.2" x2="209.25" y2="323.2" stroke="#999" stroke-width="0.9"/>
<line x1="219.47" y1="320.2" x2="219.47" y2="323.2" stroke="#999" stroke-width="0.9"/>
<line x1="224.58" y1="320.2" x2="224.58" y2="323.2" stroke="#999" stroke-width="0.9"/>
<line x1="229.69" y1="320.2" x2="229.69" y2="323.2" stroke="#999" stroke-width="0.9"/>
<line x1="239.91" y1="320.2" x2="239.91" y2="323.2" stroke="#999" stroke-width="0.9"/>
<line x1="245.02" y1="320.2" x2="245.02" y2="323.2" stroke="#999" stroke-width="0.9"/>
<line x1="250.13" y1="320.2" x2="250.13" y2="323.2" stroke="#999" stroke-width="0.9"/>
<line x1="260.35" y1="320.2" x2="260.35" y2="323.2" stroke="#999" stroke-width="0.9"/>
<line x1="265.46" y1="320.2" x2="265.46" y2="323.2" stroke="#999" stroke-width="0.9"/>
<line x1="270.57" y1="320.2" x2="270.57" y2="323.2" stroke="#999" stroke-width="0.9"/>
<line x1="280.79" y1="320.2" x2="280.79" y2="323.2" stroke="#999" stroke-width="0.9"/>
<line x1="285.90" y1="320.2" x2="285.90" y2="323.2" stroke="#999" stroke-width="0.9"/>
<line x1="291.01" y1="320.2" x2="291.01" y2="323.2" stroke="#999" stroke-width="0.9"/>
<line x1="301.23" y1="320.2" x2="301.23" y2="323.2" stroke="#999" stroke-width="0.9"/>
<line x1="306.34" y1="320.2" x2="306.34" y2="323.2" stroke="#999" stroke-width="0.9"/>
<line x1="311.45" y1="320.2" x2="311.45" y2="323.2" stroke="#999" stroke-width="0.9"/>
<line x1="321.67" y1="320.2" x2="321.67" y2="323.2" stroke="#999" stroke-width="0.9"/>
<line x1="326.78" y1="320.2" x2="326.78" y2="323.2" stroke="#999" stroke-width="0.9"/>
<line x1="331.89" y1="320.2" x2="331.89" y2="323.2" stroke="#999" stroke-width="0.9"/>
<g transform="translate(29.90,325.20) scale(1.25,0.75)"><text font-size="4.6" font-weight="bold" text-anchor="middle" fill="#111" letter-spacing="-0.5">00</text></g>
<g transform="translate(50.34,325.20) scale(1.25,0.75)"><text font-size="4.6" font-weight="bold" text-anchor="middle" fill="#111" letter-spacing="-0.5">00</text></g>
<g transform="translate(70.78,325.20) scale(1.25,0.75)"><text font-size="4.6" font-weight="bold" text-anchor="middle" fill="#111" letter-spacing="-0.5">00</text></g>
<g transform="translate(91.22,325.20) scale(1.25,0.75)"><text font-size="4.6" font-weight="bold" text-anchor="middle" fill="#111" letter-spacing="-0.5">00</text></g>
<g transform="translate(111.66,325.20) scale(1.25,0.75)"><text font-size="4.6" font-weight="bold" text-anchor="middle" fill="#111" letter-spacing="-0.5">00</text></g>
<g transform="translate(132.10,325.20) scale(1.25,0.75)"><text font-size="4.6" font-weight="bold" text-anchor="middle" fill="#111" letter-spacing="-0.5">00</text></g>
<g transform="translate(152.54,325.20) scale(1.25,0.75)"><text font-size="4.6" font-weight="bold" text-anchor="middle" fill="#111" letter-spacing="-0.5">00</text></g>
<g transform="translate(172.98,325.20) scale(1.25,0.75)"><text font-size="4.6" font-weight="bold" text-anchor="middle" fill="#111" letter-spacing="-0.5">00</text></g>
<g transform="translate(193.42,325.20) scale(1.25,0.75)"><text font-size="4.6" font-weight="bold" text-anchor="middle" fill="#111" letter-spacing="-0.5">00</text></g>
<g transform="translate(213.86,325.20) scale(1.25,0.75)"><text font-size="4.6" font-weight="bold" text-anchor="middle" fill="#111" letter-spacing="-0.5">00</text></g>
<g transform="translate(234.30,325.20) scale(1.25,0.75)"><text font-size="4.6" font-weight="bold" text-anchor="middle" fill="#111" letter-spacing="-0.5">00</text></g>
<g transform="translate(254.74,325.20) scale(1.25,0.75)"><text font-size="4.6" font-weight="bold" text-anchor="middle" fill="#111" letter-spacing="-0.5">00</text></g>
<g transform="translate(275.18,325.20) scale(1.25,0.75)"><text font-size="4.6" font-weight="bold" text-anchor="middle" fill="#111" letter-spacing="-0.5">00</text></g>
<g transform="translate(295.62,325.20) scale(1.25,0.75)"><text font-size="4.6" font-weight="bold" text-anchor="middle" fill="#111" letter-spacing="-0.5">00</text></g>
<g transform="translate(316.06,325.20) scale(1.25,0.75)"><text font-size="4.6" font-weight="bold" text-anchor="middle" fill="#111" letter-spacing="-0.5">00</text></g>
<g transform="translate(336.50,325.20) scale(1.25,0.75)"><text font-size="4.6" font-weight="bold" text-anchor="middle" fill="#111" letter-spacing="-0.5">00</text></g>
<text transform="translate(37.35,330.00) scale(0.950,1)" font-size="7.6" font-weight="bold" fill="#111" >Di</text>
<text transform="translate(55.96,330.00) scale(0.950,1)" font-size="7.6" font-weight="bold" fill="#111" >Wo</text>
<text transform="translate(76.91,330.00) scale(0.950,1)" font-size="7.6" font-weight="bold" fill="#111" >Do</text>
<text transform="translate(98.65,330.00) scale(0.950,1)" font-size="7.6" font-weight="bold" fill="#111" >Vr</text>
<text transform="translate(118.35,330.00) scale(0.950,1)" font-size="7.6" font-weight="bold" fill="#111" >Za</text>
<text transform="translate(138.75,330.00) scale(0.950,1)" font-size="7.6" font-weight="bold" fill="#111" >Zo</text>
<text transform="translate(158.29,330.00) scale(0.950,1)" font-size="7.6" font-weight="bold" fill="#111" >Ma</text>
<text transform="translate(180.43,330.00) scale(0.950,1)" font-size="7.6" font-weight="bold" fill="#111" >Di</text>
<text transform="translate(199.04,330.00) scale(0.950,1)" font-size="7.6" font-weight="bold" fill="#111" >Wo</text>
<text transform="translate(219.99,330.00) scale(0.950,1)" font-size="7.6" font-weight="bold" fill="#111" >Do</text>
<text transform="translate(241.73,330.00) scale(0.950,1)" font-size="7.6" font-weight="bold" fill="#111" >Vr</text>
<text transform="translate(261.43,330.00) scale(0.950,1)" font-size="7.6" font-weight="bold" fill="#111" >Za</text>
<text transform="translate(281.83,330.00) scale(0.950,1)" font-size="7.6" font-weight="bold" fill="#111" >Zo</text>
<text transform="translate(301.37,330.00) scale(0.950,1)" font-size="7.6" font-weight="bold" fill="#111" >Ma</text>
<text transform="translate(323.51,330.00) scale(0.950,1)" font-size="7.6" font-weight="bold" fill="#111" >Di</text>
<text transform="translate(173.93,340.20) scale(1.149,1)" font-size="9.0" font-weight="bold" fill="#111" >Dag</text>
<text transform="translate(291.87,340.00) scale(1.092,1)" font-size="6.0" font-weight="bold" fill="#1e1eff" >Bron: ECMWF/KNMI</text>
<text transform="translate(15.00,263.25) rotate(-90)" font-size="10.4" font-weight="bold" fill="#111">m/s</text>
<text transform="translate(286.86,198.50) scale(0.972,1)" font-size="8.2" font-weight="normal" fill="#111" letter-spacing="0.6" stroke="#111" stroke-width="0.2">De Bilt</text>
<text transform="translate(280.18,208.90) scale(1.004,1)" font-size="8.2" font-weight="normal" fill="#111" letter-spacing="0.6" stroke="#111" stroke-width="0.2">10m wind</text>
<line x1="33.0" y1="196.7" x2="53.4" y2="196.7" stroke="#5a6aff" stroke-width="1.5" stroke-dasharray="3.4,2"/>
<line x1="33.0" y1="202.4" x2="53.4" y2="202.4" stroke="#ff2020" stroke-width="1.3"/>
<line x1="33.0" y1="209.3" x2="53.4" y2="209.3" stroke="#7a2a1a" stroke-width="1.7" stroke-dasharray="1.7,2"/>
<text transform="translate(62.79,199.60) scale(1.048,1)" font-size="6.0" font-weight="normal" fill="#111" letter-spacing="0.6" stroke="#111" stroke-width="0.15">Control</text>
<text transform="translate(67.74,205.10) scale(0.962,1)" font-size="6.0" font-weight="normal" fill="#111" letter-spacing="0.6" stroke="#111" stroke-width="0.15">Oper</text>
<text transform="translate(62.60,212.00) scale(1.037,1)" font-size="6.0" font-weight="normal" fill="#111" letter-spacing="0.6" stroke="#111" stroke-width="0.15">Ens mn</text>
<text transform="translate(434.38,184.70) scale(0.971,1)" font-size="9.3" font-weight="normal" fill="#111" letter-spacing="0.8" stroke="#111" stroke-width="0.25">Dinsdag</text>
<text transform="translate(480.45,184.70) scale(0.962,1)" font-size="9.3" font-weight="normal" fill="#111" letter-spacing="0.8" stroke="#111" stroke-width="0.1">28</text>
<text transform="translate(494.09,184.70) scale(0.970,1)" font-size="9.3" font-weight="normal" fill="#111" letter-spacing="0.8" stroke="#111" stroke-width="0.25">October</text>
<text transform="translate(540.18,184.70) scale(0.908,1)" font-size="9.3" font-weight="normal" fill="#111" letter-spacing="0.8" stroke="#111" stroke-width="0.1">2014</text>
<text transform="translate(567.47,184.70) scale(0.944,1)" font-size="9.3" font-weight="normal" fill="#111" letter-spacing="0.8" stroke="#111" stroke-width="0.1">(starttijd</text>
<text transform="translate(611.72,184.70) scale(0.915,1)" font-size="9.3" font-weight="normal" fill="#111" letter-spacing="0.8" stroke="#111" stroke-width="0.25">Di</text>
<text transform="translate(624.10,184.70) scale(0.800,1)" font-size="9.3" font-weight="normal" fill="#111" letter-spacing="0.8" stroke="#111" stroke-width="0.25">00</text>
<text transform="translate(637.25,184.70) scale(0.935,1)" font-size="9.3" font-weight="normal" fill="#111" letter-spacing="0.8" stroke="#111" stroke-width="0.25">UTC)</text>
<line x1="391.3" y1="189.5" x2="706.4000000000001" y2="189.5" stroke="#3a3a3a" stroke-width="1"/>
<line x1="391.3" y1="320.5" x2="706.4000000000001" y2="320.5" stroke="#707070" stroke-width="1"/>
<line x1="395.5" y1="189.5" x2="395.5" y2="320.5" stroke="#111" stroke-width="1.3"/>
<line x1="702.2" y1="189.5" x2="702.2" y2="320.5" stroke="#3a3a3a" stroke-width="1.3"/>
<text transform="translate(385.38,323.30) scale(1.000,1)" font-size="8.0" font-weight="bold" fill="#111" >0</text>
<text transform="translate(707.28,323.30) scale(1.000,1)" font-size="8.0" font-weight="normal" fill="#111" stroke="#111" stroke-width="0.2">0</text>
<line x1="393.7" y1="311.14" x2="395.5" y2="311.14" stroke="#444" stroke-width="0.8"/>
<line x1="702.2" y1="311.14" x2="704.0" y2="311.14" stroke="#444" stroke-width="0.8"/>
<line x1="391.3" y1="301.79" x2="395.5" y2="301.79" stroke="#222" stroke-width="0.9"/>
<line x1="702.2" y1="301.79" x2="706.4000000000001" y2="301.79" stroke="#222" stroke-width="0.9"/>
<text transform="translate(385.26,304.59) scale(1.000,1)" font-size="8.0" font-weight="bold" fill="#111" >5</text>
<text transform="translate(707.28,304.59) scale(1.000,1)" font-size="8.0" font-weight="normal" fill="#111" stroke="#111" stroke-width="0.2">5</text>
<line x1="393.7" y1="292.43" x2="395.5" y2="292.43" stroke="#444" stroke-width="0.8"/>
<line x1="702.2" y1="292.43" x2="704.0" y2="292.43" stroke="#444" stroke-width="0.8"/>
<line x1="391.3" y1="283.07" x2="395.5" y2="283.07" stroke="#222" stroke-width="0.9"/>
<line x1="702.2" y1="283.07" x2="706.4000000000001" y2="283.07" stroke="#222" stroke-width="0.9"/>
<text transform="translate(380.94,285.87) scale(1.000,1)" font-size="8.0" font-weight="bold" fill="#111" >10</text>
<text transform="translate(707.00,285.87) scale(1.000,1)" font-size="8.0" font-weight="normal" fill="#111" stroke="#111" stroke-width="0.2">10</text>
<line x1="393.7" y1="273.71" x2="395.5" y2="273.71" stroke="#444" stroke-width="0.8"/>
<line x1="702.2" y1="273.71" x2="704.0" y2="273.71" stroke="#444" stroke-width="0.8"/>
<line x1="391.3" y1="264.36" x2="395.5" y2="264.36" stroke="#222" stroke-width="0.9"/>
<line x1="702.2" y1="264.36" x2="706.4000000000001" y2="264.36" stroke="#222" stroke-width="0.9"/>
<text transform="translate(380.82,267.16) scale(1.000,1)" font-size="8.0" font-weight="bold" fill="#111" >15</text>
<text transform="translate(707.00,267.16) scale(1.000,1)" font-size="8.0" font-weight="normal" fill="#111" stroke="#111" stroke-width="0.2">15</text>
<line x1="393.7" y1="255.00" x2="395.5" y2="255.00" stroke="#444" stroke-width="0.8"/>
<line x1="702.2" y1="255.00" x2="704.0" y2="255.00" stroke="#444" stroke-width="0.8"/>
<line x1="391.3" y1="245.64" x2="395.5" y2="245.64" stroke="#222" stroke-width="0.9"/>
<line x1="702.2" y1="245.64" x2="706.4000000000001" y2="245.64" stroke="#222" stroke-width="0.9"/>
<text transform="translate(380.94,248.44) scale(1.000,1)" font-size="8.0" font-weight="bold" fill="#111" >20</text>
<text transform="translate(707.20,248.44) scale(1.000,1)" font-size="8.0" font-weight="normal" fill="#111" stroke="#111" stroke-width="0.2">20</text>
<line x1="393.7" y1="236.29" x2="395.5" y2="236.29" stroke="#444" stroke-width="0.8"/>
<line x1="702.2" y1="236.29" x2="704.0" y2="236.29" stroke="#444" stroke-width="0.8"/>
<line x1="391.3" y1="226.93" x2="395.5" y2="226.93" stroke="#222" stroke-width="0.9"/>
<line x1="702.2" y1="226.93" x2="706.4000000000001" y2="226.93" stroke="#222" stroke-width="0.9"/>
<text transform="translate(380.82,229.73) scale(1.000,1)" font-size="8.0" font-weight="bold" fill="#111" >25</text>
<text transform="translate(707.20,229.73) scale(1.000,1)" font-size="8.0" font-weight="normal" fill="#111" stroke="#111" stroke-width="0.2">25</text>
<line x1="393.7" y1="217.57" x2="395.5" y2="217.57" stroke="#444" stroke-width="0.8"/>
<line x1="702.2" y1="217.57" x2="704.0" y2="217.57" stroke="#444" stroke-width="0.8"/>
<line x1="391.3" y1="208.21" x2="395.5" y2="208.21" stroke="#222" stroke-width="0.9"/>
<line x1="702.2" y1="208.21" x2="706.4000000000001" y2="208.21" stroke="#222" stroke-width="0.9"/>
<text transform="translate(380.94,211.01) scale(1.000,1)" font-size="8.0" font-weight="bold" fill="#111" >30</text>
<text transform="translate(707.28,211.01) scale(1.000,1)" font-size="8.0" font-weight="normal" fill="#111" stroke="#111" stroke-width="0.2">30</text>
<line x1="393.7" y1="198.86" x2="395.5" y2="198.86" stroke="#444" stroke-width="0.8"/>
<line x1="702.2" y1="198.86" x2="704.0" y2="198.86" stroke="#444" stroke-width="0.8"/>
<text transform="translate(380.82,192.30) scale(1.000,1)" font-size="8.0" font-weight="bold" fill="#111" >35</text>
<text transform="translate(707.28,192.30) scale(1.000,1)" font-size="8.0" font-weight="normal" fill="#111" stroke="#111" stroke-width="0.2">35</text>
<line x1="400.61" y1="320.5" x2="400.61" y2="323.5" stroke="#999" stroke-width="0.9"/>
<line x1="405.72" y1="320.5" x2="405.72" y2="323.5" stroke="#999" stroke-width="0.9"/>
<line x1="410.83" y1="320.5" x2="410.83" y2="323.5" stroke="#999" stroke-width="0.9"/>
<line x1="421.06" y1="320.5" x2="421.06" y2="323.5" stroke="#999" stroke-width="0.9"/>
<line x1="426.17" y1="320.5" x2="426.17" y2="323.5" stroke="#999" stroke-width="0.9"/>
<line x1="431.28" y1="320.5" x2="431.28" y2="323.5" stroke="#999" stroke-width="0.9"/>
<line x1="441.50" y1="320.5" x2="441.50" y2="323.5" stroke="#999" stroke-width="0.9"/>
<line x1="446.62" y1="320.5" x2="446.62" y2="323.5" stroke="#999" stroke-width="0.9"/>
<line x1="451.73" y1="320.5" x2="451.73" y2="323.5" stroke="#999" stroke-width="0.9"/>
<line x1="461.95" y1="320.5" x2="461.95" y2="323.5" stroke="#999" stroke-width="0.9"/>
<line x1="467.06" y1="320.5" x2="467.06" y2="323.5" stroke="#999" stroke-width="0.9"/>
<line x1="472.18" y1="320.5" x2="472.18" y2="323.5" stroke="#999" stroke-width="0.9"/>
<line x1="482.40" y1="320.5" x2="482.40" y2="323.5" stroke="#999" stroke-width="0.9"/>
<line x1="487.51" y1="320.5" x2="487.51" y2="323.5" stroke="#999" stroke-width="0.9"/>
<line x1="492.62" y1="320.5" x2="492.62" y2="323.5" stroke="#999" stroke-width="0.9"/>
<line x1="502.85" y1="320.5" x2="502.85" y2="323.5" stroke="#999" stroke-width="0.9"/>
<line x1="507.96" y1="320.5" x2="507.96" y2="323.5" stroke="#999" stroke-width="0.9"/>
<line x1="513.07" y1="320.5" x2="513.07" y2="323.5" stroke="#999" stroke-width="0.9"/>
<line x1="523.29" y1="320.5" x2="523.29" y2="323.5" stroke="#999" stroke-width="0.9"/>
<line x1="528.40" y1="320.5" x2="528.40" y2="323.5" stroke="#999" stroke-width="0.9"/>
<line x1="533.51" y1="320.5" x2="533.51" y2="323.5" stroke="#999" stroke-width="0.9"/>
<line x1="543.74" y1="320.5" x2="543.74" y2="323.5" stroke="#999" stroke-width="0.9"/>
<line x1="548.85" y1="320.5" x2="548.85" y2="323.5" stroke="#999" stroke-width="0.9"/>
<line x1="553.96" y1="320.5" x2="553.96" y2="323.5" stroke="#999" stroke-width="0.9"/>
<line x1="564.19" y1="320.5" x2="564.19" y2="323.5" stroke="#999" stroke-width="0.9"/>
<line x1="569.30" y1="320.5" x2="569.30" y2="323.5" stroke="#999" stroke-width="0.9"/>
<line x1="574.41" y1="320.5" x2="574.41" y2="323.5" stroke="#999" stroke-width="0.9"/>
<line x1="584.63" y1="320.5" x2="584.63" y2="323.5" stroke="#999" stroke-width="0.9"/>
<line x1="589.74" y1="320.5" x2="589.74" y2="323.5" stroke="#999" stroke-width="0.9"/>
<line x1="594.86" y1="320.5" x2="594.86" y2="323.5" stroke="#999" stroke-width="0.9"/>
<line x1="605.08" y1="320.5" x2="605.08" y2="323.5" stroke="#999" stroke-width="0.9"/>
<line x1="610.19" y1="320.5" x2="610.19" y2="323.5" stroke="#999" stroke-width="0.9"/>
<line x1="615.30" y1="320.5" x2="615.30" y2="323.5" stroke="#999" stroke-width="0.9"/>
<line x1="625.53" y1="320.5" x2="625.53" y2="323.5" stroke="#999" stroke-width="0.9"/>
<line x1="630.64" y1="320.5" x2="630.64" y2="323.5" stroke="#999" stroke-width="0.9"/>
<line x1="635.75" y1="320.5" x2="635.75" y2="323.5" stroke="#999" stroke-width="0.9"/>
<line x1="645.97" y1="320.5" x2="645.97" y2="323.5" stroke="#999" stroke-width="0.9"/>
<line x1="651.08" y1="320.5" x2="651.08" y2="323.5" stroke="#999" stroke-width="0.9"/>
<line x1="656.20" y1="320.5" x2="656.20" y2="323.5" stroke="#999" stroke-width="0.9"/>
<line x1="666.42" y1="320.5" x2="666.42" y2="323.5" stroke="#999" stroke-width="0.9"/>
<line x1="671.53" y1="320.5" x2="671.53" y2="323.5" stroke="#999" stroke-width="0.9"/>
<line x1="676.64" y1="320.5" x2="676.64" y2="323.5" stroke="#999" stroke-width="0.9"/>
<line x1="686.87" y1="320.5" x2="686.87" y2="323.5" stroke="#999" stroke-width="0.9"/>
<line x1="691.98" y1="320.5" x2="691.98" y2="323.5" stroke="#999" stroke-width="0.9"/>
<line x1="697.09" y1="320.5" x2="697.09" y2="323.5" stroke="#999" stroke-width="0.9"/>
<g transform="translate(395.00,325.50) scale(1.25,0.75)"><text font-size="4.6" font-weight="bold" text-anchor="middle" fill="#111" letter-spacing="-0.5">00</text></g>
<g transform="translate(415.45,325.50) scale(1.25,0.75)"><text font-size="4.6" font-weight="bold" text-anchor="middle" fill="#111" letter-spacing="-0.5">00</text></g>
<g transform="translate(435.89,325.50) scale(1.25,0.75)"><text font-size="4.6" font-weight="bold" text-anchor="middle" fill="#111" letter-spacing="-0.5">00</text></g>
<g transform="translate(456.34,325.50) scale(1.25,0.75)"><text font-size="4.6" font-weight="bold" text-anchor="middle" fill="#111" letter-spacing="-0.5">00</text></g>
<g transform="translate(476.79,325.50) scale(1.25,0.75)"><text font-size="4.6" font-weight="bold" text-anchor="middle" fill="#111" letter-spacing="-0.5">00</text></g>
<g transform="translate(497.23,325.50) scale(1.25,0.75)"><text font-size="4.6" font-weight="bold" text-anchor="middle" fill="#111" letter-spacing="-0.5">00</text></g>
<g transform="translate(517.68,325.50) scale(1.25,0.75)"><text font-size="4.6" font-weight="bold" text-anchor="middle" fill="#111" letter-spacing="-0.5">00</text></g>
<g transform="translate(538.13,325.50) scale(1.25,0.75)"><text font-size="4.6" font-weight="bold" text-anchor="middle" fill="#111" letter-spacing="-0.5">00</text></g>
<g transform="translate(558.57,325.50) scale(1.25,0.75)"><text font-size="4.6" font-weight="bold" text-anchor="middle" fill="#111" letter-spacing="-0.5">00</text></g>
<g transform="translate(579.02,325.50) scale(1.25,0.75)"><text font-size="4.6" font-weight="bold" text-anchor="middle" fill="#111" letter-spacing="-0.5">00</text></g>
<g transform="translate(599.47,325.50) scale(1.25,0.75)"><text font-size="4.6" font-weight="bold" text-anchor="middle" fill="#111" letter-spacing="-0.5">00</text></g>
<g transform="translate(619.91,325.50) scale(1.25,0.75)"><text font-size="4.6" font-weight="bold" text-anchor="middle" fill="#111" letter-spacing="-0.5">00</text></g>
<g transform="translate(640.36,325.50) scale(1.25,0.75)"><text font-size="4.6" font-weight="bold" text-anchor="middle" fill="#111" letter-spacing="-0.5">00</text></g>
<g transform="translate(660.81,325.50) scale(1.25,0.75)"><text font-size="4.6" font-weight="bold" text-anchor="middle" fill="#111" letter-spacing="-0.5">00</text></g>
<g transform="translate(681.25,325.50) scale(1.25,0.75)"><text font-size="4.6" font-weight="bold" text-anchor="middle" fill="#111" letter-spacing="-0.5">00</text></g>
<g transform="translate(701.70,325.50) scale(1.25,0.75)"><text font-size="4.6" font-weight="bold" text-anchor="middle" fill="#111" letter-spacing="-0.5">00</text></g>
<text transform="translate(402.45,330.30) scale(0.950,1)" font-size="7.6" font-weight="bold" fill="#111" >Di</text>
<text transform="translate(421.07,330.30) scale(0.950,1)" font-size="7.6" font-weight="bold" fill="#111" >Wo</text>
<text transform="translate(442.03,330.30) scale(0.950,1)" font-size="7.6" font-weight="bold" fill="#111" >Do</text>
<text transform="translate(463.77,330.30) scale(0.950,1)" font-size="7.6" font-weight="bold" fill="#111" >Vr</text>
<text transform="translate(483.48,330.30) scale(0.950,1)" font-size="7.6" font-weight="bold" fill="#111" >Za</text>
<text transform="translate(503.89,330.30) scale(0.950,1)" font-size="7.6" font-weight="bold" fill="#111" >Zo</text>
<text transform="translate(523.43,330.30) scale(0.950,1)" font-size="7.6" font-weight="bold" fill="#111" >Ma</text>
<text transform="translate(545.58,330.30) scale(0.950,1)" font-size="7.6" font-weight="bold" fill="#111" >Di</text>
<text transform="translate(564.20,330.30) scale(0.950,1)" font-size="7.6" font-weight="bold" fill="#111" >Wo</text>
<text transform="translate(585.15,330.30) scale(0.950,1)" font-size="7.6" font-weight="bold" fill="#111" >Do</text>
<text transform="translate(606.90,330.30) scale(0.950,1)" font-size="7.6" font-weight="bold" fill="#111" >Vr</text>
<text transform="translate(626.60,330.30) scale(0.950,1)" font-size="7.6" font-weight="bold" fill="#111" >Za</text>
<text transform="translate(647.02,330.30) scale(0.950,1)" font-size="7.6" font-weight="bold" fill="#111" >Zo</text>
<text transform="translate(666.56,330.30) scale(0.950,1)" font-size="7.6" font-weight="bold" fill="#111" >Ma</text>
<text transform="translate(688.70,330.30) scale(0.950,1)" font-size="7.6" font-weight="bold" fill="#111" >Di</text>
<text transform="translate(539.08,340.50) scale(1.149,1)" font-size="9.0" font-weight="bold" fill="#111" >Dag</text>
<text transform="translate(657.07,340.30) scale(1.092,1)" font-size="6.0" font-weight="bold" fill="#1e1eff" >Bron: ECMWF/KNMI</text>
<text transform="translate(381.00,263.40) rotate(-90)" font-size="10.4" font-weight="bold" fill="#111">m/s</text>
<text transform="translate(652.06,198.50) scale(0.972,1)" font-size="8.2" font-weight="normal" fill="#111" letter-spacing="0.6" stroke="#111" stroke-width="0.2">De Bilt</text>
<text transform="translate(642.46,208.90) scale(0.997,1)" font-size="8.2" font-weight="normal" fill="#111" letter-spacing="0.6" stroke="#111" stroke-width="0.2">Windstoten</text>
<line x1="398.1" y1="196.7" x2="418.5" y2="196.7" stroke="#5a6aff" stroke-width="1.5" stroke-dasharray="3.4,2"/>
<line x1="398.1" y1="202.4" x2="418.5" y2="202.4" stroke="#ff2020" stroke-width="1.3"/>
<line x1="398.1" y1="209.3" x2="418.5" y2="209.3" stroke="#7a2a1a" stroke-width="1.7" stroke-dasharray="1.7,2"/>
<text transform="translate(427.89,199.60) scale(1.048,1)" font-size="6.0" font-weight="normal" fill="#111" letter-spacing="0.6" stroke="#111" stroke-width="0.15">Control</text>
<text transform="translate(432.84,205.10) scale(0.962,1)" font-size="6.0" font-weight="normal" fill="#111" letter-spacing="0.6" stroke="#111" stroke-width="0.15">Oper</text>
<text transform="translate(427.70,212.00) scale(1.037,1)" font-size="6.0" font-weight="normal" fill="#111" letter-spacing="0.6" stroke="#111" stroke-width="0.15">Ens mn</text>
<text transform="translate(68.38,357.30) scale(0.971,1)" font-size="9.3" font-weight="normal" fill="#111" letter-spacing="0.8" stroke="#111" stroke-width="0.25">Dinsdag</text>
<text transform="translate(114.45,357.30) scale(0.962,1)" font-size="9.3" font-weight="normal" fill="#111" letter-spacing="0.8" stroke="#111" stroke-width="0.1">28</text>
<text transform="translate(128.09,357.30) scale(0.970,1)" font-size="9.3" font-weight="normal" fill="#111" letter-spacing="0.8" stroke="#111" stroke-width="0.25">October</text>
<text transform="translate(174.18,357.30) scale(0.908,1)" font-size="9.3" font-weight="normal" fill="#111" letter-spacing="0.8" stroke="#111" stroke-width="0.1">2014</text>
<text transform="translate(201.47,357.30) scale(0.944,1)" font-size="9.3" font-weight="normal" fill="#111" letter-spacing="0.8" stroke="#111" stroke-width="0.1">(starttijd</text>
<text transform="translate(245.72,357.30) scale(0.915,1)" font-size="9.3" font-weight="normal" fill="#111" letter-spacing="0.8" stroke="#111" stroke-width="0.25">Di</text>
<text transform="translate(258.10,357.30) scale(0.800,1)" font-size="9.3" font-weight="normal" fill="#111" letter-spacing="0.8" stroke="#111" stroke-width="0.25">00</text>
<text transform="translate(271.25,357.30) scale(0.935,1)" font-size="9.3" font-weight="normal" fill="#111" letter-spacing="0.8" stroke="#111" stroke-width="0.25">UTC)</text>
<line x1="26.3" y1="362.1" x2="341.2" y2="362.1" stroke="#3a3a3a" stroke-width="1"/>
<line x1="26.3" y1="493.0" x2="341.2" y2="493.0" stroke="#707070" stroke-width="1"/>
<line x1="30.5" y1="362.1" x2="30.5" y2="493.0" stroke="#111" stroke-width="1.3"/>
<line x1="337.0" y1="362.1" x2="337.0" y2="493.0" stroke="#3a3a3a" stroke-width="1.3"/>
<text transform="translate(17.58,495.80) scale(1.000,1)" font-size="8.0" font-weight="bold" fill="#111" >-5</text>
<text transform="translate(342.04,495.80) scale(1.000,1)" font-size="8.0" font-weight="normal" fill="#111" stroke="#111" stroke-width="0.2">-5</text>
<line x1="28.7" y1="482.09" x2="30.5" y2="482.09" stroke="#444" stroke-width="0.8"/>
<line x1="337.0" y1="482.09" x2="338.8" y2="482.09" stroke="#444" stroke-width="0.8"/>
<line x1="26.3" y1="471.18" x2="30.5" y2="471.18" stroke="#222" stroke-width="0.9"/>
<line x1="337.0" y1="471.18" x2="341.2" y2="471.18" stroke="#222" stroke-width="0.9"/>
<text transform="translate(20.38,473.98) scale(1.000,1)" font-size="8.0" font-weight="bold" fill="#111" >0</text>
<text transform="translate(342.08,473.98) scale(1.000,1)" font-size="8.0" font-weight="normal" fill="#111" stroke="#111" stroke-width="0.2">0</text>
<line x1="28.7" y1="460.27" x2="30.5" y2="460.27" stroke="#444" stroke-width="0.8"/>
<line x1="337.0" y1="460.27" x2="338.8" y2="460.27" stroke="#444" stroke-width="0.8"/>
<line x1="26.3" y1="449.37" x2="30.5" y2="449.37" stroke="#222" stroke-width="0.9"/>
<line x1="337.0" y1="449.37" x2="341.2" y2="449.37" stroke="#222" stroke-width="0.9"/>
<text transform="translate(20.26,452.17) scale(1.000,1)" font-size="8.0" font-weight="bold" fill="#111" >5</text>
<text transform="translate(342.08,452.17) scale(1.000,1)" font-size="8.0" font-weight="normal" fill="#111" stroke="#111" stroke-width="0.2">5</text>
<line x1="28.7" y1="438.46" x2="30.5" y2="438.46" stroke="#444" stroke-width="0.8"/>
<line x1="337.0" y1="438.46" x2="338.8" y2="438.46" stroke="#444" stroke-width="0.8"/>
<line x1="26.3" y1="427.55" x2="30.5" y2="427.55" stroke="#222" stroke-width="0.9"/>
<line x1="337.0" y1="427.55" x2="341.2" y2="427.55" stroke="#222" stroke-width="0.9"/>
<text transform="translate(15.94,430.35) scale(1.000,1)" font-size="8.0" font-weight="bold" fill="#111" >10</text>
<text transform="translate(341.80,430.35) scale(1.000,1)" font-size="8.0" font-weight="normal" fill="#111" stroke="#111" stroke-width="0.2">10</text>
<line x1="28.7" y1="416.64" x2="30.5" y2="416.64" stroke="#444" stroke-width="0.8"/>
<line x1="337.0" y1="416.64" x2="338.8" y2="416.64" stroke="#444" stroke-width="0.8"/>
<line x1="26.3" y1="405.73" x2="30.5" y2="405.73" stroke="#222" stroke-width="0.9"/>
<line x1="337.0" y1="405.73" x2="341.2" y2="405.73" stroke="#222" stroke-width="0.9"/>
<text transform="translate(15.82,408.53) scale(1.000,1)" font-size="8.0" font-weight="bold" fill="#111" >15</text>
<text transform="translate(341.80,408.53) scale(1.000,1)" font-size="8.0" font-weight="normal" fill="#111" stroke="#111" stroke-width="0.2">15</text>
<line x1="28.7" y1="394.83" x2="30.5" y2="394.83" stroke="#444" stroke-width="0.8"/>
<line x1="337.0" y1="394.83" x2="338.8" y2="394.83" stroke="#444" stroke-width="0.8"/>
<line x1="26.3" y1="383.92" x2="30.5" y2="383.92" stroke="#222" stroke-width="0.9"/>
<line x1="337.0" y1="383.92" x2="341.2" y2="383.92" stroke="#222" stroke-width="0.9"/>
<text transform="translate(15.94,386.72) scale(1.000,1)" font-size="8.0" font-weight="bold" fill="#111" >20</text>
<text transform="translate(342.00,386.72) scale(1.000,1)" font-size="8.0" font-weight="normal" fill="#111" stroke="#111" stroke-width="0.2">20</text>
<line x1="28.7" y1="373.01" x2="30.5" y2="373.01" stroke="#444" stroke-width="0.8"/>
<line x1="337.0" y1="373.01" x2="338.8" y2="373.01" stroke="#444" stroke-width="0.8"/>
<text transform="translate(15.82,364.90) scale(1.000,1)" font-size="8.0" font-weight="bold" fill="#111" >25</text>
<text transform="translate(342.00,364.90) scale(1.000,1)" font-size="8.0" font-weight="normal" fill="#111" stroke="#111" stroke-width="0.2">25</text>
<line x1="35.61" y1="493.0" x2="35.61" y2="496.0" stroke="#999" stroke-width="0.9"/>
<line x1="40.72" y1="493.0" x2="40.72" y2="496.0" stroke="#999" stroke-width="0.9"/>
<line x1="45.83" y1="493.0" x2="45.83" y2="496.0" stroke="#999" stroke-width="0.9"/>
<line x1="56.04" y1="493.0" x2="56.04" y2="496.0" stroke="#999" stroke-width="0.9"/>
<line x1="61.15" y1="493.0" x2="61.15" y2="496.0" stroke="#999" stroke-width="0.9"/>
<line x1="66.26" y1="493.0" x2="66.26" y2="496.0" stroke="#999" stroke-width="0.9"/>
<line x1="76.47" y1="493.0" x2="76.47" y2="496.0" stroke="#999" stroke-width="0.9"/>
<line x1="81.58" y1="493.0" x2="81.58" y2="496.0" stroke="#999" stroke-width="0.9"/>
<line x1="86.69" y1="493.0" x2="86.69" y2="496.0" stroke="#999" stroke-width="0.9"/>
<line x1="96.91" y1="493.0" x2="96.91" y2="496.0" stroke="#999" stroke-width="0.9"/>
<line x1="102.02" y1="493.0" x2="102.02" y2="496.0" stroke="#999" stroke-width="0.9"/>
<line x1="107.12" y1="493.0" x2="107.12" y2="496.0" stroke="#999" stroke-width="0.9"/>
<line x1="117.34" y1="493.0" x2="117.34" y2="496.0" stroke="#999" stroke-width="0.9"/>
<line x1="122.45" y1="493.0" x2="122.45" y2="496.0" stroke="#999" stroke-width="0.9"/>
<line x1="127.56" y1="493.0" x2="127.56" y2="496.0" stroke="#999" stroke-width="0.9"/>
<line x1="137.77" y1="493.0" x2="137.77" y2="496.0" stroke="#999" stroke-width="0.9"/>
<line x1="142.88" y1="493.0" x2="142.88" y2="496.0" stroke="#999" stroke-width="0.9"/>
<line x1="147.99" y1="493.0" x2="147.99" y2="496.0" stroke="#999" stroke-width="0.9"/>
<line x1="158.21" y1="493.0" x2="158.21" y2="496.0" stroke="#999" stroke-width="0.9"/>
<line x1="163.32" y1="493.0" x2="163.32" y2="496.0" stroke="#999" stroke-width="0.9"/>
<line x1="168.43" y1="493.0" x2="168.43" y2="496.0" stroke="#999" stroke-width="0.9"/>
<line x1="178.64" y1="493.0" x2="178.64" y2="496.0" stroke="#999" stroke-width="0.9"/>
<line x1="183.75" y1="493.0" x2="183.75" y2="496.0" stroke="#999" stroke-width="0.9"/>
<line x1="188.86" y1="493.0" x2="188.86" y2="496.0" stroke="#999" stroke-width="0.9"/>
<line x1="199.08" y1="493.0" x2="199.08" y2="496.0" stroke="#999" stroke-width="0.9"/>
<line x1="204.18" y1="493.0" x2="204.18" y2="496.0" stroke="#999" stroke-width="0.9"/>
<line x1="209.29" y1="493.0" x2="209.29" y2="496.0" stroke="#999" stroke-width="0.9"/>
<line x1="219.51" y1="493.0" x2="219.51" y2="496.0" stroke="#999" stroke-width="0.9"/>
<line x1="224.62" y1="493.0" x2="224.62" y2="496.0" stroke="#999" stroke-width="0.9"/>
<line x1="229.72" y1="493.0" x2="229.72" y2="496.0" stroke="#999" stroke-width="0.9"/>
<line x1="239.94" y1="493.0" x2="239.94" y2="496.0" stroke="#999" stroke-width="0.9"/>
<line x1="245.05" y1="493.0" x2="245.05" y2="496.0" stroke="#999" stroke-width="0.9"/>
<line x1="250.16" y1="493.0" x2="250.16" y2="496.0" stroke="#999" stroke-width="0.9"/>
<line x1="260.38" y1="493.0" x2="260.38" y2="496.0" stroke="#999" stroke-width="0.9"/>
<line x1="265.48" y1="493.0" x2="265.48" y2="496.0" stroke="#999" stroke-width="0.9"/>
<line x1="270.59" y1="493.0" x2="270.59" y2="496.0" stroke="#999" stroke-width="0.9"/>
<line x1="280.81" y1="493.0" x2="280.81" y2="496.0" stroke="#999" stroke-width="0.9"/>
<line x1="285.92" y1="493.0" x2="285.92" y2="496.0" stroke="#999" stroke-width="0.9"/>
<line x1="291.02" y1="493.0" x2="291.02" y2="496.0" stroke="#999" stroke-width="0.9"/>
<line x1="301.24" y1="493.0" x2="301.24" y2="496.0" stroke="#999" stroke-width="0.9"/>
<line x1="306.35" y1="493.0" x2="306.35" y2="496.0" stroke="#999" stroke-width="0.9"/>
<line x1="311.46" y1="493.0" x2="311.46" y2="496.0" stroke="#999" stroke-width="0.9"/>
<line x1="321.68" y1="493.0" x2="321.68" y2="496.0" stroke="#999" stroke-width="0.9"/>
<line x1="326.78" y1="493.0" x2="326.78" y2="496.0" stroke="#999" stroke-width="0.9"/>
<line x1="331.89" y1="493.0" x2="331.89" y2="496.0" stroke="#999" stroke-width="0.9"/>
<g transform="translate(30.00,498.00) scale(1.25,0.75)"><text font-size="4.6" font-weight="bold" text-anchor="middle" fill="#111" letter-spacing="-0.5">00</text></g>
<g transform="translate(50.43,498.00) scale(1.25,0.75)"><text font-size="4.6" font-weight="bold" text-anchor="middle" fill="#111" letter-spacing="-0.5">00</text></g>
<g transform="translate(70.87,498.00) scale(1.25,0.75)"><text font-size="4.6" font-weight="bold" text-anchor="middle" fill="#111" letter-spacing="-0.5">00</text></g>
<g transform="translate(91.30,498.00) scale(1.25,0.75)"><text font-size="4.6" font-weight="bold" text-anchor="middle" fill="#111" letter-spacing="-0.5">00</text></g>
<g transform="translate(111.73,498.00) scale(1.25,0.75)"><text font-size="4.6" font-weight="bold" text-anchor="middle" fill="#111" letter-spacing="-0.5">00</text></g>
<g transform="translate(132.17,498.00) scale(1.25,0.75)"><text font-size="4.6" font-weight="bold" text-anchor="middle" fill="#111" letter-spacing="-0.5">00</text></g>
<g transform="translate(152.60,498.00) scale(1.25,0.75)"><text font-size="4.6" font-weight="bold" text-anchor="middle" fill="#111" letter-spacing="-0.5">00</text></g>
<g transform="translate(173.03,498.00) scale(1.25,0.75)"><text font-size="4.6" font-weight="bold" text-anchor="middle" fill="#111" letter-spacing="-0.5">00</text></g>
<g transform="translate(193.47,498.00) scale(1.25,0.75)"><text font-size="4.6" font-weight="bold" text-anchor="middle" fill="#111" letter-spacing="-0.5">00</text></g>
<g transform="translate(213.90,498.00) scale(1.25,0.75)"><text font-size="4.6" font-weight="bold" text-anchor="middle" fill="#111" letter-spacing="-0.5">00</text></g>
<g transform="translate(234.33,498.00) scale(1.25,0.75)"><text font-size="4.6" font-weight="bold" text-anchor="middle" fill="#111" letter-spacing="-0.5">00</text></g>
<g transform="translate(254.77,498.00) scale(1.25,0.75)"><text font-size="4.6" font-weight="bold" text-anchor="middle" fill="#111" letter-spacing="-0.5">00</text></g>
<g transform="translate(275.20,498.00) scale(1.25,0.75)"><text font-size="4.6" font-weight="bold" text-anchor="middle" fill="#111" letter-spacing="-0.5">00</text></g>
<g transform="translate(295.63,498.00) scale(1.25,0.75)"><text font-size="4.6" font-weight="bold" text-anchor="middle" fill="#111" letter-spacing="-0.5">00</text></g>
<g transform="translate(316.07,498.00) scale(1.25,0.75)"><text font-size="4.6" font-weight="bold" text-anchor="middle" fill="#111" letter-spacing="-0.5">00</text></g>
<g transform="translate(336.50,498.00) scale(1.25,0.75)"><text font-size="4.6" font-weight="bold" text-anchor="middle" fill="#111" letter-spacing="-0.5">00</text></g>
<text transform="translate(37.44,502.80) scale(0.950,1)" font-size="7.6" font-weight="bold" fill="#111" >Di</text>
<text transform="translate(56.05,502.80) scale(0.950,1)" font-size="7.6" font-weight="bold" fill="#111" >Wo</text>
<text transform="translate(76.99,502.80) scale(0.950,1)" font-size="7.6" font-weight="bold" fill="#111" >Do</text>
<text transform="translate(98.72,502.80) scale(0.950,1)" font-size="7.6" font-weight="bold" fill="#111" >Vr</text>
<text transform="translate(118.42,502.80) scale(0.950,1)" font-size="7.6" font-weight="bold" fill="#111" >Za</text>
<text transform="translate(138.82,502.80) scale(0.950,1)" font-size="7.6" font-weight="bold" fill="#111" >Zo</text>
<text transform="translate(158.35,502.80) scale(0.950,1)" font-size="7.6" font-weight="bold" fill="#111" >Ma</text>
<text transform="translate(180.48,502.80) scale(0.950,1)" font-size="7.6" font-weight="bold" fill="#111" >Di</text>
<text transform="translate(199.09,502.80) scale(0.950,1)" font-size="7.6" font-weight="bold" fill="#111" >Wo</text>
<text transform="translate(220.03,502.80) scale(0.950,1)" font-size="7.6" font-weight="bold" fill="#111" >Do</text>
<text transform="translate(241.76,502.80) scale(0.950,1)" font-size="7.6" font-weight="bold" fill="#111" >Vr</text>
<text transform="translate(261.45,502.80) scale(0.950,1)" font-size="7.6" font-weight="bold" fill="#111" >Za</text>
<text transform="translate(281.85,502.80) scale(0.950,1)" font-size="7.6" font-weight="bold" fill="#111" >Zo</text>
<text transform="translate(301.38,502.80) scale(0.950,1)" font-size="7.6" font-weight="bold" fill="#111" >Ma</text>
<text transform="translate(323.51,502.80) scale(0.950,1)" font-size="7.6" font-weight="bold" fill="#111" >Di</text>
<text transform="translate(173.98,513.00) scale(1.149,1)" font-size="9.0" font-weight="bold" fill="#111" >Dag</text>
<text transform="translate(291.87,512.80) scale(1.092,1)" font-size="6.0" font-weight="bold" fill="#1e1eff" >Bron: ECMWF/KNMI</text>
<text transform="translate(15.00,445.62) rotate(-90)" font-size="10.4" font-weight="bold" fill="#111">Celsius</text>
<text transform="translate(286.86,371.10) scale(0.972,1)" font-size="8.2" font-weight="normal" fill="#111" letter-spacing="0.6" stroke="#111" stroke-width="0.2">De Bilt</text>
<text transform="translate(291.58,381.50) scale(1.082,1)" font-size="8.2" font-weight="normal" fill="#111" letter-spacing="0.6" stroke="#111" stroke-width="0.2">T2m</text>
<line x1="33.1" y1="369.3" x2="53.5" y2="369.3" stroke="#5a6aff" stroke-width="1.5" stroke-dasharray="3.4,2"/>
<line x1="33.1" y1="375.0" x2="53.5" y2="375.0" stroke="#ff2020" stroke-width="1.3"/>
<line x1="33.1" y1="381.90000000000003" x2="53.5" y2="381.90000000000003" stroke="#7a2a1a" stroke-width="1.7" stroke-dasharray="1.7,2"/>
<text transform="translate(62.89,372.20) scale(1.048,1)" font-size="6.0" font-weight="normal" fill="#111" letter-spacing="0.6" stroke="#111" stroke-width="0.15">Control</text>
<text transform="translate(67.84,377.70) scale(0.962,1)" font-size="6.0" font-weight="normal" fill="#111" letter-spacing="0.6" stroke="#111" stroke-width="0.15">Oper</text>
<text transform="translate(62.70,384.60) scale(1.037,1)" font-size="6.0" font-weight="normal" fill="#111" letter-spacing="0.6" stroke="#111" stroke-width="0.15">Ens mn</text>
<text transform="translate(434.38,357.20) scale(0.971,1)" font-size="9.3" font-weight="normal" fill="#111" letter-spacing="0.8" stroke="#111" stroke-width="0.25">Dinsdag</text>
<text transform="translate(480.45,357.20) scale(0.962,1)" font-size="9.3" font-weight="normal" fill="#111" letter-spacing="0.8" stroke="#111" stroke-width="0.1">28</text>
<text transform="translate(494.09,357.20) scale(0.970,1)" font-size="9.3" font-weight="normal" fill="#111" letter-spacing="0.8" stroke="#111" stroke-width="0.25">October</text>
<text transform="translate(540.18,357.20) scale(0.908,1)" font-size="9.3" font-weight="normal" fill="#111" letter-spacing="0.8" stroke="#111" stroke-width="0.1">2014</text>
<text transform="translate(567.47,357.20) scale(0.944,1)" font-size="9.3" font-weight="normal" fill="#111" letter-spacing="0.8" stroke="#111" stroke-width="0.1">(starttijd</text>
<text transform="translate(611.72,357.20) scale(0.915,1)" font-size="9.3" font-weight="normal" fill="#111" letter-spacing="0.8" stroke="#111" stroke-width="0.25">Di</text>
<text transform="translate(624.10,357.20) scale(0.800,1)" font-size="9.3" font-weight="normal" fill="#111" letter-spacing="0.8" stroke="#111" stroke-width="0.25">00</text>
<text transform="translate(637.25,357.20) scale(0.935,1)" font-size="9.3" font-weight="normal" fill="#111" letter-spacing="0.8" stroke="#111" stroke-width="0.25">UTC)</text>
<line x1="391.2" y1="362.0" x2="706.4000000000001" y2="362.0" stroke="#3a3a3a" stroke-width="1"/>
<line x1="391.2" y1="493.4" x2="706.4000000000001" y2="493.4" stroke="#707070" stroke-width="1"/>
<line x1="395.4" y1="362.0" x2="395.4" y2="493.4" stroke="#111" stroke-width="1.3"/>
<line x1="702.2" y1="362.0" x2="702.2" y2="493.4" stroke="#3a3a3a" stroke-width="1.3"/>
<text transform="translate(385.28,496.20) scale(1.000,1)" font-size="8.0" font-weight="bold" fill="#111" >0</text>
<text transform="translate(707.28,496.20) scale(1.000,1)" font-size="8.0" font-weight="normal" fill="#111" stroke="#111" stroke-width="0.2">0</text>
<line x1="393.59999999999997" y1="480.26" x2="395.4" y2="480.26" stroke="#444" stroke-width="0.8"/>
<line x1="702.2" y1="480.26" x2="704.0" y2="480.26" stroke="#444" stroke-width="0.8"/>
<line x1="391.2" y1="467.12" x2="395.4" y2="467.12" stroke="#222" stroke-width="0.9"/>
<line x1="702.2" y1="467.12" x2="706.4000000000001" y2="467.12" stroke="#222" stroke-width="0.9"/>
<text transform="translate(385.16,469.92) scale(1.000,1)" font-size="8.0" font-weight="bold" fill="#111" >1</text>
<text transform="translate(707.00,469.92) scale(1.000,1)" font-size="8.0" font-weight="normal" fill="#111" stroke="#111" stroke-width="0.2">1</text>
<line x1="393.59999999999997" y1="453.98" x2="395.4" y2="453.98" stroke="#444" stroke-width="0.8"/>
<line x1="702.2" y1="453.98" x2="704.0" y2="453.98" stroke="#444" stroke-width="0.8"/>
<line x1="391.2" y1="440.84" x2="395.4" y2="440.84" stroke="#222" stroke-width="0.9"/>
<line x1="702.2" y1="440.84" x2="706.4000000000001" y2="440.84" stroke="#222" stroke-width="0.9"/>
<text transform="translate(385.28,443.64) scale(1.000,1)" font-size="8.0" font-weight="bold" fill="#111" >2</text>
<text transform="translate(707.20,443.64) scale(1.000,1)" font-size="8.0" font-weight="normal" fill="#111" stroke="#111" stroke-width="0.2">2</text>
<line x1="393.59999999999997" y1="427.70" x2="395.4" y2="427.70" stroke="#444" stroke-width="0.8"/>
<line x1="702.2" y1="427.70" x2="704.0" y2="427.70" stroke="#444" stroke-width="0.8"/>
<line x1="391.2" y1="414.56" x2="395.4" y2="414.56" stroke="#222" stroke-width="0.9"/>
<line x1="702.2" y1="414.56" x2="706.4000000000001" y2="414.56" stroke="#222" stroke-width="0.9"/>
<text transform="translate(385.24,417.36) scale(1.000,1)" font-size="8.0" font-weight="bold" fill="#111" >3</text>
<text transform="translate(707.28,417.36) scale(1.000,1)" font-size="8.0" font-weight="normal" fill="#111" stroke="#111" stroke-width="0.2">3</text>
<line x1="393.59999999999997" y1="401.42" x2="395.4" y2="401.42" stroke="#444" stroke-width="0.8"/>
<line x1="702.2" y1="401.42" x2="704.0" y2="401.42" stroke="#444" stroke-width="0.8"/>
<line x1="391.2" y1="388.28" x2="395.4" y2="388.28" stroke="#222" stroke-width="0.9"/>
<line x1="702.2" y1="388.28" x2="706.4000000000001" y2="388.28" stroke="#222" stroke-width="0.9"/>
<text transform="translate(385.00,391.08) scale(1.000,1)" font-size="8.0" font-weight="bold" fill="#111" >4</text>
<text transform="translate(707.40,391.08) scale(1.000,1)" font-size="8.0" font-weight="normal" fill="#111" stroke="#111" stroke-width="0.2">4</text>
<line x1="393.59999999999997" y1="375.14" x2="395.4" y2="375.14" stroke="#444" stroke-width="0.8"/>
<line x1="702.2" y1="375.14" x2="704.0" y2="375.14" stroke="#444" stroke-width="0.8"/>
<text transform="translate(385.16,364.80) scale(1.000,1)" font-size="8.0" font-weight="bold" fill="#111" >5</text>
<text transform="translate(707.28,364.80) scale(1.000,1)" font-size="8.0" font-weight="normal" fill="#111" stroke="#111" stroke-width="0.2">5</text>
<line x1="400.51" y1="493.4" x2="400.51" y2="496.4" stroke="#999" stroke-width="0.9"/>
<line x1="405.63" y1="493.4" x2="405.63" y2="496.4" stroke="#999" stroke-width="0.9"/>
<line x1="410.74" y1="493.4" x2="410.74" y2="496.4" stroke="#999" stroke-width="0.9"/>
<line x1="420.97" y1="493.4" x2="420.97" y2="496.4" stroke="#999" stroke-width="0.9"/>
<line x1="426.08" y1="493.4" x2="426.08" y2="496.4" stroke="#999" stroke-width="0.9"/>
<line x1="431.19" y1="493.4" x2="431.19" y2="496.4" stroke="#999" stroke-width="0.9"/>
<line x1="441.42" y1="493.4" x2="441.42" y2="496.4" stroke="#999" stroke-width="0.9"/>
<line x1="446.53" y1="493.4" x2="446.53" y2="496.4" stroke="#999" stroke-width="0.9"/>
<line x1="451.65" y1="493.4" x2="451.65" y2="496.4" stroke="#999" stroke-width="0.9"/>
<line x1="461.87" y1="493.4" x2="461.87" y2="496.4" stroke="#999" stroke-width="0.9"/>
<line x1="466.99" y1="493.4" x2="466.99" y2="496.4" stroke="#999" stroke-width="0.9"/>
<line x1="472.10" y1="493.4" x2="472.10" y2="496.4" stroke="#999" stroke-width="0.9"/>
<line x1="482.33" y1="493.4" x2="482.33" y2="496.4" stroke="#999" stroke-width="0.9"/>
<line x1="487.44" y1="493.4" x2="487.44" y2="496.4" stroke="#999" stroke-width="0.9"/>
<line x1="492.55" y1="493.4" x2="492.55" y2="496.4" stroke="#999" stroke-width="0.9"/>
<line x1="502.78" y1="493.4" x2="502.78" y2="496.4" stroke="#999" stroke-width="0.9"/>
<line x1="507.89" y1="493.4" x2="507.89" y2="496.4" stroke="#999" stroke-width="0.9"/>
<line x1="513.01" y1="493.4" x2="513.01" y2="496.4" stroke="#999" stroke-width="0.9"/>
<line x1="523.23" y1="493.4" x2="523.23" y2="496.4" stroke="#999" stroke-width="0.9"/>
<line x1="528.35" y1="493.4" x2="528.35" y2="496.4" stroke="#999" stroke-width="0.9"/>
<line x1="533.46" y1="493.4" x2="533.46" y2="496.4" stroke="#999" stroke-width="0.9"/>
<line x1="543.69" y1="493.4" x2="543.69" y2="496.4" stroke="#999" stroke-width="0.9"/>
<line x1="548.80" y1="493.4" x2="548.80" y2="496.4" stroke="#999" stroke-width="0.9"/>
<line x1="553.91" y1="493.4" x2="553.91" y2="496.4" stroke="#999" stroke-width="0.9"/>
<line x1="564.14" y1="493.4" x2="564.14" y2="496.4" stroke="#999" stroke-width="0.9"/>
<line x1="569.25" y1="493.4" x2="569.25" y2="496.4" stroke="#999" stroke-width="0.9"/>
<line x1="574.37" y1="493.4" x2="574.37" y2="496.4" stroke="#999" stroke-width="0.9"/>
<line x1="584.59" y1="493.4" x2="584.59" y2="496.4" stroke="#999" stroke-width="0.9"/>
<line x1="589.71" y1="493.4" x2="589.71" y2="496.4" stroke="#999" stroke-width="0.9"/>
<line x1="594.82" y1="493.4" x2="594.82" y2="496.4" stroke="#999" stroke-width="0.9"/>
<line x1="605.05" y1="493.4" x2="605.05" y2="496.4" stroke="#999" stroke-width="0.9"/>
<line x1="610.16" y1="493.4" x2="610.16" y2="496.4" stroke="#999" stroke-width="0.9"/>
<line x1="615.27" y1="493.4" x2="615.27" y2="496.4" stroke="#999" stroke-width="0.9"/>
<line x1="625.50" y1="493.4" x2="625.50" y2="496.4" stroke="#999" stroke-width="0.9"/>
<line x1="630.61" y1="493.4" x2="630.61" y2="496.4" stroke="#999" stroke-width="0.9"/>
<line x1="635.73" y1="493.4" x2="635.73" y2="496.4" stroke="#999" stroke-width="0.9"/>
<line x1="645.95" y1="493.4" x2="645.95" y2="496.4" stroke="#999" stroke-width="0.9"/>
<line x1="651.07" y1="493.4" x2="651.07" y2="496.4" stroke="#999" stroke-width="0.9"/>
<line x1="656.18" y1="493.4" x2="656.18" y2="496.4" stroke="#999" stroke-width="0.9"/>
<line x1="666.41" y1="493.4" x2="666.41" y2="496.4" stroke="#999" stroke-width="0.9"/>
<line x1="671.52" y1="493.4" x2="671.52" y2="496.4" stroke="#999" stroke-width="0.9"/>
<line x1="676.63" y1="493.4" x2="676.63" y2="496.4" stroke="#999" stroke-width="0.9"/>
<line x1="686.86" y1="493.4" x2="686.86" y2="496.4" stroke="#999" stroke-width="0.9"/>
<line x1="691.97" y1="493.4" x2="691.97" y2="496.4" stroke="#999" stroke-width="0.9"/>
<line x1="697.09" y1="493.4" x2="697.09" y2="496.4" stroke="#999" stroke-width="0.9"/>
<g transform="translate(394.90,498.40) scale(1.25,0.75)"><text font-size="4.6" font-weight="bold" text-anchor="middle" fill="#111" letter-spacing="-0.5">00</text></g>
<g transform="translate(415.35,498.40) scale(1.25,0.75)"><text font-size="4.6" font-weight="bold" text-anchor="middle" fill="#111" letter-spacing="-0.5">00</text></g>
<g transform="translate(435.81,498.40) scale(1.25,0.75)"><text font-size="4.6" font-weight="bold" text-anchor="middle" fill="#111" letter-spacing="-0.5">00</text></g>
<g transform="translate(456.26,498.40) scale(1.25,0.75)"><text font-size="4.6" font-weight="bold" text-anchor="middle" fill="#111" letter-spacing="-0.5">00</text></g>
<g transform="translate(476.71,498.40) scale(1.25,0.75)"><text font-size="4.6" font-weight="bold" text-anchor="middle" fill="#111" letter-spacing="-0.5">00</text></g>
<g transform="translate(497.17,498.40) scale(1.25,0.75)"><text font-size="4.6" font-weight="bold" text-anchor="middle" fill="#111" letter-spacing="-0.5">00</text></g>
<g transform="translate(517.62,498.40) scale(1.25,0.75)"><text font-size="4.6" font-weight="bold" text-anchor="middle" fill="#111" letter-spacing="-0.5">00</text></g>
<g transform="translate(538.07,498.40) scale(1.25,0.75)"><text font-size="4.6" font-weight="bold" text-anchor="middle" fill="#111" letter-spacing="-0.5">00</text></g>
<g transform="translate(558.53,498.40) scale(1.25,0.75)"><text font-size="4.6" font-weight="bold" text-anchor="middle" fill="#111" letter-spacing="-0.5">00</text></g>
<g transform="translate(578.98,498.40) scale(1.25,0.75)"><text font-size="4.6" font-weight="bold" text-anchor="middle" fill="#111" letter-spacing="-0.5">00</text></g>
<g transform="translate(599.43,498.40) scale(1.25,0.75)"><text font-size="4.6" font-weight="bold" text-anchor="middle" fill="#111" letter-spacing="-0.5">00</text></g>
<g transform="translate(619.89,498.40) scale(1.25,0.75)"><text font-size="4.6" font-weight="bold" text-anchor="middle" fill="#111" letter-spacing="-0.5">00</text></g>
<g transform="translate(640.34,498.40) scale(1.25,0.75)"><text font-size="4.6" font-weight="bold" text-anchor="middle" fill="#111" letter-spacing="-0.5">00</text></g>
<g transform="translate(660.79,498.40) scale(1.25,0.75)"><text font-size="4.6" font-weight="bold" text-anchor="middle" fill="#111" letter-spacing="-0.5">00</text></g>
<g transform="translate(681.25,498.40) scale(1.25,0.75)"><text font-size="4.6" font-weight="bold" text-anchor="middle" fill="#111" letter-spacing="-0.5">00</text></g>
<g transform="translate(701.70,498.40) scale(1.25,0.75)"><text font-size="4.6" font-weight="bold" text-anchor="middle" fill="#111" letter-spacing="-0.5">00</text></g>
<text transform="translate(402.35,503.20) scale(0.950,1)" font-size="7.6" font-weight="bold" fill="#111" >Di</text>
<text transform="translate(420.98,503.20) scale(0.950,1)" font-size="7.6" font-weight="bold" fill="#111" >Wo</text>
<text transform="translate(441.94,503.20) scale(0.950,1)" font-size="7.6" font-weight="bold" fill="#111" >Do</text>
<text transform="translate(463.69,503.20) scale(0.950,1)" font-size="7.6" font-weight="bold" fill="#111" >Vr</text>
<text transform="translate(483.41,503.20) scale(0.950,1)" font-size="7.6" font-weight="bold" fill="#111" >Za</text>
<text transform="translate(503.83,503.20) scale(0.950,1)" font-size="7.6" font-weight="bold" fill="#111" >Zo</text>
<text transform="translate(523.38,503.20) scale(0.950,1)" font-size="7.6" font-weight="bold" fill="#111" >Ma</text>
<text transform="translate(545.53,503.20) scale(0.950,1)" font-size="7.6" font-weight="bold" fill="#111" >Di</text>
<text transform="translate(564.16,503.20) scale(0.950,1)" font-size="7.6" font-weight="bold" fill="#111" >Wo</text>
<text transform="translate(585.12,503.20) scale(0.950,1)" font-size="7.6" font-weight="bold" fill="#111" >Do</text>
<text transform="translate(606.87,503.20) scale(0.950,1)" font-size="7.6" font-weight="bold" fill="#111" >Vr</text>
<text transform="translate(626.58,503.20) scale(0.950,1)" font-size="7.6" font-weight="bold" fill="#111" >Za</text>
<text transform="translate(647.00,503.20) scale(0.950,1)" font-size="7.6" font-weight="bold" fill="#111" >Zo</text>
<text transform="translate(666.55,503.20) scale(0.950,1)" font-size="7.6" font-weight="bold" fill="#111" >Ma</text>
<text transform="translate(688.70,503.20) scale(0.950,1)" font-size="7.6" font-weight="bold" fill="#111" >Di</text>
<text transform="translate(539.03,513.40) scale(1.149,1)" font-size="9.0" font-weight="bold" fill="#111" >Dag</text>
<text transform="translate(657.07,513.20) scale(1.092,1)" font-size="6.0" font-weight="bold" fill="#1e1eff" >Bron: ECMWF/KNMI</text>
<text transform="translate(381.00,434.67) rotate(-90)" font-size="10.4" font-weight="bold" fill="#111">cm</text>
<text transform="translate(652.06,371.00) scale(0.972,1)" font-size="8.2" font-weight="normal" fill="#111" letter-spacing="0.6" stroke="#111" stroke-width="0.2">De Bilt</text>
<text transform="translate(631.22,381.40) scale(1.017,1)" font-size="8.2" font-weight="normal" fill="#111" letter-spacing="0.6" stroke="#111" stroke-width="0.2">Sneeuwval/6 uur</text>
<line x1="398.0" y1="369.2" x2="418.4" y2="369.2" stroke="#5a6aff" stroke-width="1.5" stroke-dasharray="3.4,2"/>
<line x1="398.0" y1="374.9" x2="418.4" y2="374.9" stroke="#ff2020" stroke-width="1.3"/>
<line x1="398.0" y1="381.8" x2="418.4" y2="381.8" stroke="#7a2a1a" stroke-width="1.7" stroke-dasharray="1.7,2"/>
<text transform="translate(427.79,372.10) scale(1.048,1)" font-size="6.0" font-weight="normal" fill="#111" letter-spacing="0.6" stroke="#111" stroke-width="0.15">Control</text>
<text transform="translate(432.74,377.60) scale(0.962,1)" font-size="6.0" font-weight="normal" fill="#111" letter-spacing="0.6" stroke="#111" stroke-width="0.15">Oper</text>
<text transform="translate(427.60,384.50) scale(1.037,1)" font-size="6.0" font-weight="normal" fill="#111" letter-spacing="0.6" stroke="#111" stroke-width="0.15">Ens mn</text>
<rect x="0" y="0" width="732" height="1" fill="#7070ff"/>
<rect x="731" y="0" width="1" height="521" fill="#7070ff"/>
<rect x="0" y="0" width="2" height="521" fill="#b8b8ff"/>
<rect x="0" y="519" width="732" height="2" fill="#b8b8ff"/>
<rect x="366" y="0" width="1" height="521" fill="#3a3aff"/>
<rect x="0" y="173" width="732" height="1" fill="#3a3aff"/>
<rect x="0" y="346" width="732" height="1" fill="#3a3aff"/>
</svg>
</body></html>
